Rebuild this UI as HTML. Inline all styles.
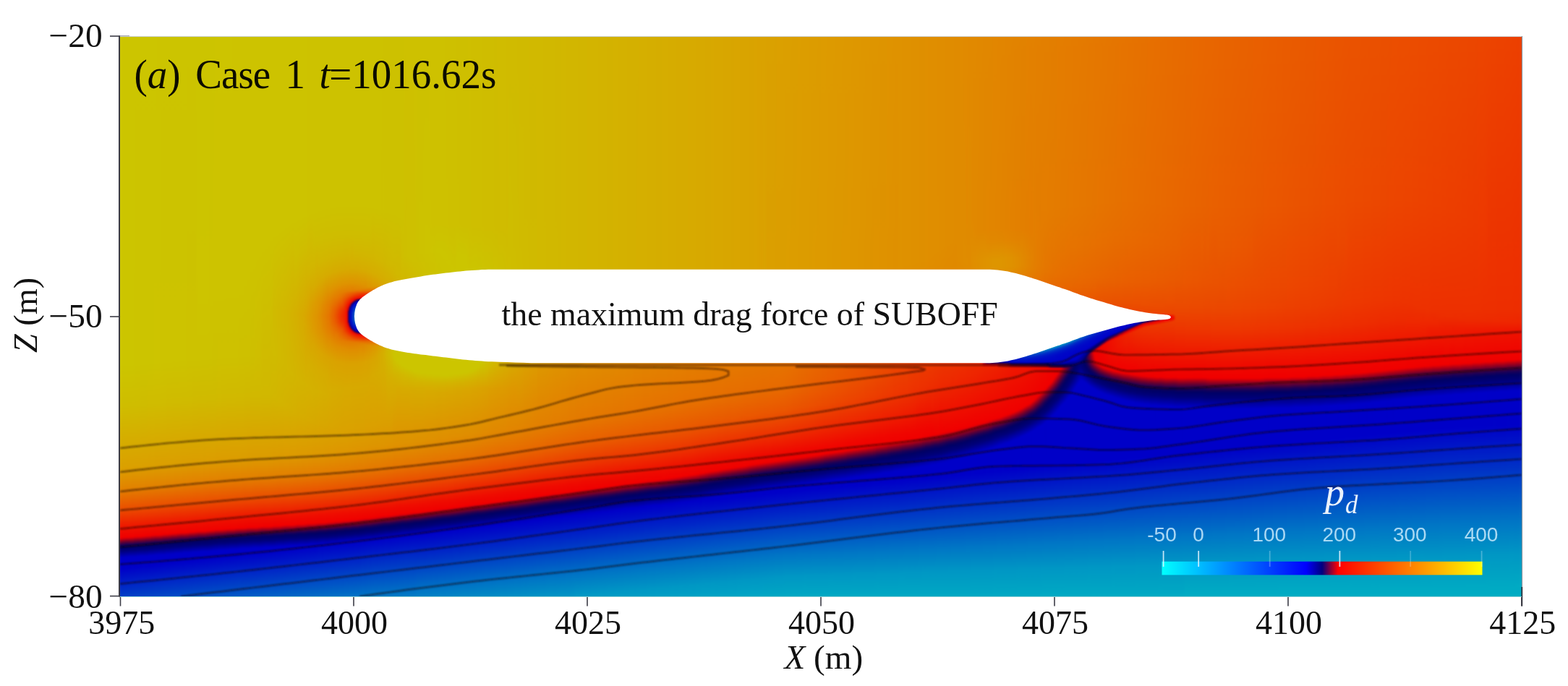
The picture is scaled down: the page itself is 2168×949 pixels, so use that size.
<!DOCTYPE html>
<html lang="en"><head><meta charset="utf-8"><title>Figure (a) Case 1 t=1016.62s</title>
<style>
html,body{margin:0;padding:0;background:#fff}
body{width:2168px;height:949px;position:relative;overflow:hidden;font-family:"Liberation Serif",serif}
#f{position:absolute;left:161px;top:46px;width:1948px;height:784px;display:flex;overflow:hidden;filter:blur(1.1px)}
#f i{display:block;height:100%;flex:none;width:4px}
#f i.a{width:2px}#f i.b{width:1px}
#o{position:absolute;left:0;top:0}
text{font-family:"Liberation Serif",serif}
.s{font-family:"Liberation Sans",sans-serif}
</style></head><body>
<div id="f"><i style="background:linear-gradient(#ccc500,#ccc500 459.5px,#cfbd00 516.5px,#daa000 600.5px,#e28300 629.5px,#eb4f00 658.5px,#ef0e00 687.5px,#f00100 697.5px,#ed0001 698.5px,#790029 703.5px,#29004f 707.5px,#180058 708.5px,#000065 711.5px,#00007b 716.5px,#0000c6 725.5px,#0000c8 726.5px,#0001c8 741.5px,#0045c6)"></i><i style="background:linear-gradient(#ccc500,#ccc500 458.5px,#cfbd00 515.5px,#dba000 600.5px,#e28300 629.5px,#ea5000 657.5px,#ef0f00 686.5px,#f00100 697.5px,#ea0002 698.5px,#78002a 703.5px,#290050 707.5px,#180058 708.5px,#060061 710.5px,#006 711.5px,#00007d 716.5px,#0000c8 725.5px,#0001c8 741.5px,#0045c6)"></i><i style="background:linear-gradient(#ccc500,#ccc500 458.5px,#cfbd00 515.5px,#dba000 600.5px,#e28400 628.5px,#eb4f00 657.5px,#ef0e00 686.5px,#f00000 697.5px,#de0006 698.5px,#6d002d 703.5px,#220053 707.5px,#150059 708.5px,#040062 710.5px,#006 711.5px,#00007d 716.5px,#0000c8 725.5px,#0000c8 740.5px,#0046c6)"></i><i style="background:linear-gradient(#ccc500,#ccc500 458.5px,#cfbd00 515.5px,#dba000 599.5px,#e28300 628.5px,#eb4f00 657.5px,#ef0e00 686.5px,#f00100 696.5px,#ed0001 697.5px,#640032 703.5px,#190057 707.5px,#000065 710.5px,#000079 715.5px,#0000c4 724.5px,#0000c8 725.5px,#0001c8 740.5px,#0047c6)"></i><i style="background:linear-gradient(#ccc500,#ccc500 458.5px,#cfbd00 514.5px,#dba000 599.5px,#e28300 628.5px,#eb4e00 657.5px,#ef0e00 686.5px,#f00100 696.5px,#eb0002 697.5px,#780029 702.5px,#290050 706.5px,#180058 707.5px,#000065 710.5px,#00007c 715.5px,#0000c8 724.5px,#0000c8 739.5px,#0048c6)"></i><i style="background:linear-gradient(#ccc500,#ccc500 457.5px,#cfbd00 514.5px,#dba000 599.5px,#e28300 627.5px,#ea4f00 656.5px,#ef0f00 685.5px,#f00100 696.5px,#e70003 697.5px,#76002a 702.5px,#280050 706.5px,#180058 707.5px,#060061 709.5px,#006 710.5px,#00007d 715.5px,#0000c8 724.5px,#0001c8 739.5px,#0048c6)"></i><i style="background:linear-gradient(#ccc500,#ccc400 457.5px,#cfbd00 514.5px,#dba000 598.5px,#e28300 627.5px,#eb4f00 656.5px,#ef0e00 685.5px,#f00100 695.5px,#ef0000 696.5px,#6a002f 702.5px,#1f0055 706.5px,#030063 709.5px,#007 714.5px,#0000c8 724.5px,#0000c8 738.5px,#0049c6)"></i><i style="background:linear-gradient(#ccc500,#ccc400 456.5px,#cfbd00 513.5px,#dba000 598.5px,#e28300 627.5px,#eb4e00 656.5px,#ef0e00 685.5px,#f00100 695.5px,#eb0002 696.5px,#780029 701.5px,#29004f 705.5px,#180058 706.5px,#000065 709.5px,#00007a 714.5px,#0000c5 723.5px,#0000c8 724.5px,#0001c8 738.5px,#004ac6)"></i><i style="background:linear-gradient(#ccc500,#ccc400 456.5px,#cfbc00 513.5px,#dba000 598.5px,#e28200 627.5px,#ea4f00 655.5px,#ef0f00 684.5px,#f00100 695.5px,#e90002 696.5px,#77002a 701.5px,#280050 705.5px,#180058 706.5px,#000065 709.5px,#00007c 714.5px,#0000c8 723.5px,#0000c8 737.5px,#004ac6)"></i><i style="background:linear-gradient(#ccc500,#ccc400 456.5px,#cfbc00 513.5px,#dba000 597.5px,#e28300 626.5px,#eb4f00 655.5px,#ef0e00 684.5px,#f00000 695.5px,#df0006 696.5px,#70002d 701.5px,#240052 705.5px,#160059 706.5px,#050062 708.5px,#006 709.5px,#00007d 714.5px,#0000c8 723.5px,#0001c8 737.5px,#004bc6)"></i><i style="background:linear-gradient(#ccc500,#ccc400 456.5px,#cfbc00 512.5px,#dba000 597.5px,#e28200 626.5px,#eb4e00 655.5px,#ef0d00 684.5px,#f00100 694.5px,#eb0002 695.5px,#650032 701.5px,#1a0057 705.5px,#010064 708.5px,#000078 713.5px,#0000c8 723.5px,#0001c8 737.5px,#004cc6)"></i><i style="background:linear-gradient(#ccc500,#ccc400 455.5px,#d0bc00 512.5px,#db9f00 597.5px,#e28300 625.5px,#eb4f00 654.5px,#ef0f00 683.5px,#f00100 694.5px,#e70003 695.5px,#76002a 700.5px,#280050 704.5px,#180058 705.5px,#000065 708.5px,#00007b 713.5px,#0000c6 722.5px,#0000c8 723.5px,#0000c8 736.5px,#004dc6)"></i><i style="background:linear-gradient(#ccc500,#ccc400 455.5px,#d0bc00 512.5px,#dba000 596.5px,#e28300 625.5px,#eb4e00 654.5px,#ef0e00 683.5px,#f00100 693.5px,#ef0000 694.5px,#6c002e 700.5px,#210053 704.5px,#150059 705.5px,#040062 707.5px,#006 708.5px,#00007d 713.5px,#0000c8 722.5px,#0001c8 736.5px,#004dc6)"></i><i style="background:linear-gradient(#ccc500,#cdc400 454.5px,#d0bc00 511.5px,#db9f00 596.5px,#e28200 625.5px,#eb4e00 654.5px,#ef0d00 683.5px,#f00100 693.5px,#ea0002 694.5px,#78002a 699.5px,#2a004f 703.5px,#190058 704.5px,#000065 707.5px,#000079 712.5px,#0000c3 721.5px,#0000c8 722.5px,#0000c8 735.5px,#004ec6)"></i><i style="background:linear-gradient(#ccc400,#cdc400 454.5px,#d0bc00 511.5px,#db9f00 596.5px,#e28200 625.5px,#ea4f00 653.5px,#ef0f00 682.5px,#f00100 693.5px,#e80003 694.5px,#77002a 699.5px,#280050 703.5px,#180058 704.5px,#000065 707.5px,#00007c 712.5px,#0000c7 721.5px,#0001c8 735.5px,#004fc6)"></i><i style="background:linear-gradient(#ccc400,#cdc300 454.5px,#d0bc00 511.5px,#db9f00 595.5px,#e28200 624.5px,#eb4e00 653.5px,#ef0e00 682.5px,#f00000 693.5px,#e10005 694.5px,#72002c 699.5px,#260051 703.5px,#170059 704.5px,#050061 706.5px,#006 707.5px,#00007c 712.5px,#0000c8 721.5px,#0000c8 734.5px,#004fc6)"></i><i style="background:linear-gradient(#ccc400,#cdc300 453.5px,#d0bc00 510.5px,#db9f00 595.5px,#e28200 624.5px,#eb4e00 653.5px,#ef0d00 682.5px,#f00100 692.5px,#eb0002 693.5px,#660031 699.5px,#1c0056 703.5px,#020063 706.5px,#007 711.5px,#0000c8 721.5px,#0001c8 734.5px,#0050c6)"></i><i style="background:linear-gradient(#ccc400,#cdc300 453.5px,#d0bb00 510.5px,#db9f00 595.5px,#e28200 623.5px,#eb4f00 652.5px,#ef0f00 681.5px,#f00100 692.5px,#e70003 693.5px,#76002a 698.5px,#280050 702.5px,#180058 703.5px,#000065 706.5px,#00007b 711.5px,#0000c5 720.5px,#0000c8 721.5px,#0000c8 733.5px,#0051c6)"></i><i style="background:linear-gradient(#ccc400,#cdc300 453.5px,#d0bb00 510.5px,#db9f00 594.5px,#e28200 623.5px,#eb4e00 652.5px,#ef0e00 681.5px,#f00100 691.5px,#ef0000 692.5px,#dd0007 693.5px,#6e002d 698.5px,#240052 702.5px,#160059 703.5px,#050062 705.5px,#006 706.5px,#00007c 711.5px,#0000c7 720.5px,#0001c8 733.5px,#0051c6)"></i><i style="background:linear-gradient(#ccc400,#cdc300 452.5px,#d0bb00 509.5px,#db9f00 594.5px,#e38200 623.5px,#ea4f00 651.5px,#ef0f00 680.5px,#f00100 691.5px,#e90003 692.5px,#780029 697.5px,#1a0057 702.5px,#010064 705.5px,#000078 710.5px,#0000c8 720.5px,#0000c8 732.5px,#0052c6)"></i><i style="background:linear-gradient(#ccc400,#cdc300 452.5px,#d0bb00 509.5px,#db9f00 593.5px,#e28200 622.5px,#eb4e00 651.5px,#ef0e00 680.5px,#f00100 691.5px,#e50004 692.5px,#74002b 697.5px,#270050 701.5px,#180058 702.5px,#000065 705.5px,#00007b 710.5px,#0000c5 719.5px,#0000c8 720.5px,#0001c8 732.5px,#0053c6)"></i><i style="background:linear-gradient(#ccc400,#cdc300 452.5px,#d0bb00 509.5px,#db9f00 593.5px,#e28200 622.5px,#eb4e00 651.5px,#ef0d00 680.5px,#f00100 690.5px,#ee0001 691.5px,#6b002f 697.5px,#210054 701.5px,#15005a 702.5px,#040062 704.5px,#006 705.5px,#00007c 710.5px,#0000c7 719.5px,#0000c8 731.5px,#0053c6)"></i><i style="background:linear-gradient(#ccc400,#cdc300 451.5px,#d0bb00 508.5px,#db9e00 593.5px,#e38200 622.5px,#eb4d00 651.5px,#ef0f00 679.5px,#f00100 690.5px,#e70003 691.5px,#76002a 696.5px,#29004f 700.5px,#190058 701.5px,#000065 704.5px,#000078 709.5px,#0000c8 719.5px,#0001c8 731.5px,#0054c6)"></i><i style="background:linear-gradient(#ccc400,#cdc300 451.5px,#d0bb00 508.5px,#db9e00 593.5px,#e28200 621.5px,#eb4f00 650.5px,#ef0f00 679.5px,#f00100 690.5px,#e60004 691.5px,#75002b 696.5px,#280050 700.5px,#180058 701.5px,#000065 704.5px,#00007b 709.5px,#0000c6 718.5px,#0000c8 719.5px,#0001c8 731.5px,#0055c6)"></i><i style="background:linear-gradient(#ccc400,#cdc200 451.5px,#d0bb00 508.5px,#db9e00 592.5px,#e38200 621.5px,#eb4e00 650.5px,#ef0e00 679.5px,#f00000 690.5px,#df0006 691.5px,#70002c 696.5px,#250051 700.5px,#170059 701.5px,#050061 703.5px,#006 704.5px,#00007c 709.5px,#0000c7 718.5px,#0001c8 730.5px,#0056c6)"></i><i style="background:linear-gradient(#ccc400,#cdc200 450.5px,#d0bb00 507.5px,#db9e00 592.5px,#e38100 621.5px,#eb4f00 649.5px,#ef0f00 678.5px,#f00100 689.5px,#e90003 690.5px,#790029 695.5px,#1b0056 700.5px,#020063 703.5px,#007 708.5px,#0000c8 718.5px,#0001c8 730.5px,#0056c6)"></i><i style="background:linear-gradient(#ccc400,#cdc200 450.5px,#d0ba00 507.5px,#db9e00 591.5px,#e38200 620.5px,#eb4e00 649.5px,#ef0e00 678.5px,#f00100 689.5px,#e40004 690.5px,#74002b 695.5px,#270050 699.5px,#180058 700.5px,#000065 703.5px,#00007a 708.5px,#0000c4 717.5px,#0000c8 718.5px,#0000c8 729.5px,#0057c6)"></i><i style="background:linear-gradient(#ccc400,#cdc200 450.5px,#d0ba00 507.5px,#db9e00 591.5px,#e38100 620.5px,#eb4d00 649.5px,#ef0d00 678.5px,#f00100 688.5px,#ee0001 689.5px,#6d002e 695.5px,#230052 699.5px,#160059 700.5px,#050062 702.5px,#006 703.5px,#00007c 708.5px,#0000c6 717.5px,#0000c8 718.5px,#0001c8 729.5px,#0058c6)"></i><i style="background:linear-gradient(#ccc400,#cdc400 365.5px,#cdc200 450.5px,#d0ba00 506.5px,#db9e00 591.5px,#e38100 620.5px,#eb4f00 648.5px,#ef0f00 677.5px,#f00100 688.5px,#e60003 689.5px,#77002a 694.5px,#2a004f 698.5px,#190057 699.5px,#010064 702.5px,#007 707.5px,#0000c8 717.5px,#0000c8 728.5px,#0058c6)"></i><i style="background:linear-gradient(#ccc400,#cdc400 364.5px,#cdc200 449.5px,#d0ba00 506.5px,#dc9e00 591.5px,#e38100 620.5px,#eb4f00 648.5px,#ef0f00 677.5px,#f00100 688.5px,#e40004 689.5px,#74002b 694.5px,#270050 698.5px,#180058 699.5px,#000065 702.5px,#00007b 707.5px,#0000c4 716.5px,#0000c8 717.5px,#0001c8 728.5px,#0059c6)"></i><i style="background:linear-gradient(#ccc400,#cdc400 363.5px,#cdc200 449.5px,#d0ba00 506.5px,#db9e00 590.5px,#e38100 619.5px,#eb4e00 648.5px,#ef0e00 677.5px,#f00000 688.5px,#e20005 689.5px,#73002b 694.5px,#270051 698.5px,#170058 699.5px,#000065 702.5px,#00007b 707.5px,#0000c6 716.5px,#0000c8 717.5px,#0000c8 727.5px,#005ac6)"></i><i style="background:linear-gradient(#ccc400,#cdc400 362.5px,#cdc200 449.5px,#d0ba00 505.5px,#dc9e00 590.5px,#e38100 619.5px,#eb4d00 648.5px,#ef0d00 677.5px,#f00100 687.5px,#ec0002 688.5px,#69002f 694.5px,#200054 698.5px,#040062 701.5px,#006 702.5px,#00007c 707.5px,#0000c6 716.5px,#0000c8 717.5px,#0001c8 727.5px,#005ac6)"></i><i style="background:linear-gradient(#ccc400,#cdc300 361.5px,#cdc200 448.5px,#d0ba00 505.5px,#dc9e00 589.5px,#e38100 618.5px,#eb4e00 647.5px,#ef0e00 676.5px,#f00100 687.5px,#e40004 688.5px,#75002b 693.5px,#290050 697.5px,#180058 698.5px,#000065 701.5px,#000078 706.5px,#0000c8 716.5px,#0000c8 726.5px,#005bc6)"></i><i style="background:linear-gradient(#ccc400,#cdc300 360.5px,#cdc100 448.5px,#d0ba00 505.5px,#dc9e00 589.5px,#e38100 618.5px,#eb4d00 647.5px,#ef0e00 676.5px,#f00100 686.5px,#ef0000 687.5px,#dc0007 688.5px,#6f002d 693.5px,#250052 697.5px,#170059 698.5px,#050061 700.5px,#006 701.5px,#00007b 706.5px,#0000c5 715.5px,#0000c8 716.5px,#0001c8 726.5px,#005cc6)"></i><i style="background:linear-gradient(#cdc400,#cdc300 359.5px,#cdc100 448.5px,#d0ba00 504.5px,#dc9d00 589.5px,#e38100 618.5px,#eb4f00 646.5px,#ef0f00 675.5px,#f00100 686.5px,#e60003 687.5px,#78002a 692.5px,#1b0057 697.5px,#010063 700.5px,#007 705.5px,#0000c7 715.5px,#0000c8 716.5px,#0000c8 725.5px,#005cc6)"></i><i style="background:linear-gradient(#cdc400,#cdc300 358.5px,#cec100 448.5px,#d1ba00 504.5px,#dc9d00 589.5px,#e38000 618.5px,#eb4e00 646.5px,#ef0e00 675.5px,#f00100 686.5px,#e30005 687.5px,#73002b 692.5px,#270050 696.5px,#180058 697.5px,#000065 700.5px,#00007a 705.5px,#0000c3 714.5px,#0000c8 715.5px,#0001c8 725.5px,#005dc6)"></i><i style="background:linear-gradient(#cdc400,#cdc300 358.5px,#cec100 447.5px,#d1b900 504.5px,#dc9d00 588.5px,#e38100 617.5px,#eb4d00 646.5px,#ef0e00 675.5px,#f00000 686.5px,#e10005 687.5px,#72002b 692.5px,#270051 696.5px,#170058 697.5px,#000065 700.5px,#00007b 705.5px,#0000c5 714.5px,#0000c8 715.5px,#0001c8 725.5px,#005ec6)"></i><i style="background:linear-gradient(#cdc400,#cdc300 357.5px,#cec100 447.5px,#d1b900 504.5px,#dc9d00 588.5px,#e38000 617.5px,#eb4d00 646.5px,#ef0d00 675.5px,#f00100 685.5px,#ed0001 686.5px,#6c002e 692.5px,#220053 696.5px,#160059 697.5px,#050062 699.5px,#006 700.5px,#00007b 705.5px,#0000c5 714.5px,#0000c8 715.5px,#0001c8 724.5px,#005ec6)"></i><i style="background:linear-gradient(#cdc400,#cdc300 356.5px,#cec100 447.5px,#d1b900 503.5px,#dc9d00 588.5px,#e38000 617.5px,#eb4e00 645.5px,#ef0e00 674.5px,#f00100 685.5px,#e30004 686.5px,#75002b 691.5px,#2a004f 695.5px,#190057 696.5px,#010064 699.5px,#007 704.5px,#0000c7 714.5px,#0000c8 715.5px,#0001c8 724.5px,#005fc6)"></i><i style="background:linear-gradient(#cdc400,#cdc300 356.5px,#cec100 446.5px,#d1b900 503.5px,#dc9d00 587.5px,#e38100 616.5px,#eb4e00 645.5px,#ef0e00 674.5px,#f00000 685.5px,#e20005 686.5px,#72002b 691.5px,#270051 695.5px,#170058 696.5px,#000065 699.5px,#00007a 704.5px,#0000c3 713.5px,#0000c8 714.5px,#0000c8 723.5px,#0060c6)"></i><i style="background:linear-gradient(#cdc300,#cdc300 355.5px,#cec100 446.5px,#d1b900 503.5px,#dc9d00 587.5px,#e38000 616.5px,#eb4d00 645.5px,#ef0e00 674.5px,#f00100 684.5px,#f00000 685.5px,#dd0007 686.5px,#70002c 691.5px,#250051 695.5px,#170059 696.5px,#000065 699.5px,#00007b 704.5px,#0000c5 713.5px,#0000c8 714.5px,#0001c8 723.5px,#0060c6)"></i><i style="background:linear-gradient(#cdc300,#cdc300 354.5px,#cec100 446.5px,#d1b900 502.5px,#dc9d00 587.5px,#e38000 616.5px,#eb4e00 644.5px,#ef0f00 673.5px,#f00100 684.5px,#e60003 685.5px,#790029 690.5px,#1d0056 695.5px,#030063 698.5px,#000067 699.5px,#00007c 704.5px,#0000c5 713.5px,#0000c8 714.5px,#0000c8 722.5px,#0061c6)"></i><i style="background:linear-gradient(#cdc300,#cdc300 354.5px,#cec000 446.5px,#d1b900 502.5px,#dc9d00 587.5px,#e38000 616.5px,#eb4e00 644.5px,#ef0e00 673.5px,#f00000 684.5px,#e10005 685.5px,#72002b 690.5px,#270051 694.5px,#180058 695.5px,#000065 698.5px,#000079 703.5px,#0000c8 713.5px,#0001c8 722.5px,#0062c6)"></i><i style="background:linear-gradient(#cdc300,#cdc300 354.5px,#cec000 445.5px,#d1b900 502.5px,#dc9d00 586.5px,#e38000 615.5px,#eb4d00 644.5px,#ef0e00 673.5px,#f00000 684.5px,#e00005 685.5px,#72002c 690.5px,#260051 694.5px,#170058 695.5px,#000065 698.5px,#00007b 703.5px,#0000c4 712.5px,#0000c8 713.5px,#0000c8 721.5px,#0026c7 746.5px,#0062c6)"></i><i style="background:linear-gradient(#cdc300,#cdc300 343.5px,#cec000 445.5px,#d1b800 502.5px,#dc9d00 586.5px,#e38000 615.5px,#eb4c00 644.5px,#ef0d00 673.5px,#f00100 683.5px,#ee0001 684.5px,#6d002e 690.5px,#240052 694.5px,#160059 695.5px,#050061 697.5px,#006 698.5px,#00007b 703.5px,#0000c4 712.5px,#0000c8 713.5px,#0001c8 721.5px,#0025c7 745.5px,#0063c6)"></i><i style="background:linear-gradient(#cdc300,#cdc300 333.5px,#cec000 445.5px,#d1b800 502.5px,#dc9c00 586.5px,#e38000 615.5px,#eb4e00 643.5px,#ef0e00 672.5px,#f00000 683.5px,#e30005 684.5px,#76002a 689.5px,#2b004e 693.5px,#1b0057 694.5px,#010063 697.5px,#00007d 703.5px,#0000c5 712.5px,#0000c8 713.5px,#0000c8 720.5px,#0025c7 745.5px,#0064c6)"></i><i style="background:linear-gradient(#cdc300,#cdc300 324.5px,#cebf00 445.5px,#d1b800 501.5px,#dc9c00 586.5px,#e38000 615.5px,#eb4e00 643.5px,#ef0e00 672.5px,#f00000 683.5px,#e00006 684.5px,#71002c 689.5px,#260051 693.5px,#170058 694.5px,#000065 697.5px,#000079 702.5px,#0000c8 712.5px,#0001c8 720.5px,#0025c7 744.5px,#0064c6)"></i><i style="background:linear-gradient(#cdc300,#cdc300 316.5px,#cebf00 445.5px,#d1b800 501.5px,#dc9c00 585.5px,#e38000 614.5px,#eb4d00 643.5px,#ef0e00 672.5px,#f00000 683.5px,#df0006 684.5px,#71002c 689.5px,#260051 693.5px,#170058 694.5px,#000065 697.5px,#00007b 702.5px,#0000c4 711.5px,#0000c8 712.5px,#0000c8 719.5px,#0025c7 744.5px,#0065c6)"></i><i style="background:linear-gradient(#cdc300,#cdc300 309.5px,#cfbe00 445.5px,#d1b800 501.5px,#dc9c00 585.5px,#e38000 614.5px,#eb4c00 643.5px,#ef0e00 672.5px,#f00000 683.5px,#dd0007 684.5px,#70002c 689.5px,#250051 693.5px,#170059 694.5px,#000065 697.5px,#00007b 702.5px,#0000c4 711.5px,#0000c8 712.5px,#0001c8 719.5px,#0024c7 743.5px,#0066c6)"></i><i style="background:linear-gradient(#cdc300,#cdc300 303.5px,#cfbe00 444.5px,#d1b800 501.5px,#dc9c00 585.5px,#e37f00 614.5px,#eb4e00 642.5px,#ef0e00 671.5px,#f00100 682.5px,#e70003 683.5px,#670030 689.5px,#1f0054 693.5px,#040062 696.5px,#006 697.5px,#00007b 702.5px,#0000c4 711.5px,#0000c8 712.5px,#0001c8 719.5px,#0025c7 743.5px,#0066c6)"></i><i style="background:linear-gradient(#cdc300,#cdc300 297.5px,#d1b800 500.5px,#dc9c00 585.5px,#e37f00 614.5px,#eb4d00 642.5px,#ef0e00 671.5px,#f00000 682.5px,#df0006 683.5px,#72002c 688.5px,#270050 692.5px,#180058 693.5px,#000065 696.5px,#000078 701.5px,#0000c6 711.5px,#0000c8 712.5px,#0001c8 718.5px,#0026c7 743.5px,#0067c6)"></i><i style="background:linear-gradient(#cdc300,#cdc300 292.5px,#d1b800 500.5px,#dc9c00 585.5px,#e37f00 614.5px,#eb4d00 642.5px,#ef0e00 671.5px,#f00000 682.5px,#de0006 683.5px,#71002c 688.5px,#260051 692.5px,#170058 693.5px,#000065 696.5px,#00007a 701.5px,#0000c3 710.5px,#0000c8 711.5px,#0001c8 718.5px,#0025c7 742.5px,#0068c6)"></i><i style="background:linear-gradient(#cdc300,#cdc300 288.5px,#d1b800 500.5px,#dc9c00 584.5px,#e38000 613.5px,#eb4d00 642.5px,#ef0e00 671.5px,#f00000 682.5px,#de0006 683.5px,#70002c 688.5px,#260051 692.5px,#170059 693.5px,#000065 696.5px,#00007a 701.5px,#0000c4 710.5px,#0000c8 711.5px,#0001c8 717.5px,#0026c7 742.5px,#0068c6)"></i><i style="background:linear-gradient(#cdc300,#cdc300 283.5px,#d1b700 500.5px,#dc9c00 584.5px,#e37f00 613.5px,#eb4e00 641.5px,#ef0f00 670.5px,#f00100 681.5px,#ec0001 682.5px,#6c002e 688.5px,#230052 692.5px,#160059 693.5px,#050061 695.5px,#006 696.5px,#00007a 701.5px,#0000c3 710.5px,#0000c8 711.5px,#0001c8 717.5px,#0025c7 741.5px,#0069c6)"></i><i style="background:linear-gradient(#cdc300,#cdc300 279.5px,#d0ba00 387.5px,#d0bb00 443.5px,#d2b600 503.5px,#dc9b00 584.5px,#e37f00 613.5px,#eb4d00 641.5px,#ef0e00 670.5px,#f00000 681.5px,#e10005 682.5px,#74002b 687.5px,#2b004f 691.5px,#1a0057 692.5px,#010063 695.5px,#00007c 701.5px,#0000c4 710.5px,#0000c8 711.5px,#0000c8 716.5px,#0025c7 741.5px,#006ac6)"></i><i style="background:linear-gradient(#cdc300,#cdc300 276.5px,#d1b900 386.5px,#d0ba00 443.5px,#d2b500 507.5px,#dc9c00 583.5px,#e37f00 612.5px,#eb4d00 641.5px,#ef0e00 670.5px,#f00000 681.5px,#dd0006 682.5px,#70002c 687.5px,#260051 691.5px,#170058 692.5px,#000065 695.5px,#000079 700.5px,#0000c7 710.5px,#0001c8 716.5px,#0024c7 740.5px,#006ac6)"></i><i style="background:linear-gradient(#cdc300,#cdc300 272.5px,#d1b800 385.5px,#d1b900 447.5px,#d3b400 510.5px,#dc9b00 583.5px,#e37f00 612.5px,#eb4c00 641.5px,#ef0d00 670.5px,#f00100 680.5px,#ef0000 681.5px,#6f002d 687.5px,#250052 691.5px,#170059 692.5px,#000065 695.5px,#00007a 700.5px,#0000c3 709.5px,#0000c8 710.5px,#0000c8 715.5px,#0025c7 740.5px,#006bc6)"></i><i style="background:linear-gradient(#cdc300,#cdc300 269.5px,#d2b700 385.5px,#d1b800 455.5px,#d3b300 513.5px,#dc9b00 583.5px,#e37f00 612.5px,#eb4d00 640.5px,#ef0e00 669.5px,#f00100 680.5px,#e50004 681.5px,#7a0029 686.5px,#1f0055 691.5px,#040062 694.5px,#006 695.5px,#00007b 700.5px,#0000c3 709.5px,#0000c8 710.5px,#0001c8 715.5px,#0024c7 739.5px,#006bc6)"></i><i style="background:linear-gradient(#cdc300,#cdc300 266.5px,#d2b600 384.5px,#d1b700 461.5px,#d4b200 516.5px,#dd9b00 583.5px,#e37f00 612.5px,#eb4d00 640.5px,#ef0e00 669.5px,#f00000 680.5px,#dd0006 681.5px,#70002c 686.5px,#270051 690.5px,#180058 691.5px,#000065 694.5px,#007 699.5px,#0000c5 709.5px,#0000c8 710.5px,#0000c8 714.5px,#0023c7 738.5px,#006cc5)"></i><i class=a style="background:linear-gradient(#cdc300,#cdc300 264.5px,#d2b500 384.5px,#d2b700 464.5px,#d4b100 518.5px,#dd9b00 583.5px,#e37e00 612.5px,#eb4d00 640.5px,#ef0e00 669.5px,#f00000 680.5px,#6f002d 686.5px,#250051 690.5px,#170059 691.5px,#000065 694.5px,#00007a 699.5px,#0000c8 709.5px,#0001c8 714.5px,#0024c7 738.5px,#006dc5)"></i><i class=a style="background:linear-gradient(#cdc300,#cdc300 263.5px,#d3b400 387.5px,#d2b600 466.5px,#d4b100 519.5px,#dc9b00 582.5px,#e37e00 612.5px,#eb4d00 640.5px,#ef0e00 669.5px,#f00000 680.5px,#6f002d 686.5px,#250051 690.5px,#170059 691.5px,#000065 694.5px,#00007a 699.5px,#0000c8 709.5px,#0001c8 714.5px,#0024c7 738.5px,#006dc5)"></i><i class=a style="background:linear-gradient(#cdc300,#cdc300 262.5px,#d3b300 387.5px,#d2b600 469.5px,#d4b000 521.5px,#dd9b00 582.5px,#e37f00 611.5px,#eb4c00 640.5px,#ef0e00 669.5px,#f00000 680.5px,#6f002d 686.5px,#250051 690.5px,#170059 691.5px,#000065 694.5px,#00007a 699.5px,#0000c3 708.5px,#0000c8 709.5px,#0000c8 713.5px,#0025c7 738.5px,#006dc5)"></i><i class=a style="background:linear-gradient(#cdc300,#cdc300 260.5px,#d4b200 387.5px,#d2b600 471.5px,#d4b000 522.5px,#dd9b00 582.5px,#e37f00 611.5px,#eb4c00 640.5px,#ef0d00 669.5px,#f00000 680.5px,#6f002d 686.5px,#250051 690.5px,#170059 691.5px,#000065 694.5px,#00007a 699.5px,#0000c3 708.5px,#0000c8 709.5px,#0000c8 713.5px,#0025c7 738.5px,#006ec5)"></i><i class=a style="background:linear-gradient(#cdc300,#cdc300 259.5px,#d4b100 387.5px,#d2b500 473.5px,#d5af00 523.5px,#dd9b00 582.5px,#e37e00 611.5px,#eb4d00 639.5px,#ef0d00 669.5px,#f00100 679.5px,#ed0001 680.5px,#6d002d 686.5px,#240052 690.5px,#170059 691.5px,#000065 694.5px,#00007a 699.5px,#0000c3 708.5px,#0000c8 709.5px,#0001c8 713.5px,#0024c7 737.5px,#006ec5)"></i><i class=a style="background:linear-gradient(#cdc300,#cdc300 258.5px,#cfbe00 308.5px,#d4b000 387.5px,#d2b500 474.5px,#d5af00 524.5px,#dd9b00 582.5px,#e37e00 611.5px,#eb4d00 639.5px,#ef0e00 668.5px,#f00100 679.5px,#e70003 680.5px,#690030 686.5px,#210053 690.5px,#150059 691.5px,#050062 693.5px,#006 694.5px,#00007a 699.5px,#0000c3 708.5px,#0000c8 709.5px,#0001c8 713.5px,#0024c7 737.5px,#006ec5)"></i><i class=a style="background:linear-gradient(#cdc300,#cdc300 257.5px,#cfbe00 306.5px,#d5af00 387.5px,#d3b400 476.5px,#d5ae00 526.5px,#dd9a00 582.5px,#e37e00 611.5px,#eb4c00 639.5px,#ef0e00 668.5px,#f00000 679.5px,#e00005 680.5px,#75002a 685.5px,#1c0056 690.5px,#030063 693.5px,#006 694.5px,#00007b 699.5px,#0000c3 708.5px,#0000c8 709.5px,#0000c8 712.5px,#0024c7 737.5px,#006ec5)"></i><i class=a style="background:linear-gradient(#cdc300,#cdc300 256.5px,#cfbe00 304.5px,#d5ae00 387.5px,#d3b400 478.5px,#d5ad00 527.5px,#dd9a00 582.5px,#e37e00 611.5px,#eb4c00 639.5px,#ef0e00 668.5px,#f00000 679.5px,#71002c 685.5px,#280050 689.5px,#180058 690.5px,#000064 693.5px,#00007d 699.5px,#0000c4 708.5px,#0000c8 709.5px,#0000c8 712.5px,#0025c7 737.5px,#006fc5)"></i><i class=a style="background:linear-gradient(#cdc300,#cdc300 255.5px,#cfbd00 303.5px,#d6ac00 388.5px,#d3b400 480.5px,#d6ad00 528.5px,#dd9a00 582.5px,#e37e00 611.5px,#eb4c00 639.5px,#ef0d00 668.5px,#f00000 679.5px,#6f002d 685.5px,#250051 689.5px,#170058 690.5px,#000065 693.5px,#000078 698.5px,#0000c6 708.5px,#0000c8 709.5px,#0001c8 712.5px,#0025c7 737.5px,#006fc5)"></i><i class=a style="background:linear-gradient(#cdc300,#cdc300 254.5px,#cfbd00 301.5px,#d6ab00 388.5px,#d3b300 481.5px,#d6ac00 529.5px,#dd9a00 581.5px,#e37e00 610.5px,#eb4c00 639.5px,#ef0d00 668.5px,#f00000 679.5px,#6f002d 685.5px,#250052 689.5px,#170059 690.5px,#000065 693.5px,#000079 698.5px,#0000c8 708.5px,#0001c8 712.5px,#0024c7 736.5px,#006fc5)"></i><i class=a style="background:linear-gradient(#cdc300,#cdc300 253.5px,#cfbd00 300.5px,#d7aa00 388.5px,#d3b300 483.5px,#d6ac00 530.5px,#dd9a00 581.5px,#e37e00 610.5px,#eb4b00 639.5px,#ef0d00 668.5px,#f00000 679.5px,#6e002d 685.5px,#250052 689.5px,#170059 690.5px,#000065 693.5px,#00007a 698.5px,#0000c8 708.5px,#0001c8 712.5px,#0024c7 736.5px,#0070c5)"></i><i class=a style="background:linear-gradient(#cdc300,#cdc300 252.5px,#cfbd00 298.5px,#d7a900 389.5px,#d3b300 484.5px,#d6ac00 531.5px,#dd9a00 581.5px,#e37e00 610.5px,#eb4d00 638.5px,#ef0d00 668.5px,#f00100 678.5px,#ee0001 679.5px,#6e002d 685.5px,#250052 689.5px,#170059 690.5px,#000065 693.5px,#00007a 698.5px,#0000c8 708.5px,#0000c8 711.5px,#0025c7 736.5px,#0070c5)"></i><i class=a style="background:linear-gradient(#cdc300,#cdc300 251.5px,#cfbd00 297.5px,#d8a700 390.5px,#d3b200 485.5px,#d6ab00 532.5px,#dd9a00 581.5px,#e37d00 610.5px,#eb4c00 638.5px,#ef0e00 667.5px,#f00100 678.5px,#e90002 679.5px,#6b002f 685.5px,#230052 689.5px,#160059 690.5px,#000065 693.5px,#00007a 698.5px,#0000c8 708.5px,#0000c8 711.5px,#0025c7 736.5px,#0070c5)"></i><i class=a style="background:linear-gradient(#cdc300,#cdc300 250.5px,#cfbd00 296.5px,#d9a400 392.5px,#d4b200 487.5px,#d6ab00 533.5px,#dd9a00 581.5px,#e47d00 610.5px,#eb4c00 638.5px,#ef0e00 667.5px,#f00000 678.5px,#e20005 679.5px,#650032 685.5px,#1e0055 689.5px,#040062 692.5px,#006 693.5px,#00007a 698.5px,#0000c8 708.5px,#0001c8 711.5px,#0025c7 736.5px,#0071c5)"></i><i class=a style="background:linear-gradient(#cdc200,#cdc200 249.5px,#d2b600 327.5px,#daa200 392.5px,#d5af00 454.5px,#d4b200 488.5px,#d7aa00 533.5px,#d90 581.5px,#e47d00 610.5px,#eb4c00 638.5px,#ef0d00 667.5px,#f00000 678.5px,#72002c 684.5px,#2a004f 688.5px,#190057 689.5px,#010063 692.5px,#00007b 698.5px,#0000c3 707.5px,#0000c8 708.5px,#0001c8 711.5px,#0024c7 735.5px,#0071c5)"></i><i class=a style="background:linear-gradient(#cdc200,#cdc200 249.5px,#d2b600 326.5px,#daa300 376.5px,#db9f00 392.5px,#d5ae00 456.5px,#d4b100 489.5px,#d7aa00 534.5px,#d90 581.5px,#e47d00 610.5px,#eb4c00 638.5px,#ef0d00 667.5px,#f00000 678.5px,#6f002d 684.5px,#260051 688.5px,#170058 689.5px,#000065 692.5px,#007 697.5px,#0000c4 707.5px,#0000c8 708.5px,#0000c8 710.5px,#0024c7 735.5px,#0071c5)"></i><i class=a style="background:linear-gradient(#cdc200,#cdc200 248.5px,#d2b600 324.5px,#daa000 376.5px,#dc9d00 392.5px,#db9f00 407.5px,#d5ae00 457.5px,#d4b100 490.5px,#d7aa00 535.5px,#dd9a00 580.5px,#e37e00 609.5px,#eb4b00 638.5px,#ef0d00 667.5px,#f00000 678.5px,#6e002d 684.5px,#250052 688.5px,#170059 689.5px,#000065 692.5px,#000079 697.5px,#0000c7 707.5px,#0000c8 708.5px,#0000c8 710.5px,#0025c7 735.5px,#0072c5)"></i><i class=a style="background:linear-gradient(#cdc200,#cdc200 247.5px,#d2b600 322.5px,#d6ab00 352.5px,#db9e00 375.5px,#dd9b00 392.5px,#dc9d00 408.5px,#d8a700 430.5px,#d5ae00 460.5px,#d4b100 495.5px,#d7a900 536.5px,#d90 580.5px,#e47d00 609.5px,#eb4b00 638.5px,#ef0d00 667.5px,#f00100 677.5px,#ef0000 678.5px,#6e002d 684.5px,#250052 688.5px,#170059 689.5px,#000065 692.5px,#00007a 697.5px,#0000c8 707.5px,#0001c8 710.5px,#0025c7 735.5px,#0072c5)"></i><i class=a style="background:linear-gradient(#cdc200,#cdc200 247.5px,#cfbd00 289.5px,#d2b600 321.5px,#d6ab00 350.5px,#dc9d00 374.5px,#dd9800 392.5px,#dd9b00 408.5px,#d8a600 432.5px,#d5ad00 461.5px,#d4b000 495.5px,#d7a900 537.5px,#d90 580.5px,#e47d00 609.5px,#eb4c00 637.5px,#ef0d00 667.5px,#f00100 677.5px,#ed0001 678.5px,#6d002d 684.5px,#240052 688.5px,#170059 689.5px,#000065 692.5px,#00007a 697.5px,#0000c8 707.5px,#0001c8 710.5px,#0024c7 734.5px,#0072c5)"></i><i class=a style="background:linear-gradient(#cdc200,#cdc200 246.5px,#cfbd00 288.5px,#d2b600 320.5px,#d6ab00 348.5px,#dd9a00 374.5px,#de9600 392.5px,#d90 409.5px,#d8a600 435.5px,#d5ad00 463.5px,#d4b000 495.5px,#d7a800 537.5px,#d90 580.5px,#e47d00 609.5px,#eb4c00 637.5px,#ef0e00 666.5px,#f00100 677.5px,#e80003 678.5px,#6a002f 684.5px,#230053 688.5px,#160059 689.5px,#000065 692.5px,#00007a 697.5px,#0000c8 707.5px,#0000c8 709.5px,#0024c7 734.5px,#0073c5)"></i><i class=a style="background:linear-gradient(#cdc200,#cdc200 244.5px,#cfbd00 287.5px,#d6ab00 345.5px,#dd9a00 371.5px,#de9400 392.5px,#de9600 409.5px,#d8a600 437.5px,#d6ad00 464.5px,#d4b000 495.5px,#d7a800 538.5px,#d90 580.5px,#e47d00 609.5px,#eb4c00 637.5px,#ef0e00 666.5px,#f00000 677.5px,#e10005 678.5px,#650032 684.5px,#1e0055 688.5px,#040062 691.5px,#006 692.5px,#00007a 697.5px,#0000c8 707.5px,#0000c8 709.5px,#0025c7 734.5px,#0073c5)"></i><i class=a style="background:linear-gradient(#cdc200,#cdc200 244.5px,#cfbd00 286.5px,#d2b600 317.5px,#d6ab00 343.5px,#dd9800 370.5px,#df9100 391.5px,#de9400 409.5px,#d9a500 438.5px,#d6ac00 465.5px,#d4b000 495.5px,#d8a800 539.5px,#d90 580.5px,#e47c00 609.5px,#eb4b00 637.5px,#ef0d00 666.5px,#f00000 677.5px,#71002c 683.5px,#2a004f 687.5px,#190057 688.5px,#010063 691.5px,#00007b 697.5px,#0000c8 707.5px,#0025c7 734.5px,#0073c5)"></i><i class=a style="background:linear-gradient(#cdc200,#cdc200 243.5px,#cfbd00 285.5px,#d2b600 316.5px,#d6ab00 341.5px,#de9700 368.5px,#e08d00 391.5px,#de9400 414.5px,#d9a500 440.5px,#d6ac00 466.5px,#d5af00 496.5px,#d8a700 539.5px,#dd9800 580.5px,#e47c00 609.5px,#eb4b00 637.5px,#ef0d00 666.5px,#f00100 676.5px,#f00000 677.5px,#6e002d 683.5px,#260051 687.5px,#170058 688.5px,#000065 691.5px,#007 696.5px,#0000c4 706.5px,#0000c8 707.5px,#0025c7 734.5px,#0074c5)"></i><i class=a style="background:linear-gradient(#cdc200,#cdc200 242.5px,#cfbd00 285.5px,#d2b600 315.5px,#d6ab00 339.5px,#e08f00 377.5px,#e18a00 391.5px,#df9300 416.5px,#d9a500 442.5px,#d6ac00 467.5px,#d5af00 497.5px,#d8a700 540.5px,#d90 579.5px,#e47d00 608.5px,#eb4b00 637.5px,#ef0d00 666.5px,#f00100 676.5px,#ef0000 677.5px,#6e002d 683.5px,#250052 687.5px,#170059 688.5px,#000065 691.5px,#000078 696.5px,#0000c6 706.5px,#0000c8 707.5px,#0026c7 734.5px,#0074c5)"></i><i class=a style="background:linear-gradient(#cdc200,#cdc200 242.5px,#cfbd00 284.5px,#d2b600 314.5px,#d6ab00 338.5px,#e08c00 376.5px,#e28600 391.5px,#e18a00 406.5px,#d9a500 444.5px,#d6ac00 468.5px,#d5ae00 497.5px,#d8a700 540.5px,#d90 579.5px,#e47d00 608.5px,#eb4a00 637.5px,#ef0d00 666.5px,#f00100 676.5px,#ee0001 677.5px,#6d002d 683.5px,#240052 687.5px,#170059 688.5px,#000065 691.5px,#000079 696.5px,#0000c8 706.5px,#0000c8 708.5px,#0024c7 733.5px,#0074c5)"></i><i class=a style="background:linear-gradient(#cdc200,#cdc200 241.5px,#cfbd00 283.5px,#d2b600 313.5px,#d6ab00 337.5px,#e18800 376.5px,#e28200 391.5px,#e18700 407.5px,#d9a400 445.5px,#d6ab00 469.5px,#d5ae00 498.5px,#d8a600 541.5px,#dd9800 579.5px,#e47c00 608.5px,#eb4c00 636.5px,#ef0d00 666.5px,#f00100 676.5px,#ed0001 677.5px,#6d002e 683.5px,#240052 687.5px,#160059 688.5px,#000065 691.5px,#00007a 696.5px,#0000c8 706.5px,#0025c7 733.5px,#0074c5)"></i><i class=a style="background:linear-gradient(#cdc200,#cdc200 241.5px,#cfbd00 283.5px,#d2b600 312.5px,#d6ab00 335.5px,#e28600 375.5px,#e37f00 391.5px,#e28400 407.5px,#d9a400 446.5px,#d6ab00 470.5px,#d5ae00 499.5px,#d8a600 541.5px,#dd9800 579.5px,#e47c00 608.5px,#eb4b00 636.5px,#ef0e00 665.5px,#f00100 676.5px,#e70003 677.5px,#6a002f 683.5px,#230053 687.5px,#160059 688.5px,#000065 691.5px,#00007a 696.5px,#0000c8 706.5px,#0025c7 733.5px,#0075c5)"></i><i class=a style="background:linear-gradient(#cdc200,#cdc200 240.5px,#cfbd00 282.5px,#d2b600 311.5px,#d6ab00 334.5px,#e28200 375.5px,#e47b00 391.5px,#e38000 407.5px,#d9a300 447.5px,#d6ab00 471.5px,#d5ad00 500.5px,#d8a600 542.5px,#dd9800 579.5px,#e47c00 608.5px,#eb4b00 636.5px,#ef0d00 665.5px,#f00000 676.5px,#e00005 677.5px,#640032 683.5px,#1e0055 687.5px,#040062 690.5px,#006 691.5px,#00007a 696.5px,#0000c8 706.5px,#0025c7 733.5px,#0075c5)"></i><i class=a style="background:linear-gradient(#cdc200,#cdc200 240.5px,#cfbd00 282.5px,#d2b600 310.5px,#d6ab00 333.5px,#e38000 374.5px,#e57700 391.5px,#e47d00 407.5px,#d9a400 449.5px,#d6aa00 471.5px,#d6ad00 500.5px,#d8a500 542.5px,#dd9800 578.5px,#e47b00 608.5px,#eb4b00 636.5px,#ef0d00 665.5px,#f00000 676.5px,#71002c 682.5px,#29004f 686.5px,#190057 687.5px,#010063 690.5px,#00007b 696.5px,#0000c8 706.5px,#0024c7 732.5px,#0075c5)"></i><i class=a style="background:linear-gradient(#cdc200,#cdc200 240.5px,#cfbd00 281.5px,#d2b600 309.5px,#d6ab00 332.5px,#df9300 356.5px,#e37e00 373.5px,#e67100 391.5px,#e47c00 409.5px,#e08f00 426.5px,#d9a300 450.5px,#d6ad00 493.5px,#d9a500 543.5px,#dd9800 578.5px,#e47c00 607.5px,#eb4a00 636.5px,#ef0d00 665.5px,#f00100 675.5px,#ee0001 676.5px,#6e002d 682.5px,#260051 686.5px,#170058 687.5px,#000065 690.5px,#007 695.5px,#0000c4 705.5px,#0000c8 706.5px,#0025c7 732.5px,#0076c5)"></i><i class=a style="background:linear-gradient(#cdc200,#cdc200 239.5px,#cfbd00 281.5px,#d2b500 309.5px,#d6ab00 331.5px,#de9300 354.5px,#e76f00 382.5px,#e76a00 391.5px,#e76e00 400.5px,#e08f00 428.5px,#d9a300 451.5px,#d6ac00 493.5px,#d9a500 543.5px,#de9800 578.5px,#e47c00 607.5px,#eb4c00 635.5px,#ef0d00 665.5px,#f00100 675.5px,#ed0001 676.5px,#6d002e 682.5px,#240052 686.5px,#170059 687.5px,#000065 690.5px,#000078 695.5px,#0000c6 705.5px,#0000c8 706.5px,#0025c7 732.5px,#0076c5)"></i><i class=a style="background:linear-gradient(#cdc200,#cdc200 239.5px,#cfbd00 280.5px,#d2b600 308.5px,#d6ab00 330.5px,#df9300 353.5px,#e76a00 381.5px,#e86400 391.5px,#e86800 400.5px,#e08e00 429.5px,#d9a300 452.5px,#d6ac00 493.5px,#d9a500 543.5px,#de9800 578.5px,#e47c00 607.5px,#eb4b00 635.5px,#ef0e00 664.5px,#f00100 675.5px,#ea0002 676.5px,#6b002e 682.5px,#240052 686.5px,#160059 687.5px,#000065 690.5px,#000079 695.5px,#0000c8 705.5px,#0025c7 732.5px,#0076c5)"></i><i class=a style="background:linear-gradient(#cdc200,#cdc200 239.5px,#cfbd00 280.5px,#d2b600 307.5px,#d6aa00 330.5px,#df9300 352.5px,#e86400 381.5px,#e95d00 391.5px,#e86300 401.5px,#e08e00 430.5px,#d9a300 453.5px,#d6ac00 493.5px,#d9a400 544.5px,#de9700 578.5px,#e47b00 607.5px,#eb4b00 635.5px,#ef0e00 664.5px,#f00000 675.5px,#e30004 676.5px,#670031 682.5px,#210054 686.5px,#050062 689.5px,#006 690.5px,#00007a 695.5px,#0000c8 705.5px,#0026c7 732.5px,#0077c5)"></i><i class=a style="background:linear-gradient(#cdc200,#cdc200 238.5px,#cfbd00 279.5px,#d2b600 306.5px,#d6ab00 329.5px,#de9400 350.5px,#e47900 367.5px,#e95900 384.5px,#ea5400 391.5px,#e95900 398.5px,#e57700 415.5px,#e08d00 431.5px,#daa200 453.5px,#d6ac00 492.5px,#daa300 549.5px,#de9700 578.5px,#e47b00 607.5px,#eb4b00 635.5px,#ef0d00 664.5px,#f00000 675.5px,#73002b 681.5px,#1b0056 686.5px,#030063 689.5px,#006 690.5px,#00007a 695.5px,#0000c8 705.5px,#0024c7 731.5px,#0077c5)"></i><i class=a style="background:linear-gradient(#cdc200,#cdc200 238.5px,#cfbd00 279.5px,#d2b600 306.5px,#d6ab00 328.5px,#de9400 349.5px,#e57800 366.5px,#ea5200 383.5px,#eb4a00 391.5px,#ea5100 399.5px,#e57500 416.5px,#e08d00 432.5px,#daa200 454.5px,#d6ab00 492.5px,#d9a400 544.5px,#de9700 577.5px,#e47c00 606.5px,#eb4a00 635.5px,#ef0d00 664.5px,#f00100 674.5px,#ee0001 675.5px,#6e002d 681.5px,#270051 685.5px,#180058 686.5px,#000064 689.5px,#00007c 695.5px,#0000c8 705.5px,#0025c7 731.5px,#0077c5)"></i><i class=a style="background:linear-gradient(#cdc200,#cdc200 238.5px,#cfbd00 278.5px,#d2b500 306.5px,#d6aa00 328.5px,#df9300 349.5px,#e57700 365.5px,#eb4900 383.5px,#ec4100 391.5px,#eb4900 399.5px,#e67200 416.5px,#e08d00 433.5px,#daa200 455.5px,#d6ab00 492.5px,#d9a400 544.5px,#de9700 577.5px,#e47b00 606.5px,#eb4a00 635.5px,#ef0d00 664.5px,#f00100 674.5px,#ed0001 675.5px,#6d002e 681.5px,#250052 685.5px,#170059 686.5px,#000065 689.5px,#000078 694.5px,#0000c5 704.5px,#0000c8 705.5px,#0025c7 731.5px,#0077c5)"></i><i class=a style="background:linear-gradient(#cdc200,#cdc200 238.5px,#cfbd00 278.5px,#d2b600 305.5px,#d6ab00 327.5px,#df9300 348.5px,#e67300 365.5px,#ec4000 383.5px,#ed3a00 387.5px,#ed3800 391.5px,#ed3900 395.5px,#ec4000 399.5px,#e95f00 410.5px,#e47d00 424.5px,#e08e00 434.5px,#daa200 455.5px,#d6ab00 492.5px,#daa200 548.5px,#de9700 577.5px,#e47b00 606.5px,#eb4b00 634.5px,#ef0e00 663.5px,#f00100 674.5px,#eb0002 675.5px,#6c002e 681.5px,#240052 685.5px,#160059 686.5px,#000065 689.5px,#000079 694.5px,#0000c7 704.5px,#0000c8 705.5px,#0025c7 731.5px,#0078c5)"></i><i class=a style="background:linear-gradient(#cdc200,#cdc200 237.5px,#cfbd00 278.5px,#d2b600 305.5px,#d6ab00 326.5px,#de9300 347.5px,#e38000 358.5px,#e67400 363.5px,#e95c00 372.5px,#ed3800 383.5px,#ed3000 391.5px,#ed3300 396.5px,#ec3a00 400.5px,#e95a00 410.5px,#e86100 414.5px,#e37d00 425.5px,#e08e00 435.5px,#daa200 455.5px,#d6ab00 492.5px,#daa200 548.5px,#de9700 577.5px,#e47b00 606.5px,#eb4b00 634.5px,#ef0e00 663.5px,#f00100 674.5px,#e60003 675.5px,#69002f 681.5px,#220053 685.5px,#160059 686.5px,#000065 689.5px,#000079 694.5px,#0000c8 704.5px,#0024c7 730.5px,#0078c5)"></i><i class=a style="background:linear-gradient(#cdc200,#cdc200 237.5px,#cfbd00 278.5px,#d2b500 305.5px,#d6ab00 326.5px,#df9200 347.5px,#e37e00 358.5px,#e95e00 368.5px,#ea5600 372.5px,#ed3600 381.5px,#ed2d00 386.5px,#ed2900 391.5px,#ed2d00 396.5px,#ed3600 401.5px,#ea5000 409.5px,#e95d00 415.5px,#e47c00 425.5px,#e08e00 436.5px,#daa200 456.5px,#d6aa00 492.5px,#daa200 548.5px,#de9700 577.5px,#e47b00 606.5px,#eb4a00 634.5px,#ef0d00 663.5px,#f00000 674.5px,#df0006 675.5px,#76002a 680.5px,#1e0055 685.5px,#040062 688.5px,#006 689.5px,#00007a 694.5px,#0000c8 704.5px,#0024c7 730.5px,#0078c5)"></i><i class=a style="background:linear-gradient(#cdc200,#cdc200 237.5px,#cfbd00 277.5px,#d2b500 305.5px,#d6ab00 326.5px,#df9300 346.5px,#e37f00 357.5px,#eb4900 372.5px,#ed3600 378.5px,#ed2900 384.5px,#e20 391.5px,#ee2900 398.5px,#ed3600 405.5px,#e67100 423.5px,#e47b00 425.5px,#e08e00 436.5px,#daa200 456.5px,#d7aa00 491.5px,#daa200 548.5px,#de9700 576.5px,#e47a00 606.5px,#eb4a00 634.5px,#ef0d00 663.5px,#f00100 673.5px,#ef0000 674.5px,#70002c 680.5px,#290050 684.5px,#190057 685.5px,#010063 688.5px,#00007b 694.5px,#0000c8 704.5px,#0025c7 730.5px,#0078c5)"></i><i class=a style="background:linear-gradient(#cdc200,#cdc200 237.5px,#cfbd00 277.5px,#d2b500 305.5px,#d6aa00 326.5px,#df9300 346.5px,#e37e00 357.5px,#e67200 359.5px,#e95800 366.5px,#ec3a00 372.5px,#ee2700 378.5px,#ee1900 385.5px,#ef1900 391.5px,#ee1900 398.5px,#ee2800 405.5px,#ec3b00 411.5px,#ea5400 416.5px,#e76d00 423.5px,#e47c00 426.5px,#e08d00 436.5px,#daa100 456.5px,#d7aa00 491.5px,#daa200 548.5px,#de9700 576.5px,#e47b00 605.5px,#eb4a00 634.5px,#ef0d00 663.5px,#f00100 673.5px,#ed0001 674.5px,#6d002d 680.5px,#250051 684.5px,#170058 685.5px,#000065 688.5px,#007 693.5px,#0000c3 703.5px,#0000c8 704.5px,#0025c7 730.5px,#0079c5)"></i><i class=a style="background:linear-gradient(#cdc200,#cdc200 237.5px,#cfbd00 277.5px,#d2b500 305.5px,#d7aa00 326.5px,#de9400 345.5px,#e37f00 356.5px,#e57600 358.5px,#e76d00 359.5px,#ea5500 365.5px,#ec4100 368.5px,#ee2900 373.5px,#ef1300 379.5px,#f00700 384.5px,#f00500 388.5px,#f00600 398.5px,#ef1400 404.5px,#ed3200 412.5px,#ea5100 417.5px,#e86800 423.5px,#e67100 424.5px,#e47b00 426.5px,#e08e00 437.5px,#daa100 456.5px,#d7aa00 491.5px,#daa200 547.5px,#de9700 576.5px,#e47b00 605.5px,#eb4b00 633.5px,#ef0d00 663.5px,#f00100 673.5px,#ec0002 674.5px,#6c002e 680.5px,#240052 684.5px,#160059 685.5px,#000065 688.5px,#000078 693.5px,#0000c5 703.5px,#0000c8 704.5px,#0026c7 730.5px,#0079c5)"></i><i class=a style="background:linear-gradient(#cdc200,#cdc200 237.5px,#cfbd00 277.5px,#d2b500 305.5px,#d6ab00 325.5px,#de9300 345.5px,#e37f00 356.5px,#e67300 358.5px,#e86900 359.5px,#ea5300 364.5px,#ed3500 368.5px,#ef1500 374.5px,#ef0900 377.5px,#ee0401 378.5px,#ca030d 379.5px,#b20116 380.5px,#9b0020 382.5px,#5b003a 383.5px,#3a004e 384.5px,#2c005b 385.5px,#270060 386.5px,#250062 391.5px,#28005f 397.5px,#2d005a 398.5px,#3b004d 399.5px,#5f0039 400.5px,#9e001e 401.5px,#bd0212 403.5px,#f00600 405.5px,#ed3000 414.5px,#ea5400 419.5px,#e86400 423.5px,#e67400 425.5px,#e47c00 427.5px,#e08d00 437.5px,#daa200 457.5px,#d7aa00 491.5px,#daa200 545.5px,#de9600 576.5px,#e47b00 605.5px,#eb4b00 633.5px,#ef0e00 662.5px,#f00100 673.5px,#e80003 674.5px,#6b002f 680.5px,#230052 684.5px,#160059 685.5px,#000065 688.5px,#000079 693.5px,#0000c7 703.5px,#0024c7 729.5px,#0079c5)"></i><i class=a style="background:linear-gradient(#cdc200,#cdc200 237.5px,#cfbd00 277.5px,#d2b600 304.5px,#d6ab00 325.5px,#df9300 345.5px,#e37e00 356.5px,#e86500 359.5px,#ea5200 363.5px,#ee2900 368.5px,#f00400 374.5px,#c3020f 375.5px,#9f001e 376.5px,#6e0032 377.5px,#2b0058 378.5px,#0a0079 379.5px,#000090 380.5px,#00009d 381.5px,#00009f 382.5px,#0001b0 383.5px,#0004c4 385.5px,#0005c7 388.5px,#0005c7 395.5px,#0005c6 397.5px,#0004c3 398.5px,#0003bb 399.5px,#0001af 400.5px,#00009d 401.5px,#000095 402.5px,#000086 403.5px,#17006c 404.5px,#3a004a 405.5px,#920023 406.5px,#db0307 408.5px,#f00700 409.5px,#ee2500 414.5px,#ea5400 420.5px,#e96000 423.5px,#e67300 425.5px,#e47c00 427.5px,#e08d00 437.5px,#daa200 457.5px,#d7aa00 490.5px,#daa200 545.5px,#de9600 576.5px,#e47a00 605.5px,#eb4a00 633.5px,#ef0d00 662.5px,#f00000 673.5px,#e20005 674.5px,#660031 680.5px,#200054 684.5px,#050062 687.5px,#006 688.5px,#000079 693.5px,#0000c8 703.5px,#0025c7 729.5px,#0079c5)"></i><i class=a style="background:linear-gradient(#cdc200,#cdc200 237.5px,#cfbd00 277.5px,#d5af00 317.5px,#d6ab00 325.5px,#df9300 345.5px,#e38000 355.5px,#e57600 357.5px,#e96100 359.5px,#ea5100 362.5px,#ee1d00 368.5px,#ef0900 371.5px,#e40304 372.5px,#a4001b 373.5px,#360049 374.5px,#0c0073 375.5px,#000094 376.5px,#00a 377.5px,#0006c8 379.5px,#000dc8 381.5px,#000fc8 383.5px,#0018c7 385.5px,#0019c7 389.5px,#0019c7 397.5px,#0009c8 403.5px,#0004c7 404.5px,#0001b3 405.5px,#000080 407.5px,#21005d 408.5px,#690034 409.5px,#ca010d 410.5px,#f00600 411.5px,#ee1900 414.5px,#ea5300 421.5px,#e95c00 423.5px,#e67100 425.5px,#e47c00 427.5px,#e08d00 437.5px,#daa200 457.5px,#d7a900 490.5px,#daa200 545.5px,#de9600 576.5px,#e47a00 605.5px,#eb4a00 633.5px,#ef0d00 662.5px,#f00100 672.5px,#f00000 673.5px,#72002c 679.5px,#1b0057 684.5px,#030063 687.5px,#006 688.5px,#00007a 693.5px,#0000c8 703.5px,#0025c7 729.5px,#007ac5)"></i><i class=a style="background:linear-gradient(#cdc200,#cdc200 237.5px,#cfbd00 277.5px,#d5af00 318.5px,#d6ab00 325.5px,#df9300 345.5px,#e38000 355.5px,#e67400 357.5px,#e95d00 359.5px,#ea5200 361.5px,#ef0a00 369.5px,#eb0302 370.5px,#ab0018 371.5px,#370048 372.5px,#030077 373.5px,#0000a5 374.5px,#0003c3 375.5px,#0008c8 376.5px,#0021c7 381.5px,#0025c7 384.5px,#002fc7 385.5px,#0034c7 386.5px,#0036c7 392.5px,#0033c7 397.5px,#002ec7 398.5px,#0024c7 399.5px,#001ec7 402.5px,#0004c8 407.5px,#0001b7 408.5px,#00008c 409.5px,#1e005d 410.5px,#74002e 411.5px,#d50109 412.5px,#f00600 413.5px,#eb4c00 421.5px,#e95900 423.5px,#e76e00 425.5px,#e47c00 427.5px,#e08d00 437.5px,#daa200 457.5px,#d7a900 490.5px,#daa200 545.5px,#de9500 576.5px,#e47900 605.5px,#eb4900 633.5px,#ef0d00 662.5px,#f00100 672.5px,#ed0001 673.5px,#6e002d 679.5px,#260051 683.5px,#180058 684.5px,#000064 687.5px,#00007c 693.5px,#0000c8 703.5px,#0025c7 729.5px,#007ac5)"></i><i class=a style="background:linear-gradient(#cdc200,#cdc200 237.5px,#cfbd00 277.5px,#d2b600 304.5px,#d6ab00 325.5px,#de9300 345.5px,#e38000 355.5px,#e67100 357.5px,#e95a00 359.5px,#ea5500 360.5px,#f00700 368.5px,#d50109 369.5px,#5e0037 370.5px,#0d0069 371.5px,#000095 372.5px,#0001bf 373.5px,#0006c8 374.5px,#0015c8 376.5px,#0023c7 379.5px,#0040c7 381.5px,#0048c6 384.5px,#0051c6 385.5px,#005fc6 386.5px,#006dc5 391.5px,#005cc6 397.5px,#0046c6 399.5px,#0040c7 401.5px,#0028c7 403.5px,#001fc7 404.5px,#0010c8 407.5px,#0002c6 409.5px,#0000a8 410.5px,#000078 411.5px,#33004a 412.5px,#a4001a 413.5px,#f00300 414.5px,#ee1900 416.5px,#ea5600 423.5px,#e76c00 425.5px,#e47a00 427.5px,#e37e00 428.5px,#e08d00 437.5px,#daa200 457.5px,#d7a900 490.5px,#daa100 545.5px,#de9600 575.5px,#e47a00 604.5px,#eb4b00 632.5px,#ef0d00 662.5px,#f00100 672.5px,#ec0002 673.5px,#6c002e 679.5px,#240052 683.5px,#170059 684.5px,#000065 687.5px,#007 692.5px,#0000c4 702.5px,#0000c8 703.5px,#0026c7 729.5px,#007ac5)"></i><i class=a style="background:linear-gradient(#cdc200,#cdc200 237.5px,#cfbd00 278.5px,#d2b600 304.5px,#d6ab00 325.5px,#de9400 345.5px,#e28300 354.5px,#e57800 356.5px,#ea5700 359.5px,#ee1f00 365.5px,#f00800 367.5px,#c4000f 368.5px,#5a0038 369.5px,#000070 370.5px,#0000a4 371.5px,#0002c7 372.5px,#0027c7 378.5px,#0040c7 380.5px,#0052c6 381.5px,#007bc5 391.5px,#0052c6 401.5px,#0032c7 403.5px,#0027c7 404.5px,#0003c8 410.5px,#0000b2 411.5px,#000084 412.5px,#2c004e 413.5px,#a5001a 414.5px,#f00600 415.5px,#ee1b00 417.5px,#ea5200 423.5px,#e67300 426.5px,#e37e00 428.5px,#e08d00 437.5px,#daa200 457.5px,#d7a900 489.5px,#daa100 545.5px,#de9500 575.5px,#e47a00 604.5px,#eb4a00 632.5px,#ef0e00 661.5px,#f00100 672.5px,#ea0002 673.5px,#6b002e 679.5px,#240052 683.5px,#160059 684.5px,#000065 687.5px,#000079 692.5px,#0000c6 702.5px,#0001c8 703.5px,#0024c7 728.5px,#007ac5)"></i><i class=a style="background:linear-gradient(#cdc200,#cdc200 237.5px,#cfbd00 278.5px,#d2b600 304.5px,#d6ab00 325.5px,#de9400 345.5px,#e28400 354.5px,#e57600 356.5px,#ea5200 359.5px,#ee2300 364.5px,#f00100 367.5px,#4a003f 368.5px,#00006f 369.5px,#0000c2 371.5px,#0006c8 372.5px,#0028c7 378.5px,#0052c6 381.5px,#007bc5 391.5px,#0052c6 401.5px,#0028c7 404.5px,#0001c8 411.5px,#0000a2 412.5px,#000075 413.5px,#31004c 414.5px,#dc0007 415.5px,#ef0a00 416.5px,#ee2000 418.5px,#eb4d00 423.5px,#e95c00 424.5px,#e67200 426.5px,#e37f00 428.5px,#e08c00 436.5px,#daa100 456.5px,#d7a900 489.5px,#daa100 545.5px,#de9500 575.5px,#e47900 604.5px,#eb4a00 632.5px,#ef0d00 661.5px,#f00100 672.5px,#e40004 673.5px,#680030 679.5px,#220053 683.5px,#160059 684.5px,#000065 687.5px,#000079 692.5px,#0000c8 702.5px,#0025c7 728.5px,#007bc5)"></i><i class=a style="background:linear-gradient(#cdc200,#cdc200 237.5px,#cfbd00 278.5px,#d2b500 305.5px,#d6ac00 325.5px,#df9300 346.5px,#e28300 354.5px,#e57600 356.5px,#e95e00 358.5px,#eb4e00 359.5px,#ee1f00 364.5px,#f00800 366.5px,#bb0012 367.5px,#0f005c 368.5px,#008 369.5px,#0000af 370.5px,#0002c8 371.5px,#0028c7 378.5px,#0052c6 381.5px,#007bc5 391.5px,#0052c6 401.5px,#0028c7 404.5px,#0002c8 411.5px,#0000af 412.5px,#00008c 413.5px,#010065 414.5px,#a0001c 415.5px,#f00600 416.5px,#ee1c00 418.5px,#eb4900 423.5px,#e95a00 424.5px,#e67100 426.5px,#e37e00 428.5px,#e38100 429.5px,#e08d00 436.5px,#daa200 456.5px,#d7a900 489.5px,#daa100 545.5px,#de9500 575.5px,#e57900 604.5px,#eb4900 632.5px,#ef0d00 661.5px,#f00000 672.5px,#75002a 678.5px,#1e0055 683.5px,#040062 686.5px,#006 687.5px,#000079 692.5px,#0000c8 702.5px,#0025c7 728.5px,#007bc5)"></i><i class=a style="background:linear-gradient(#cdc200,#cdc200 238.5px,#cfbd00 278.5px,#d2b600 305.5px,#d6ab00 326.5px,#de9400 346.5px,#e18700 353.5px,#e67500 356.5px,#e95d00 358.5px,#eb4a00 359.5px,#f00500 366.5px,#8e0022 367.5px,#000069 368.5px,#0000b1 370.5px,#0002c8 371.5px,#0028c7 378.5px,#0052c6 381.5px,#007bc5 391.5px,#0052c6 401.5px,#0028c7 404.5px,#0002c8 411.5px,#0000b1 412.5px,#00006b 414.5px,#850025 415.5px,#f00400 416.5px,#ec4600 423.5px,#e95800 424.5px,#e77000 426.5px,#e28200 429.5px,#e08e00 436.5px,#daa200 456.5px,#d7a900 488.5px,#daa100 544.5px,#de9500 574.5px,#e47a00 603.5px,#eb4a00 631.5px,#ef0d00 661.5px,#f00100 671.5px,#ed0001 672.5px,#6f002d 678.5px,#280050 682.5px,#190058 683.5px,#010063 686.5px,#00007b 692.5px,#0000c8 702.5px,#0025c7 728.5px,#007bc5)"></i><i class=a style="background:linear-gradient(#cdc200,#cdc200 238.5px,#cfbd00 278.5px,#d2b600 305.5px,#d6ac00 326.5px,#de9300 347.5px,#e18800 353.5px,#e67300 356.5px,#e95b00 358.5px,#eb4600 359.5px,#f00300 366.5px,#800027 367.5px,#00006b 368.5px,#0000b1 370.5px,#0002c8 371.5px,#0028c7 378.5px,#0052c6 381.5px,#007bc5 391.5px,#0052c6 401.5px,#0028c7 404.5px,#0002c8 411.5px,#0000b1 412.5px,#00006b 414.5px,#800027 415.5px,#f00300 416.5px,#ee2000 419.5px,#ec4200 423.5px,#ea5700 424.5px,#e76e00 426.5px,#e28300 429.5px,#e08d00 435.5px,#daa200 456.5px,#d7a900 488.5px,#daa100 544.5px,#de9500 574.5px,#e47a00 603.5px,#eb4a00 631.5px,#ef0e00 660.5px,#f00100 671.5px,#e70003 672.5px,#6b002f 678.5px,#240052 682.5px,#170059 683.5px,#000065 686.5px,#007 691.5px,#0001c8 702.5px,#007bc5)"></i><i class=a style="background:linear-gradient(#cdc200,#cdc200 238.5px,#cfbd00 278.5px,#d2b600 305.5px,#d6ac00 326.5px,#df9300 348.5px,#e18800 353.5px,#e67200 356.5px,#e95900 358.5px,#ec4300 359.5px,#f00300 366.5px,#800027 367.5px,#00006b 368.5px,#0000b1 370.5px,#0002c8 371.5px,#0028c7 378.5px,#0052c6 381.5px,#007bc5 391.5px,#0052c6 401.5px,#0028c7 404.5px,#0002c8 411.5px,#0000b1 412.5px,#00006b 414.5px,#800027 415.5px,#f00300 416.5px,#ec4000 423.5px,#ea5600 424.5px,#e76d00 426.5px,#e28200 429.5px,#e18600 430.5px,#daa200 455.5px,#d7a900 488.5px,#daa100 544.5px,#de9500 574.5px,#e47900 603.5px,#eb4a00 631.5px,#ef0d00 660.5px,#f00000 671.5px,#e10005 672.5px,#660031 678.5px,#200054 682.5px,#050062 685.5px,#000065 686.5px,#000078 691.5px,#0000c5 701.5px,#0001c8 702.5px,#007cc5)"></i><i class=a style="background:linear-gradient(#cdc200,#cdc200 238.5px,#cfbd00 279.5px,#d2b600 306.5px,#d6ac00 327.5px,#e08d00 352.5px,#e67100 356.5px,#e95800 358.5px,#ec4100 359.5px,#f00300 366.5px,#800027 367.5px,#00006b 368.5px,#0000b1 370.5px,#0002c8 371.5px,#0028c7 378.5px,#0052c6 381.5px,#007bc5 391.5px,#0052c6 401.5px,#0028c7 404.5px,#0002c8 411.5px,#0000b1 412.5px,#00006b 414.5px,#800027 415.5px,#f00300 416.5px,#ec3e00 423.5px,#ea5500 424.5px,#e76c00 426.5px,#e18800 430.5px,#daa300 455.5px,#d7a900 487.5px,#daa000 544.5px,#de9500 574.5px,#e57900 603.5px,#eb4900 631.5px,#ef0d00 660.5px,#f00100 670.5px,#ef0000 671.5px,#72002c 677.5px,#1b0057 682.5px,#030063 685.5px,#006 686.5px,#00007a 691.5px,#0000c7 701.5px,#0025c7 727.5px,#007cc5)"></i><i class=a style="background:linear-gradient(#cdc200,#cdc200 238.5px,#cfbd00 279.5px,#d2b600 306.5px,#d6ab00 328.5px,#e08e00 352.5px,#e77000 356.5px,#ea5800 358.5px,#ec4000 359.5px,#ee1f00 363.5px,#f00300 366.5px,#800027 367.5px,#00006b 368.5px,#0000b1 370.5px,#0002c8 371.5px,#0028c7 378.5px,#0052c6 381.5px,#007bc5 391.5px,#0052c6 401.5px,#0028c7 404.5px,#0002c8 411.5px,#0000b1 412.5px,#00006b 414.5px,#800027 415.5px,#f00300 416.5px,#ee1f00 419.5px,#ec3d00 423.5px,#ea5400 424.5px,#e76c00 426.5px,#e18800 430.5px,#e08b00 431.5px,#daa300 454.5px,#d7a900 487.5px,#dba000 544.5px,#de9400 574.5px,#e57800 603.5px,#eb4900 631.5px,#ef0d00 660.5px,#f00100 670.5px,#ec0001 671.5px,#6d002d 677.5px,#260051 681.5px,#180058 682.5px,#000064 685.5px,#00007c 691.5px,#0000c8 701.5px,#007cc5)"></i><i class=a style="background:linear-gradient(#cdc200,#cdc200 239.5px,#cfbd00 280.5px,#d2b600 307.5px,#d6ac00 328.5px,#df9200 351.5px,#e76f00 356.5px,#ea5700 358.5px,#ec3f00 359.5px,#ee1f00 363.5px,#f00300 366.5px,#800027 367.5px,#00006b 368.5px,#0000b1 370.5px,#0002c8 371.5px,#0028c7 378.5px,#0052c6 381.5px,#007bc5 391.5px,#0052c6 401.5px,#0028c7 404.5px,#0002c8 411.5px,#0000b1 412.5px,#00006b 414.5px,#800027 415.5px,#f00300 416.5px,#ee1f00 419.5px,#ec3d00 423.5px,#ea5500 424.5px,#e76c00 426.5px,#e08d00 431.5px,#d9a300 454.5px,#d7a900 487.5px,#dba000 543.5px,#de9500 573.5px,#e47900 602.5px,#eb4a00 630.5px,#ef0c00 660.5px,#f00100 670.5px,#ea0002 671.5px,#6c002e 677.5px,#240052 681.5px,#170059 682.5px,#000065 685.5px,#007 690.5px,#0000c3 700.5px,#0001c8 701.5px,#007cc5)"></i><i class=a style="background:linear-gradient(#cdc200,#cdc200 239.5px,#cfbd00 280.5px,#d2b600 307.5px,#d6ac00 329.5px,#de9400 351.5px,#e76f00 356.5px,#ea5700 358.5px,#ec3e00 359.5px,#ee1f00 363.5px,#f00300 366.5px,#800027 367.5px,#00006b 368.5px,#0000b1 370.5px,#0002c8 371.5px,#0028c7 378.5px,#0052c6 381.5px,#007bc5 391.5px,#0052c6 401.5px,#0028c7 404.5px,#0002c8 411.5px,#0000b1 412.5px,#00006b 414.5px,#800027 415.5px,#f00300 416.5px,#ee2000 419.5px,#ec3d00 423.5px,#ea5500 424.5px,#e76c00 426.5px,#e08f00 431.5px,#d9a300 453.5px,#d7a900 486.5px,#dba000 543.5px,#de9400 573.5px,#e57900 602.5px,#eb4a00 630.5px,#ef0e00 659.5px,#f00100 670.5px,#e80003 671.5px,#6b002f 677.5px,#230052 681.5px,#160059 682.5px,#000065 685.5px,#000078 690.5px,#0000c6 700.5px,#0001c8 701.5px,#007dc5)"></i><i class=a style="background:linear-gradient(#cdc200,#cdc200 239.5px,#cfbd00 280.5px,#d2b600 308.5px,#d6ac00 330.5px,#de9300 351.5px,#e76e00 356.5px,#ea5700 358.5px,#ec3e00 359.5px,#ee1f00 363.5px,#f00300 366.5px,#800027 367.5px,#00006b 368.5px,#0000b1 370.5px,#0002c8 371.5px,#0028c7 378.5px,#0052c6 381.5px,#007bc5 391.5px,#0052c6 401.5px,#0028c7 404.5px,#0002c8 411.5px,#0000b1 412.5px,#00006b 414.5px,#800027 415.5px,#f00300 416.5px,#ee2100 419.5px,#ec3e00 423.5px,#ea5600 424.5px,#e76c00 426.5px,#df9000 431.5px,#d9a400 452.5px,#d7a900 477.5px,#dba000 543.5px,#de9400 573.5px,#e57800 602.5px,#eb4900 630.5px,#ef0d00 659.5px,#f00000 670.5px,#e30004 671.5px,#680030 677.5px,#220053 681.5px,#160059 682.5px,#000065 685.5px,#000079 690.5px,#0000c7 700.5px,#0025c7 726.5px,#007dc5)"></i><i class=a style="background:linear-gradient(#cdc200,#cdc200 240.5px,#d2b600 308.5px,#d6ac00 331.5px,#de9700 350.5px,#df9300 351.5px,#e76e00 356.5px,#ea5700 358.5px,#ec3e00 359.5px,#ee1f00 363.5px,#f00300 366.5px,#800027 367.5px,#00006b 368.5px,#0000b1 370.5px,#0002c8 371.5px,#0028c7 378.5px,#0052c6 381.5px,#007bc5 391.5px,#0052c6 401.5px,#0028c7 404.5px,#0002c8 411.5px,#0000b1 412.5px,#00006b 414.5px,#800027 415.5px,#f00300 416.5px,#ee2100 419.5px,#ec3f00 423.5px,#ea5600 424.5px,#e76d00 426.5px,#e18a00 430.5px,#de9400 432.5px,#d9a400 451.5px,#d7aa00 474.5px,#dba000 542.5px,#de9400 572.5px,#e57800 602.5px,#eb4800 630.5px,#ef0d00 659.5px,#f00000 670.5px,#75002b 676.5px,#1d0055 681.5px,#040062 684.5px,#006 685.5px,#000079 690.5px,#0000c8 700.5px,#007dc5)"></i><i class=a style="background:linear-gradient(#cdc200,#cdc200 240.5px,#d2b600 309.5px,#d6ac00 332.5px,#d90 350.5px,#e57800 355.5px,#ea5700 358.5px,#ec3e00 359.5px,#ee1f00 363.5px,#f00300 366.5px,#800027 367.5px,#00006b 368.5px,#0000b1 370.5px,#0002c8 371.5px,#0028c7 378.5px,#0052c6 381.5px,#007bc5 391.5px,#0052c6 401.5px,#0028c7 404.5px,#0002c8 411.5px,#0000b1 412.5px,#00006b 414.5px,#800027 415.5px,#f00300 416.5px,#ef1600 418.5px,#e20 419.5px,#ec4000 423.5px,#ea5700 424.5px,#e76e00 426.5px,#e57700 427.5px,#de9600 432.5px,#d9a500 450.5px,#d7aa00 473.5px,#dba000 542.5px,#de9400 572.5px,#e57900 601.5px,#eb4a00 629.5px,#ef0e00 658.5px,#f00100 669.5px,#eb0002 670.5px,#6e002d 676.5px,#280050 680.5px,#190058 681.5px,#010063 684.5px,#00007a 690.5px,#0000c8 700.5px,#007dc5)"></i><i class=a style="background:linear-gradient(#cdc200,#cdc200 240.5px,#d2b600 309.5px,#d6ac00 333.5px,#dd9a00 350.5px,#e57800 355.5px,#ea5700 358.5px,#ec3e00 359.5px,#ee1f00 363.5px,#f00300 366.5px,#800027 367.5px,#00006b 368.5px,#0000b1 370.5px,#0002c8 371.5px,#0028c7 378.5px,#0052c6 381.5px,#007bc5 391.5px,#0052c6 401.5px,#0028c7 404.5px,#0002c8 411.5px,#0000b1 412.5px,#00006b 414.5px,#800027 415.5px,#f00300 416.5px,#ef1500 418.5px,#ee2300 419.5px,#ec4100 423.5px,#e95800 424.5px,#e76f00 426.5px,#dd9800 432.5px,#d8a500 449.5px,#d7aa00 472.5px,#dba000 542.5px,#de9400 572.5px,#e57800 601.5px,#eb4900 629.5px,#ef0d00 658.5px,#f00100 669.5px,#e60003 670.5px,#6a002f 676.5px,#240052 680.5px,#170059 681.5px,#000065 684.5px,#007 689.5px,#0001c8 700.5px,#007ec5)"></i><i class=a style="background:linear-gradient(#cdc200,#cdc200 241.5px,#d2b700 310.5px,#d6ac00 334.5px,#dd9a00 350.5px,#e76e00 356.5px,#ea5700 358.5px,#ec3e00 359.5px,#ee1f00 363.5px,#f00300 366.5px,#810027 367.5px,#00006a 368.5px,#0000b1 370.5px,#0002c8 371.5px,#0028c7 378.5px,#0052c6 381.5px,#007bc5 391.5px,#0052c6 401.5px,#0028c7 404.5px,#0002c8 411.5px,#0000b1 412.5px,#00006a 414.5px,#810027 415.5px,#f00300 416.5px,#ef1600 418.5px,#ee2400 419.5px,#ec4200 423.5px,#e95900 424.5px,#e77000 426.5px,#dd9a00 432.5px,#d8a600 448.5px,#d6ab00 471.5px,#dba000 541.5px,#de9300 572.5px,#e57800 601.5px,#eb4900 629.5px,#ef0d00 658.5px,#f00000 669.5px,#df0006 670.5px,#650031 676.5px,#200054 680.5px,#050062 683.5px,#000065 684.5px,#000078 689.5px,#0000c4 699.5px,#0001c8 700.5px,#007ec5)"></i><i class=a style="background:linear-gradient(#cdc200,#cdc200 241.5px,#d2b700 311.5px,#d6ac00 335.5px,#db9e00 349.5px,#dd9a00 350.5px,#e76f00 356.5px,#ea5700 358.5px,#ec3f00 359.5px,#ee2000 363.5px,#f00400 366.5px,#8f0022 367.5px,#020065 368.5px,#0000ac 370.5px,#0001c8 371.5px,#0027c7 378.5px,#004fc6 381.5px,#0079c5 391.5px,#004fc6 401.5px,#0027c7 404.5px,#0001c8 411.5px,#0000ac 412.5px,#008 413.5px,#020065 414.5px,#8f0022 415.5px,#f00400 416.5px,#ee2600 419.5px,#ec4300 423.5px,#e95b00 424.5px,#e67100 426.5px,#dd9b00 432.5px,#db9e00 433.5px,#d8a700 446.5px,#d6ab00 470.5px,#db9f00 541.5px,#de9400 571.5px,#e57900 600.5px,#eb4a00 628.5px,#ef0d00 658.5px,#f00100 668.5px,#ee0001 669.5px,#71002c 675.5px,#1b0057 680.5px,#030063 683.5px,#006 684.5px,#000079 689.5px,#0000c7 699.5px,#0001c8 700.5px,#007ec5)"></i><i class=a style="background:linear-gradient(#cdc200,#cdc200 242.5px,#d2b700 312.5px,#d6ac00 336.5px,#dba000 349.5px,#dd9b00 350.5px,#e77000 356.5px,#ea5800 358.5px,#ec4100 359.5px,#e20 363.5px,#f00600 366.5px,#b90013 367.5px,#210054 368.5px,#000078 369.5px,#0000bf 371.5px,#0004c8 372.5px,#002cc7 379.5px,#0049c6 381.5px,#0072c5 391.5px,#0049c6 401.5px,#002cc7 403.5px,#0004c8 410.5px,#0000bf 411.5px,#000078 413.5px,#210054 414.5px,#b90013 415.5px,#f00600 416.5px,#ef0f00 417.5px,#ee2100 418.5px,#eb4700 423.5px,#e95d00 424.5px,#e67400 426.5px,#daa100 433.5px,#d7a900 445.5px,#d6ac00 469.5px,#dba000 540.5px,#de9400 571.5px,#e57900 600.5px,#eb4900 628.5px,#ef0e00 657.5px,#f00100 668.5px,#e80003 669.5px,#6c002e 675.5px,#260051 679.5px,#180058 680.5px,#000064 683.5px,#00007c 689.5px,#0000c8 699.5px,#007ec5)"></i><i class=a style="background:linear-gradient(#cdc200,#cdc200 242.5px,#d2b700 313.5px,#d6ac00 338.5px,#daa100 349.5px,#e67100 356.5px,#e95900 358.5px,#ec4400 359.5px,#ee1d00 364.5px,#ef0a00 366.5px,#ed0101 367.5px,#5c0036 368.5px,#10005d 369.5px,#000081 370.5px,#0001c4 372.5px,#0005c8 373.5px,#0026c7 379.5px,#0030c7 380.5px,#003ec7 381.5px,#0067c6 391.5px,#003ec7 401.5px,#0030c7 402.5px,#0026c7 403.5px,#0005c8 409.5px,#0001c4 410.5px,#000081 412.5px,#10005d 413.5px,#5c0036 414.5px,#ed0101 415.5px,#ef0a00 416.5px,#ef1300 417.5px,#ee2600 418.5px,#eb4b00 423.5px,#e96000 424.5px,#e57600 426.5px,#d9a400 433.5px,#d6ab00 444.5px,#d6ac00 468.5px,#db9f00 540.5px,#de9400 571.5px,#e57800 600.5px,#eb4900 628.5px,#ef0d00 657.5px,#f00000 668.5px,#e20005 669.5px,#680030 675.5px,#220053 679.5px,#160059 680.5px,#000065 683.5px,#007 688.5px,#0000c3 698.5px,#0001c8 699.5px,#007fc5)"></i><i class=a style="background:linear-gradient(#cdc200,#cdc100 243.5px,#d2b700 314.5px,#d6ac00 339.5px,#daa300 349.5px,#e67300 356.5px,#e95b00 358.5px,#eb4800 359.5px,#e20 364.5px,#f00600 367.5px,#b90013 368.5px,#610034 369.5px,#15005b 370.5px,#00007f 371.5px,#0001c2 373.5px,#0005c8 374.5px,#0026c7 380.5px,#002fc7 381.5px,#0058c6 391.5px,#002fc7 401.5px,#0026c7 402.5px,#0005c8 408.5px,#0001c2 409.5px,#00007f 411.5px,#15005b 412.5px,#610034 413.5px,#b90013 414.5px,#f00600 415.5px,#ef0f00 416.5px,#ee2400 417.5px,#ea5100 423.5px,#e86300 424.5px,#e47a00 426.5px,#d8a700 433.5px,#d5ad00 442.5px,#d5ad00 467.5px,#db9f00 539.5px,#df9300 571.5px,#e57800 600.5px,#eb4800 628.5px,#ef0d00 657.5px,#f00100 667.5px,#ef0000 668.5px,#74002b 674.5px,#1d0055 679.5px,#040062 682.5px,#006 683.5px,#000079 688.5px,#0000c5 698.5px,#0001c8 699.5px,#007fc5)"></i><i class=a style="background:linear-gradient(#cdc100,#cdc200 243.5px,#d1b700 315.5px,#d6ac00 341.5px,#d9a300 349.5px,#e57500 356.5px,#e95e00 358.5px,#eb4e00 359.5px,#ee2000 365.5px,#f00400 368.5px,#d4000a 369.5px,#800028 370.5px,#2e004d 371.5px,#000073 372.5px,#0000b9 374.5px,#0003c8 375.5px,#0024c7 381.5px,#0030c7 386.5px,#0044c7 391.5px,#0030c7 396.5px,#0024c7 401.5px,#0003c8 407.5px,#0000b9 408.5px,#000073 410.5px,#2e004d 411.5px,#800028 412.5px,#d4000a 413.5px,#f00400 414.5px,#ef0d00 415.5px,#ed2c00 417.5px,#ea5800 423.5px,#e86700 424.5px,#e37d00 426.5px,#d7a900 433.5px,#d5af00 444.5px,#d6ab00 484.5px,#db9f00 538.5px,#de9400 570.5px,#e57700 600.5px,#eb4800 628.5px,#ef0c00 657.5px,#f00100 667.5px,#eb0002 668.5px,#6e002d 674.5px,#280050 678.5px,#190058 679.5px,#010063 682.5px,#00007a 688.5px,#0000c7 698.5px,#007fc5)"></i><i class=a style="background:linear-gradient(#cdc100,#cdc100 244.5px,#d1b700 316.5px,#d6ac00 343.5px,#d8a700 348.5px,#d9a400 349.5px,#df9300 352.5px,#e57700 356.5px,#ea5500 359.5px,#ee1f00 366.5px,#ef0d00 368.5px,#f00800 369.5px,#ee0200 370.5px,#bb0012 371.5px,#630034 372.5px,#1b005a 373.5px,#00007f 374.5px,#0000a2 375.5px,#0001bf 376.5px,#0005c8 377.5px,#001bc7 381.5px,#002dc7 391.5px,#001bc7 401.5px,#0005c8 405.5px,#0001bf 406.5px,#0000a2 407.5px,#00007f 408.5px,#1b005a 409.5px,#630034 410.5px,#bb0012 411.5px,#ee0200 412.5px,#f00700 413.5px,#ef0c00 414.5px,#ed2d00 416.5px,#e96000 423.5px,#e38100 426.5px,#dd9b00 430.5px,#d5af00 434.5px,#d4b200 443.5px,#db9f00 538.5px,#de9300 570.5px,#e57800 599.5px,#eb4a00 627.5px,#ef0e00 656.5px,#f00100 667.5px,#e90002 668.5px,#6b002e 674.5px,#240052 678.5px,#170059 679.5px,#000065 682.5px,#00007d 688.5px,#0000c8 698.5px,#007fc5)"></i><i class=a style="background:linear-gradient(#cdc100,#cdc100 245.5px,#d1b700 318.5px,#d6ac00 345.5px,#d8a600 349.5px,#e08e00 353.5px,#e67100 357.5px,#e95a00 359.5px,#eb4e00 361.5px,#ef1700 368.5px,#f00700 371.5px,#e90202 372.5px,#b70014 373.5px,#600036 374.5px,#1d005b 375.5px,#000080 376.5px,#0000a3 377.5px,#0001be 378.5px,#0005c8 379.5px,#0010c8 381.5px,#001fc7 391.5px,#0010c8 401.5px,#0005c8 403.5px,#0001be 404.5px,#0000a3 405.5px,#000080 406.5px,#1d005b 407.5px,#600036 408.5px,#b70014 409.5px,#e90202 410.5px,#f00700 411.5px,#ef1100 413.5px,#ed2f00 415.5px,#e95b00 421.5px,#e86600 423.5px,#e47d00 425.5px,#e28500 426.5px,#db9e00 430.5px,#d3b200 434.5px,#d2b500 442.5px,#db9f00 538.5px,#df9300 570.5px,#e57800 599.5px,#eb4900 627.5px,#ef0e00 656.5px,#f00100 667.5px,#e80003 668.5px,#6b002f 674.5px,#230052 678.5px,#160059 679.5px,#000065 682.5px,#000078 687.5px,#0000c4 697.5px,#0001c8 698.5px,#0080c5)"></i><i style="background:linear-gradient(#cdc100,#cdc100 246.5px,#d1b800 319.5px,#d6ac00 347.5px,#d7a800 349.5px,#dd9a00 351.5px,#df9200 353.5px,#e57700 357.5px,#e96100 359.5px,#ea5400 362.5px,#ee2700 368.5px,#ef0a00 374.5px,#da0608 375.5px,#b30317 376.5px,#82012d 377.5px,#550048 378.5px,#29006c 379.5px,#0e008d 380.5px,#0002a7 381.5px,#0005bb 385.5px,#000bc8 390.5px,#000bc8 392.5px,#0005bb 397.5px,#0002a7 401.5px,#0e008d 402.5px,#29006c 403.5px,#550048 404.5px,#82012d 405.5px,#b30317 406.5px,#da0608 407.5px,#ef0a00 408.5px,#ee1e00 410.5px,#ee2300 411.5px,#ed3500 413.5px,#ed3900 414.5px,#e95e00 419.5px,#e67000 423.5px,#e28500 425.5px,#db9f00 429.5px,#d8a700 431.5px,#d3b400 433.5px,#d1b700 434.5px,#d1b900 442.5px,#db9e00 541.5px,#df9300 569.5px,#e57700 599.5px,#eb4800 627.5px,#ef0d00 656.5px,#f00000 667.5px,#e10005 668.5px,#670031 674.5px,#210054 678.5px,#150059 679.5px,#000065 682.5px,#000079 687.5px,#0000c6 697.5px,#0001c8 698.5px,#0080c5)"></i><i style="background:linear-gradient(#cdc100,#cdc100 247.5px,#d1b900 320.5px,#d5ad00 348.5px,#d6ab00 349.5px,#dc9e00 351.5px,#df9200 354.5px,#e57600 358.5px,#e76c00 359.5px,#e95900 364.5px,#ec4000 368.5px,#ef0e00 379.5px,#e00a05 380.5px,#c6060f 381.5px,#960323 385.5px,#900228 386.5px,#600146 390.5px,#57004e 391.5px,#600146 392.5px,#900228 396.5px,#960323 397.5px,#c6060f 401.5px,#e00905 402.5px,#ef1400 403.5px,#ee1f00 404.5px,#ee2400 405.5px,#ed3800 407.5px,#ea5500 414.5px,#e76e00 418.5px,#e38000 423.5px,#e18900 424.5px,#d9a300 428.5px,#d5af00 431.5px,#d0bb00 433.5px,#cebf00 442.5px,#d5af00 476.5px,#db9e00 540.5px,#df9300 569.5px,#e57800 598.5px,#eb4900 626.5px,#ef0e00 655.5px,#f00100 666.5px,#ea0002 667.5px,#6e002d 673.5px,#280050 677.5px,#190058 678.5px,#010063 681.5px,#00007a 687.5px,#0000c8 697.5px,#0080c5)"></i><i style="background:linear-gradient(#cdc100,#cdc100 248.5px,#d0bb00 309.5px,#d2b500 335.5px,#d5ad00 349.5px,#df9200 355.5px,#e57700 359.5px,#eb4b00 372.5px,#ee2500 381.5px,#ef1800 391.5px,#ee2800 392.5px,#ed3000 393.5px,#ec3800 399.5px,#ec3f00 400.5px,#ec4100 401.5px,#e86500 410.5px,#e08f00 423.5px,#d7a800 427.5px,#cdc200 433.5px,#ccc400 447.5px,#d4b000 477.5px,#df9200 569.5px,#e57600 598.5px,#eb4800 626.5px,#ef0d00 655.5px,#f00100 665.5px,#ef0000 666.5px,#de0006 667.5px,#77002a 672.5px,#1f0054 677.5px,#050062 680.5px,#000065 681.5px,#000078 686.5px,#0000c4 696.5px,#0001c8 697.5px,#0081c5)"></i><i style="background:linear-gradient(#cdc100,#cdc100 250.5px,#d1b800 332.5px,#d4b000 349.5px,#de9400 356.5px,#e38100 359.5px,#ea5800 376.5px,#eb4700 381.5px,#ec3b00 391.5px,#e95b00 392.5px,#e86500 401.5px,#e67400 406.5px,#dd9a00 423.5px,#d6ad00 426.5px,#cdc300 432.5px,#ccc500 452.5px,#d2b500 471.5px,#d7a900 494.5px,#df9200 568.5px,#e57700 597.5px,#eb4800 625.5px,#ef0d00 654.5px,#f00100 665.5px,#e70003 666.5px,#6b002e 672.5px,#260051 676.5px,#180058 677.5px,#010064 680.5px,#00007b 686.5px,#0000c8 696.5px,#0081c5)"></i><i style="background:linear-gradient(#cdc100,#cdc100 252.5px,#d1b800 334.5px,#d4b200 349.5px,#de9600 357.5px,#e08b00 359.5px,#e57800 368.5px,#e96000 381.5px,#e95a00 391.5px,#e47b00 392.5px,#e38000 401.5px,#de9500 414.5px,#d8a700 423.5px,#d4b100 425.5px,#ccc400 431.5px,#ccc500 456.5px,#d2b600 472.5px,#d7a900 494.5px,#df9200 567.5px,#e57800 596.5px,#eb4800 625.5px,#ef0c00 654.5px,#f00100 664.5px,#ee0001 665.5px,#73002b 671.5px,#1d0056 676.5px,#040062 679.5px,#006 680.5px,#000078 685.5px,#0000c5 695.5px,#0001c8 696.5px,#0082c5)"></i><i style="background:linear-gradient(#cdc100,#cdc100 254.5px,#cfbe00 309.5px,#d1b900 337.5px,#d3b400 349.5px,#d7a800 354.5px,#de9500 359.5px,#e28400 368.5px,#e67300 381.5px,#e76e00 391.5px,#df9100 392.5px,#de9400 401.5px,#daa200 414.5px,#d4b200 423.5px,#ccc500 429.5px,#ccc500 459.5px,#d2b700 473.5px,#d7a900 495.5px,#df9200 567.5px,#e57700 596.5px,#eb4900 624.5px,#ef0e00 653.5px,#f00100 664.5px,#e80003 665.5px,#6b002f 671.5px,#240052 675.5px,#170059 676.5px,#000065 679.5px,#00007d 685.5px,#0000c8 695.5px,#0082c5)"></i><i style="background:linear-gradient(#cec100,#cebf00 308.5px,#d2b500 350.5px,#d6ab00 355.5px,#dc9d00 359.5px,#e38100 381.5px,#e47c00 391.5px,#daa100 392.5px,#d9a300 401.5px,#d4b000 414.5px,#d0bb00 423.5px,#ccc500 427.5px,#ccc500 461.5px,#d2b700 475.5px,#d7a900 495.5px,#df9200 566.5px,#e57700 595.5px,#eb4800 624.5px,#ef0d00 653.5px,#f00000 664.5px,#e30005 665.5px,#680030 671.5px,#220053 675.5px,#160059 676.5px,#000065 679.5px,#000078 684.5px,#0000c5 694.5px,#0001c8 695.5px,#0083c5)"></i><i style="background:linear-gradient(#cec100,#cec000 308.5px,#d2b700 350.5px,#d6ab00 357.5px,#d9a500 359.5px,#d90 368.5px,#e08e00 381.5px,#e18a00 391.5px,#d4b100 392.5px,#d3b200 401.5px,#d0ba00 414.5px,#ccc500 424.5px,#ccc500 463.5px,#d2b500 478.5px,#d7a900 495.5px,#df9200 566.5px,#e57700 595.5px,#eb4800 623.5px,#ef0e00 652.5px,#f00100 663.5px,#eb0002 664.5px,#70002d 670.5px,#1b0057 675.5px,#030063 678.5px,#006 679.5px,#000079 684.5px,#0000c7 694.5px,#0001c8 695.5px,#0083c5)"></i><i style="background:linear-gradient(#cec100,#cec000 312.5px,#d1b700 351.5px,#daa200 368.5px,#dd9800 381.5px,#de9400 391.5px,#cfbd00 392.5px,#cfbd00 401.5px,#ccc500 418.5px,#ccc500 465.5px,#d2b600 478.5px,#d6ab00 492.5px,#df9200 565.5px,#e57700 594.5px,#eb4700 623.5px,#ef0d00 652.5px,#f00000 663.5px,#e00006 664.5px,#660031 670.5px,#210053 674.5px,#160059 675.5px,#000065 678.5px,#007 683.5px,#0001c8 694.5px,#0084c5)"></i><i style="background:linear-gradient(#cec100,#cec000 315.5px,#d1b800 353.5px,#d5ae00 361.5px,#daa100 381.5px,#dc9e00 391.5px,#ccc500 392.5px,#ccc500 467.5px,#d1b700 478.5px,#d6ab00 492.5px,#df9100 565.5px,#e57700 594.5px,#eb4800 622.5px,#ef0e00 651.5px,#f00100 662.5px,#e90002 663.5px,#6d002e 669.5px,#280050 673.5px,#190058 674.5px,#010063 677.5px,#00007a 683.5px,#0000c6 693.5px,#0001c8 694.5px,#0084c5)"></i><i style="background:linear-gradient(#cec100,#cdc100 303.5px,#cfbd00 343.5px,#d1b800 355.5px,#d5ae00 368.5px,#d9a500 391.5px,#ccc500 392.5px,#ccc500 468.5px,#d3b500 481.5px,#d6ab00 493.5px,#df9100 564.5px,#e57700 593.5px,#eb4800 622.5px,#ef0d00 651.5px,#f00100 662.5px,#e50004 663.5px,#69002f 669.5px,#230053 673.5px,#160059 674.5px,#000065 677.5px,#007 682.5px,#0001c8 693.5px,#0025c7 719.5px,#0075c5 771.5px,#0085c5)"></i><i style="background:linear-gradient(#cec100,#cdc200 302.5px,#cfbd00 344.5px,#d7aa00 391.5px,#ccc500 392.5px,#ccc500 469.5px,#d3b400 482.5px,#d6ab00 493.5px,#df9100 564.5px,#e57600 593.5px,#eb4800 621.5px,#ef0c00 651.5px,#f00100 661.5px,#ee0001 662.5px,#75002a 668.5px,#1f0055 673.5px,#040062 676.5px,#006 677.5px,#000078 682.5px,#0000c5 692.5px,#0001c8 693.5px,#0026c7 719.5px,#0076c5 771.5px,#0085c5)"></i><i style="background:linear-gradient(#cec100,#cdc200 301.5px,#cfbf00 344.5px,#d5ae00 391.5px,#ccc500 392.5px,#ccc500 470.5px,#d3b400 482.5px,#d6ab00 493.5px,#df9100 563.5px,#e57600 592.5px,#eb4700 621.5px,#ef0d00 650.5px,#f00000 661.5px,#e40004 662.5px,#6a002f 668.5px,#250051 672.5px,#170058 673.5px,#010064 676.5px,#00007b 682.5px,#0000c8 692.5px,#0025c7 718.5px,#0075c5 770.5px,#0086c5)"></i><i style="background:linear-gradient(#cec100,#cdc300 301.5px,#cebf00 345.5px,#d4b100 391.5px,#ccc500 392.5px,#ccc500 470.5px,#d3b400 483.5px,#d7aa00 494.5px,#df9000 563.5px,#e57600 592.5px,#eb4800 620.5px,#ef0e00 649.5px,#f00100 660.5px,#ec0001 661.5px,#72002c 667.5px,#1c0056 672.5px,#040062 675.5px,#006 676.5px,#000078 681.5px,#0000c4 691.5px,#0001c8 692.5px,#0025c7 718.5px,#0076c5 770.5px,#0086c5)"></i><i style="background:linear-gradient(#cec100,#cdc300 300.5px,#cec000 345.5px,#d3b300 391.5px,#ccc500 392.5px,#ccc500 471.5px,#d3b400 483.5px,#d7aa00 494.5px,#df9000 562.5px,#e57600 591.5px,#eb4700 620.5px,#ef0d00 649.5px,#f00000 660.5px,#e10005 661.5px,#680030 667.5px,#230053 671.5px,#160059 672.5px,#000065 675.5px,#00007c 681.5px,#0000c8 691.5px,#0025c7 717.5px,#0076c5 770.5px,#0087c5)"></i><i style="background:linear-gradient(#cec100,#cec100 258.5px,#cdc400 300.5px,#cec000 346.5px,#d3b400 391.5px,#ccc500 392.5px,#ccc500 471.5px,#d3b400 483.5px,#d7aa00 494.5px,#df9000 562.5px,#e57500 591.5px,#eb4700 619.5px,#ef0d00 648.5px,#f00100 659.5px,#e90003 660.5px,#6e002d 666.5px,#1a0057 671.5px,#030063 674.5px,#006 675.5px,#000079 680.5px,#0000c4 690.5px,#0001c8 691.5px,#0025c7 717.5px,#0075c5 769.5px,#0087c5)"></i><i style="background:linear-gradient(#cec100,#cec100 259.5px,#ccc400 299.5px,#cec100 346.5px,#d2b500 391.5px,#ccc500 392.5px,#ccc500 472.5px,#d3b300 484.5px,#d7a900 496.5px,#df9000 561.5px,#e57500 590.5px,#ec4600 619.5px,#ef0c00 648.5px,#f00100 658.5px,#ef0000 659.5px,#de0006 660.5px,#78002a 665.5px,#210054 670.5px,#150059 671.5px,#000065 674.5px,#007 679.5px,#0000c8 690.5px,#0024c7 716.5px,#0076c5 769.5px,#0088c5)"></i><i style="background:linear-gradient(#cec100,#cec100 260.5px,#ccc500 299.5px,#cdc200 346.5px,#d2b500 391.5px,#ccc500 392.5px,#ccc500 472.5px,#d3b300 484.5px,#d7a800 496.5px,#df8f00 561.5px,#e57500 590.5px,#eb4700 618.5px,#ef0d00 647.5px,#f00100 658.5px,#e60003 659.5px,#6c002e 665.5px,#270050 669.5px,#190058 670.5px,#010063 673.5px,#00007a 679.5px,#0000c5 689.5px,#0001c8 690.5px,#0025c7 716.5px,#0076c5 769.5px,#0088c5)"></i><i style="background:linear-gradient(#cec100,#cec100 260.5px,#ccc500 299.5px,#cdc200 346.5px,#d2b500 391.5px,#ccc500 392.5px,#ccc500 472.5px,#d3b300 484.5px,#d7a800 496.5px,#df8f00 560.5px,#e57500 589.5px,#ec4600 618.5px,#ef0c00 647.5px,#f00100 657.5px,#ef0000 658.5px,#77002a 664.5px,#200054 669.5px,#150059 670.5px,#000065 673.5px,#007 678.5px,#0000c8 689.5px,#0026c7 716.5px,#0075c5 768.5px,#0089c5)"></i><i style="background:linear-gradient(#cec100,#cec100 260.5px,#ccc500 303.5px,#cdc300 346.5px,#d2b600 391.5px,#ccc500 392.5px,#ccc500 473.5px,#d3b300 484.5px,#d8a800 496.5px,#e08f00 560.5px,#e67400 589.5px,#eb4700 617.5px,#ef0d00 646.5px,#f00100 657.5px,#e60003 658.5px,#6c002e 664.5px,#270050 668.5px,#180058 669.5px,#010063 672.5px,#00007a 678.5px,#0000c5 688.5px,#0001c8 689.5px,#0025c7 715.5px,#0076c5 768.5px,#0089c5)"></i><i style="background:linear-gradient(#cec000,#cec100 260.5px,#ccc500 309.5px,#cdc300 345.5px,#d2b600 391.5px,#ccc500 392.5px,#ccc500 473.5px,#d3b200 484.5px,#d8a700 496.5px,#e08f00 559.5px,#e57500 588.5px,#ec4600 617.5px,#ef0d00 646.5px,#f00000 657.5px,#e10005 658.5px,#670030 664.5px,#220053 668.5px,#160059 669.5px,#000065 672.5px,#007 677.5px,#0000c8 688.5px,#0026c7 715.5px,#0075c5 767.5px,#0089c5)"></i><i style="background:linear-gradient(#cec000,#cec000 261.5px,#ccc500 316.5px,#cdc300 345.5px,#d2b600 391.5px,#ccc500 392.5px,#ccc500 472.5px,#d4b200 484.5px,#d8a700 495.5px,#e08e00 559.5px,#e67400 588.5px,#eb4700 616.5px,#ef0d00 645.5px,#f00100 656.5px,#ea0002 657.5px,#71002c 663.5px,#1c0056 668.5px,#040062 671.5px,#006 672.5px,#000078 677.5px,#0000c4 687.5px,#0001c8 688.5px,#0025c7 714.5px,#0076c5 767.5px,#008ac5)"></i><i style="background:linear-gradient(#cec000,#cec000 261.5px,#ccc500 324.5px,#ccc400 344.5px,#d2b600 391.5px,#ccc500 392.5px,#ccc500 472.5px,#d3b300 483.5px,#d8a700 495.5px,#e08e00 558.5px,#e67400 587.5px,#ec4600 616.5px,#ef0d00 645.5px,#f00000 656.5px,#e10005 657.5px,#680030 663.5px,#230053 667.5px,#160059 668.5px,#000065 671.5px,#00007c 677.5px,#0000c7 687.5px,#0001c8 688.5px,#0025c7 714.5px,#0076c5 767.5px,#008ac5)"></i><i style="background:linear-gradient(#cec000,#cec000 261.5px,#ccc500 333.5px,#d2b700 391.5px,#ccc500 392.5px,#ccc500 471.5px,#d4b100 484.5px,#d8a600 495.5px,#e08e00 557.5px,#e67400 587.5px,#eb4600 615.5px,#ef0d00 644.5px,#f00100 655.5px,#ea0002 656.5px,#70002c 662.5px,#1c0056 667.5px,#040062 670.5px,#006 671.5px,#000078 676.5px,#0000c3 686.5px,#0001c8 687.5px,#0025c7 713.5px,#0075c5 766.5px,#008bc4)"></i><i style="background:linear-gradient(#cebf00,#cec000 261.5px,#ccc500 304.5px,#ccc500 341.5px,#d2b700 391.5px,#ccc500 392.5px,#ccc500 471.5px,#d4b100 483.5px,#d8a600 494.5px,#e08e00 557.5px,#e67400 586.5px,#ec4500 615.5px,#ef0c00 644.5px,#f00100 654.5px,#f00000 655.5px,#df0006 656.5px,#660031 662.5px,#220053 666.5px,#160059 667.5px,#000065 670.5px,#00007c 676.5px,#0000c6 686.5px,#0001c8 687.5px,#0025c7 713.5px,#0076c5 766.5px,#008bc4)"></i><i style="background:linear-gradient(#cebf00,#cebf00 262.5px,#ccc500 306.5px,#ccc500 340.5px,#d2b700 391.5px,#ccc500 392.5px,#ccc500 470.5px,#d4b000 483.5px,#d8a600 494.5px,#e08e00 556.5px,#e67400 585.5px,#ec4600 614.5px,#ef0d00 643.5px,#f00100 654.5px,#e60003 655.5px,#6d002e 661.5px,#1a0057 666.5px,#030063 669.5px,#006 670.5px,#000078 675.5px,#0000c3 685.5px,#0001c8 686.5px,#0024c7 712.5px,#0075c5 765.5px,#008cc4)"></i><i style="background:linear-gradient(#cebf00,#cebf00 263.5px,#ccc500 307.5px,#ccc500 338.5px,#d1b700 391.5px,#ccc500 392.5px,#ccc500 469.5px,#d4b000 483.5px,#d9a500 494.5px,#e08d00 556.5px,#e67300 585.5px,#eb4600 613.5px,#ef0c00 643.5px,#f00100 653.5px,#ee0001 654.5px,#76002a 660.5px,#200054 665.5px,#150059 666.5px,#000065 669.5px,#007 674.5px,#0000c7 685.5px,#0001c8 686.5px,#0025c7 712.5px,#0076c5 765.5px,#008cc4)"></i><i style="background:linear-gradient(#cebf00,#cebf00 263.5px,#ccc500 309.5px,#ccc500 337.5px,#d2b700 391.5px,#ccc500 392.5px,#ccc500 469.5px,#d4b100 481.5px,#d9a500 493.5px,#e08d00 555.5px,#e67300 584.5px,#ec4500 613.5px,#ef0d00 642.5px,#f00000 653.5px,#e30004 654.5px,#6a002f 660.5px,#260051 664.5px,#180058 665.5px,#010063 668.5px,#000079 674.5px,#0000c4 684.5px,#0000c8 685.5px,#0026c7 712.5px,#0076c5 765.5px,#008dc4)"></i><i style="background:linear-gradient(#cfbf00,#cebf00 264.5px,#ccc500 334.5px,#d2b700 391.5px,#ccc500 392.5px,#ccc500 467.5px,#d5af00 482.5px,#d9a500 493.5px,#e08d00 555.5px,#e67300 584.5px,#ec4600 612.5px,#ef0d00 641.5px,#f00100 652.5px,#eb0002 653.5px,#73002b 659.5px,#1e0055 664.5px,#050062 667.5px,#000065 668.5px,#007 673.5px,#0000c8 684.5px,#0025c7 711.5px,#0075c5 764.5px,#008dc4)"></i><i style="background:linear-gradient(#cfbe00,#cfbe00 265.5px,#ccc500 330.5px,#d2b600 391.5px,#ccc500 392.5px,#ccc500 466.5px,#d5af00 481.5px,#d9a400 492.5px,#e08d00 554.5px,#e67300 583.5px,#ec4500 612.5px,#ef0c00 641.5px,#f00000 652.5px,#e00006 653.5px,#680030 659.5px,#240052 663.5px,#170058 664.5px,#010064 667.5px,#00007a 673.5px,#0000c5 683.5px,#0000c8 684.5px,#0026c7 711.5px,#0076c5 764.5px,#008ec4)"></i><i style="background:linear-gradient(#cfbe00,#cfbe00 265.5px,#ccc500 326.5px,#d2b600 391.5px,#ccc500 392.5px,#ccc500 464.5px,#d5af00 480.5px,#d9a400 491.5px,#e08c00 554.5px,#e67200 583.5px,#ec4600 611.5px,#ef0d00 640.5px,#f00100 651.5px,#e80003 652.5px,#6f002d 658.5px,#1c0056 663.5px,#040062 666.5px,#006 667.5px,#000078 672.5px,#0000c8 683.5px,#0025c7 710.5px,#0076c5 764.5px,#008ec4)"></i><i style="background:linear-gradient(#cfbe00,#cfbe00 265.5px,#ccc400 325.5px,#d2b500 391.5px,#ccc500 392.5px,#ccc500 461.5px,#d6ac00 481.5px,#d9a300 491.5px,#e08c00 553.5px,#e67100 583.5px,#ec4500 611.5px,#ef0c00 640.5px,#f00000 651.5px,#e10005 652.5px,#680030 658.5px,#230053 662.5px,#160059 663.5px,#000064 666.5px,#00007b 672.5px,#0000c6 682.5px,#0000c8 683.5px,#0025c7 710.5px,#0076c5 763.5px,#008fc4)"></i><i style="background:linear-gradient(#cfbe00,#cfbe00 265.5px,#ccc400 325.5px,#d2b500 391.5px,#ccc500 392.5px,#ccc400 457.5px,#daa300 490.5px,#e08b00 553.5px,#e67100 582.5px,#ec4500 610.5px,#ef0c00 640.5px,#f00100 650.5px,#ef0000 651.5px,#77002a 657.5px,#200054 662.5px,#150059 663.5px,#000065 666.5px,#000078 671.5px,#0000c8 682.5px,#0025c7 709.5px,#0076c5 763.5px,#008fc4)"></i><i style="background:linear-gradient(#cfbd00,#cfbd00 265.5px,#cdc300 325.5px,#d3b500 391.5px,#ccc500 392.5px,#cdc200 456.5px,#cfbc00 464.5px,#daa200 490.5px,#e18a00 552.5px,#e67100 581.5px,#ec4400 610.5px,#ef0c00 639.5px,#f00000 650.5px,#e40004 651.5px,#6c002e 657.5px,#1a0057 662.5px,#030063 665.5px,#006 666.5px,#000078 671.5px,#0000c4 681.5px,#0000c8 682.5px,#0025c7 709.5px,#0075c5 762.5px,#0090c4)"></i><i style="background:linear-gradient(#cfbd00,#cfbd00 265.5px,#cdc300 325.5px,#d3b400 391.5px,#ccc500 392.5px,#cebf00 426.5px,#cfbe00 456.5px,#d1ba00 464.5px,#daa100 490.5px,#e18a00 552.5px,#e67000 581.5px,#ec4500 609.5px,#ef0d00 638.5px,#f00100 649.5px,#ed0001 650.5px,#75002b 656.5px,#200054 661.5px,#150059 662.5px,#000065 665.5px,#007 670.5px,#0000c6 681.5px,#0001c8 682.5px,#0026c7 709.5px,#0076c5 762.5px,#0090c4)"></i><i style="background:linear-gradient(#cfbd00,#cfbd00 265.5px,#cdc200 326.5px,#d3b400 391.5px,#ccc400 392.5px,#cfbd00 425.5px,#d0bb00 457.5px,#db9e00 492.5px,#e18900 551.5px,#e67000 580.5px,#ec4300 609.5px,#ef0c00 638.5px,#f00000 649.5px,#e10005 650.5px,#69002f 656.5px,#260051 660.5px,#180058 661.5px,#010063 664.5px,#000079 670.5px,#0000c3 680.5px,#0000c8 681.5px,#0025c7 708.5px,#0076c5 762.5px,#0090c4)"></i><i style="background:linear-gradient(#cfbd00,#cfbd00 265.5px,#cdc100 326.5px,#d3b300 391.5px,#cdc200 392.5px,#d0ba00 425.5px,#d1b800 457.5px,#dc9d00 492.5px,#e18800 551.5px,#e77000 579.5px,#ec4400 608.5px,#ef0d00 637.5px,#f00100 648.5px,#e90002 649.5px,#72002c 655.5px,#1e0055 660.5px,#050062 663.5px,#000065 664.5px,#007 669.5px,#0000c7 680.5px,#0001c8 681.5px,#0026c7 708.5px,#0075c5 761.5px,#0091c4)"></i><i style="background:linear-gradient(#cfbc00,#cfbc00 265.5px,#cec100 325.5px,#d3b300 391.5px,#cec000 392.5px,#d1b700 426.5px,#d2b500 457.5px,#dc9c00 492.5px,#e18800 550.5px,#e76f00 579.5px,#ec4300 608.5px,#ef0c00 637.5px,#f00100 647.5px,#ef0000 648.5px,#670031 655.5px,#240052 659.5px,#170059 660.5px,#010064 663.5px,#00007a 669.5px,#0000c4 679.5px,#0000c8 680.5px,#0025c7 707.5px,#0076c5 761.5px,#0091c4)"></i><i style="background:linear-gradient(#d0bc00,#cfbc00 265.5px,#cec000 326.5px,#d3b200 391.5px,#cfbe00 392.5px,#d2b500 426.5px,#d4b200 458.5px,#dc9b00 492.5px,#e18800 549.5px,#e76f00 578.5px,#ec4300 607.5px,#ef0c00 636.5px,#f00100 647.5px,#e60004 648.5px,#6e002d 654.5px,#1c0056 659.5px,#040062 662.5px,#006 663.5px,#000078 668.5px,#0000c8 679.5px,#0025c7 707.5px,#0077c5 761.5px,#0092c4)"></i><i style="background:linear-gradient(#d0bc00,#d0bc00 265.5px,#cec000 327.5px,#d4b200 391.5px,#d0bc00 392.5px,#d3b300 427.5px,#d5af00 458.5px,#dd9b00 492.5px,#e18700 549.5px,#e76e00 578.5px,#ec4200 607.5px,#ef0c00 636.5px,#f00100 646.5px,#ef0000 647.5px,#780029 653.5px,#220053 658.5px,#160059 659.5px,#000064 662.5px,#00007b 668.5px,#0000c5 678.5px,#0000c8 679.5px,#0025c7 706.5px,#0076c5 760.5px,#0092c4)"></i><i style="background:linear-gradient(#d0bc00,#d0bc00 265.5px,#cebf00 328.5px,#d4b200 391.5px,#d0ba00 392.5px,#d4b000 427.5px,#d6ac00 459.5px,#dd9a00 492.5px,#e18700 548.5px,#e76e00 577.5px,#ec4200 606.5px,#ef0c00 635.5px,#f00000 646.5px,#e50004 647.5px,#6e002d 653.5px,#1b0056 658.5px,#040062 661.5px,#006 662.5px,#000078 667.5px,#0000c8 678.5px,#0025c7 706.5px,#0076c5 760.5px,#0093c4)"></i><i style="background:linear-gradient(#d0bb00,#d0bb00 265.5px,#cfbe00 329.5px,#d4b100 391.5px,#d1b900 392.5px,#d5ae00 428.5px,#d7aa00 460.5px,#d90 492.5px,#e28600 548.5px,#e76e00 577.5px,#ec4300 605.5px,#ef0b00 635.5px,#f00100 645.5px,#ee0001 646.5px,#77002a 652.5px,#210053 657.5px,#160059 658.5px,#000065 661.5px,#00007b 667.5px,#0000c5 677.5px,#0000c8 678.5px,#0024c7 705.5px,#0075c5 759.5px,#0093c4)"></i><i style="background:linear-gradient(#d0bb00,#cfbe00 331.5px,#d4b100 391.5px,#d2b700 392.5px,#d6ac00 428.5px,#d8a700 461.5px,#dd9800 491.5px,#e28500 548.5px,#e76d00 577.5px,#ec4200 605.5px,#ef0c00 634.5px,#f00000 645.5px,#e20005 646.5px,#6b002f 652.5px,#280050 656.5px,#190057 657.5px,#030063 660.5px,#006 661.5px,#000078 666.5px,#0000c8 677.5px,#0025c7 705.5px,#0076c5 759.5px,#0094c4)"></i><i style="background:linear-gradient(#d0bb00,#cfbd00 333.5px,#d4b000 391.5px,#d2b600 392.5px,#d7aa00 429.5px,#d8a500 461.5px,#de9700 491.5px,#e28500 547.5px,#e76d00 576.5px,#ec4100 605.5px,#ef0b00 634.5px,#f00000 645.5px,#78002a 651.5px,#210053 656.5px,#160059 657.5px,#000065 660.5px,#00007c 666.5px,#0000c5 676.5px,#0000c8 677.5px,#0026c7 705.5px,#0076c5 759.5px,#0094c4)"></i><i style="background:linear-gradient(#d0bb00,#cfbd00 334.5px,#d4b000 391.5px,#d3b400 392.5px,#d7a900 429.5px,#d9a400 461.5px,#de9700 490.5px,#e28500 546.5px,#e76d00 575.5px,#ec4200 604.5px,#ef0c00 633.5px,#f00100 644.5px,#e90002 645.5px,#73002b 651.5px,#1e0055 656.5px,#050062 659.5px,#000065 660.5px,#007 665.5px,#0000c8 676.5px,#0025c7 704.5px,#0076c5 758.5px,#0095c4)"></i><i style="background:linear-gradient(#d0ba00,#cfbc00 335.5px,#d5af00 391.5px,#d3b300 392.5px,#d8a700 430.5px,#daa200 460.5px,#e28400 546.5px,#e76c00 575.5px,#ec4000 604.5px,#ef0b00 633.5px,#f00100 643.5px,#ef0000 644.5px,#680030 651.5px,#250051 655.5px,#180058 656.5px,#010063 659.5px,#000079 665.5px,#0000c8 676.5px,#0026c7 704.5px,#0076c5 758.5px,#0095c4)"></i><i style="background:linear-gradient(#d0ba00,#d0bc00 335.5px,#d5af00 391.5px,#d3b200 392.5px,#d8a600 430.5px,#daa100 460.5px,#e28400 545.5px,#e76c00 574.5px,#ec4100 603.5px,#ef0c00 632.5px,#f00000 643.5px,#e50004 644.5px,#6f002d 650.5px,#1d0056 655.5px,#050062 658.5px,#000065 659.5px,#007 664.5px,#0000c6 675.5px,#0000c8 676.5px,#0025c7 703.5px,#0075c5 757.5px,#0095c4)"></i><i style="background:linear-gradient(#d0ba00,#d0bb00 336.5px,#d5af00 391.5px,#d4b100 392.5px,#d9a400 430.5px,#db9f00 459.5px,#e28300 544.5px,#e76b00 574.5px,#ec4100 602.5px,#ef0b00 632.5px,#f00100 642.5px,#ed0001 643.5px,#77002a 649.5px,#230053 654.5px,#170059 655.5px,#010064 658.5px,#000079 664.5px,#0000c8 675.5px,#0025c7 703.5px,#0076c5 757.5px,#0096c4)"></i><i style="background:linear-gradient(#d0ba00,#d0bb00 336.5px,#d5ae00 391.5px,#d4b000 392.5px,#d9a300 430.5px,#db9e00 459.5px,#e28200 544.5px,#e76b00 573.5px,#ec4000 602.5px,#ef0b00 631.5px,#f00000 642.5px,#e10005 643.5px,#6c002e 649.5px,#1b0057 654.5px,#040062 657.5px,#006 658.5px,#007 663.5px,#0000c6 674.5px,#0000c8 675.5px,#0025c7 702.5px,#0076c5 757.5px,#0096c4)"></i><i style="background:linear-gradient(#d1b900,#d0ba00 337.5px,#d5af00 392.5px,#daa200 430.5px,#dc9c00 460.5px,#e28200 543.5px,#e76b00 572.5px,#ec4000 601.5px,#ef0c00 630.5px,#f00100 641.5px,#ea0002 642.5px,#74002b 648.5px,#200054 653.5px,#160059 654.5px,#000065 657.5px,#00007a 663.5px,#0000c8 674.5px,#0025c7 702.5px,#0076c5 756.5px,#0097c4)"></i><i style="background:linear-gradient(#d1b900,#d0ba00 337.5px,#d5af00 392.5px,#daa100 430.5px,#dd9a00 462.5px,#e38100 543.5px,#e76a00 572.5px,#ec3f00 601.5px,#ef0b00 630.5px,#f00100 640.5px,#ef0000 641.5px,#690030 648.5px,#190058 653.5px,#030063 656.5px,#006 657.5px,#000078 662.5px,#0000c7 673.5px,#0000c8 674.5px,#0024c7 701.5px,#0076c5 756.5px,#0097c4)"></i><i style="background:linear-gradient(#d1b900,#d0ba00 334.5px,#d5ae00 392.5px,#dba000 429.5px,#dd9a00 461.5px,#e38000 543.5px,#e86900 572.5px,#ec4000 600.5px,#ef0c00 629.5px,#f00000 640.5px,#e60004 641.5px,#71002c 647.5px,#1e0055 652.5px,#000065 656.5px,#00007b 662.5px,#0000c3 672.5px,#0000c8 673.5px,#0025c7 701.5px,#0075c5 755.5px,#0098c4)"></i><i style="background:linear-gradient(#d1b900,#d1b900 335.5px,#d5ad00 392.5px,#db9f00 430.5px,#e38000 542.5px,#e86900 571.5px,#ec4000 599.5px,#ef0b00 629.5px,#f00100 639.5px,#ed0001 640.5px,#78002a 646.5px,#240052 651.5px,#170058 652.5px,#010063 655.5px,#000078 661.5px,#0000c7 672.5px,#0000c8 673.5px,#0026c7 701.5px,#0076c5 755.5px,#0098c4)"></i><i style="background:linear-gradient(#d1b900,#d1b900 335.5px,#d6ad00 392.5px,#dc9e00 431.5px,#e37f00 542.5px,#e86800 571.5px,#ec3f00 599.5px,#ef0b00 628.5px,#f00000 639.5px,#e10005 640.5px,#6d002e 646.5px,#1c0056 651.5px,#050062 654.5px,#000065 655.5px,#00007c 661.5px,#0000c4 671.5px,#0000c8 672.5px,#0025c7 700.5px,#0076c5 755.5px,#0098c4)"></i><i style="background:linear-gradient(#d1b800,#d1b900 334.5px,#d3b300 369.5px,#dc9d00 432.5px,#e37f00 541.5px,#e86800 570.5px,#ec3f00 598.5px,#ef0c00 627.5px,#f00100 638.5px,#eb0002 639.5px,#75002a 645.5px,#220053 650.5px,#160059 651.5px,#010064 654.5px,#000079 660.5px,#0000c7 671.5px,#0026c7 700.5px,#0075c5 754.5px,#0098c4)"></i><i style="background:linear-gradient(#d1b800,#d1b800 334.5px,#d3b300 368.5px,#dc9c00 432.5px,#e37f00 540.5px,#e86600 570.5px,#ec3e00 598.5px,#ef0b00 627.5px,#f00000 638.5px,#e00005 639.5px,#6d002e 645.5px,#1c0056 650.5px,#040062 653.5px,#000065 654.5px,#007 659.5px,#0000c5 670.5px,#0000c8 671.5px,#0025c7 699.5px,#0076c5 754.5px,#0099c4)"></i><i style="background:linear-gradient(#d1b800,#d1b800 334.5px,#d3b300 367.5px,#dd9b00 432.5px,#e37e00 540.5px,#e86700 569.5px,#ec3f00 597.5px,#ef0c00 626.5px,#f00100 637.5px,#e80003 638.5px,#74002b 644.5px,#210053 649.5px,#160059 650.5px,#010064 653.5px,#000079 659.5px,#0000c7 670.5px,#0025c7 699.5px,#0077c5 754.5px,#0099c4)"></i><i style="background:linear-gradient(#d1b800,#d1b800 334.5px,#d3b200 367.5px,#dd9a00 433.5px,#e47d00 540.5px,#e86600 569.5px,#ec3e00 597.5px,#ef0b00 626.5px,#f00100 636.5px,#ee0001 637.5px,#69002f 644.5px,#1a0057 649.5px,#040062 652.5px,#006 653.5px,#007 658.5px,#0000c4 669.5px,#0000c8 670.5px,#0025c7 698.5px,#0076c5 753.5px,#0099c4)"></i><i style="background:linear-gradient(#d1b700,#d1b800 334.5px,#d3b200 366.5px,#d90 433.5px,#e47d00 539.5px,#e86600 568.5px,#ec3e00 596.5px,#ef0c00 625.5px,#f00100 636.5px,#e90002 637.5px,#74002b 643.5px,#200054 648.5px,#160059 649.5px,#000064 652.5px,#00007a 658.5px,#0000c7 669.5px,#0025c7 698.5px,#0076c5 753.5px,#0099c4)"></i><i style="background:linear-gradient(#d1b700,#d1b700 334.5px,#d3b200 365.5px,#dd9800 434.5px,#e47d00 538.5px,#e86500 568.5px,#ec3d00 596.5px,#ef0b00 625.5px,#f00000 636.5px,#e40004 637.5px,#70002c 643.5px,#1e0055 648.5px,#050061 651.5px,#000065 652.5px,#007 657.5px,#0000c4 668.5px,#0000c8 669.5px,#0024c7 697.5px,#0075c5 752.5px,#009ac4)"></i><i style="background:linear-gradient(#d2b700,#d2b700 334.5px,#d4b200 365.5px,#de9700 434.5px,#e47c00 538.5px,#e86500 567.5px,#ec3e00 595.5px,#ef0c00 624.5px,#f00100 635.5px,#eb0002 636.5px,#78002a 642.5px,#260051 647.5px,#180058 648.5px,#020063 651.5px,#006 652.5px,#007 657.5px,#0000c6 668.5px,#0000c8 669.5px,#0025c7 697.5px,#0076c5 752.5px,#009ac4)"></i><i style="background:linear-gradient(#d2b700,#d2b700 334.5px,#d4b200 364.5px,#de9700 434.5px,#e47c00 537.5px,#e86400 567.5px,#ec3c00 595.5px,#ef0b00 624.5px,#f00100 634.5px,#f00000 635.5px,#e00005 636.5px,#6e002d 642.5px,#1d0055 647.5px,#000065 651.5px,#00007a 657.5px,#0000c8 668.5px,#0026c7 697.5px,#0076c5 752.5px,#009ac4)"></i><i style="background:linear-gradient(#d2b600,#d2b600 334.5px,#d4b200 364.5px,#de9600 434.5px,#e47b00 537.5px,#e86400 566.5px,#ec3d00 594.5px,#ef0b00 623.5px,#f00100 634.5px,#e80003 635.5px,#74002b 641.5px,#230052 646.5px,#170058 647.5px,#010063 650.5px,#000078 656.5px,#0000c5 667.5px,#0000c8 668.5px,#0025c7 696.5px,#0076c5 751.5px,#009ac4)"></i><i style="background:linear-gradient(#d2b600,#d2b600 334.5px,#d4b100 363.5px,#de9500 434.5px,#e47a00 536.5px,#e86400 565.5px,#ec3d00 593.5px,#ef0a00 623.5px,#f00100 633.5px,#ee0001 634.5px,#6b002f 641.5px,#1b0056 646.5px,#050062 649.5px,#000065 650.5px,#00007b 656.5px,#0000c8 667.5px,#0025c7 696.5px,#0076c5 751.5px,#009ac4)"></i><i style="background:linear-gradient(#d2b600,#d2b600 334.5px,#d4b100 363.5px,#de9500 434.5px,#e47a00 536.5px,#e86300 565.5px,#ec3c00 593.5px,#ef0b00 622.5px,#f00000 633.5px,#e40004 634.5px,#71002c 640.5px,#210054 645.5px,#160059 646.5px,#010064 649.5px,#000078 655.5px,#0000c5 666.5px,#0000c8 667.5px,#0025c7 695.5px,#0077c5 751.5px,#009bc4)"></i><i style="background:linear-gradient(#d2b600,#d2b600 334.5px,#d4b100 362.5px,#de9400 434.5px,#e47900 535.5px,#e86300 564.5px,#ec3c00 592.5px,#ef0c00 621.5px,#f00100 632.5px,#eb0002 633.5px,#670030 640.5px,#1a0057 645.5px,#040062 648.5px,#006 649.5px,#00007c 655.5px,#0000c8 666.5px,#0025c7 695.5px,#0076c5 750.5px,#0098c4 778.5px,#009bc4)"></i><i style="background:linear-gradient(#d2b500,#d2b500 334.5px,#d4b100 362.5px,#df9300 434.5px,#e47900 534.5px,#e86200 564.5px,#ec3b00 592.5px,#ef0b00 621.5px,#f00000 632.5px,#e00005 633.5px,#6f002d 639.5px,#1e0055 644.5px,#000064 648.5px,#000079 654.5px,#0000c6 665.5px,#0000c8 666.5px,#0024c7 694.5px,#0076c5 750.5px,#0097c4 777.5px,#009bc4)"></i><i style="background:linear-gradient(#d2b500,#d2b500 334.5px,#d4b000 362.5px,#df9300 434.5px,#e57800 534.5px,#e86200 563.5px,#ec3c00 591.5px,#ef0b00 620.5px,#f00100 631.5px,#e70003 632.5px,#75002a 638.5px,#250052 643.5px,#180058 644.5px,#020063 647.5px,#006 648.5px,#007 653.5px,#0000c8 665.5px,#0025c7 694.5px,#0076c5 749.5px,#0097c4 777.5px,#009bc4)"></i><i style="background:linear-gradient(#d2b500,#d2b500 334.5px,#d4b000 362.5px,#df9300 434.5px,#e57900 533.5px,#e86100 563.5px,#ec3b00 591.5px,#ef0a00 620.5px,#f00100 630.5px,#ee0001 631.5px,#6c002e 638.5px,#1c0056 643.5px,#000065 647.5px,#00007a 653.5px,#0000c7 664.5px,#0000c8 665.5px,#0024c7 693.5px,#0076c5 749.5px,#0097c4 776.5px,#009cc4)"></i><i style="background:linear-gradient(#d3b400,#d3b400 334.5px,#d4b000 362.5px,#df9200 433.5px,#e57800 533.5px,#e86200 562.5px,#ec3b00 590.5px,#ef0b00 619.5px,#f00000 630.5px,#e40004 631.5px,#73002b 637.5px,#220053 642.5px,#170059 643.5px,#010063 646.5px,#007 652.5px,#0000c8 664.5px,#0025c7 693.5px,#0077c5 749.5px,#0097c4 776.5px,#009cc4)"></i><i style="background:linear-gradient(#d3b400,#d3b400 334.5px,#d4b000 361.5px,#df9200 433.5px,#e57800 532.5px,#e86200 561.5px,#ec3c00 589.5px,#ef0a00 619.5px,#f00100 629.5px,#ed0001 630.5px,#6b002e 637.5px,#1c0056 642.5px,#000065 646.5px,#00007b 652.5px,#0000c7 663.5px,#0000c8 664.5px,#0026c7 693.5px,#0076c5 748.5px,#0097c4 776.5px,#009cc4)"></i><i style="background:linear-gradient(#d3b400,#d3b400 334.5px,#d4b000 361.5px,#df9200 433.5px,#e57700 532.5px,#e86100 561.5px,#ec3b00 589.5px,#ef0b00 618.5px,#f00000 629.5px,#e30005 630.5px,#72002c 636.5px,#220053 641.5px,#170059 642.5px,#010063 645.5px,#007 651.5px,#0000c8 663.5px,#0025c7 692.5px,#0076c5 748.5px,#0097c4 775.5px,#009cc4)"></i><i style="background:linear-gradient(#d3b400,#d3b400 334.5px,#d5af00 361.5px,#df9100 433.5px,#e57700 531.5px,#e96000 561.5px,#ec3b00 588.5px,#ef0b00 617.5px,#f00100 628.5px,#ea0002 629.5px,#680030 636.5px,#1b0057 641.5px,#000065 645.5px,#00007b 651.5px,#0000c7 662.5px,#0000c8 663.5px,#0025c7 692.5px,#0077c5 748.5px,#0097c4 775.5px,#009dc4)"></i><i style="background:linear-gradient(#d3b300,#d3b300 334.5px,#d5af00 361.5px,#df9100 433.5px,#e57700 531.5px,#e96100 560.5px,#ec3b00 588.5px,#ef0b00 617.5px,#f00000 628.5px,#e20005 629.5px,#70002c 635.5px,#200054 640.5px,#160059 641.5px,#010064 644.5px,#000078 650.5px,#0000c8 662.5px,#0025c7 691.5px,#0076c5 747.5px,#0098c4 775.5px,#009dc4)"></i><i style="background:linear-gradient(#d3b300,#d3b300 334.5px,#d5af00 361.5px,#df9000 433.5px,#e57700 530.5px,#e96000 560.5px,#ec3b00 587.5px,#ef0a00 617.5px,#f00100 627.5px,#ee0001 628.5px,#6c002e 635.5px,#1c0056 640.5px,#000065 644.5px,#00007b 650.5px,#0000c7 661.5px,#0000c8 662.5px,#0025c7 691.5px,#0076c5 747.5px,#0097c4 774.5px,#009dc4)"></i><i style="background:linear-gradient(#d3b300,#d3b300 334.5px,#d5ae00 361.5px,#df9000 433.5px,#e57600 530.5px,#e96000 559.5px,#ec3a00 587.5px,#ef0b00 616.5px,#f00000 627.5px,#e30004 628.5px,#73002b 634.5px,#240052 639.5px,#180058 640.5px,#020063 643.5px,#006 644.5px,#00007c 650.5px,#0000c8 661.5px,#0024c7 690.5px,#0076c5 746.5px,#0097c4 774.5px,#009dc4)"></i><i style="background:linear-gradient(#d3b200,#d3b200 334.5px,#d5ae00 361.5px,#df9000 433.5px,#e57600 529.5px,#e96000 558.5px,#ec3b00 586.5px,#ef0a00 616.5px,#f00100 626.5px,#ed0001 627.5px,#6b002e 634.5px,#1d0056 639.5px,#000065 643.5px,#000079 649.5px,#0000c5 660.5px,#0000c8 661.5px,#0025c7 690.5px,#0076c5 746.5px,#0098c4 774.5px,#009ec4)"></i><i style="background:linear-gradient(#d3b200,#d3b200 334.5px,#d5ae00 361.5px,#df8f00 433.5px,#e57600 528.5px,#e95f00 558.5px,#ec3a00 586.5px,#ef0a00 615.5px,#f00000 626.5px,#e20005 627.5px,#72002c 633.5px,#240052 638.5px,#180058 639.5px,#020063 642.5px,#006 643.5px,#00007c 649.5px,#0000c8 660.5px,#0024c7 689.5px,#0077c5 746.5px,#0097c4 773.5px,#009ec4)"></i><i style="background:linear-gradient(#d4b200,#d4b200 334.5px,#d5ae00 361.5px,#df8f00 432.5px,#e57500 528.5px,#e96000 557.5px,#ec3a00 585.5px,#ef0b00 614.5px,#f00100 625.5px,#ea0002 626.5px,#69002f 633.5px,#1c0056 638.5px,#000065 642.5px,#000079 648.5px,#0000c4 659.5px,#0000c8 660.5px,#0025c7 689.5px,#0076c5 745.5px,#0097c4 773.5px,#009ec4)"></i><i style="background:linear-gradient(#d4b200,#d4b200 334.5px,#d5ad00 361.5px,#e08f00 432.5px,#e57500 527.5px,#e95f00 557.5px,#ed3900 585.5px,#ef0a00 614.5px,#f00100 624.5px,#ef0000 625.5px,#6f002d 632.5px,#210053 637.5px,#160059 638.5px,#010063 641.5px,#007 647.5px,#0000c8 659.5px,#0025c7 689.5px,#0076c5 745.5px,#0098c4 773.5px,#009ec4)"></i><i style="background:linear-gradient(#d4b100,#d4b100 334.5px,#d6ad00 361.5px,#e08e00 432.5px,#e57500 527.5px,#e95f00 556.5px,#ec3a00 584.5px,#ef0b00 613.5px,#f00000 624.5px,#e60003 625.5px,#77002a 631.5px,#1a0057 637.5px,#000065 641.5px,#00007a 647.5px,#0000c5 658.5px,#0000c8 659.5px,#0025c7 688.5px,#0076c5 744.5px,#0097c4 772.5px,#009fc4)"></i><i style="background:linear-gradient(#d4b100,#d4b100 334.5px,#d6ad00 360.5px,#e08e00 432.5px,#e57500 526.5px,#e95e00 556.5px,#ec3a00 583.5px,#ef0a00 613.5px,#f00100 623.5px,#ed0001 624.5px,#6d002e 631.5px,#1f0055 636.5px,#010064 640.5px,#007 646.5px,#0000c8 658.5px,#0025c7 688.5px,#0076c5 744.5px,#0097c4 772.5px,#009fc4)"></i><i style="background:linear-gradient(#d4b100,#d4b100 334.5px,#d6ad00 360.5px,#e08e00 432.5px,#e67400 526.5px,#e95f00 555.5px,#ed3a00 583.5px,#ef0a00 612.5px,#f00000 623.5px,#e20005 624.5px,#74002b 630.5px,#260051 635.5px,#190058 636.5px,#040062 639.5px,#006 640.5px,#00007b 646.5px,#0000c6 657.5px,#0000c8 658.5px,#0025c7 687.5px,#0077c5 744.5px,#0097c4 771.5px,#009fc4)"></i><i style="background:linear-gradient(#d4b000,#d4b000 334.5px,#d6ac00 360.5px,#e08d00 432.5px,#e67400 525.5px,#e95e00 555.5px,#ed3900 583.5px,#ef0a00 612.5px,#f00100 622.5px,#ef0000 623.5px,#6c002e 630.5px,#1d0055 635.5px,#000064 639.5px,#000078 645.5px,#0000c8 657.5px,#0025c7 687.5px,#0076c5 743.5px,#0097c4 771.5px,#009fc4)"></i><i style="background:linear-gradient(#d4b000,#d4b000 334.5px,#d6ac00 360.5px,#e08d00 432.5px,#e67400 525.5px,#e95e00 554.5px,#ed3900 582.5px,#ef0b00 611.5px,#f00100 622.5px,#e90002 623.5px,#69002f 630.5px,#1b0056 635.5px,#000065 639.5px,#00007a 645.5px,#0000c6 656.5px,#0000c8 657.5px,#0024c7 686.5px,#0076c5 743.5px,#0098c4 771.5px,#009fc4)"></i><i style="background:linear-gradient(#d4b000,#d4b000 334.5px,#d6ac00 360.5px,#e18800 444.5px,#e67400 524.5px,#e95d00 554.5px,#ed3800 582.5px,#ef0a00 611.5px,#f00100 621.5px,#ef0000 622.5px,#70002c 629.5px,#230053 634.5px,#170058 635.5px,#10005c 636.5px,#020063 638.5px,#006 639.5px,#00007b 645.5px,#0000c7 656.5px,#0000c8 657.5px,#0025c7 686.5px,#0077c5 743.5px,#0097c4 770.5px,#00a0c4)"></i><i style="background:linear-gradient(#d4b000,#d5af00 334.5px,#d6ab00 360.5px,#e18800 444.5px,#e67300 524.5px,#e95e00 553.5px,#ed3900 581.5px,#ef0a00 610.5px,#f00000 621.5px,#e60004 622.5px,#670030 629.5px,#1b0057 634.5px,#000065 638.5px,#000079 644.5px,#0000c8 656.5px,#0024c7 685.5px,#0076c5 742.5px,#0097c4 770.5px,#00a0c4)"></i><i style="background:linear-gradient(#d5af00,#d5af00 334.5px,#d6ab00 360.5px,#e18800 444.5px,#e67300 523.5px,#e95e00 552.5px,#ed3900 580.5px,#ef0a00 610.5px,#f00100 620.5px,#ed0001 621.5px,#6d002e 628.5px,#200054 633.5px,#160059 634.5px,#010063 637.5px,#00007c 644.5px,#0000c6 655.5px,#0000c8 656.5px,#0025c7 685.5px,#0077c5 742.5px,#0098c4 770.5px,#00a0c4)"></i><i style="background:linear-gradient(#d5af00,#d5af00 334.5px,#d6ab00 360.5px,#e18700 443.5px,#e67200 523.5px,#e95d00 552.5px,#ed3800 580.5px,#ef0a00 609.5px,#f00000 620.5px,#e20005 621.5px,#75002b 627.5px,#280050 632.5px,#1a0057 633.5px,#000065 637.5px,#000079 643.5px,#0000c8 655.5px,#0025c7 685.5px,#0076c5 741.5px,#0097c4 769.5px,#00a0c4)"></i><i style="background:linear-gradient(#d5af00,#d5af00 334.5px,#d6ab00 360.5px,#e18700 443.5px,#e67200 522.5px,#e95d00 551.5px,#ed3900 579.5px,#ef0b00 608.5px,#f00100 619.5px,#e90002 620.5px,#6a002f 627.5px,#1e0055 632.5px,#010064 636.5px,#007 642.5px,#0000c7 654.5px,#0000c8 655.5px,#0025c7 684.5px,#0076c5 741.5px,#0097c4 769.5px,#00a1c4)"></i><i style="background:linear-gradient(#d5ae00,#d5ae00 334.5px,#d7aa00 360.5px,#e18700 443.5px,#e67200 522.5px,#e95d00 551.5px,#ed3800 579.5px,#ef0a00 608.5px,#f00100 618.5px,#ef0000 619.5px,#71002c 626.5px,#250052 631.5px,#180058 632.5px,#030062 635.5px,#006 636.5px,#00007a 642.5px,#0000c4 653.5px,#0000c8 654.5px,#0025c7 684.5px,#0077c5 741.5px,#0098c4 769.5px,#00a1c4)"></i><i style="background:linear-gradient(#d5ae00,#d5ae00 334.5px,#d7aa00 360.5px,#e28600 443.5px,#e67200 521.5px,#e95d00 550.5px,#ed3900 578.5px,#ef0b00 607.5px,#f00100 618.5px,#ea0002 619.5px,#6a002f 626.5px,#1d0056 631.5px,#000064 635.5px,#000078 641.5px,#0000c7 653.5px,#0000c8 654.5px,#0024c7 683.5px,#0076c5 740.5px,#0097c4 768.5px,#00a1c4)"></i><i style="background:linear-gradient(#d5ae00,#d5ae00 334.5px,#d7aa00 360.5px,#e28600 443.5px,#e67100 521.5px,#e95c00 550.5px,#ed3800 578.5px,#ef0a00 607.5px,#f00000 618.5px,#e50004 619.5px,#670030 626.5px,#1b0057 631.5px,#000065 635.5px,#00007a 641.5px,#0000c4 652.5px,#0000c8 653.5px,#0025c7 683.5px,#0076c5 740.5px,#0097c4 768.5px,#00a1c4)"></i><i style="background:linear-gradient(#d5ad00,#d5ad00 334.5px,#d7a900 360.5px,#e28500 443.5px,#e67100 520.5px,#e95d00 549.5px,#ed3800 577.5px,#ef0b00 606.5px,#f00100 617.5px,#ec0001 618.5px,#6e002d 625.5px,#220053 630.5px,#170059 631.5px,#020063 634.5px,#006 635.5px,#00007b 641.5px,#0000c5 652.5px,#0000c8 653.5px,#0024c7 682.5px,#0077c5 740.5px,#0098c4 768.5px,#00a2c4)"></i><i style="background:linear-gradient(#d5ad00,#d5ad00 334.5px,#d7a900 360.5px,#e28500 443.5px,#e67100 520.5px,#e95c00 549.5px,#ed3800 577.5px,#ef0a00 606.5px,#f00000 617.5px,#e20005 618.5px,#76002a 624.5px,#1a0057 630.5px,#000065 634.5px,#000078 640.5px,#0000c7 652.5px,#0000c8 653.5px,#0025c7 682.5px,#0076c5 739.5px,#0097c4 767.5px,#00a2c4)"></i><i style="background:linear-gradient(#d6ad00,#d6ad00 334.5px,#d7a900 360.5px,#e28500 443.5px,#e67100 519.5px,#e95c00 548.5px,#ed3800 576.5px,#ef0b00 605.5px,#f00100 616.5px,#e90002 617.5px,#6b002e 624.5px,#1f0054 629.5px,#010063 633.5px,#00007b 640.5px,#0000c5 651.5px,#0000c8 652.5px,#0026c7 682.5px,#0077c5 739.5px,#0097c4 767.5px,#00a2c4)"></i><i style="background:linear-gradient(#d6ad00,#d6ad00 334.5px,#d7a900 360.5px,#e28500 442.5px,#e67100 518.5px,#e95b00 548.5px,#ed3700 576.5px,#ef0a00 605.5px,#f00100 615.5px,#ef0000 616.5px,#e10005 617.5px,#75002b 623.5px,#1a0057 629.5px,#000065 633.5px,#000079 639.5px,#0000c8 651.5px,#0025c7 681.5px,#0076c5 738.5px,#0097c4 766.5px,#00a2c4)"></i><i style="background:linear-gradient(#d6ac00,#d6ac00 334.5px,#d7a800 360.5px,#e28400 442.5px,#e67000 518.5px,#e95c00 547.5px,#ed3800 575.5px,#ef0a00 604.5px,#f00000 615.5px,#e80003 616.5px,#6a002f 623.5px,#1f0054 628.5px,#010063 632.5px,#00007b 639.5px,#0000c4 650.5px,#0000c8 651.5px,#0025c7 681.5px,#0076c5 738.5px,#0097c4 766.5px,#00a2c4)"></i><i style="background:linear-gradient(#d6ac00,#d6ac00 334.5px,#d7a800 360.5px,#e28400 442.5px,#e67100 517.5px,#e95c00 546.5px,#ed3800 574.5px,#ef0a00 604.5px,#f00100 614.5px,#ee0001 615.5px,#72002c 622.5px,#260051 627.5px,#190057 628.5px,#000065 632.5px,#000079 638.5px,#0000c7 650.5px,#0000c8 651.5px,#0025c7 680.5px,#0077c5 738.5px,#0098c4 766.5px,#00a3c4)"></i><i style="background:linear-gradient(#d6ac00,#d6ac00 334.5px,#d8a800 360.5px,#e28400 442.5px,#e77000 517.5px,#e95b00 546.5px,#ed3700 574.5px,#ef0a00 603.5px,#f00000 614.5px,#e40004 615.5px,#680030 622.5px,#1d0056 627.5px,#010064 631.5px,#00007c 638.5px,#0000c5 649.5px,#0000c8 650.5px,#0025c7 680.5px,#0076c5 737.5px,#0097c4 765.5px,#00a3c4)"></i><i style="background:linear-gradient(#d6ab00,#d6ab00 334.5px,#d8a700 360.5px,#e28300 442.5px,#e77000 516.5px,#e95b00 545.5px,#ed3800 573.5px,#ef0b00 602.5px,#f00100 613.5px,#eb0002 614.5px,#6e002d 621.5px,#240052 626.5px,#180058 627.5px,#030062 630.5px,#006 631.5px,#000079 637.5px,#0000c8 649.5px,#0024c7 679.5px,#0077c5 737.5px,#0097c4 765.5px,#00a3c4)"></i><i style="background:linear-gradient(#d6ab00,#d6ab00 334.5px,#d8a700 360.5px,#e28300 442.5px,#e77000 515.5px,#e95a00 545.5px,#ed3700 573.5px,#ef0a00 602.5px,#f00100 612.5px,#f00000 613.5px,#e10005 614.5px,#76002a 620.5px,#1b0056 626.5px,#000064 630.5px,#007 636.5px,#0000c5 648.5px,#0000c8 649.5px,#0025c7 679.5px,#0076c5 736.5px,#0098c4 765.5px,#00a3c4)"></i><i style="background:linear-gradient(#d6ab00,#d6ab00 334.5px,#d8a700 360.5px,#e28300 441.5px,#e76f00 515.5px,#e95b00 544.5px,#ed3700 572.5px,#ef0a00 601.5px,#f00000 612.5px,#e70003 613.5px,#6b002e 620.5px,#210054 625.5px,#170059 626.5px,#020063 629.5px,#006 630.5px,#00007a 636.5px,#0000c8 648.5px,#0024c7 678.5px,#0076c5 736.5px,#0097c4 764.5px,#00a4c4)"></i><i style="background:linear-gradient(#d6ab00,#d6ab00 334.5px,#d8a700 360.5px,#e28200 441.5px,#e76f00 514.5px,#e95b00 543.5px,#ed3800 571.5px,#ef0900 601.5px,#f00100 611.5px,#ee0001 612.5px,#73002b 619.5px,#1a0057 625.5px,#000065 629.5px,#000078 635.5px,#0000c6 647.5px,#0000c8 648.5px,#0025c7 678.5px,#0077c5 736.5px,#0097c4 764.5px,#00a4c4)"></i><i style="background:linear-gradient(#d7aa00,#d7aa00 334.5px,#d8a600 360.5px,#e28200 441.5px,#e76f00 513.5px,#e95a00 543.5px,#ed3700 571.5px,#ef0a00 600.5px,#f00000 611.5px,#e40004 612.5px,#690030 619.5px,#1e0055 624.5px,#010063 628.5px,#006 629.5px,#00007a 635.5px,#0000c8 647.5px,#0024c7 677.5px,#0076c5 735.5px,#0098c4 764.5px,#00a4c4)"></i><i style="background:linear-gradient(#d7aa00,#d7aa00 334.5px,#d8a600 360.5px,#e38200 441.5px,#e76f00 513.5px,#e95a00 542.5px,#ed3700 570.5px,#ef0b00 599.5px,#f00100 610.5px,#eb0002 611.5px,#70002c 618.5px,#250051 623.5px,#190058 624.5px,#000065 628.5px,#000078 634.5px,#0000c6 646.5px,#0000c8 647.5px,#0025c7 677.5px,#0076c5 735.5px,#0097c4 763.5px,#00a4c4)"></i><i style="background:linear-gradient(#d7aa00,#d7aa00 334.5px,#d8a600 360.5px,#e38100 441.5px,#e76f00 512.5px,#e95a00 541.5px,#ed3700 569.5px,#ef0a00 599.5px,#f00000 610.5px,#e20005 611.5px,#670030 618.5px,#1c0056 623.5px,#010064 627.5px,#00007b 634.5px,#0000c8 646.5px,#0025c7 677.5px,#0077c5 735.5px,#0097c4 763.5px,#00a4c4)"></i><i style="background:linear-gradient(#d7a900,#d7a900 334.5px,#d8a500 360.5px,#e38100 440.5px,#e76f00 511.5px,#e95a00 540.5px,#ed3600 569.5px,#ef0a00 598.5px,#f00000 609.5px,#e70003 610.5px,#6e002d 617.5px,#250052 622.5px,#180058 623.5px,#000065 627.5px,#000078 633.5px,#0000c7 645.5px,#0000c8 646.5px,#0025c7 676.5px,#0076c5 734.5px,#0098c4 763.5px,#00a5c4)"></i><i style="background:linear-gradient(#d7a900,#d7a900 334.5px,#d9a500 360.5px,#e38100 440.5px,#e76f00 510.5px,#e95900 540.5px,#ed3600 568.5px,#ef0a00 597.5px,#f00000 608.5px,#e70003 609.5px,#6e002d 616.5px,#250052 621.5px,#190057 622.5px,#000064 626.5px,#00007b 633.5px,#0000c8 645.5px,#0000c8 647.5px,#0025c7 676.5px,#0077c5 734.5px,#0097c4 762.5px,#00a5c4)"></i><i style="background:linear-gradient(#d7a900,#d7a900 334.5px,#d9a500 360.5px,#e38000 440.5px,#e76e00 510.5px,#e95a00 539.5px,#ed3700 567.5px,#ef0b00 596.5px,#f00100 607.5px,#ee0001 608.5px,#74002b 615.5px,#1b0057 621.5px,#000064 625.5px,#00007b 632.5px,#0000c1 643.5px,#0000c7 644.5px,#0000c8 645.5px,#0024c7 675.5px,#0076c5 733.5px,#0098c4 762.5px,#00a5c4)"></i><i style="background:linear-gradient(#d7a800,#d7a800 334.5px,#d9a400 360.5px,#e38000 440.5px,#e76e00 509.5px,#e95a00 538.5px,#ed3700 566.5px,#ef0900 596.5px,#f00100 606.5px,#ee0001 607.5px,#df0006 608.5px,#680030 615.5px,#1f0054 620.5px,#020063 624.5px,#006 625.5px,#000079 631.5px,#0000c7 643.5px,#0000c8 644.5px,#0000c8 646.5px,#0025c7 675.5px,#0076c5 733.5px,#0098c4 762.5px,#00a5c4)"></i><i style="background:linear-gradient(#d7a800,#d7a800 334.5px,#d9a400 361.5px,#e38000 440.5px,#e76e00 508.5px,#e95900 538.5px,#ed3600 566.5px,#ef0a00 595.5px,#f00000 606.5px,#e30004 607.5px,#69002f 614.5px,#200054 619.5px,#170059 620.5px,#09005f 622.5px,#006 624.5px,#000078 630.5px,#0000c4 642.5px,#0000c8 643.5px,#0001c8 646.5px,#0024c7 674.5px,#0077c5 733.5px,#0097c4 761.5px,#00a6c4)"></i><i style="background:linear-gradient(#d8a800,#d8a800 334.5px,#d9a400 361.5px,#e37f00 440.5px,#e76d00 508.5px,#e95900 537.5px,#ed3600 565.5px,#ef0a00 594.5px,#f00100 605.5px,#ea0002 606.5px,#70002c 613.5px,#190057 619.5px,#000065 623.5px,#007 629.5px,#0000c8 642.5px,#0000c8 645.5px,#0025c7 674.5px,#0076c5 732.5px,#0098c4 761.5px,#00a6c4)"></i><i style="background:linear-gradient(#d8a700,#d8a700 334.5px,#d9a300 361.5px,#e37f00 439.5px,#e76d00 507.5px,#e95900 536.5px,#ed3700 564.5px,#ef0900 594.5px,#f00100 604.5px,#ef0000 605.5px,#77002a 612.5px,#1d0055 618.5px,#010063 622.5px,#006 623.5px,#00007a 629.5px,#0000c7 641.5px,#0000c8 642.5px,#0001c8 645.5px,#0024c7 673.5px,#0077c5 732.5px,#0097c4 760.5px,#00a6c4)"></i><i style="background:linear-gradient(#d8a700,#d8a700 334.5px,#d9a300 361.5px,#e37f00 439.5px,#e76d00 506.5px,#e95800 536.5px,#ed3500 564.5px,#ef0a00 593.5px,#f00000 604.5px,#e50004 605.5px,#6d002e 612.5px,#240052 617.5px,#180058 618.5px,#000065 622.5px,#000078 628.5px,#0000c4 640.5px,#0000c8 641.5px,#0001c8 645.5px,#0025c7 673.5px,#0077c5 732.5px,#0097c4 760.5px,#00a6c4)"></i><i style="background:linear-gradient(#d8a700,#d8a700 334.5px,#daa300 361.5px,#e37f00 439.5px,#e76d00 506.5px,#e95900 535.5px,#ed3600 563.5px,#ef0a00 592.5px,#f00000 603.5px,#e70003 604.5px,#6f002d 611.5px,#260051 616.5px,#1a0057 617.5px,#010064 621.5px,#00007b 628.5px,#0000c7 640.5px,#0000c8 644.5px,#0024c7 672.5px,#0076c5 731.5px,#0098c4 760.5px,#00a6c4)"></i><i style="background:linear-gradient(#d8a600,#d8a600 334.5px,#daa200 361.5px,#e37e00 439.5px,#e76d00 505.5px,#e95900 534.5px,#ed3600 562.5px,#ef0900 592.5px,#f00100 602.5px,#ed0001 603.5px,#74002b 610.5px,#1b0056 616.5px,#010064 620.5px,#00007a 627.5px,#0000c6 639.5px,#0000c8 640.5px,#0001c8 644.5px,#0025c7 672.5px,#0077c5 731.5px,#0097c4 759.5px,#00a7c4)"></i><i style="background:linear-gradient(#d8a600,#d8a600 334.5px,#daa200 361.5px,#e37e00 439.5px,#e76c00 505.5px,#e95800 534.5px,#ed3500 562.5px,#ef0a00 591.5px,#f00000 602.5px,#e20005 603.5px,#6a002f 610.5px,#220053 615.5px,#170058 616.5px,#030062 619.5px,#000065 620.5px,#000078 626.5px,#0000c5 638.5px,#0000c8 639.5px,#0000c8 643.5px,#0025c7 672.5px,#0076c5 730.5px,#0097c4 759.5px,#00a7c4)"></i><i style="background:linear-gradient(#d8a600,#d8a600 334.5px,#daa200 360.5px,#e37e00 439.5px,#e76c00 504.5px,#e95800 533.5px,#ed3600 561.5px,#ef0a00 590.5px,#f00100 601.5px,#ea0002 602.5px,#71002c 609.5px,#1a0057 615.5px,#000064 619.5px,#00007b 626.5px,#0000c8 638.5px,#0001c8 643.5px,#0024c7 671.5px,#0077c5 730.5px,#0098c4 759.5px,#00a7c4)"></i><i style="background:linear-gradient(#d8a500,#d8a500 334.5px,#daa200 360.5px,#e37e00 438.5px,#e76c00 504.5px,#ea5800 533.5px,#ed3500 561.5px,#ef0900 590.5px,#f00100 600.5px,#ef0000 601.5px,#670030 609.5px,#1f0054 614.5px,#020063 618.5px,#006 619.5px,#000078 625.5px,#0000c5 637.5px,#0000c8 638.5px,#0000c8 642.5px,#0025c7 671.5px,#0077c5 730.5px,#0097c4 758.5px,#00a7c4)"></i><i style="background:linear-gradient(#d9a500,#d9a500 334.5px,#daa200 359.5px,#e47d00 438.5px,#e76c00 503.5px,#ea5800 532.5px,#ed3500 560.5px,#ef0a00 589.5px,#f00000 600.5px,#e60003 601.5px,#6e002d 608.5px,#260051 613.5px,#190058 614.5px,#000065 618.5px,#00007c 625.5px,#0000c8 637.5px,#0001c8 642.5px,#0026c7 671.5px,#0076c5 729.5px,#0096c4 757.5px,#00a7c4)"></i><i style="background:linear-gradient(#d9a500,#d9a500 334.5px,#daa100 359.5px,#e47d00 438.5px,#e76c00 502.5px,#ea5800 531.5px,#ed3600 559.5px,#ef0900 589.5px,#f00100 599.5px,#ed0001 600.5px,#74002b 607.5px,#1d0056 613.5px,#010063 617.5px,#006 618.5px,#000079 624.5px,#0000c6 636.5px,#0000c8 637.5px,#0000c8 641.5px,#0025c7 670.5px,#0077c5 729.5px,#0098c4 758.5px,#00a8c4)"></i><i style="background:linear-gradient(#d9a400,#d9a400 334.5px,#daa100 358.5px,#e47c00 438.5px,#e76c00 501.5px,#e95800 530.5px,#ed3500 559.5px,#ef0900 588.5px,#f00000 599.5px,#e30005 600.5px,#6b002e 607.5px,#240052 612.5px,#180058 613.5px,#000065 617.5px,#007 623.5px,#0000c8 636.5px,#0001c8 641.5px,#0025c7 670.5px,#0076c5 728.5px,#0097c4 757.5px,#00a8c4)"></i><i style="background:linear-gradient(#d9a400,#d9a400 334.5px,#daa100 357.5px,#e47c00 438.5px,#e76b00 501.5px,#ea5700 530.5px,#ed3500 558.5px,#ef0a00 587.5px,#f00100 598.5px,#ea0002 599.5px,#72002c 606.5px,#1b0057 612.5px,#010064 616.5px,#00007a 623.5px,#0000c6 635.5px,#0000c8 636.5px,#0001c8 641.5px,#0025c7 669.5px,#0076c5 728.5px,#0097c4 756.5px,#00a8c4)"></i><i style="background:linear-gradient(#d9a400,#d9a400 334.5px,#daa100 357.5px,#e47c00 438.5px,#e76b00 500.5px,#ea5700 529.5px,#ed3500 557.5px,#ef0a00 586.5px,#f00100 597.5px,#ed0001 598.5px,#77002a 605.5px,#210054 611.5px,#170059 612.5px,#030062 615.5px,#000065 616.5px,#000078 622.5px,#0000c8 635.5px,#0001c8 640.5px,#0025c7 669.5px,#0076c5 727.5px,#0097c4 756.5px,#00a8c4)"></i><i style="background:linear-gradient(#d9a300,#d9a300 334.5px,#daa100 356.5px,#e47b00 438.5px,#e76b00 500.5px,#ea5700 529.5px,#ed3400 557.5px,#ef0900 586.5px,#f00100 596.5px,#ef0000 597.5px,#690030 605.5px,#220053 610.5px,#170058 611.5px,#000065 615.5px,#00007b 622.5px,#0000c7 634.5px,#0000c8 635.5px,#0001c8 640.5px,#0024c7 668.5px,#0076c5 727.5px,#0097c4 756.5px,#00a9c4)"></i><i style="background:linear-gradient(#d9a300,#d9a300 334.5px,#dba000 356.5px,#e47b00 438.5px,#e76b00 499.5px,#ea5700 528.5px,#ed3500 556.5px,#ef0a00 585.5px,#f00000 596.5px,#e60003 597.5px,#6f002d 604.5px,#270051 609.5px,#1a0057 610.5px,#000064 614.5px,#00007a 621.5px,#0000c5 633.5px,#0000c8 634.5px,#0001c8 639.5px,#0025c7 668.5px,#0075c5 726.5px,#0097c4 755.5px,#00a9c4)"></i><i style="background:linear-gradient(#daa300,#daa300 334.5px,#dba000 355.5px,#e47b00 437.5px,#e76b00 498.5px,#ea5700 527.5px,#ed3500 555.5px,#ef0a00 584.5px,#f00100 595.5px,#ec0001 596.5px,#75002b 603.5px,#1e0055 609.5px,#020063 613.5px,#006 614.5px,#000078 620.5px,#0000c8 633.5px,#0001c8 639.5px,#0026c7 668.5px,#0076c5 726.5px,#0097c4 755.5px,#00a9c4)"></i><i style="background:linear-gradient(#daa200,#daa200 334.5px,#dba000 355.5px,#e47b00 437.5px,#e76a00 498.5px,#ea5600 527.5px,#ed3400 555.5px,#ef0900 584.5px,#f00000 595.5px,#e30005 596.5px,#6c002e 603.5px,#250052 608.5px,#190058 609.5px,#000065 613.5px,#00007c 620.5px,#0000c7 632.5px,#0000c8 633.5px,#0001c8 638.5px,#0025c7 667.5px,#0076c5 726.5px,#0097c4 755.5px,#00a9c4)"></i><i style="background:linear-gradient(#daa200,#dba000 354.5px,#e47a00 437.5px,#e76a00 497.5px,#ea5700 526.5px,#ed3500 554.5px,#ef0a00 583.5px,#f00100 594.5px,#e90002 595.5px,#72002c 602.5px,#1c0056 608.5px,#010063 612.5px,#006 613.5px,#000079 619.5px,#0000c8 632.5px,#0001c8 638.5px,#0025c7 667.5px,#0076c5 725.5px,#0097c4 754.5px,#00a9c4)"></i><i style="background:linear-gradient(#daa200,#daa200 334.5px,#db9f00 354.5px,#e47a00 437.5px,#e76a00 497.5px,#ea5600 526.5px,#ed3400 554.5px,#ef0900 583.5px,#f00100 593.5px,#ef0000 594.5px,#6a002f 602.5px,#230053 607.5px,#180058 608.5px,#000065 612.5px,#007 618.5px,#0000c7 631.5px,#0000c8 632.5px,#0000c8 637.5px,#0025c7 666.5px,#0076c5 725.5px,#0097c4 754.5px,#00aac3)"></i><i style="background:linear-gradient(#daa100,#db9f00 353.5px,#e47a00 437.5px,#e76a00 496.5px,#ea5600 525.5px,#ed3500 553.5px,#ef0a00 582.5px,#f00000 593.5px,#e70003 594.5px,#70002c 601.5px,#1b0057 607.5px,#010064 611.5px,#000079 618.5px,#0000c4 630.5px,#0000c8 631.5px,#0001c8 637.5px,#0025c7 666.5px,#0075c5 724.5px,#0096c4 753.5px,#00aac3)"></i><i style="background:linear-gradient(#daa100,#db9f00 353.5px,#e47900 437.5px,#e86900 496.5px,#ea5700 524.5px,#ed3500 552.5px,#ef0900 582.5px,#f00100 592.5px,#ee0001 593.5px,#69002f 601.5px,#220053 606.5px,#180058 607.5px,#000065 611.5px,#007 617.5px,#0000c7 630.5px,#0000c8 636.5px,#0025c7 665.5px,#0076c5 724.5px,#0097c4 753.5px,#00aac3)"></i><i style="background:linear-gradient(#daa100,#db9f00 352.5px,#e47900 437.5px,#e86900 495.5px,#ea5600 524.5px,#ed3400 552.5px,#ef0900 581.5px,#f00000 592.5px,#e50004 593.5px,#6f002d 600.5px,#1a0057 606.5px,#010064 610.5px,#000079 617.5px,#0000c4 629.5px,#0000c8 630.5px,#0001c8 636.5px,#0025c7 665.5px,#0076c5 724.5px,#0097c4 753.5px,#00aac3)"></i><i style="background:linear-gradient(#daa000,#db9e00 352.5px,#e57900 437.5px,#e86900 494.5px,#ea5600 523.5px,#ed3400 551.5px,#ef0a00 580.5px,#f00100 591.5px,#eb0002 592.5px,#76002a 599.5px,#200054 605.5px,#10005c 607.5px,#000065 610.5px,#007 616.5px,#0000c7 629.5px,#0000c8 630.5px,#0000c8 635.5px,#0026c7 665.5px,#0076c5 723.5px,#0097c4 752.5px,#00aac3)"></i><i style="background:linear-gradient(#dba000,#db9e00 351.5px,#e57900 436.5px,#e86900 494.5px,#ea5500 523.5px,#ed3400 551.5px,#ef0900 580.5px,#f00100 590.5px,#f00000 591.5px,#e20005 592.5px,#6d002e 599.5px,#190057 605.5px,#000064 609.5px,#00007a 616.5px,#0000c4 628.5px,#0000c8 629.5px,#0001c8 635.5px,#0025c7 664.5px,#0076c5 723.5px,#0097c4 752.5px,#00aac3)"></i><i style="background:linear-gradient(#dba000,#db9e00 351.5px,#e57800 436.5px,#e86900 493.5px,#ea5500 522.5px,#ed3400 550.5px,#ef0a00 579.5px,#f00000 590.5px,#e80003 591.5px,#72002b 598.5px,#1e0055 604.5px,#020063 608.5px,#006 609.5px,#000078 615.5px,#0000c8 628.5px,#0000c8 634.5px,#0026c7 664.5px,#0075c5 722.5px,#0097c4 752.5px,#00aac3)"></i><i style="background:linear-gradient(#db9f00,#db9e00 350.5px,#e57800 436.5px,#e86800 493.5px,#ea5600 521.5px,#ed3400 549.5px,#ef0900 579.5px,#f00100 589.5px,#ee0001 590.5px,#6a002f 598.5px,#240052 603.5px,#180058 604.5px,#000065 608.5px,#00007b 615.5px,#0000c5 627.5px,#0000c8 628.5px,#0001c8 634.5px,#0025c7 663.5px,#0076c5 722.5px,#0097c4 751.5px,#00aac3)"></i><i style="background:linear-gradient(#db9f00,#dc9e00 349.5px,#e57700 436.5px,#e86700 492.5px,#ea5400 521.5px,#ed3300 549.5px,#ef0900 578.5px,#f00000 589.5px,#e50004 590.5px,#70002c 597.5px,#1b0056 603.5px,#010063 607.5px,#006 608.5px,#000078 614.5px,#0000c8 627.5px,#0001c8 634.5px,#0025c7 663.5px,#0076c5 722.5px,#0097c4 751.5px,#00abc3)"></i><i style="background:linear-gradient(#db9f00,#dc9d00 349.5px,#e57600 436.5px,#e86700 491.5px,#ea5500 519.5px,#ed3300 548.5px,#ef0a00 577.5px,#f00100 588.5px,#eb0002 589.5px,#77002a 596.5px,#220053 602.5px,#170058 603.5px,#000065 607.5px,#00007c 614.5px,#0000c6 626.5px,#0000c8 627.5px,#0000c8 633.5px,#0026c7 663.5px,#0076c5 722.5px,#0097c4 751.5px,#00abc3)"></i><i style="background:linear-gradient(#db9e00,#dc9d00 348.5px,#e67400 436.5px,#e86600 490.5px,#ea5300 519.5px,#ed3200 548.5px,#ef0900 577.5px,#f00000 588.5px,#e20005 589.5px,#6d002d 596.5px,#270051 601.5px,#1a0057 602.5px,#010064 606.5px,#000079 613.5px,#0000c8 626.5px,#0001c8 633.5px,#0025c7 662.5px,#0076c5 722.5px,#0097c4 751.5px,#00abc3)"></i><i style="background:linear-gradient(#db9e00,#dc9d00 347.5px,#df9300 373.5px,#e67400 435.5px,#e86500 490.5px,#ea5300 518.5px,#ed3200 547.5px,#ef0900 576.5px,#f00000 587.5px,#e80003 588.5px,#74002b 595.5px,#1f0054 601.5px,#030062 605.5px,#000065 606.5px,#007 612.5px,#0000c6 625.5px,#0000c8 626.5px,#0000c8 632.5px,#0025c7 662.5px,#0075c5 721.5px,#0097c4 751.5px,#00abc3)"></i><i style="background:linear-gradient(#dc9e00,#dc9c00 347.5px,#df9200 373.5px,#e67200 435.5px,#e86400 489.5px,#ea5200 518.5px,#ed3100 547.5px,#ef0900 576.5px,#f00100 586.5px,#ef0000 587.5px,#6c002e 595.5px,#260051 600.5px,#190057 601.5px,#000064 605.5px,#000079 612.5px,#0000c8 625.5px,#0001c8 632.5px,#0026c7 662.5px,#0076c5 721.5px,#0097c4 751.5px,#00abc3)"></i><i style="background:linear-gradient(#dc9d00,#dc9c00 346.5px,#df9200 373.5px,#e67100 435.5px,#e86300 488.5px,#ea5100 517.5px,#ed3100 546.5px,#ef0900 575.5px,#f00000 586.5px,#e70003 587.5px,#73002b 594.5px,#1f0054 600.5px,#030062 604.5px,#000065 605.5px,#007 611.5px,#0000c7 624.5px,#0000c8 625.5px,#0001c8 632.5px,#0025c7 661.5px,#0076c5 721.5px,#0097c4 751.5px,#00abc3)"></i><i style="background:linear-gradient(#dc9d00,#dc9c00 346.5px,#df9100 373.5px,#e77000 435.5px,#e86200 488.5px,#ea5000 517.5px,#ed3100 545.5px,#ef0800 575.5px,#f00100 585.5px,#ee0001 586.5px,#6b002f 594.5px,#250052 599.5px,#190058 600.5px,#000064 604.5px,#000079 611.5px,#0000c8 624.5px,#0000c8 631.5px,#0025c7 661.5px,#0076c5 721.5px,#0098c4 751.5px,#00abc3)"></i><i style="background:linear-gradient(#dc9d00,#dc9c00 345.5px,#df9100 372.5px,#e76f00 435.5px,#e86100 487.5px,#ea5000 516.5px,#ed3000 545.5px,#ef0900 574.5px,#f00000 585.5px,#e40004 586.5px,#70002c 593.5px,#1d0056 599.5px,#020063 603.5px,#006 604.5px,#007 610.5px,#0000c6 623.5px,#0000c8 624.5px,#0001c8 631.5px,#0026c7 661.5px,#0076c5 721.5px,#0097c4 750.5px,#00abc3)"></i><i style="background:linear-gradient(#dc9c00,#dc9b00 345.5px,#df9000 373.5px,#e77000 431.5px,#e96000 486.5px,#eb4f00 515.5px,#ed3000 544.5px,#ef0900 573.5px,#f00100 584.5px,#eb0002 585.5px,#680030 593.5px,#230052 598.5px,#180058 599.5px,#000065 603.5px,#00007a 610.5px,#0000c8 623.5px,#0000c8 630.5px,#0025c7 660.5px,#0075c5 720.5px,#0097c4 750.5px,#00abc3)"></i><i style="background:linear-gradient(#dc9c00,#dd9b00 345.5px,#df8f00 373.5px,#e76e00 431.5px,#e95f00 486.5px,#eb4e00 515.5px,#ed2f00 544.5px,#f00800 573.5px,#f00100 583.5px,#f00000 584.5px,#6e002d 592.5px,#1b0057 598.5px,#010063 602.5px,#006 603.5px,#000078 609.5px,#0000c7 622.5px,#0000c8 623.5px,#0001c8 630.5px,#0025c7 660.5px,#0076c5 720.5px,#0097c4 750.5px,#00abc3)"></i><i style="background:linear-gradient(#dc9c00,#dd9a00 345.5px,#e08f00 373.5px,#e76d00 431.5px,#e95e00 485.5px,#eb4d00 514.5px,#ed2e00 543.5px,#ef0900 572.5px,#f00000 583.5px,#e80003 584.5px,#75002b 591.5px,#210053 597.5px,#170058 598.5px,#000065 602.5px,#00007b 609.5px,#0000c8 622.5px,#0001c8 630.5px,#0025c7 660.5px,#0076c5 720.5px,#0097c4 750.5px,#00abc3)"></i><i style="background:linear-gradient(#dc9b00,#dd9a00 344.5px,#e08f00 372.5px,#e76c00 431.5px,#e95e00 484.5px,#eb4d00 513.5px,#ed2e00 542.5px,#f00800 572.5px,#f00100 582.5px,#ee0001 583.5px,#6c002e 591.5px,#260051 596.5px,#1a0057 597.5px,#010064 601.5px,#000078 608.5px,#0000c7 621.5px,#0000c8 622.5px,#0000c8 629.5px,#0025c7 659.5px,#0076c5 720.5px,#0097c4 750.5px,#00abc3)"></i><i style="background:linear-gradient(#dd9b00,#dd9a00 344.5px,#e08e00 372.5px,#e76b00 431.5px,#e95c00 484.5px,#eb4b00 513.5px,#ed2e00 541.5px,#f00800 571.5px,#f00100 581.5px,#ef0000 582.5px,#e20005 583.5px,#71002c 590.5px,#1e0055 596.5px,#030062 600.5px,#000065 601.5px,#00007c 608.5px,#0000c5 620.5px,#0000c8 621.5px,#0001c8 629.5px,#0025c7 659.5px,#0076c5 720.5px,#0097c4 750.5px,#00abc3)"></i><i style="background:linear-gradient(#dd9b00,#dd9a00 343.5px,#e08e00 371.5px,#e76a00 431.5px,#e95c00 483.5px,#eb4b00 512.5px,#ed2d00 541.5px,#f00800 570.5px,#f00000 581.5px,#e50004 582.5px,#72002c 589.5px,#200054 595.5px,#170059 596.5px,#000065 600.5px,#000079 607.5px,#0000c8 620.5px,#0001c8 629.5px,#0025c7 659.5px,#0076c5 720.5px,#0097c4 750.5px,#00abc3)"></i><i style="background:linear-gradient(#dd9a00,#d90 343.5px,#e08d00 371.5px,#e86900 431.5px,#e95a00 483.5px,#eb4a00 512.5px,#ed2d00 540.5px,#ef0900 569.5px,#f00100 580.5px,#ec0002 581.5px,#69002f 589.5px,#240052 594.5px,#190058 595.5px,#000064 599.5px,#000079 606.5px,#0000c6 619.5px,#0000c8 620.5px,#0000c8 628.5px,#0025c7 658.5px,#0075c5 719.5px,#0097c4 750.5px,#00abc3)"></i><i style="background:linear-gradient(#dd9a00,#d90 343.5px,#e08d00 371.5px,#e86800 431.5px,#e95a00 482.5px,#eb4900 511.5px,#ed2c00 540.5px,#f00800 569.5px,#f00100 579.5px,#f00000 580.5px,#6f002d 588.5px,#1c0056 594.5px,#020063 598.5px,#006 599.5px,#007 605.5px,#0000c5 618.5px,#0000c8 619.5px,#0001c8 628.5px,#0025c7 658.5px,#0076c5 719.5px,#0098c4 750.5px,#00abc3)"></i><i style="background:linear-gradient(#dd9a00,#dd9800 343.5px,#e08c00 371.5px,#e86700 431.5px,#e95900 481.5px,#eb4900 510.5px,#ed2c00 539.5px,#f00800 568.5px,#f00000 579.5px,#e80003 580.5px,#76002a 587.5px,#220053 593.5px,#180058 594.5px,#000065 598.5px,#00007a 605.5px,#0000c8 618.5px,#0000c8 627.5px,#0025c7 658.5px,#0076c5 719.5px,#0097c4 749.5px,#00abc3)"></i><i style="background:linear-gradient(#d90,#dd9800 343.5px,#e08c00 371.5px,#e86600 431.5px,#ea5800 480.5px,#eb4700 510.5px,#ed2c00 538.5px,#f00700 568.5px,#f00100 578.5px,#ee0001 579.5px,#6c002e 587.5px,#1b0057 593.5px,#010063 597.5px,#006 598.5px,#007 604.5px,#0000c6 617.5px,#0000c8 618.5px,#0001c8 627.5px,#0024c7 657.5px,#0076c5 719.5px,#0097c4 749.5px,#00abc3)"></i><i style="background:linear-gradient(#d90,#dd9800 342.5px,#e08c00 370.5px,#e86400 431.5px,#ea5700 480.5px,#eb4700 509.5px,#ed2a00 538.5px,#f00800 567.5px,#f00000 578.5px,#e50004 579.5px,#73002b 586.5px,#200054 592.5px,#170059 593.5px,#000065 597.5px,#00007b 604.5px,#0000c8 617.5px,#0001c8 627.5px,#0025c7 657.5px,#0076c5 719.5px,#0097c4 749.5px,#00abc3)"></i><i style="background:linear-gradient(#d90,#de9700 342.5px,#e08b00 370.5px,#e86300 431.5px,#ea5600 479.5px,#ec4600 508.5px,#ed2a00 537.5px,#f00800 566.5px,#f00000 577.5px,#ec0001 578.5px,#6a002f 586.5px,#250051 591.5px,#190057 592.5px,#010064 596.5px,#000078 603.5px,#0000c6 616.5px,#0000c8 617.5px,#0000c8 626.5px,#0025c7 657.5px,#0075c5 718.5px,#0097c4 749.5px,#00abc3)"></i><i style="background:linear-gradient(#dd9800,#de9700 342.5px,#e18a00 370.5px,#e86200 431.5px,#ea5500 479.5px,#ec4500 508.5px,#ed2a00 536.5px,#f00800 565.5px,#f00100 576.5px,#ee0001 577.5px,#6f002d 585.5px,#1e0055 591.5px,#030062 595.5px,#000065 596.5px,#00007b 603.5px,#0000c8 616.5px,#0001c8 626.5px,#0026c7 657.5px,#0076c5 718.5px,#0097c4 749.5px,#00abc3)"></i><i style="background:linear-gradient(#dd9800,#de9700 342.5px,#e18a00 370.5px,#e86100 431.5px,#ea5400 478.5px,#ec4400 507.5px,#ee2900 536.5px,#f00700 565.5px,#f00100 575.5px,#f00000 576.5px,#e20005 577.5px,#70002c 584.5px,#1f0055 590.5px,#160059 591.5px,#000065 595.5px,#000079 602.5px,#0000c7 615.5px,#0000c8 616.5px,#0000c8 625.5px,#0025c7 656.5px,#0076c5 718.5px,#0097c4 749.5px,#00abc3)"></i><i style="background:linear-gradient(#de9800,#de9600 342.5px,#e18900 370.5px,#e96000 431.5px,#ea5300 477.5px,#ec4300 507.5px,#ee2900 535.5px,#f00800 564.5px,#f00000 575.5px,#e90003 576.5px,#77002a 583.5px,#240052 589.5px,#180058 590.5px,#000064 594.5px,#000078 601.5px,#0000c5 614.5px,#0000c8 615.5px,#0001c8 625.5px,#0025c7 656.5px,#0076c5 718.5px,#0097c4 749.5px,#00abc3)"></i><i style="background:linear-gradient(#de9700,#de9600 342.5px,#e18900 370.5px,#e95f00 431.5px,#ea5200 477.5px,#ec4300 506.5px,#ee2900 534.5px,#f00700 564.5px,#f00100 574.5px,#ee0001 575.5px,#6d002e 583.5px,#1c0056 589.5px,#020063 593.5px,#006 594.5px,#00007c 601.5px,#0000c8 614.5px,#0001c8 625.5px,#0026c7 656.5px,#0076c5 718.5px,#0098c4 749.5px,#00abc3)"></i><i style="background:linear-gradient(#de9700,#de9600 341.5px,#e18900 369.5px,#e95e00 431.5px,#ea5100 476.5px,#ec4200 505.5px,#ee2800 534.5px,#f00700 563.5px,#f00000 574.5px,#e50004 575.5px,#74002b 582.5px,#220053 588.5px,#180058 589.5px,#000065 593.5px,#000079 600.5px,#0000c7 613.5px,#0000c8 614.5px,#0000c8 624.5px,#0025c7 655.5px,#0075c5 717.5px,#0097c4 748.5px,#00abc3)"></i><i style="background:linear-gradient(#de9700,#de9500 341.5px,#e18800 369.5px,#e95d00 431.5px,#ea5000 476.5px,#ec4100 505.5px,#ee2800 533.5px,#f00800 562.5px,#f00000 573.5px,#ec0001 574.5px,#6b002f 582.5px,#1a0057 588.5px,#010063 592.5px,#006 593.5px,#007 599.5px,#0000c8 613.5px,#0001c8 624.5px,#0025c7 655.5px,#0076c5 717.5px,#0097c4 748.5px,#00abc3)"></i><i style="background:linear-gradient(#de9600,#de9500 341.5px,#e18800 369.5px,#e95c00 431.5px,#eb4f00 475.5px,#ec4100 504.5px,#ee2700 533.5px,#f00700 562.5px,#f00100 572.5px,#f00000 573.5px,#e20005 574.5px,#71002c 581.5px,#200054 587.5px,#170059 588.5px,#000065 592.5px,#00007a 599.5px,#0000c7 612.5px,#0000c8 613.5px,#0001c8 624.5px,#0026c7 655.5px,#0076c5 717.5px,#0097c4 748.5px,#00abc3)"></i><i style="background:linear-gradient(#de9600,#de9400 341.5px,#e18700 369.5px,#e95b00 431.5px,#eb4e00 474.5px,#ec4000 503.5px,#ee2700 532.5px,#f00700 561.5px,#f00000 572.5px,#e90002 573.5px,#690030 581.5px,#250052 586.5px,#190058 587.5px,#010064 591.5px,#000078 598.5px,#0000c5 611.5px,#0000c8 612.5px,#0000c8 623.5px,#0025c7 654.5px,#0076c5 717.5px,#0097c4 748.5px,#00abc3)"></i><i style="background:linear-gradient(#de9600,#de9400 341.5px,#e18600 369.5px,#e95900 431.5px,#eb4d00 474.5px,#ec3f00 503.5px,#ee2600 531.5px,#f00700 561.5px,#f00100 571.5px,#ee0001 572.5px,#6e002d 580.5px,#1e0055 586.5px,#030062 590.5px,#000065 591.5px,#00007b 598.5px,#0000c8 611.5px,#0001c8 623.5px,#0025c7 654.5px,#0076c5 717.5px,#0097c4 748.5px,#00abc3)"></i><i style="background:linear-gradient(#de9500,#de9300 341.5px,#e28600 369.5px,#e95800 431.5px,#eb4c00 473.5px,#ec3e00 502.5px,#ee2600 530.5px,#f00700 560.5px,#f00000 571.5px,#e70003 572.5px,#77002a 579.5px,#240052 585.5px,#180058 586.5px,#000064 590.5px,#000078 597.5px,#0000c5 610.5px,#0000c8 611.5px,#0000c8 622.5px,#0025c7 654.5px,#0076c5 717.5px,#0097c4 748.5px,#00abc3)"></i><i style="background:linear-gradient(#de9500,#df9300 341.5px,#e28500 369.5px,#ea5700 431.5px,#eb4b00 472.5px,#ec3e00 501.5px,#ee2500 530.5px,#f00700 559.5px,#f00000 570.5px,#e90002 571.5px,#6c002e 579.5px,#1d0056 585.5px,#030062 589.5px,#000065 590.5px,#00007b 597.5px,#0000c8 610.5px,#0001c8 622.5px,#0025c7 653.5px,#0075c5 716.5px,#0097c4 748.5px,#00abc3)"></i><i style="background:linear-gradient(#de9500,#df9300 341.5px,#e28500 369.5px,#ea5600 431.5px,#eb4a00 471.5px,#ec3c00 501.5px,#ee2500 529.5px,#f00700 558.5px,#f00000 569.5px,#ec0001 570.5px,#6c002e 578.5px,#1c0056 584.5px,#030062 588.5px,#000065 589.5px,#000079 596.5px,#0000c5 609.5px,#0000c8 610.5px,#0001c8 622.5px,#0025c7 653.5px,#0076c5 716.5px,#0098c4 748.5px,#00abc3)"></i><i style="background:linear-gradient(#de9400,#df9200 340.5px,#e28500 368.5px,#ea5500 431.5px,#eb4900 471.5px,#ec3c00 500.5px,#ee2400 529.5px,#f00600 558.5px,#f00100 568.5px,#f00000 569.5px,#e20005 570.5px,#73002b 577.5px,#210053 583.5px,#170058 584.5px,#000065 588.5px,#000079 595.5px,#0000c8 609.5px,#0000c8 621.5px,#0025c7 653.5px,#0076c5 716.5px,#0097c4 747.5px,#00abc3)"></i><i style="background:linear-gradient(#de9400,#df9200 340.5px,#e28400 368.5px,#ea5400 431.5px,#eb4800 470.5px,#ec3b00 499.5px,#ee2300 528.5px,#f00700 557.5px,#f00000 568.5px,#ea0002 569.5px,#6a002f 577.5px,#1a0057 583.5px,#010063 587.5px,#006 588.5px,#00007c 595.5px,#0000c8 608.5px,#0001c8 621.5px,#0025c7 652.5px,#0076c5 716.5px,#0097c4 747.5px,#00abc3)"></i><i style="background:linear-gradient(#de9400,#df9200 340.5px,#e28400 368.5px,#ea5300 431.5px,#eb4700 470.5px,#ec3a00 499.5px,#ee2300 527.5px,#f00700 556.5px,#f00100 567.5px,#ee0001 568.5px,#71002c 576.5px,#210054 582.5px,#170058 583.5px,#000065 587.5px,#00007a 594.5px,#0000c6 607.5px,#0000c8 608.5px,#0000c8 620.5px,#0025c7 652.5px,#0076c5 716.5px,#0097c4 747.5px,#00abc3)"></i><i style="background:linear-gradient(#df9300,#df9100 340.5px,#e28300 368.5px,#ea5200 431.5px,#ec4600 469.5px,#ed3900 498.5px,#ee2300 526.5px,#f00600 556.5px,#f00100 566.5px,#ee0001 567.5px,#72002c 575.5px,#220053 581.5px,#180058 582.5px,#070061 585.5px,#006 587.5px,#007 593.5px,#0000c8 607.5px,#0000c8 620.5px,#0025c7 652.5px,#0075c5 715.5px,#0097c4 747.5px,#00abc3)"></i><i style="background:linear-gradient(#df9300,#df9100 340.5px,#e28200 368.5px,#ea5100 431.5px,#ed3900 497.5px,#e20 526.5px,#f00600 555.5px,#f00000 566.5px,#e60004 567.5px,#670030 575.5px,#240052 580.5px,#190058 581.5px,#010064 585.5px,#00007b 593.5px,#0000c6 606.5px,#0000c8 607.5px,#0001c8 620.5px,#0025c7 651.5px,#0076c5 715.5px,#0097c4 747.5px,#00abc3)"></i><i style="background:linear-gradient(#df9200,#df9000 340.5px,#e28200 368.5px,#ea5000 430.5px,#ed3700 497.5px,#e20 525.5px,#f00600 554.5px,#f00000 565.5px,#ec0002 566.5px,#6d002e 574.5px,#1d0055 580.5px,#030062 584.5px,#000065 585.5px,#00007a 592.5px,#0000c6 605.5px,#0000c8 606.5px,#0000c8 619.5px,#0025c7 651.5px,#0076c5 715.5px,#0097c4 747.5px,#00abc3)"></i><i style="background:linear-gradient(#df9200,#df9000 340.5px,#e38100 368.5px,#eb4f00 430.5px,#ed3700 496.5px,#e20 524.5px,#f00600 554.5px,#f00100 564.5px,#ef0000 565.5px,#e20005 566.5px,#73002b 573.5px,#220053 579.5px,#180058 580.5px,#000064 584.5px,#000078 591.5px,#0000c8 605.5px,#0001c8 619.5px,#0025c7 651.5px,#0076c5 715.5px,#0097c4 747.5px,#00abc3)"></i><i style="background:linear-gradient(#df9200,#df9200 321.5px,#df8f00 340.5px,#e38100 368.5px,#eb4e00 430.5px,#ed3600 495.5px,#ee2100 524.5px,#f00600 553.5px,#f00000 564.5px,#e50004 565.5px,#680030 573.5px,#1b0057 579.5px,#020063 583.5px,#006 584.5px,#00007b 591.5px,#0000c7 604.5px,#0000c8 605.5px,#0000c8 618.5px,#0024c7 650.5px,#0076c5 715.5px,#0098c4 747.5px,#00abc3)"></i><i style="background:linear-gradient(#df9100,#df9100 320.5px,#e08f00 340.5px,#e38000 368.5px,#eb4d00 430.5px,#ed3500 495.5px,#ee2000 523.5px,#f00600 552.5px,#f00000 563.5px,#e80003 564.5px,#6a002f 572.5px,#1b0056 578.5px,#030063 582.5px,#000065 583.5px,#000079 590.5px,#0000c5 603.5px,#0000c8 604.5px,#0000c8 618.5px,#0025c7 650.5px,#0075c5 714.5px,#0098c4 747.5px,#00abc3)"></i><i style="background:linear-gradient(#df9100,#df9100 319.5px,#e08f00 340.5px,#e37f00 369.5px,#eb4e00 426.5px,#ec4500 444.5px,#ec4100 464.5px,#ed3500 494.5px,#ee2000 522.5px,#f00500 552.5px,#f00000 562.5px,#ee0001 563.5px,#71002c 571.5px,#200054 577.5px,#170058 578.5px,#000065 582.5px,#000078 589.5px,#0000c8 603.5px,#0001c8 618.5px,#0025c7 650.5px,#0076c5 714.5px,#0097c4 746.5px,#00abc3)"></i><i style="background:linear-gradient(#df9100,#df9100 318.5px,#e08e00 340.5px,#e37e00 369.5px,#eb4d00 427.5px,#ec4400 444.5px,#ed3400 493.5px,#ee1f00 522.5px,#f00600 551.5px,#f00000 562.5px,#e60004 563.5px,#680030 571.5px,#250051 576.5px,#190057 577.5px,#13005a 578.5px,#010063 581.5px,#006 582.5px,#00007b 589.5px,#0000c7 602.5px,#0000c8 603.5px,#0000c8 617.5px,#0026c7 650.5px,#0076c5 714.5px,#0097c4 746.5px,#00abc3)"></i><i style="background:linear-gradient(#df9000,#df9000 317.5px,#e08e00 340.5px,#e37e00 369.5px,#eb4c00 427.5px,#ec4300 444.5px,#ed3300 492.5px,#ee1f00 521.5px,#f00600 550.5px,#f00000 561.5px,#ea0002 562.5px,#6e002d 570.5px,#1e0055 576.5px,#000065 581.5px,#000079 588.5px,#0000c5 601.5px,#0000c8 602.5px,#0001c8 617.5px,#0025c7 649.5px,#0076c5 714.5px,#0097c4 746.5px,#00abc3)"></i><i style="background:linear-gradient(#df9000,#df9000 316.5px,#e08d00 339.5px,#e37e00 368.5px,#eb4b00 427.5px,#ec4200 444.5px,#ed3200 491.5px,#ee1e00 520.5px,#f00600 549.5px,#f00000 560.5px,#ec0001 561.5px,#6f002d 569.5px,#200054 575.5px,#170058 576.5px,#010064 580.5px,#007 587.5px,#0000c8 601.5px,#0001c8 617.5px,#0025c7 649.5px,#0076c5 714.5px,#0097c4 746.5px,#00abc3)"></i><i style="background:linear-gradient(#df9000,#df9000 315.5px,#e08d00 339.5px,#e47d00 368.5px,#eb4900 428.5px,#ec4100 444.5px,#ed3200 490.5px,#f00500 549.5px,#f00100 559.5px,#ef0000 560.5px,#e20005 561.5px,#74002b 568.5px,#230052 574.5px,#180058 575.5px,#010064 579.5px,#00007b 587.5px,#0000c6 600.5px,#0000c8 601.5px,#0000c8 616.5px,#0026c7 649.5px,#0076c5 714.5px,#0097c4 746.5px,#00abc3)"></i><i style="background:linear-gradient(#df8f00,#df8f00 314.5px,#e08d00 339.5px,#e47d00 368.5px,#eb4800 428.5px,#ec3f00 444.5px,#ed3000 490.5px,#f00500 548.5px,#f00100 558.5px,#ef0000 559.5px,#e30005 560.5px,#690030 568.5px,#1c0056 574.5px,#030062 578.5px,#000065 579.5px,#00007a 586.5px,#0000c5 599.5px,#0000c8 600.5px,#0001c8 616.5px,#0025c7 648.5px,#0076c5 713.5px,#0097c4 746.5px,#00abc3)"></i><i style="background:linear-gradient(#df8f00,#df8f00 313.5px,#e08c00 339.5px,#e47c00 368.5px,#ea5600 408.5px,#eb4700 428.5px,#ec3e00 444.5px,#ed3000 489.5px,#f00500 547.5px,#f00000 557.5px,#ef0000 558.5px,#e20005 559.5px,#76002a 566.5px,#1b0056 573.5px,#030062 577.5px,#000065 578.5px,#000078 585.5px,#0000c8 599.5px,#0000c8 615.5px,#0025c7 648.5px,#0076c5 713.5px,#0098c4 746.5px,#00abc3)"></i><i style="background:linear-gradient(#e08f00,#e08f00 312.5px,#e08c00 339.5px,#e47c00 367.5px,#ea5400 410.5px,#ec4400 431.5px,#ed2f00 488.5px,#f00500 546.5px,#f00000 557.5px,#e60004 558.5px,#690030 566.5px,#1b0056 572.5px,#030063 576.5px,#000065 577.5px,#000079 584.5px,#0000c2 597.5px,#0000c8 599.5px,#0000c8 615.5px,#0026c7 648.5px,#0076c5 713.5px,#0098c4 746.5px,#00abc3)"></i><i style="background:linear-gradient(#e08e00,#e08e00 309.5px,#e08b00 339.5px,#e47c00 367.5px,#ea5300 410.5px,#ec4300 431.5px,#ed2e00 487.5px,#f00500 545.5px,#f00000 556.5px,#ea0002 557.5px,#6f002d 565.5px,#200054 571.5px,#170059 572.5px,#000065 576.5px,#000078 583.5px,#0000c2 596.5px,#0000c8 598.5px,#0001c8 615.5px,#0025c7 647.5px,#0076c5 713.5px,#0097c4 745.5px,#00abc3)"></i><i style="background:linear-gradient(#e08e00,#e08e00 305.5px,#e08b00 339.5px,#e47b00 367.5px,#ea5200 409.5px,#ec4200 431.5px,#ed2e00 486.5px,#ee1c00 515.5px,#f00500 544.5px,#f00000 555.5px,#ea0002 556.5px,#6f002d 564.5px,#210053 570.5px,#180058 571.5px,#060061 574.5px,#006 576.5px,#00007b 583.5px,#0000c6 596.5px,#0000c8 597.5px,#0000c8 614.5px,#0025c7 647.5px,#0076c5 713.5px,#0097c4 745.5px,#00abc3)"></i><i style="background:linear-gradient(#e08e00,#e08e00 302.5px,#e18a00 339.5px,#e47b00 366.5px,#ea5100 409.5px,#ec4000 431.5px,#ed2d00 485.5px,#f00000 554.5px,#f00000 555.5px,#74002b 563.5px,#230052 569.5px,#180058 570.5px,#010064 574.5px,#00007a 582.5px,#0000c8 596.5px,#0001c8 614.5px,#0025c7 647.5px,#0075c5 712.5px,#0097c4 745.5px,#00abc3)"></i><i style="background:linear-gradient(#e08d00,#e08e00 299.5px,#e18a00 339.5px,#e47c00 365.5px,#ea5100 409.5px,#ec3f00 431.5px,#ed2c00 484.5px,#f00100 553.5px,#ef0000 554.5px,#e50004 555.5px,#6b002e 563.5px,#1e0055 569.5px,#000065 574.5px,#000079 581.5px,#0000c8 595.5px,#0000c8 613.5px,#0025c7 646.5px,#0076c5 712.5px,#0097c4 745.5px,#00abc3)"></i><i style="background:linear-gradient(#e08d00,#e08d00 296.5px,#e18a00 339.5px,#e47c00 364.5px,#ea5000 409.5px,#ec3e00 431.5px,#ed2b00 483.5px,#f00500 541.5px,#f00000 552.5px,#ef0000 553.5px,#e30004 554.5px,#6a002f 562.5px,#1e0055 568.5px,#000064 573.5px,#007 580.5px,#0000c7 594.5px,#0000c8 595.5px,#0000c8 613.5px,#0025c7 646.5px,#0076c5 712.5px,#0097c4 745.5px,#00abc3)"></i><i style="background:linear-gradient(#e08d00,#e08d00 293.5px,#e18900 339.5px,#e47c00 363.5px,#eb4f00 409.5px,#ec3d00 431.5px,#ed2a00 483.5px,#f00000 551.5px,#ef0000 552.5px,#e20005 553.5px,#690030 561.5px,#1d0056 567.5px,#000065 572.5px,#000078 579.5px,#0000c6 593.5px,#0000c8 594.5px,#0001c8 613.5px,#0025c7 646.5px,#0076c5 712.5px,#0097c4 745.5px,#00abc3)"></i><i style="background:linear-gradient(#e08c00,#e08c00 290.5px,#e18900 339.5px,#e47c00 362.5px,#eb4e00 409.5px,#ec3d00 431.5px,#ed2a00 482.5px,#f00000 550.5px,#ef0000 551.5px,#e20005 552.5px,#680030 560.5px,#1b0056 566.5px,#030062 570.5px,#000065 571.5px,#000078 578.5px,#0000c2 591.5px,#0000c8 593.5px,#0000c8 612.5px,#0025c7 645.5px,#0076c5 712.5px,#0097c4 745.5px,#00abc3)"></i><i style="background:linear-gradient(#e08c00,#e08c00 287.5px,#e18900 338.5px,#e47c00 361.5px,#eb4d00 409.5px,#ec3c00 431.5px,#ed2a00 480.5px,#f00000 550.5px,#e80003 551.5px,#6a002f 559.5px,#1b0056 565.5px,#030063 569.5px,#000065 570.5px,#000079 577.5px,#0000c3 590.5px,#0000c8 592.5px,#0001c8 612.5px,#0025c7 645.5px,#0075c5 711.5px,#0097c4 744.5px,#00abc3)"></i><i style="background:linear-gradient(#e08c00,#e08c00 285.5px,#e18800 338.5px,#e47c00 361.5px,#eb4c00 409.5px,#ec3b00 431.5px,#ed2900 479.5px,#f00000 549.5px,#ed0001 550.5px,#71002c 558.5px,#210054 564.5px,#170058 565.5px,#000065 569.5px,#000079 576.5px,#0000c8 590.5px,#0000c8 611.5px,#0025c7 645.5px,#0076c5 711.5px,#0097c4 744.5px,#00abc3)"></i><i style="background:linear-gradient(#e08b00,#e08b00 282.5px,#e18800 337.5px,#e47b00 361.5px,#eb4c00 409.5px,#ec3a00 431.5px,#ee2900 478.5px,#f00000 548.5px,#ed0001 549.5px,#71002c 557.5px,#220053 563.5px,#180058 564.5px,#070061 567.5px,#006 569.5px,#00007c 576.5px,#0000c8 589.5px,#0000c8 611.5px,#0025c7 644.5px,#0076c5 711.5px,#0097c4 744.5px,#00abc3)"></i><i style="background:linear-gradient(#e08b00,#e08b00 311.5px,#e18900 336.5px,#e47b00 360.5px,#eb4b00 409.5px,#ec3a00 430.5px,#ee2800 477.5px,#f00000 547.5px,#ec0001 548.5px,#70002c 556.5px,#210054 562.5px,#170058 563.5px,#010064 567.5px,#007 574.5px,#0000c7 588.5px,#0000c8 589.5px,#0001c8 611.5px,#0025c7 644.5px,#0076c5 711.5px,#0097c4 744.5px,#00abc3)"></i><i style="background:linear-gradient(#e18b00,#e08b00 313.5px,#e18900 335.5px,#e47b00 359.5px,#eb4a00 409.5px,#ed3900 430.5px,#ee2700 476.5px,#f00000 546.5px,#eb0002 547.5px,#6e002d 555.5px,#1f0054 561.5px,#170059 562.5px,#000064 566.5px,#000078 573.5px,#0000c2 586.5px,#0000c8 588.5px,#0000c8 610.5px,#0025c7 644.5px,#0076c5 711.5px,#0097c4 744.5px,#00abc3)"></i><i style="background:linear-gradient(#e18a00,#e08c00 315.5px,#e18900 335.5px,#e47b00 358.5px,#eb4900 409.5px,#ed3800 430.5px,#ee2700 475.5px,#f00000 545.5px,#ea0002 546.5px,#6d002e 554.5px,#1e0055 560.5px,#000065 565.5px,#000078 572.5px,#0000c8 586.5px,#0000c8 610.5px,#0025c7 643.5px,#0076c5 711.5px,#0097c4 744.5px,#00abc3)"></i><i style="background:linear-gradient(#e18a00,#e18900 257.5px,#e08c00 316.5px,#e18a00 334.5px,#e47c00 356.5px,#eb4900 409.5px,#ed3700 430.5px,#ed2e00 449.5px,#ee2600 474.5px,#f00000 544.5px,#ea0002 545.5px,#6c002e 553.5px,#1c0056 559.5px,#030062 563.5px,#000065 564.5px,#000079 571.5px,#0000c5 584.5px,#0000c8 585.5px,#0000c8 609.5px,#0025c7 643.5px,#0076c5 710.5px,#0097c4 744.5px,#00abc3)"></i><i style="background:linear-gradient(#e18900,#e08b00 331.5px,#e37e00 353.5px,#eb4800 409.5px,#ed3700 430.5px,#ed2d00 449.5px,#ee2600 473.5px,#f00000 543.5px,#e80003 544.5px,#6a002f 552.5px,#1c0056 558.5px,#030063 562.5px,#000065 563.5px,#00007a 570.5px,#0000c6 583.5px,#0000c8 584.5px,#0000c8 609.5px,#0025c7 643.5px,#0076c5 710.5px,#0097c4 744.5px,#00abc3)"></i><i style="background:linear-gradient(#e18900,#e18800 256.5px,#e08e00 315.5px,#e08c00 329.5px,#e38000 350.5px,#eb4800 408.5px,#ed3600 430.5px,#ed2c00 449.5px,#ee2500 472.5px,#f00000 542.5px,#e80003 543.5px,#690030 551.5px,#260051 556.5px,#1a0057 557.5px,#13005a 558.5px,#020063 561.5px,#006 562.5px,#00007b 569.5px,#0000c2 581.5px,#0000c8 583.5px,#0001c8 609.5px,#0024c7 642.5px,#0076c5 710.5px,#0097c4 743.5px,#00abc3)"></i><i style="background:linear-gradient(#e18900,#e18800 274.5px,#e08f00 314.5px,#e08e00 328.5px,#e28200 347.5px,#eb4c00 403.5px,#ed3600 429.5px,#ed2b00 448.5px,#ee2500 470.5px,#f00000 540.5px,#ef0000 541.5px,#e50004 542.5px,#75002a 549.5px,#240052 555.5px,#190057 556.5px,#13005b 557.5px,#010064 560.5px,#006 561.5px,#007 567.5px,#0000c3 580.5px,#0000c8 582.5px,#0000c8 608.5px,#0025c7 642.5px,#0076c5 710.5px,#0097c4 743.5px,#00abc3)"></i><i style="background:linear-gradient(#e18800,#e18700 273.5px,#df9000 313.5px,#df8f00 327.5px,#e28400 345.5px,#eb4800 406.5px,#ed3500 429.5px,#ed2b00 447.5px,#ee2400 469.5px,#f00000 539.5px,#ef0000 540.5px,#e30004 541.5px,#72002c 548.5px,#210054 554.5px,#170058 555.5px,#010064 559.5px,#000078 566.5px,#0000c4 579.5px,#0000c8 580.5px,#0000c8 608.5px,#0025c7 642.5px,#0076c5 710.5px,#0097c4 743.5px,#00abc3)"></i><i style="background:linear-gradient(#e18800,#e18700 272.5px,#df9100 313.5px,#df9100 325.5px,#e28600 343.5px,#eb4800 405.5px,#ed3300 430.5px,#ee2400 435.5px,#ee1c00 456.5px,#ee1e00 458.5px,#ee2500 460.5px,#ee2400 467.5px,#f00000 538.5px,#ef0000 539.5px,#e20005 540.5px,#71002c 547.5px,#200054 553.5px,#170059 554.5px,#000065 558.5px,#000079 565.5px,#0000c0 577.5px,#0000c8 579.5px,#0001c8 608.5px,#0026c7 642.5px,#0075c5 709.5px,#0097c4 743.5px,#00abc3)"></i><i style="background:linear-gradient(#e18700,#e18600 271.5px,#df9200 313.5px,#df9200 324.5px,#e18800 341.5px,#eb4700 404.5px,#ed3200 430.5px,#ef1200 432.5px,#f00600 433.5px,#e60203 434.5px,#a8011a 436.5px,#960123 437.5px,#910126 438.5px,#7d002f 452.5px,#7c002d 454.5px,#870027 455.5px,#9f001c 456.5px,#be0011 457.5px,#e30105 458.5px,#ef0a00 459.5px,#ee2500 461.5px,#f00000 537.5px,#ef0001 538.5px,#e10005 539.5px,#70002d 546.5px,#1e0055 552.5px,#030062 556.5px,#000065 557.5px,#00007a 564.5px,#0000c2 576.5px,#0000c8 578.5px,#0000c8 607.5px,#0025c7 641.5px,#0076c5 709.5px,#0097c4 743.5px,#00abc3)"></i><i style="background:linear-gradient(#e18700,#e28600 271.5px,#e18900 287.5px,#df9300 313.5px,#df9300 324.5px,#e18900 340.5px,#eb4800 402.5px,#ed3100 430.5px,#ef0f00 432.5px,#f00300 433.5px,#ce000c 434.5px,#8a0023 435.5px,#040067 436.5px,#0000a0 437.5px,#0001be 438.5px,#0001c1 440.5px,#0001c2 451.5px,#0001bf 453.5px,#0000a4 454.5px,#000070 455.5px,#610033 456.5px,#d2000a 458.5px,#f00700 459.5px,#ee2400 461.5px,#f00000 536.5px,#ec0001 537.5px,#6e002d 545.5px,#1d0056 551.5px,#030063 555.5px,#006 556.5px,#00007b 563.5px,#0000c8 576.5px,#0001c8 607.5px,#0025c7 641.5px,#0076c5 709.5px,#0097c4 743.5px,#00abc3)"></i><i style="background:linear-gradient(#e18700,#e28500 270.5px,#e18800 287.5px,#de9400 313.5px,#de9400 323.5px,#e18a00 339.5px,#eb4900 400.5px,#ed3000 430.5px,#ef0d00 432.5px,#f00200 433.5px,#c30010 434.5px,#7f0027 435.5px,#00006e 436.5px,#0000b0 437.5px,#0002c8 438.5px,#0002c8 453.5px,#0000b3 454.5px,#007 455.5px,#5a0037 456.5px,#ca000d 458.5px,#f00600 459.5px,#ee2300 461.5px,#f00000 534.5px,#ee0001 535.5px,#e30004 536.5px,#76002a 543.5px,#250051 549.5px,#1a0057 550.5px,#13005a 551.5px,#020063 554.5px,#006 555.5px,#007 561.5px,#0000c5 574.5px,#0000c8 575.5px,#0000c8 606.5px,#0026c7 641.5px,#0076c5 709.5px,#0097c4 743.5px,#00abc3)"></i><i class=b style="background:linear-gradient(#e18600,#e28500 270.5px,#e18800 287.5px,#de9400 313.5px,#de9500 323.5px,#e08b00 338.5px,#eb4a00 398.5px,#ed2f00 430.5px,#ef0d00 432.5px,#f00100 433.5px,#bb0012 434.5px,#77002a 435.5px,#000071 436.5px,#0000b2 437.5px,#0002c8 438.5px,#0002c8 453.5px,#0000b5 454.5px,#000079 455.5px,#550039 456.5px,#c5000f 458.5px,#f00600 459.5px,#e20 461.5px,#f00000 534.5px,#e50004 535.5px,#75002b 542.5px,#250051 548.5px,#190057 549.5px,#020063 553.5px,#006 554.5px,#00007b 561.5px,#0000c8 574.5px,#0000c8 606.5px,#0025c7 640.5px,#0076c5 709.5px,#0097c4 743.5px,#00abc3)"></i><i class=b style="background:linear-gradient(#e18600,#e28500 270.5px,#e18800 287.5px,#de9500 313.5px,#de9500 323.5px,#e08b00 338.5px,#eb4b00 397.5px,#ed2f00 430.5px,#ef0c00 432.5px,#f00100 433.5px,#b70014 434.5px,#74002b 435.5px,#000072 436.5px,#0000b3 437.5px,#0002c8 438.5px,#0002c8 453.5px,#0000b6 454.5px,#00007a 455.5px,#53003a 456.5px,#c30010 458.5px,#f00600 459.5px,#e20 461.5px,#f00000 534.5px,#6f002d 542.5px,#1f0054 548.5px,#170059 549.5px,#000064 553.5px,#000078 560.5px,#0000c5 573.5px,#0000c8 574.5px,#0000c8 606.5px,#0025c7 640.5px,#0076c5 709.5px,#0097c4 743.5px,#00abc3)"></i><i class=b style="background:linear-gradient(#e28600,#e28500 270.5px,#e18800 287.5px,#de9500 313.5px,#de9500 323.5px,#e08b00 338.5px,#eb4b00 397.5px,#ed2f00 430.5px,#ef0c00 432.5px,#f00100 433.5px,#b40015 434.5px,#70002c 435.5px,#000073 436.5px,#0000b4 437.5px,#0003c8 438.5px,#0003c8 453.5px,#0000b7 454.5px,#00007b 455.5px,#51003b 456.5px,#c10010 458.5px,#f00600 459.5px,#e20 461.5px,#f00000 533.5px,#ec0001 534.5px,#6a002f 542.5px,#1a0057 548.5px,#030063 552.5px,#000065 553.5px,#000079 560.5px,#0000c8 573.5px,#0000c8 574.5px,#0000c8 606.5px,#0025c7 640.5px,#0076c5 709.5px,#0097c4 743.5px,#00abc3)"></i><i class=b style="background:linear-gradient(#e28600,#e28500 270.5px,#e18800 287.5px,#de9500 313.5px,#de9500 323.5px,#e08b00 338.5px,#eb4c00 396.5px,#ed2e00 430.5px,#ef0c00 432.5px,#f00000 433.5px,#6d002d 435.5px,#000075 436.5px,#0000b6 437.5px,#0003c8 438.5px,#0003c8 453.5px,#0000b8 454.5px,#00007d 455.5px,#4f003c 456.5px,#bf0011 458.5px,#f00500 459.5px,#ee2100 461.5px,#f00000 533.5px,#e80003 534.5px,#74002b 541.5px,#210053 547.5px,#180058 548.5px,#000064 552.5px,#007 559.5px,#0000c8 573.5px,#0000c8 606.5px,#0025c7 640.5px,#0076c5 709.5px,#0098c4 743.5px,#00abc3)"></i><i class=b style="background:linear-gradient(#e28600,#e28500 270.5px,#e18800 287.5px,#de9500 313.5px,#de9500 323.5px,#e08b00 338.5px,#eb4b00 396.5px,#ed2e00 430.5px,#ef0b00 432.5px,#f00000 433.5px,#6a002f 435.5px,#000076 436.5px,#0000b7 437.5px,#0003c8 438.5px,#0003c8 453.5px,#0000b9 454.5px,#00007e 455.5px,#4d003e 456.5px,#bd0012 458.5px,#f00500 459.5px,#ee2100 461.5px,#f00000 533.5px,#e40004 534.5px,#70002c 541.5px,#1d0056 547.5px,#030062 551.5px,#000065 552.5px,#000079 559.5px,#0000c6 572.5px,#0000c8 573.5px,#0001c8 606.5px,#0025c7 640.5px,#0076c5 709.5px,#0098c4 743.5px,#00abc3)"></i><i class=b style="background:linear-gradient(#e28600,#e28400 270.5px,#e18800 287.5px,#de9500 313.5px,#de9500 323.5px,#e08b00 338.5px,#eb4c00 395.5px,#ed2d00 430.5px,#ef0b00 432.5px,#ed0001 433.5px,#670031 435.5px,#007 436.5px,#0000b8 437.5px,#0003c8 438.5px,#0003c8 453.5px,#00b 454.5px,#00007f 455.5px,#4b003f 456.5px,#800027 457.5px,#ba0013 458.5px,#f00500 459.5px,#ee2100 461.5px,#f00000 532.5px,#ef0000 533.5px,#6c002e 541.5px,#1a0057 547.5px,#010063 551.5px,#006 552.5px,#00007b 559.5px,#0000c8 572.5px,#0001c8 606.5px,#0025c7 640.5px,#0075c5 708.5px,#0097c4 742.5px,#00abc3)"></i><i class=b style="background:linear-gradient(#e28600,#e28400 269.5px,#e18800 286.5px,#de9500 313.5px,#de9500 323.5px,#e08b00 338.5px,#eb4d00 394.5px,#ed2d00 430.5px,#ef0b00 432.5px,#e80003 433.5px,#630032 435.5px,#000079 436.5px,#0000ba 437.5px,#0004c8 438.5px,#0004c8 453.5px,#0000bc 454.5px,#000080 455.5px,#480040 456.5px,#7e0028 457.5px,#b80013 458.5px,#f00500 459.5px,#ee2000 461.5px,#f00000 532.5px,#eb0002 533.5px,#77002a 540.5px,#230053 546.5px,#180058 547.5px,#000064 551.5px,#000078 558.5px,#0000c8 572.5px,#0001c8 606.5px,#0025c7 640.5px,#0075c5 708.5px,#0097c4 742.5px,#00abc3)"></i><i class=b style="background:linear-gradient(#e28600,#e28400 269.5px,#e18700 286.5px,#de9500 313.5px,#de9500 323.5px,#e08b00 338.5px,#eb4d00 394.5px,#ed2d00 430.5px,#ef0a00 432.5px,#e40004 433.5px,#600034 435.5px,#00007a 436.5px,#0000bc 437.5px,#0004c8 438.5px,#0004c8 453.5px,#0000be 454.5px,#000082 455.5px,#460041 456.5px,#7b0029 457.5px,#b50014 458.5px,#f00500 459.5px,#ee2000 461.5px,#f00000 532.5px,#e60003 533.5px,#73002b 540.5px,#1f0054 546.5px,#10005c 548.5px,#000065 551.5px,#00007a 558.5px,#0000c7 571.5px,#0000c8 572.5px,#0000c8 605.5px,#0025c7 640.5px,#0075c5 708.5px,#0097c4 742.5px,#00abc3)"></i><i class=b style="background:linear-gradient(#e28600,#e28400 269.5px,#e18700 286.5px,#de9500 313.5px,#de9500 323.5px,#e08b00 338.5px,#eb4d00 393.5px,#ed2c00 430.5px,#ef0a00 432.5px,#e00006 433.5px,#5c0036 435.5px,#00007c 436.5px,#0000bd 437.5px,#0004c8 438.5px,#0004c8 453.5px,#0000c0 454.5px,#000083 455.5px,#430042 456.5px,#780029 457.5px,#f00400 459.5px,#ee2000 461.5px,#f00000 532.5px,#6e002d 540.5px,#1b0056 546.5px,#020063 550.5px,#006 551.5px,#007 557.5px,#0000c8 571.5px,#0000c8 605.5px,#0025c7 640.5px,#0076c5 708.5px,#0097c4 742.5px,#00abc3)"></i><i class=b style="background:linear-gradient(#e28500,#e28400 269.5px,#e18700 286.5px,#de9500 313.5px,#de9500 323.5px,#e08b00 338.5px,#eb4e00 392.5px,#ed2c00 430.5px,#ef0a00 432.5px,#db0007 433.5px,#97001f 434.5px,#580038 435.5px,#00007e 436.5px,#0000bf 437.5px,#0005c8 438.5px,#0005c8 453.5px,#0000c2 454.5px,#000084 455.5px,#410044 456.5px,#76002a 457.5px,#b00016 458.5px,#f00400 459.5px,#ee1f00 461.5px,#f00000 531.5px,#ee0001 532.5px,#6a002f 540.5px,#250052 545.5px,#190058 546.5px,#000064 550.5px,#000078 557.5px,#0000c6 570.5px,#0000c8 571.5px,#0000c8 605.5px,#0025c7 640.5px,#0076c5 708.5px,#0097c4 742.5px,#00abc3)"></i><i class=b style="background:linear-gradient(#e28500,#e28400 269.5px,#e18700 286.5px,#de9500 313.5px,#de9500 323.5px,#e08b00 338.5px,#eb4e00 392.5px,#ed2c00 430.5px,#ef0900 432.5px,#d60009 433.5px,#920020 434.5px,#54003a 435.5px,#000080 436.5px,#0000c1 437.5px,#0005c8 438.5px,#0005c8 453.5px,#0000c4 454.5px,#000086 455.5px,#3e0045 456.5px,#73002b 457.5px,#ac0017 458.5px,#f00400 459.5px,#ee1f00 461.5px,#f00000 531.5px,#ea0002 532.5px,#75002a 539.5px,#210054 545.5px,#170059 546.5px,#000065 550.5px,#00007a 557.5px,#0000c8 570.5px,#0000c8 605.5px,#0026c7 640.5px,#0076c5 708.5px,#0097c4 742.5px,#00abc3)"></i><i class=b style="background:linear-gradient(#e28500,#e28400 269.5px,#e18700 286.5px,#de9500 313.5px,#de9500 323.5px,#e08b00 338.5px,#eb4f00 391.5px,#ed2b00 430.5px,#ef0900 432.5px,#d1000b 433.5px,#8d0022 434.5px,#50003c 435.5px,#000082 436.5px,#0000c3 437.5px,#0006c8 438.5px,#0006c8 453.5px,#0000c6 454.5px,#000087 455.5px,#3b0046 456.5px,#6f002d 457.5px,#a90019 458.5px,#f00300 459.5px,#ee1f00 461.5px,#f00000 531.5px,#e50004 532.5px,#71002c 539.5px,#1d0056 545.5px,#020063 549.5px,#006 550.5px,#007 556.5px,#0000c5 569.5px,#0000c8 570.5px,#0000c8 605.5px,#0026c7 640.5px,#0076c5 708.5px,#0097c4 742.5px,#00abc3)"></i><i class=b style="background:linear-gradient(#e28500,#e28300 269.5px,#e18700 286.5px,#de9500 312.5px,#de9500 323.5px,#e08b00 338.5px,#eb4f00 391.5px,#ed2b00 430.5px,#ef0800 432.5px,#cc000c 433.5px,#880024 434.5px,#4b003e 435.5px,#000084 436.5px,#0000c6 437.5px,#0006c8 438.5px,#0006c8 453.5px,#0000c8 454.5px,#000089 455.5px,#380048 456.5px,#6c002e 457.5px,#a6001a 458.5px,#f00300 459.5px,#ee1e00 461.5px,#f00000 531.5px,#6d002e 539.5px,#270051 544.5px,#1a0057 545.5px,#010064 549.5px,#000078 556.5px,#0000c7 569.5px,#0000c8 570.5px,#0000c8 605.5px,#0025c7 639.5px,#0076c5 708.5px,#0097c4 742.5px,#00abc3)"></i><i class=b style="background:linear-gradient(#e28500,#e28300 269.5px,#e18700 286.5px,#de9500 312.5px,#de9500 323.5px,#e08b00 338.5px,#eb4e00 391.5px,#ed2b00 430.5px,#f00800 432.5px,#c7000e 433.5px,#830026 434.5px,#460041 435.5px,#000086 436.5px,#0000c8 437.5px,#0007c8 438.5px,#0007c8 453.5px,#0000c8 454.5px,#00008b 455.5px,#34004a 456.5px,#690030 457.5px,#a2001b 458.5px,#f00300 459.5px,#ee1e00 461.5px,#f00000 530.5px,#ea0002 531.5px,#690030 539.5px,#230052 544.5px,#180058 545.5px,#000064 549.5px,#00007a 556.5px,#0000c8 569.5px,#0000c8 605.5px,#0025c7 639.5px,#0076c5 708.5px,#0097c4 742.5px,#00abc3)"></i><i class=b style="background:linear-gradient(#e28500,#e28300 269.5px,#e18700 286.5px,#de9500 312.5px,#de9500 323.5px,#e18a00 338.5px,#eb4f00 390.5px,#ed2a00 430.5px,#f00700 432.5px,#c10010 433.5px,#7d0028 434.5px,#410043 435.5px,#000089 436.5px,#0001c8 437.5px,#0007c8 438.5px,#0007c8 453.5px,#0001c8 454.5px,#00008c 455.5px,#31004b 456.5px,#660031 457.5px,#9f001c 458.5px,#f00200 459.5px,#ee1d00 461.5px,#f00000 530.5px,#e30004 531.5px,#73002b 538.5px,#1f0054 544.5px,#10005c 546.5px,#000065 549.5px,#00007b 556.5px,#0000c5 568.5px,#0000c8 569.5px,#0000c8 605.5px,#0025c7 639.5px,#0076c5 708.5px,#0097c4 742.5px,#00abc3)"></i><i class=b style="background:linear-gradient(#e28500,#e28300 269.5px,#e18700 286.5px,#de9400 311.5px,#de9400 323.5px,#e18a00 338.5px,#eb4f00 390.5px,#ed2a00 430.5px,#f00700 432.5px,#bc0012 433.5px,#77002a 434.5px,#3c0046 435.5px,#00008b 436.5px,#0001c8 437.5px,#0008c8 438.5px,#0008c8 453.5px,#0002c8 454.5px,#00008d 455.5px,#2e004d 456.5px,#630033 457.5px,#9b001d 458.5px,#f00200 459.5px,#ee1d00 461.5px,#f00000 529.5px,#ec0001 530.5px,#6d002d 538.5px,#1b0056 544.5px,#020063 548.5px,#006 549.5px,#000078 555.5px,#0000c7 568.5px,#0000c8 569.5px,#0001c8 605.5px,#0025c7 639.5px,#0076c5 708.5px,#0097c4 742.5px,#00abc3)"></i><i class=b style="background:linear-gradient(#e28500,#e28300 269.5px,#e18600 286.5px,#de9400 311.5px,#de9400 323.5px,#e18a00 338.5px,#ea5000 389.5px,#ed2900 430.5px,#f00700 432.5px,#b60014 433.5px,#71002c 434.5px,#370049 435.5px,#00008e 436.5px,#0002c8 437.5px,#0008c8 438.5px,#0008c8 453.5px,#0002c8 454.5px,#00008f 455.5px,#2b004e 456.5px,#600034 457.5px,#98001e 458.5px,#f00200 459.5px,#ee1d00 461.5px,#f00000 529.5px,#e60004 530.5px,#680030 538.5px,#240052 543.5px,#190058 544.5px,#000064 548.5px,#000079 555.5px,#0000c8 568.5px,#0001c8 605.5px,#0025c7 639.5px,#0076c5 708.5px,#0097c4 742.5px,#00abc3)"></i><i class=b style="background:linear-gradient(#e28500,#e28300 269.5px,#e18600 286.5px,#de9400 311.5px,#de9400 323.5px,#e18a00 338.5px,#ea4f00 389.5px,#ee2900 430.5px,#f00600 432.5px,#b00016 433.5px,#6b002f 434.5px,#31004b 435.5px,#000091 436.5px,#0002c8 437.5px,#0009c8 438.5px,#0009c8 453.5px,#0002c8 454.5px,#000090 455.5px,#280050 456.5px,#5d0035 457.5px,#950020 458.5px,#f00200 459.5px,#ee1c00 461.5px,#f00000 528.5px,#ef0000 529.5px,#6f002d 537.5px,#1f0055 543.5px,#160059 544.5px,#000065 548.5px,#00007a 555.5px,#0000c5 567.5px,#0000c8 568.5px,#0000c8 604.5px,#0025c7 639.5px,#0076c5 708.5px,#0097c4 742.5px,#00abc3)"></i><i class=b style="background:linear-gradient(#e28500,#e28300 269.5px,#e28600 286.5px,#de9400 311.5px,#de9400 323.5px,#e18a00 338.5px,#eb4f00 389.5px,#ee2900 430.5px,#f00600 432.5px,#a90019 433.5px,#650031 434.5px,#2b004e 435.5px,#000094 436.5px,#0003c8 437.5px,#000ac8 438.5px,#000ac8 453.5px,#0002c8 454.5px,#000091 455.5px,#260051 456.5px,#910021 458.5px,#f00100 459.5px,#ee1c00 461.5px,#f00000 528.5px,#ea0002 529.5px,#69002f 537.5px,#1a0057 543.5px,#020063 547.5px,#006 548.5px,#007 554.5px,#0000c7 567.5px,#0000c8 568.5px,#0000c8 604.5px,#0025c7 639.5px,#0076c5 708.5px,#0097c4 742.5px,#00abc3)"></i><i class=b style="background:linear-gradient(#e28400,#e28200 269.5px,#e28600 286.5px,#df9300 310.5px,#de9300 323.5px,#e18900 338.5px,#eb4f00 389.5px,#ee2800 430.5px,#f00500 432.5px,#a2001b 433.5px,#5f0034 434.5px,#250051 435.5px,#000097 436.5px,#0004c8 437.5px,#000bc8 438.5px,#000bc8 453.5px,#0003c8 454.5px,#000093 455.5px,#230053 456.5px,#8e0022 458.5px,#f00100 459.5px,#ee1b00 461.5px,#f00000 528.5px,#e40004 529.5px,#72002c 536.5px,#200054 542.5px,#170058 543.5px,#000064 547.5px,#000078 554.5px,#0000c8 567.5px,#0000c8 604.5px,#0025c7 639.5px,#0076c5 708.5px,#0097c4 742.5px,#00abc3)"></i><i class=b style="background:linear-gradient(#e28400,#e28200 269.5px,#e28600 286.5px,#df9300 310.5px,#df9300 323.5px,#e18900 338.5px,#ea5000 388.5px,#ee2800 430.5px,#f00500 432.5px,#9b001d 433.5px,#590037 434.5px,#1f0055 435.5px,#00009a 436.5px,#0005c8 437.5px,#000bc8 438.5px,#000bc8 453.5px,#0003c8 454.5px,#000094 455.5px,#200054 456.5px,#8b0023 458.5px,#f00100 459.5px,#ee1b00 461.5px,#f00000 527.5px,#ef0000 528.5px,#6c002e 536.5px,#1b0057 542.5px,#030063 546.5px,#000065 547.5px,#00007a 554.5px,#0000c4 566.5px,#0000c8 567.5px,#0000c8 604.5px,#0025c7 639.5px,#0076c5 708.5px,#0097c4 742.5px,#00abc3)"></i><i class=b style="background:linear-gradient(#e28400,#e28200 269.5px,#e28600 286.5px,#df9300 310.5px,#df9300 323.5px,#e18900 338.5px,#ea4f00 388.5px,#ee2800 430.5px,#f00400 432.5px,#940020 433.5px,#53003b 434.5px,#180058 435.5px,#00009e 436.5px,#0005c8 437.5px,#000cc8 438.5px,#000cc8 452.5px,#000cc8 453.5px,#0003c8 454.5px,#000095 455.5px,#1d0056 456.5px,#870024 458.5px,#f00000 459.5px,#ee1a00 461.5px,#ee1a00 462.5px,#f00000 527.5px,#e90002 528.5px,#76002a 535.5px,#220053 541.5px,#180058 542.5px,#000064 546.5px,#007 553.5px,#0000c6 566.5px,#0000c8 567.5px,#0000c8 604.5px,#0025c7 639.5px,#0076c5 708.5px,#0097c4 742.5px,#00abc3)"></i><i class=b style="background:linear-gradient(#e28400,#e28200 269.5px,#e28500 286.5px,#df9200 310.5px,#df9300 323.5px,#e18900 338.5px,#eb4f00 388.5px,#ee2700 430.5px,#f00300 432.5px,#8d0022 433.5px,#4c003e 434.5px,#11005c 435.5px,#0000a2 436.5px,#0006c8 437.5px,#000dc8 438.5px,#000dc8 452.5px,#000cc8 453.5px,#0004c8 454.5px,#000097 455.5px,#1a0057 456.5px,#830026 458.5px,#e90002 459.5px,#ef0c00 460.5px,#ef1800 461.5px,#ee1a00 462.5px,#f00000 527.5px,#e40004 528.5px,#70002c 535.5px,#1d0056 541.5px,#030062 545.5px,#000065 546.5px,#000079 553.5px,#0000c8 566.5px,#0000c8 604.5px,#0025c7 639.5px,#0076c5 708.5px,#0097c4 742.5px,#00abc3)"></i><i class=b style="background:linear-gradient(#e28400,#e28200 269.5px,#e28500 286.5px,#df9200 310.5px,#df9200 323.5px,#e18800 338.5px,#eb4f00 388.5px,#ee2700 430.5px,#f00300 432.5px,#850025 433.5px,#09005f 435.5px,#0000a6 436.5px,#0007c8 437.5px,#000ec8 438.5px,#000ec8 452.5px,#000dc8 453.5px,#0004c8 454.5px,#009 455.5px,#15005a 456.5px,#4a003f 457.5px,#7b0028 458.5px,#ce000c 459.5px,#ef0900 460.5px,#ef1400 461.5px,#ee1900 462.5px,#f00000 526.5px,#ed0001 527.5px,#6b002e 535.5px,#260051 540.5px,#190057 541.5px,#010064 545.5px,#007 552.5px,#0000c8 566.5px,#0000c8 604.5px,#0026c7 639.5px,#0076c5 708.5px,#0097c4 742.5px,#00abc3)"></i><i class=b style="background:linear-gradient(#e28400,#e38200 269.5px,#e28500 286.5px,#df9200 310.5px,#df9200 323.5px,#e18800 338.5px,#eb4f00 388.5px,#ee2700 430.5px,#f00200 432.5px,#7d0028 433.5px,#010063 435.5px,#00a 436.5px,#0008c8 437.5px,#000fc8 438.5px,#000fc8 452.5px,#000dc8 453.5px,#0005c8 454.5px,#00009e 455.5px,#050061 456.5px,#400044 457.5px,#6c002e 458.5px,#9c001d 459.5px,#f00400 460.5px,#ee1900 462.5px,#f00000 526.5px,#e70003 527.5px,#75002a 534.5px,#210054 540.5px,#170058 541.5px,#000065 545.5px,#000079 552.5px,#0000c7 565.5px,#0000c8 566.5px,#0000c8 604.5px,#0025c7 638.5px,#0076c5 708.5px,#0097c4 742.5px,#00abc3)"></i><i class=b style="background:linear-gradient(#e28400,#e38200 269.5px,#e28500 286.5px,#df9100 310.5px,#df9100 323.5px,#e18800 338.5px,#eb4e00 388.5px,#ee2600 430.5px,#f00200 432.5px,#74002b 433.5px,#360049 434.5px,#000067 435.5px,#0000ae 436.5px,#0009c8 437.5px,#0010c8 438.5px,#0010c8 452.5px,#0007c8 454.5px,#0000ab 455.5px,#000071 456.5px,#30004c 457.5px,#880024 459.5px,#f00100 460.5px,#ef1900 462.5px,#f00000 525.5px,#f00000 526.5px,#6f002d 534.5px,#1c0056 540.5px,#020063 544.5px,#006 545.5px,#00007c 552.5px,#0000c8 565.5px,#0001c8 604.5px,#0025c7 638.5px,#0076c5 708.5px,#0097c4 742.5px,#00abc3)"></i><i class=b style="background:linear-gradient(#e28400,#e38100 269.5px,#e28500 286.5px,#df9100 310.5px,#df9100 323.5px,#e18700 338.5px,#eb4e00 388.5px,#ed3200 415.5px,#ee2600 430.5px,#f00100 432.5px,#6c002e 433.5px,#2e004d 434.5px,#00006b 435.5px,#0000b3 436.5px,#000ac8 437.5px,#0011c8 438.5px,#0011c8 452.5px,#000bc8 454.5px,#0000bf 455.5px,#000085 456.5px,#1f0054 457.5px,#7d0028 459.5px,#e60003 460.5px,#ef0c00 461.5px,#ef1800 462.5px,#f00000 525.5px,#e90002 526.5px,#69002f 534.5px,#250052 539.5px,#190058 540.5px,#000064 544.5px,#000078 551.5px,#0000c6 564.5px,#0000c8 565.5px,#0001c8 604.5px,#0025c7 638.5px,#0075c5 707.5px,#0097c4 742.5px,#00abc3)"></i><i class=b style="background:linear-gradient(#e28400,#e38100 269.5px,#e28400 286.5px,#df9100 310.5px,#df9100 323.5px,#e28600 339.5px,#eb4e00 388.5px,#ed3200 415.5px,#ee2600 430.5px,#f00000 432.5px,#640032 433.5px,#250051 434.5px,#00006f 435.5px,#0000b7 436.5px,#000bc8 437.5px,#0012c8 438.5px,#0012c8 451.5px,#000bc8 454.5px,#0001c8 455.5px,#000092 456.5px,#160059 457.5px,#78002a 459.5px,#e00006 460.5px,#ef0b00 461.5px,#ef1800 462.5px,#f00000 525.5px,#71002c 533.5px,#200054 539.5px,#170059 540.5px,#000065 544.5px,#00007a 551.5px,#0000c8 564.5px,#0001c8 604.5px,#0025c7 638.5px,#0075c5 707.5px,#0097c4 742.5px,#00abc3)"></i><i class=b style="background:linear-gradient(#e28400,#e38100 269.5px,#e28400 286.5px,#df9000 310.5px,#df9000 322.5px,#e28600 339.5px,#ed3800 409.5px,#ee2500 430.5px,#ef1200 431.5px,#ec0001 432.5px,#5c0036 433.5px,#1d0056 434.5px,#000073 435.5px,#0000bc 436.5px,#000cc8 437.5px,#0014c8 438.5px,#0014c8 451.5px,#000cc8 454.5px,#0003c8 455.5px,#000097 456.5px,#12005b 457.5px,#75002b 459.5px,#dc0007 460.5px,#ef0b00 461.5px,#ef1700 462.5px,#f00000 524.5px,#ec0001 525.5px,#6b002f 533.5px,#1a0057 539.5px,#020063 543.5px,#006 544.5px,#007 550.5px,#0000c5 563.5px,#0000c8 564.5px,#0000c8 603.5px,#0025c7 638.5px,#0075c5 707.5px,#0097c4 742.5px,#00abc3)"></i><i class=b style="background:linear-gradient(#e28300,#e38100 269.5px,#e28400 286.5px,#df9000 310.5px,#df9000 322.5px,#e28500 339.5px,#ed3700 409.5px,#ee2500 430.5px,#ef1200 431.5px,#e40004 432.5px,#54003a 433.5px,#14005a 434.5px,#007 435.5px,#0000c1 436.5px,#000ec8 437.5px,#0015c8 438.5px,#0015c8 451.5px,#000cc8 454.5px,#0003c8 455.5px,#009 456.5px,#10005c 457.5px,#72002b 459.5px,#da0008 460.5px,#ef0b00 461.5px,#ef1700 462.5px,#f00000 524.5px,#e60003 525.5px,#73002b 532.5px,#210053 538.5px,#170058 539.5px,#000064 543.5px,#000079 550.5px,#0000c8 563.5px,#0000c8 603.5px,#0025c7 638.5px,#0076c5 707.5px,#0097c4 742.5px,#00abc3)"></i><i class=b style="background:linear-gradient(#e28300,#e38100 269.5px,#e28400 286.5px,#df8f00 310.5px,#df9000 322.5px,#e28500 339.5px,#ed3700 409.5px,#ee2500 430.5px,#ef1200 431.5px,#dd0006 432.5px,#4c003e 433.5px,#0c005e 434.5px,#00007c 435.5px,#0000c6 436.5px,#000fc8 437.5px,#0016c8 438.5px,#0016c8 451.5px,#000cc8 454.5px,#0003c8 455.5px,#009 456.5px,#0f005d 457.5px,#71002c 459.5px,#d80008 460.5px,#ef0b00 461.5px,#ef1700 462.5px,#f00000 524.5px,#6d002d 532.5px,#1b0056 538.5px,#030063 542.5px,#000065 543.5px,#00007b 550.5px,#0000c5 562.5px,#0000c8 563.5px,#0000c8 603.5px,#0025c7 638.5px,#0076c5 707.5px,#0097c4 742.5px,#00abc3)"></i><i class=b style="background:linear-gradient(#e28300,#e38100 269.5px,#e28400 286.5px,#e08f00 310.5px,#df8f00 322.5px,#e28400 339.5px,#ed3700 409.5px,#ee2600 429.5px,#ee2400 430.5px,#ef1100 431.5px,#d50009 432.5px,#440042 433.5px,#030062 434.5px,#000080 435.5px,#0001c8 436.5px,#0010c8 437.5px,#0018c7 438.5px,#0017c8 451.5px,#000cc8 454.5px,#0003c8 455.5px,#009 456.5px,#0e005d 457.5px,#70002c 459.5px,#d70009 460.5px,#ef0a00 461.5px,#ef1700 462.5px,#f00000 523.5px,#e90003 524.5px,#680030 532.5px,#230053 537.5px,#180058 538.5px,#000064 542.5px,#000078 549.5px,#0000c7 562.5px,#0000c8 563.5px,#0000c8 603.5px,#0025c7 638.5px,#0076c5 707.5px,#0097c4 742.5px,#00abc3)"></i><i class=b style="background:linear-gradient(#e28300,#e38000 269.5px,#e28300 286.5px,#e08e00 310.5px,#e08f00 322.5px,#e28400 339.5px,#ed3700 409.5px,#ee2600 429.5px,#e20 430.5px,#ef0f00 431.5px,#c4000f 432.5px,#3b0046 433.5px,#000067 434.5px,#000085 435.5px,#0002c8 436.5px,#0012c8 437.5px,#0019c7 438.5px,#0019c7 450.5px,#000cc8 454.5px,#0003c8 455.5px,#009 456.5px,#0d005d 457.5px,#6e002d 459.5px,#d50009 460.5px,#ef0a00 461.5px,#ef1600 462.5px,#f00000 523.5px,#70002c 531.5px,#1d0055 537.5px,#030062 541.5px,#000065 542.5px,#00007a 549.5px,#0000c8 562.5px,#0000c8 603.5px,#0025c7 638.5px,#0076c5 707.5px,#0097c4 742.5px,#00abc3)"></i><i class=b style="background:linear-gradient(#e28300,#e38000 270.5px,#e28300 286.5px,#e08e00 310.5px,#e08e00 322.5px,#e28400 339.5px,#ed3700 409.5px,#ee2500 429.5px,#ee1d00 430.5px,#ef0a00 431.5px,#99001e 432.5px,#2d004d 433.5px,#00006c 434.5px,#00008b 435.5px,#0003c8 436.5px,#0013c8 437.5px,#001bc7 438.5px,#001bc7 450.5px,#000cc8 454.5px,#0003c8 455.5px,#00009a 456.5px,#0c005e 457.5px,#6d002d 459.5px,#d3000a 460.5px,#ef0a00 461.5px,#ef1600 462.5px,#f00000 522.5px,#ea0002 523.5px,#6a002f 531.5px,#260051 536.5px,#190057 537.5px,#010064 541.5px,#007 548.5px,#0000c6 561.5px,#0000c8 562.5px,#0000c8 603.5px,#0025c7 638.5px,#0076c5 707.5px,#0097c4 742.5px,#00abc3)"></i><i class=b style="background:linear-gradient(#e28300,#e38000 270.5px,#e28300 286.5px,#e08d00 310.5px,#e08d00 323.5px,#e28200 340.5px,#ed3600 409.5px,#ee2500 429.5px,#f00400 431.5px,#50003c 432.5px,#15005a 433.5px,#000076 434.5px,#000098 435.5px,#0006c8 436.5px,#0016c8 437.5px,#001cc7 438.5px,#001cc7 449.5px,#001cc7 450.5px,#000cc8 454.5px,#0003c8 455.5px,#00009a 456.5px,#0b005e 457.5px,#6c002e 459.5px,#d2000b 460.5px,#ef0a00 461.5px,#ef1600 462.5px,#f00000 522.5px,#72002b 530.5px,#200054 536.5px,#170059 537.5px,#000065 541.5px,#00007a 548.5px,#0000c8 561.5px,#0000c8 603.5px,#0025c7 638.5px,#0076c5 707.5px,#0097c4 742.5px,#00abc3)"></i><i class=b style="background:linear-gradient(#e28300,#e38000 270.5px,#e28300 286.5px,#e08d00 310.5px,#e08d00 322.5px,#e38200 340.5px,#ed3600 409.5px,#ee2500 429.5px,#ef1200 430.5px,#d70009 431.5px,#32004b 432.5px,#000069 433.5px,#000084 434.5px,#0000b2 435.5px,#000bc8 436.5px,#001ac7 437.5px,#001ec7 438.5px,#001ec7 449.5px,#000cc8 454.5px,#0003c8 455.5px,#00009a 456.5px,#0b005f 457.5px,#6b002f 459.5px,#d0000b 460.5px,#ef0a00 461.5px,#ef1600 462.5px,#f00000 521.5px,#eb0002 522.5px,#6b002e 530.5px,#1a0057 536.5px,#020063 540.5px,#006 541.5px,#007 547.5px,#0000c5 560.5px,#0000c8 561.5px,#0001c8 603.5px,#0025c7 638.5px,#0076c5 707.5px,#0097c4 742.5px,#00abc3)"></i><i class=b style="background:linear-gradient(#e28300,#e38000 270.5px,#e28200 286.5px,#e08c00 310.5px,#e08c00 322.5px,#e38100 340.5px,#ed3600 409.5px,#ee2500 429.5px,#ef1000 430.5px,#b60014 431.5px,#1d0055 432.5px,#000076 433.5px,#000093 434.5px,#0002c8 435.5px,#0020c7 437.5px,#0020c7 449.5px,#000bc8 454.5px,#0003c8 455.5px,#00009a 456.5px,#0a005f 457.5px,#6a002f 459.5px,#ce000c 460.5px,#ef0a00 461.5px,#ef1600 462.5px,#f00000 521.5px,#e30005 522.5px,#73002b 529.5px,#210053 535.5px,#180058 536.5px,#000064 540.5px,#000079 547.5px,#0000c7 560.5px,#0000c8 561.5px,#0001c8 603.5px,#0026c7 638.5px,#0076c5 707.5px,#0098c4 742.5px,#00abc3)"></i><i class=b style="background:linear-gradient(#e28300,#e38000 270.5px,#e28200 286.5px,#e08c00 310.5px,#e08c00 322.5px,#e38100 340.5px,#ed3600 409.5px,#ee2500 429.5px,#ef0f00 430.5px,#a80019 431.5px,#10005c 432.5px,#00007d 433.5px,#00009d 434.5px,#0007c8 435.5px,#0017c7 436.5px,#0022c7 437.5px,#0022c7 449.5px,#0016c8 451.5px,#000bc8 454.5px,#0003c8 455.5px,#00009a 456.5px,#09005f 457.5px,#690030 459.5px,#cc000c 460.5px,#ef0900 461.5px,#ef1500 462.5px,#f00000 520.5px,#eb0002 521.5px,#6c002e 529.5px,#1b0056 535.5px,#030063 539.5px,#006 540.5px,#00007b 547.5px,#0000c8 560.5px,#0001c8 603.5px,#0025c7 637.5px,#0076c5 707.5px,#0098c4 742.5px,#00abc3)"></i><i class=b style="background:linear-gradient(#e28300,#e38000 270.5px,#e28200 286.5px,#e08b00 310.5px,#e08b00 322.5px,#e37f00 341.5px,#ed3600 409.5px,#ee2500 429.5px,#ef0f00 430.5px,#9d001d 431.5px,#040062 432.5px,#0000a4 434.5px,#000ac8 435.5px,#001bc7 436.5px,#0024c7 437.5px,#0024c7 448.5px,#0022c7 449.5px,#0016c8 451.5px,#000bc8 454.5px,#0003c8 455.5px,#00009a 456.5px,#080060 457.5px,#670030 459.5px,#cb000d 460.5px,#ef0900 461.5px,#ef1500 462.5px,#f00000 520.5px,#e30004 521.5px,#74002b 528.5px,#220053 534.5px,#180058 535.5px,#000064 539.5px,#000078 546.5px,#0000c7 559.5px,#0000c8 560.5px,#0000c8 602.5px,#0025c7 637.5px,#0076c5 707.5px,#0097c4 741.5px,#00abc3)"></i><i class=b style="background:linear-gradient(#e28200,#e37f00 270.5px,#e08b00 310.5px,#e18b00 322.5px,#e37f00 341.5px,#ed3600 409.5px,#ee2500 429.5px,#ef0e00 430.5px,#920021 431.5px,#000067 432.5px,#0000ab 434.5px,#000cc8 435.5px,#001dc7 436.5px,#0026c7 437.5px,#0026c7 448.5px,#0016c8 451.5px,#000bc8 454.5px,#0003c8 455.5px,#00009a 456.5px,#080060 457.5px,#660031 459.5px,#c9000e 460.5px,#ef0900 461.5px,#ef1500 462.5px,#f00000 519.5px,#eb0002 520.5px,#6c002e 528.5px,#1b0056 534.5px,#030063 538.5px,#000065 539.5px,#00007a 546.5px,#0000c8 559.5px,#0000c8 602.5px,#0025c7 637.5px,#0076c5 707.5px,#0097c4 741.5px,#00abc3)"></i><i class=b style="background:linear-gradient(#e28200,#e37f00 270.5px,#e18a00 310.5px,#e18a00 322.5px,#e37f00 341.5px,#ed3600 409.5px,#ee2400 429.5px,#ef0e00 430.5px,#870024 431.5px,#00006d 432.5px,#0000b1 434.5px,#000dc8 435.5px,#001fc7 436.5px,#0028c7 437.5px,#0028c7 448.5px,#0016c8 451.5px,#000bc8 454.5px,#0003c8 455.5px,#00009a 456.5px,#070061 457.5px,#650031 459.5px,#c7000e 460.5px,#ef0900 461.5px,#ef1500 462.5px,#f00000 519.5px,#e30005 520.5px,#74002b 527.5px,#220053 533.5px,#180058 534.5px,#000064 538.5px,#000078 545.5px,#0000c6 558.5px,#0000c8 559.5px,#0000c8 602.5px,#0025c7 637.5px,#0076c5 707.5px,#0097c4 741.5px,#00abc3)"></i><i class=b style="background:linear-gradient(#e28200,#e37f00 270.5px,#e18a00 310.5px,#e18900 323.5px,#e47d00 342.5px,#ed3600 408.5px,#ee2500 428.5px,#ee2400 429.5px,#ef0d00 430.5px,#7a0029 431.5px,#000072 432.5px,#0000b8 434.5px,#000fc8 435.5px,#0021c7 436.5px,#002ac7 437.5px,#002ac7 448.5px,#001bc7 450.5px,#000bc8 454.5px,#0003c8 455.5px,#00009a 456.5px,#060061 457.5px,#640032 459.5px,#c5000f 460.5px,#ef0800 461.5px,#ef1400 462.5px,#f00000 518.5px,#e90002 519.5px,#6c002e 527.5px,#1b0056 533.5px,#030063 537.5px,#000065 538.5px,#00007a 545.5px,#0000c8 558.5px,#0000c8 602.5px,#0025c7 637.5px,#0076c5 707.5px,#0097c4 741.5px,#00abc3)"></i><i class=b style="background:linear-gradient(#e28200,#e37f00 270.5px,#e18900 310.5px,#e18800 323.5px,#e47d00 342.5px,#ed3600 408.5px,#ee2500 428.5px,#ee2100 429.5px,#ef0a00 430.5px,#650032 431.5px,#000079 432.5px,#0000bf 434.5px,#0011c8 435.5px,#0023c7 436.5px,#002cc7 437.5px,#002cc7 447.5px,#0029c7 448.5px,#0015c8 451.5px,#000bc8 454.5px,#0003c8 455.5px,#00009a 456.5px,#060061 457.5px,#630033 459.5px,#c3000f 460.5px,#ef0800 461.5px,#ef1400 462.5px,#f00000 517.5px,#ef0000 518.5px,#74002b 526.5px,#220053 532.5px,#180058 533.5px,#000064 537.5px,#000078 544.5px,#0000c5 557.5px,#0000c8 558.5px,#0000c8 602.5px,#0025c7 637.5px,#0076c5 707.5px,#0097c4 741.5px,#00abc3)"></i><i class=b style="background:linear-gradient(#e28200,#e37f00 270.5px,#e18800 310.5px,#e18800 323.5px,#e47b00 343.5px,#ed3600 408.5px,#ee2500 428.5px,#ee1a00 429.5px,#f00500 430.5px,#380048 431.5px,#000081 432.5px,#0000c8 434.5px,#0025c7 436.5px,#002ec7 437.5px,#002ec7 447.5px,#001ac7 450.5px,#000bc8 454.5px,#0003c8 455.5px,#00009a 456.5px,#050062 457.5px,#620033 459.5px,#c10010 460.5px,#f00800 461.5px,#ef1400 462.5px,#f00000 517.5px,#e50004 518.5px,#6c002e 526.5px,#1c0056 532.5px,#030063 536.5px,#000065 537.5px,#00007a 544.5px,#0000c8 557.5px,#0000c8 602.5px,#0025c7 637.5px,#0076c5 707.5px,#0097c4 741.5px,#00abc3)"></i><i class=b style="background:linear-gradient(#e28200,#e37f00 271.5px,#e18800 309.5px,#e18800 322.5px,#e47b00 343.5px,#ed3600 408.5px,#ee2400 428.5px,#ef1300 429.5px,#c5000f 430.5px,#000070 431.5px,#0000b0 433.5px,#0003c8 434.5px,#0029c7 436.5px,#0031c7 437.5px,#0031c7 447.5px,#001ac7 450.5px,#000bc8 454.5px,#0003c8 455.5px,#00009a 456.5px,#040062 457.5px,#600034 459.5px,#c00011 460.5px,#f00800 461.5px,#ef1300 462.5px,#f00000 516.5px,#eb0002 517.5px,#72002c 525.5px,#220053 531.5px,#180058 532.5px,#000064 536.5px,#000078 543.5px,#0000c5 556.5px,#0000c8 557.5px,#0000c8 602.5px,#0025c7 637.5px,#0076c5 707.5px,#0097c4 741.5px,#00abc3)"></i><i class=b style="background:linear-gradient(#e28200,#e37f00 271.5px,#e18700 309.5px,#e18700 323.5px,#e47a00 344.5px,#ed3600 408.5px,#ee2400 428.5px,#ef0d00 429.5px,#73002b 430.5px,#000081 431.5px,#0000c2 433.5px,#000ac8 434.5px,#002ec7 436.5px,#0033c7 437.5px,#0033c7 446.5px,#0032c7 447.5px,#001ac7 450.5px,#000bc8 454.5px,#0003c8 455.5px,#00009a 456.5px,#040062 457.5px,#5f0034 459.5px,#be0011 460.5px,#f00800 461.5px,#ef1300 462.5px,#f00000 516.5px,#6a002f 525.5px,#1b0056 531.5px,#030063 535.5px,#000065 536.5px,#00007a 543.5px,#0000c8 556.5px,#0000c8 602.5px,#0025c7 637.5px,#0076c5 707.5px,#0097c4 741.5px,#00abc3)"></i><i class=b style="background:linear-gradient(#e28200,#e37e00 271.5px,#e18700 309.5px,#e28600 323.5px,#e47900 344.5px,#ed3600 408.5px,#ee2400 428.5px,#ef0b00 429.5px,#4f003d 430.5px,#00008d 431.5px,#0000b2 432.5px,#0002c8 433.5px,#0036c7 436.5px,#0036c7 446.5px,#0031c7 447.5px,#0019c7 450.5px,#000ac8 454.5px,#0003c8 455.5px,#00009a 456.5px,#030062 457.5px,#5e0035 459.5px,#bc0012 460.5px,#f00700 461.5px,#ef1300 462.5px,#f00000 515.5px,#e80003 516.5px,#6e002d 524.5px,#210053 530.5px,#180058 531.5px,#000064 535.5px,#000078 542.5px,#0000c5 555.5px,#0000c8 556.5px,#0001c8 602.5px,#0025c7 637.5px,#0076c5 707.5px,#0097c4 741.5px,#00abc3)"></i><i class=b style="background:linear-gradient(#e38200,#e37e00 271.5px,#e28600 309.5px,#e28500 323.5px,#e57800 345.5px,#ed3600 408.5px,#ee2400 428.5px,#ef0a00 429.5px,#3f0045 430.5px,#000095 431.5px,#0000bc 432.5px,#0005c8 433.5px,#002bc7 435.5px,#0038c7 436.5px,#0038c7 446.5px,#0019c7 450.5px,#000ac8 454.5px,#0003c8 455.5px,#00009a 456.5px,#030063 457.5px,#5d0035 459.5px,#ba0013 460.5px,#f00700 461.5px,#ef1300 462.5px,#f00000 514.5px,#ef0000 515.5px,#74002b 523.5px,#1a0057 530.5px,#030063 534.5px,#000065 535.5px,#00007b 542.5px,#0000c8 555.5px,#0001c8 602.5px,#0025c7 637.5px,#0076c5 707.5px,#0097c4 741.5px,#00abc3)"></i><i class=b style="background:linear-gradient(#e38200,#e37e00 271.5px,#e28500 309.5px,#e28500 323.5px,#e57700 345.5px,#ed3600 408.5px,#ee2400 428.5px,#ef0900 429.5px,#33004b 430.5px,#00009c 431.5px,#0000c4 432.5px,#0007c8 433.5px,#0030c7 435.5px,#003bc7 436.5px,#003bc7 446.5px,#001ec7 449.5px,#0014c8 451.5px,#000ac8 454.5px,#0003c8 455.5px,#00009a 456.5px,#020063 457.5px,#5c0036 459.5px,#b80013 460.5px,#f00700 461.5px,#ef1200 462.5px,#f00000 514.5px,#e70003 515.5px,#6b002f 523.5px,#1f0055 529.5px,#000064 534.5px,#000078 541.5px,#0000c6 554.5px,#0000c8 555.5px,#0000c8 601.5px,#0026c7 637.5px,#0075c5 706.5px,#0097c4 741.5px,#00abc3)"></i><i class=b style="background:linear-gradient(#e38200,#e37e00 271.5px,#e28500 309.5px,#e28400 323.5px,#e57600 346.5px,#ee2300 428.5px,#ef0800 429.5px,#270050 430.5px,#0000a3 431.5px,#0001c8 432.5px,#0009c8 433.5px,#0033c7 435.5px,#003ec7 436.5px,#003ec7 445.5px,#003ac7 446.5px,#0025c7 448.5px,#0018c7 450.5px,#000ac8 454.5px,#0002c8 455.5px,#00009a 456.5px,#020063 457.5px,#5b0037 459.5px,#b50014 460.5px,#f00700 461.5px,#ef1200 462.5px,#f00000 513.5px,#ef0000 514.5px,#70002c 522.5px,#230052 528.5px,#190058 529.5px,#020063 533.5px,#006 534.5px,#00007b 541.5px,#0000c8 554.5px,#0000c8 601.5px,#0025c7 636.5px,#0075c5 706.5px,#0097c4 741.5px,#00abc3)"></i><i class=b style="background:linear-gradient(#e38100,#e37e00 272.5px,#e28400 309.5px,#e28300 323.5px,#e57500 347.5px,#ee2300 428.5px,#f00800 429.5px,#1b0056 430.5px,#0000a9 431.5px,#0002c8 432.5px,#000bc8 433.5px,#0036c7 435.5px,#0040c7 436.5px,#0040c7 445.5px,#001dc7 449.5px,#0013c8 451.5px,#000ac8 454.5px,#0002c8 455.5px,#00009a 456.5px,#010063 457.5px,#590037 459.5px,#b30015 460.5px,#f00600 461.5px,#ef1100 462.5px,#f00000 513.5px,#e70003 514.5px,#680030 522.5px,#1b0056 528.5px,#000065 533.5px,#000078 540.5px,#0000c6 553.5px,#0000c8 554.5px,#0000c8 601.5px,#0025c7 636.5px,#0076c5 706.5px,#0097c4 741.5px,#00abc3)"></i><i class=b style="background:linear-gradient(#e38100,#e37e00 272.5px,#e28400 309.5px,#e28300 324.5px,#e67400 348.5px,#ee2400 427.5px,#e20 428.5px,#f00700 429.5px,#0e005d 430.5px,#0000b1 431.5px,#0004c8 432.5px,#000cc8 433.5px,#0038c7 435.5px,#0043c7 436.5px,#0043c7 445.5px,#002dc7 447.5px,#001dc7 449.5px,#0012c8 451.5px,#0009c8 454.5px,#0002c8 455.5px,#00009a 456.5px,#010064 457.5px,#580038 459.5px,#b10016 460.5px,#f00600 461.5px,#ef1100 462.5px,#f00000 512.5px,#ef0000 513.5px,#6f002d 521.5px,#200054 527.5px,#170059 528.5px,#000064 532.5px,#00007b 540.5px,#0000c8 553.5px,#0000c8 601.5px,#0025c7 636.5px,#0076c5 706.5px,#0097c4 741.5px,#00abc3)"></i><i class=b style="background:linear-gradient(#e38100,#e47d00 272.5px,#e28300 309.5px,#e28200 324.5px,#e67200 349.5px,#ee2400 427.5px,#ee1f00 428.5px,#f00400 429.5px,#000068 430.5px,#0000b8 431.5px,#0005c8 432.5px,#000ec8 433.5px,#003bc7 435.5px,#0046c6 436.5px,#0046c6 444.5px,#0045c7 445.5px,#002cc7 447.5px,#001cc7 449.5px,#0012c8 451.5px,#0009c8 454.5px,#0002c8 455.5px,#009 456.5px,#000064 457.5px,#560039 459.5px,#ae0017 460.5px,#f00600 461.5px,#ef1100 462.5px,#f00000 512.5px,#e60004 513.5px,#680030 521.5px,#250052 526.5px,#190057 527.5px,#020063 531.5px,#000078 539.5px,#0000c6 552.5px,#0000c8 553.5px,#0000c8 600.5px,#0025c7 636.5px,#0076c5 706.5px,#0097c4 741.5px,#00abc3)"></i><i class=b style="background:linear-gradient(#e38100,#e47d00 272.5px,#e28200 322.5px,#e57600 344.5px,#eb4b00 388.5px,#ee2300 427.5px,#ef1700 428.5px,#ce000c 429.5px,#000081 430.5px,#0000c3 431.5px,#0007c8 432.5px,#0010c8 433.5px,#003ec7 435.5px,#0049c6 436.5px,#0049c6 444.5px,#0043c7 445.5px,#002bc7 447.5px,#001cc7 449.5px,#0012c8 451.5px,#0009c8 454.5px,#0002c8 455.5px,#009 456.5px,#000065 457.5px,#55003a 459.5px,#ac0018 460.5px,#f00600 461.5px,#ef1000 462.5px,#f00000 511.5px,#ea0002 512.5px,#af0017 516.5px,#6f002d 520.5px,#1d0055 526.5px,#000065 531.5px,#007 538.5px,#0000c8 552.5px,#0000c8 600.5px,#0025c7 636.5px,#0076c5 706.5px,#0097c4 741.5px,#00abc3)"></i><i class=b style="background:linear-gradient(#e38100,#e47d00 273.5px,#e28200 308.5px,#e38100 323.5px,#e47c00 336.5px,#e67100 350.5px,#ee2300 427.5px,#ef0e00 428.5px,#5a0037 429.5px,#0000ae 430.5px,#0003c8 431.5px,#0015c8 433.5px,#0042c7 435.5px,#004cc6 436.5px,#004cc6 444.5px,#0034c7 446.5px,#0021c7 448.5px,#0015c8 450.5px,#0009c8 454.5px,#0002c8 455.5px,#009 456.5px,#000065 457.5px,#53003a 459.5px,#aa0018 460.5px,#f00500 461.5px,#ef1000 462.5px,#f00000 510.5px,#ec0001 511.5px,#df0006 512.5px,#77002a 519.5px,#230052 525.5px,#180058 526.5px,#010064 530.5px,#00007a 538.5px,#0000c7 551.5px,#0000c8 600.5px,#0025c7 636.5px,#0076c5 706.5px,#0097c4 741.5px,#00abc3)"></i><i class=b style="background:linear-gradient(#e38100,#e47d00 273.5px,#e38200 309.5px,#e38000 324.5px,#e47a00 337.5px,#e76f00 352.5px,#ee2300 427.5px,#f00700 428.5px,#060061 429.5px,#0000c3 430.5px,#0007c8 431.5px,#000fc8 432.5px,#001cc7 433.5px,#0048c6 435.5px,#004fc6 436.5px,#004ec6 444.5px,#0032c7 446.5px,#0020c7 448.5px,#0015c8 450.5px,#0009c8 454.5px,#0002c8 455.5px,#009 456.5px,#000065 457.5px,#52003b 459.5px,#a70019 460.5px,#f00500 461.5px,#ef1000 462.5px,#f00000 509.5px,#ed0001 510.5px,#e00005 511.5px,#aa0018 515.5px,#6e002d 519.5px,#1d0056 525.5px,#030062 529.5px,#000065 530.5px,#000078 537.5px,#0000c8 551.5px,#0000c8 600.5px,#0025c7 636.5px,#0076c5 706.5px,#0097c4 741.5px,#00abc3)"></i><i class=b style="background:linear-gradient(#e38100,#e47d00 273.5px,#e38100 309.5px,#e38000 324.5px,#e47900 338.5px,#e76d00 353.5px,#ee2300 427.5px,#f00500 428.5px,#000074 429.5px,#0002c8 430.5px,#0013c8 432.5px,#0052c6 435.5px,#0052c6 443.5px,#004cc6 444.5px,#0030c7 446.5px,#001fc7 448.5px,#0014c8 450.5px,#0008c8 454.5px,#0001c8 455.5px,#000065 457.5px,#50003c 459.5px,#a5001a 460.5px,#f00500 461.5px,#ef0f00 462.5px,#f00000 508.5px,#ee0001 509.5px,#74002b 518.5px,#230052 524.5px,#180058 525.5px,#000064 529.5px,#007 536.5px,#0000c7 550.5px,#0000c8 600.5px,#0025c7 636.5px,#0076c5 706.5px,#0097c4 741.5px,#00abc3)"></i><i class=b style="background:linear-gradient(#e38100,#e47d00 273.5px,#e38100 309.5px,#e37f00 325.5px,#e57800 339.5px,#e76b00 355.5px,#ee2300 427.5px,#f00400 428.5px,#00007d 429.5px,#0004c8 430.5px,#0017c8 432.5px,#0045c6 434.5px,#0055c6 435.5px,#0055c6 443.5px,#002fc7 446.5px,#001ec7 448.5px,#000fc8 451.5px,#0008c8 454.5px,#0001c8 455.5px,#006 457.5px,#4f003d 459.5px,#a2001b 460.5px,#f00400 461.5px,#ef0f00 462.5px,#f00000 508.5px,#6a002f 518.5px,#1c0056 524.5px,#030063 528.5px,#000065 529.5px,#00007a 536.5px,#0000c5 549.5px,#0000c8 550.5px,#0000c8 600.5px,#0025c7 636.5px,#0076c5 706.5px,#0097c4 741.5px,#00abc3)"></i><i class=b style="background:linear-gradient(#e38100,#e37e00 325.5px,#e57800 339.5px,#e86900 357.5px,#ee2300 427.5px,#f00300 428.5px,#000083 429.5px,#0005c8 430.5px,#0019c7 432.5px,#004bc6 434.5px,#0058c6 435.5px,#0057c6 443.5px,#0038c7 445.5px,#0024c7 447.5px,#0012c8 450.5px,#0008c8 454.5px,#0001c8 455.5px,#006 457.5px,#4d003d 459.5px,#9f001c 460.5px,#f00400 461.5px,#ef0f00 462.5px,#f00000 507.5px,#6c002e 517.5px,#220053 523.5px,#180058 524.5px,#000064 528.5px,#000078 535.5px,#0000c8 549.5px,#0000c8 600.5px,#0025c7 636.5px,#0076c5 706.5px,#0097c4 741.5px,#00abc3)"></i><i class=b style="background:linear-gradient(#e38100,#e37e00 325.5px,#e57700 339.5px,#e86900 357.5px,#e20 427.5px,#f00200 428.5px,#000089 429.5px,#0007c8 430.5px,#001bc7 432.5px,#004ec6 434.5px,#005bc6 435.5px,#005bc6 442.5px,#0054c6 443.5px,#0036c7 445.5px,#0022c7 447.5px,#0012c8 450.5px,#0007c8 454.5px,#0001c8 455.5px,#006 457.5px,#4c003e 459.5px,#9d001d 460.5px,#f00400 461.5px,#ef0e00 462.5px,#f00000 506.5px,#e70003 507.5px,#6d002e 516.5px,#1a0057 523.5px,#030063 527.5px,#006 528.5px,#00007b 535.5px,#0000c6 548.5px,#0000c8 549.5px,#0000c8 600.5px,#0025c7 636.5px,#0076c5 706.5px,#0097c4 741.5px,#00abc3)"></i><i class=b style="background:linear-gradient(#e38000,#e47d00 325.5px,#e57700 339.5px,#e86900 357.5px,#e20 427.5px,#f00100 428.5px,#00008f 429.5px,#0008c8 430.5px,#001dc7 432.5px,#0051c6 434.5px,#005ec6 435.5px,#005ec6 442.5px,#0033c7 445.5px,#0021c7 447.5px,#0011c8 450.5px,#0007c8 454.5px,#0001c8 455.5px,#006 457.5px,#4a003f 459.5px,#9a001e 460.5px,#f00300 461.5px,#ef0e00 462.5px,#f00000 505.5px,#e80003 506.5px,#6d002d 515.5px,#1e0055 522.5px,#000064 527.5px,#000078 534.5px,#0000c8 548.5px,#0000c8 600.5px,#0025c7 636.5px,#0076c5 706.5px,#0097c4 741.5px,#00abc3)"></i><i class=b style="background:linear-gradient(#e38000,#e47c00 275.5px,#e37f00 310.5px,#e47c00 326.5px,#e57600 340.5px,#e86900 357.5px,#ee2300 426.5px,#ee2100 427.5px,#f00000 428.5px,#000095 429.5px,#000ac8 430.5px,#001fc7 432.5px,#0054c6 434.5px,#0061c6 435.5px,#0060c6 442.5px,#003ec7 444.5px,#0031c7 445.5px,#0020c7 447.5px,#0010c8 450.5px,#0007c8 454.5px,#0000c8 455.5px,#000067 457.5px,#480040 459.5px,#97001f 460.5px,#f00300 461.5px,#ef0d00 462.5px,#f00000 504.5px,#e80003 505.5px,#cf000c 507.5px,#6e002d 514.5px,#1f0054 521.5px,#020063 526.5px,#007 533.5px,#0000c8 547.5px,#0000c8 600.5px,#0026c7 636.5px,#0076c5 706.5px,#0097c4 741.5px,#00abc3)"></i><i class=b style="background:linear-gradient(#e38000,#e47d00 322.5px,#e57700 338.5px,#e86800 357.5px,#ee2300 426.5px,#ee1d00 427.5px,#cb000d 428.5px,#0000a1 429.5px,#000cc8 430.5px,#0021c7 432.5px,#0057c6 434.5px,#0064c6 435.5px,#0064c6 441.5px,#005cc6 442.5px,#004ac6 443.5px,#002fc7 445.5px,#001ec7 447.5px,#0010c8 450.5px,#0006c8 454.5px,#0000c8 455.5px,#000067 457.5px,#210054 458.5px,#470041 459.5px,#940020 460.5px,#f00300 461.5px,#ef0d00 462.5px,#f00000 503.5px,#b50014 508.5px,#70002c 513.5px,#200054 520.5px,#180058 521.5px,#000065 526.5px,#000079 533.5px,#0000c7 546.5px,#0000c8 547.5px,#0000c8 599.5px,#0025c7 635.5px,#0076c5 706.5px,#0097c4 741.5px,#00abc3)"></i><i class=b style="background:linear-gradient(#e38000,#e47c00 323.5px,#e67000 347.5px,#eb4e00 385.5px,#ee2300 426.5px,#ef1400 427.5px,#6b002e 428.5px,#0000be 429.5px,#000ec8 430.5px,#0023c7 432.5px,#005ac6 434.5px,#0067c6 435.5px,#0067c6 441.5px,#0038c7 444.5px,#0024c7 446.5px,#0013c8 449.5px,#0006c8 454.5px,#0000c8 455.5px,#000067 457.5px,#200054 458.5px,#450042 459.5px,#920021 460.5px,#f00200 461.5px,#ef0d00 462.5px,#f00000 502.5px,#a90019 508.5px,#73002b 512.5px,#200054 519.5px,#180058 520.5px,#000065 525.5px,#007 532.5px,#0000c5 545.5px,#0000c8 546.5px,#0000c8 599.5px,#0025c7 635.5px,#0076c5 706.5px,#0097c4 741.5px,#00abc3)"></i><i class=b style="background:linear-gradient(#e38000,#e47b00 325.5px,#e57500 340.5px,#e86800 357.5px,#ee2300 426.5px,#ef0900 427.5px,#000069 428.5px,#0009c8 429.5px,#0028c7 432.5px,#005ec6 434.5px,#006bc6 435.5px,#0069c6 441.5px,#0043c7 443.5px,#0036c7 444.5px,#0022c7 446.5px,#0012c8 449.5px,#0006c8 454.5px,#0000c8 455.5px,#000068 457.5px,#1e0055 458.5px,#430042 459.5px,#8f0022 460.5px,#f00200 461.5px,#ef0c00 462.5px,#f00000 501.5px,#76002a 511.5px,#210053 518.5px,#180058 519.5px,#000065 524.5px,#00007a 532.5px,#0000c8 545.5px,#0000c8 599.5px,#0025c7 635.5px,#0076c5 706.5px,#0097c4 741.5px,#00abc3)"></i><i class=b style="background:linear-gradient(#e38000,#e47d00 308.5px,#e47a00 327.5px,#e67400 341.5px,#e86800 357.5px,#e20 426.5px,#f00100 427.5px,#000096 428.5px,#000ec8 429.5px,#0021c7 431.5px,#0031c7 432.5px,#0066c6 434.5px,#006ec5 435.5px,#006ec5 440.5px,#0064c6 441.5px,#0040c7 443.5px,#0033c7 444.5px,#0021c7 446.5px,#0011c8 449.5px,#0006c8 454.5px,#0000c7 455.5px,#000068 457.5px,#1d0055 458.5px,#410043 459.5px,#8c0023 460.5px,#f00200 461.5px,#ef0c00 462.5px,#f00000 500.5px,#6a002f 511.5px,#230053 517.5px,#190058 518.5px,#000065 523.5px,#000078 531.5px,#0000c6 544.5px,#0000c8 545.5px,#0000c8 599.5px,#0025c7 635.5px,#0076c5 706.5px,#0097c4 741.5px,#00abc3)"></i><i class=b style="background:linear-gradient(#e38000,#e47b00 322.5px,#e57500 338.5px,#e86800 356.5px,#e20 426.5px,#da0007 427.5px,#0000ac 428.5px,#0011c8 429.5px,#0026c7 431.5px,#003cc7 432.5px,#0071c5 434.5px,#0071c5 440.5px,#003dc7 443.5px,#0031c7 444.5px,#001fc7 446.5px,#0010c8 449.5px,#0005c8 454.5px,#0000c6 455.5px,#000068 457.5px,#1c0056 458.5px,#400044 459.5px,#890024 460.5px,#f00100 461.5px,#ef0b00 462.5px,#f00000 499.5px,#e70003 500.5px,#98001e 506.5px,#69002f 510.5px,#1a0057 517.5px,#000064 522.5px,#000078 530.5px,#0000c8 544.5px,#0000c8 599.5px,#0025c7 635.5px,#0076c5 706.5px,#0097c4 741.5px,#00abc3)"></i><i class=b style="background:linear-gradient(#e38000,#e47a00 322.5px,#e67400 339.5px,#e86800 356.5px,#e20 426.5px,#cd000c 427.5px,#0000b5 428.5px,#0013c8 429.5px,#0029c7 431.5px,#0061c6 433.5px,#0074c5 434.5px,#0072c5 440.5px,#005bc6 441.5px,#0049c6 442.5px,#003ac7 443.5px,#0025c7 445.5px,#0018c7 447.5px,#000fc8 449.5px,#0005c8 454.5px,#0000c5 455.5px,#000069 457.5px,#1a0057 458.5px,#3e0045 459.5px,#860025 460.5px,#f00100 461.5px,#ef0b00 462.5px,#f00000 498.5px,#e70003 499.5px,#72002c 508.5px,#3f0045 513.5px,#1c0056 516.5px,#000064 521.5px,#007 529.5px,#000096 535.5px,#0000c7 543.5px,#0000c8 544.5px,#0000c8 599.5px,#0025c7 635.5px,#0076c5 706.5px,#0097c4 741.5px,#00abc3)"></i><i class=b style="background:linear-gradient(#e38000,#e37d00 241.5px,#e47a00 322.5px,#e67400 339.5px,#e86800 356.5px,#eb4e00 384.5px,#e20 426.5px,#c5000f 427.5px,#00b 428.5px,#0014c8 429.5px,#002cc7 431.5px,#0067c6 433.5px,#0077c5 434.5px,#0077c5 439.5px,#006cc5 440.5px,#0056c6 441.5px,#0045c6 442.5px,#0037c7 443.5px,#0023c7 445.5px,#0017c8 447.5px,#000fc8 449.5px,#0005c8 454.5px,#0000c5 455.5px,#000069 457.5px,#190058 458.5px,#3c0046 459.5px,#830026 460.5px,#f00100 461.5px,#ef0a00 462.5px,#f00000 497.5px,#e70003 498.5px,#660031 508.5px,#1e0055 515.5px,#010064 520.5px,#00007c 529.5px,#0000c8 543.5px,#0000c8 599.5px,#0025c7 635.5px,#0076c5 706.5px,#0097c4 741.5px,#00abc3)"></i><i class=b style="background:linear-gradient(#e38000,#e47d00 241.5px,#e47900 322.5px,#e67300 339.5px,#e86800 356.5px,#eb4e00 384.5px,#e20 426.5px,#bd0012 427.5px,#0000c0 428.5px,#0016c8 429.5px,#002ec7 431.5px,#006bc6 433.5px,#007ac5 434.5px,#007ac5 439.5px,#0052c6 441.5px,#0042c7 442.5px,#0035c7 443.5px,#0022c7 445.5px,#000ec8 449.5px,#0005c8 454.5px,#0000c4 455.5px,#00006a 457.5px,#180058 458.5px,#3a0047 459.5px,#800027 460.5px,#f00000 461.5px,#ef0a00 462.5px,#f00000 496.5px,#e80003 497.5px,#70002c 506.5px,#50003c 509.5px,#1e0055 514.5px,#020063 519.5px,#00007c 528.5px,#0000a4 536.5px,#0000c7 542.5px,#0000c8 599.5px,#0025c7 635.5px,#0075c5 705.5px,#0098c4 741.5px,#00abc3)"></i><i class=b style="background:linear-gradient(#e37f00,#e47d00 241.5px,#e57900 322.5px,#e67300 339.5px,#e86800 356.5px,#eb4e00 384.5px,#e20 426.5px,#b50014 427.5px,#0000c6 428.5px,#0017c7 429.5px,#0030c7 431.5px,#006dc5 433.5px,#007dc5 434.5px,#007dc5 438.5px,#007ac5 439.5px,#0061c6 440.5px,#003ec7 442.5px,#0032c7 443.5px,#0020c7 445.5px,#000dc8 449.5px,#0004c8 454.5px,#0000c3 455.5px,#00006a 457.5px,#160059 458.5px,#380048 459.5px,#7d0028 460.5px,#f00000 461.5px,#ef0a00 462.5px,#f00000 495.5px,#e80003 496.5px,#71002c 505.5px,#390047 510.5px,#1c0056 513.5px,#000065 519.5px,#00007b 527.5px,#0000c5 541.5px,#0000c8 542.5px,#0000c8 599.5px,#0025c7 635.5px,#0075c5 705.5px,#0098c4 741.5px,#00abc3)"></i><i class=b style="background:linear-gradient(#e37f00,#e47d00 241.5px,#e57800 322.5px,#e67300 339.5px,#e86700 356.5px,#eb4e00 384.5px,#ee2100 426.5px,#a70019 427.5px,#0001c8 428.5px,#0019c7 429.5px,#0031c7 431.5px,#0070c5 433.5px,#0080c5 434.5px,#0080c5 438.5px,#0074c5 439.5px,#005cc6 440.5px,#004ac6 441.5px,#003bc7 442.5px,#0026c7 444.5px,#0018c7 446.5px,#0010c8 448.5px,#0004c8 454.5px,#0000c3 455.5px,#00006b 457.5px,#15005a 458.5px,#360049 459.5px,#7a0029 460.5px,#ec0001 461.5px,#ef0900 462.5px,#f00000 494.5px,#e90003 495.5px,#72002c 504.5px,#240052 511.5px,#1a0057 512.5px,#000065 518.5px,#00007b 526.5px,#0000c8 541.5px,#0000c8 599.5px,#0025c7 635.5px,#0075c5 705.5px,#0097c4 740.5px,#00acc3)"></i><i class=b style="background:linear-gradient(#e37f00,#e47d00 241.5px,#e57800 323.5px,#e67000 343.5px,#e95f00 365.5px,#ee2300 425.5px,#ee1c00 426.5px,#7d0028 427.5px,#0003c8 428.5px,#001bc7 429.5px,#0033c7 431.5px,#0073c5 433.5px,#0083c5 434.5px,#0083c5 438.5px,#0057c6 440.5px,#0046c6 441.5px,#0038c7 442.5px,#0024c7 444.5px,#0017c7 446.5px,#000fc8 448.5px,#0004c8 454.5px,#0000c2 455.5px,#00006b 457.5px,#13005a 458.5px,#34004a 459.5px,#77002a 460.5px,#e80003 461.5px,#ef0900 462.5px,#f00000 493.5px,#e90002 494.5px,#72002c 503.5px,#230053 510.5px,#190057 511.5px,#000065 517.5px,#000079 525.5px,#0000c8 540.5px,#0000c8 599.5px,#0025c7 635.5px,#0076c5 705.5px,#0097c4 740.5px,#00acc3)"></i><i class=b style="background:linear-gradient(#e37f00,#e47d00 241.5px,#e57600 326.5px,#e76b00 350.5px,#eb4f00 383.5px,#ee2300 425.5px,#ef1200 426.5px,#1e0055 427.5px,#000ac8 428.5px,#001dc7 429.5px,#0036c7 431.5px,#0076c5 433.5px,#0085c5 434.5px,#0085c5 437.5px,#0082c5 438.5px,#0068c6 439.5px,#0042c7 441.5px,#0035c7 442.5px,#0022c7 444.5px,#000ec8 448.5px,#0004c8 454.5px,#0000c1 455.5px,#00006c 457.5px,#11005b 458.5px,#32004b 459.5px,#74002b 460.5px,#e40004 461.5px,#f00800 462.5px,#f00000 492.5px,#e90002 493.5px,#71002c 502.5px,#230053 509.5px,#190057 510.5px,#020063 515.5px,#000078 524.5px,#0000c7 539.5px,#0000c8 598.5px,#0024c7 634.5px,#0076c5 705.5px,#0097c4 740.5px,#00acc3)"></i><i class=b style="background:linear-gradient(#e37f00,#e47d00 241.5px,#e57500 329.5px,#e76f00 344.5px,#e86200 362.5px,#eb4f00 383.5px,#e20 425.5px,#f00500 426.5px,#000094 427.5px,#0016c8 428.5px,#003bc7 431.5px,#007ac5 433.5px,#0088c5 434.5px,#0088c5 437.5px,#007ac5 438.5px,#0062c6 439.5px,#003fc7 441.5px,#0032c7 442.5px,#0020c7 444.5px,#000dc8 448.5px,#0003c8 454.5px,#0000c1 455.5px,#00006c 457.5px,#10005c 458.5px,#30004c 459.5px,#70002c 460.5px,#df0006 461.5px,#f00800 462.5px,#f00000 491.5px,#e90002 492.5px,#71002c 501.5px,#240052 508.5px,#1a0057 509.5px,#010064 514.5px,#000078 523.5px,#0000c7 538.5px,#0000c8 598.5px,#0024c7 634.5px,#0076c5 705.5px,#0097c4 740.5px,#00acc3)"></i><i class=b style="background:linear-gradient(#e37f00,#e47d00 241.5px,#e57700 322.5px,#e67100 340.5px,#e86600 357.5px,#eb4f00 383.5px,#e20 425.5px,#c30010 426.5px,#0000c7 427.5px,#001bc7 428.5px,#0032c7 430.5px,#0044c7 431.5px,#0082c5 433.5px,#008bc4 434.5px,#008bc4 437.5px,#005cc6 439.5px,#004ac6 440.5px,#002fc7 442.5px,#001ec7 444.5px,#000dc8 448.5px,#0003c8 454.5px,#0000c0 455.5px,#00006d 457.5px,#0e005d 458.5px,#2e004d 459.5px,#6d002d 460.5px,#db0007 461.5px,#f00700 462.5px,#f00000 490.5px,#dc0007 492.5px,#72002c 500.5px,#240052 507.5px,#1a0057 508.5px,#000064 513.5px,#000078 522.5px,#0000c7 537.5px,#0000c8 598.5px,#0025c7 634.5px,#0076c5 705.5px,#0097c4 740.5px,#00acc3)"></i><i class=b style="background:linear-gradient(#e37f00,#e47d00 241.5px,#e57600 322.5px,#e67100 340.5px,#e86600 357.5px,#eb4f00 383.5px,#e20 425.5px,#9a001e 426.5px,#0004c8 427.5px,#001fc7 428.5px,#0037c7 430.5px,#0051c6 431.5px,#008dc4 433.5px,#008dc4 436.5px,#0088c5 437.5px,#006dc5 438.5px,#0057c6 439.5px,#0046c6 440.5px,#0038c7 441.5px,#0024c7 443.5px,#0017c8 445.5px,#000fc8 447.5px,#0003c8 454.5px,#0000c0 455.5px,#00006d 457.5px,#0d005e 458.5px,#2c004e 459.5px,#6a002f 460.5px,#d50009 461.5px,#f00700 462.5px,#f00000 489.5px,#c10010 493.5px,#72002c 499.5px,#230052 506.5px,#1a0057 507.5px,#010064 512.5px,#000078 521.5px,#0000c7 536.5px,#0000c8 598.5px,#0025c7 634.5px,#0076c5 705.5px,#0097c4 740.5px,#00acc3)"></i><i class=b style="background:linear-gradient(#e37f00,#e47c00 241.5px,#e57600 323.5px,#e77000 341.5px,#e86300 360.5px,#eb4f00 383.5px,#ee2100 425.5px,#870024 426.5px,#0006c8 427.5px,#0020c7 428.5px,#003ac7 430.5px,#007ac5 432.5px,#0090c4 433.5px,#0090c4 436.5px,#0081c5 437.5px,#0067c6 438.5px,#0042c7 440.5px,#0035c7 441.5px,#0022c7 443.5px,#000ec8 447.5px,#0003c8 454.5px,#0000bf 455.5px,#00006e 457.5px,#0b005f 458.5px,#2a004f 459.5px,#640032 460.5px,#c8000e 461.5px,#f00500 462.5px,#f00000 487.5px,#ef0000 488.5px,#b30015 493.5px,#72002c 498.5px,#220053 505.5px,#190057 506.5px,#010063 511.5px,#000078 520.5px,#0000c7 535.5px,#0000c8 536.5px,#0000c8 598.5px,#0025c7 634.5px,#0076c5 705.5px,#0097c4 740.5px,#00acc3)"></i><i class=b style="background:linear-gradient(#e37f00,#e47c00 241.5px,#e57500 324.5px,#e76d00 346.5px,#e95a00 370.5px,#ee2300 424.5px,#ee1c00 425.5px,#5d0035 426.5px,#0009c8 427.5px,#0022c7 428.5px,#003cc7 430.5px,#0080c5 432.5px,#0092c4 433.5px,#0092c4 436.5px,#0061c6 438.5px,#004dc6 439.5px,#003ec7 440.5px,#0028c7 442.5px,#0019c7 444.5px,#000dc8 447.5px,#0003c8 454.5px,#0000bf 455.5px,#00006f 457.5px,#080060 458.5px,#250051 459.5px,#53003b 460.5px,#ad0017 461.5px,#f00200 462.5px,#f00600 463.5px,#f00000 486.5px,#ee0001 487.5px,#72002b 497.5px,#220053 504.5px,#190058 505.5px,#010063 510.5px,#000078 519.5px,#0000c6 534.5px,#0000c8 535.5px,#0000c8 598.5px,#0025c7 634.5px,#0076c5 705.5px,#0097c4 740.5px,#00acc3)"></i><i class=b style="background:linear-gradient(#e37f00,#e47c00 241.5px,#e67400 328.5px,#e86900 352.5px,#eb4f00 383.5px,#ee2300 424.5px,#ef1100 425.5px,#006 426.5px,#0010c8 427.5px,#0024c7 428.5px,#003ec7 430.5px,#0083c5 432.5px,#0094c4 433.5px,#0094c4 435.5px,#008fc4 436.5px,#0072c5 437.5px,#005bc6 438.5px,#0049c6 439.5px,#003ac7 440.5px,#0025c7 442.5px,#0018c7 444.5px,#000cc8 447.5px,#0003c8 454.5px,#0000c1 455.5px,#000074 457.5px,#010063 458.5px,#35004a 460.5px,#860025 461.5px,#e50004 462.5px,#f00500 463.5px,#f00000 485.5px,#ed0001 486.5px,#72002c 496.5px,#220053 503.5px,#190058 504.5px,#000064 509.5px,#000079 518.5px,#0000c8 534.5px,#0000c8 598.5px,#0025c7 634.5px,#0076c5 705.5px,#0097c4 740.5px,#00acc3)"></i><i class=b style="background:linear-gradient(#e37e00,#e47c00 241.5px,#e57800 302.5px,#e67200 334.5px,#e86900 352.5px,#e95900 371.5px,#ee2300 424.5px,#f00300 425.5px,#0000a7 426.5px,#001cc7 427.5px,#0043c7 430.5px,#0087c5 432.5px,#0096c4 433.5px,#0096c4 435.5px,#0086c5 436.5px,#006bc6 437.5px,#0056c6 438.5px,#0045c7 439.5px,#002cc7 441.5px,#001cc7 443.5px,#000cc8 447.5px,#0000c7 455.5px,#00007e 457.5px,#000068 458.5px,#10005c 459.5px,#290050 460.5px,#690030 461.5px,#cb000d 462.5px,#f00500 463.5px,#f00000 484.5px,#ed0001 485.5px,#a0001c 491.5px,#70002c 495.5px,#220053 502.5px,#190058 503.5px,#000064 508.5px,#000079 517.5px,#0000c8 533.5px,#0000c8 598.5px,#0025c7 634.5px,#0076c5 705.5px,#0097c4 740.5px,#00acc3)"></i><i class=b style="background:linear-gradient(#e37e00,#e47c00 240.5px,#e67400 323.5px,#e76e00 342.5px,#e86300 360.5px,#ea4f00 382.5px,#ee2300 424.5px,#a4001a 425.5px,#0004c8 426.5px,#0022c7 427.5px,#0039c7 429.5px,#004dc6 430.5px,#008fc4 432.5px,#0098c4 433.5px,#0098c4 435.5px,#0064c6 437.5px,#0050c6 438.5px,#0034c7 440.5px,#0021c7 442.5px,#0015c8 444.5px,#000bc8 447.5px,#0002c8 455.5px,#0000ad 456.5px,#00008a 457.5px,#00006d 458.5px,#060061 459.5px,#220053 460.5px,#5d0036 461.5px,#bf0011 462.5px,#f00400 463.5px,#f00000 483.5px,#ed0001 484.5px,#850025 492.5px,#640032 495.5px,#220053 501.5px,#190058 502.5px,#000065 507.5px,#000079 516.5px,#0000c8 532.5px,#0000c8 598.5px,#0025c7 634.5px,#0076c5 705.5px,#0097c4 740.5px,#00acc3)"></i><i class=b style="background:linear-gradient(#e37e00,#e47c00 240.5px,#e67400 325.5px,#e76b00 347.5px,#e95800 372.5px,#ee2400 423.5px,#ee1d00 424.5px,#570039 425.5px,#000bc8 426.5px,#0025c7 427.5px,#003fc7 429.5px,#005ac6 430.5px,#009ac4 432.5px,#009ac4 434.5px,#0093c4 435.5px,#0076c5 436.5px,#005ec6 437.5px,#004bc6 438.5px,#0030c7 440.5px,#001fc7 442.5px,#0014c8 444.5px,#000ac8 447.5px,#0002c8 455.5px,#0000b7 456.5px,#000070 458.5px,#020063 459.5px,#1f0055 460.5px,#580038 461.5px,#b90013 462.5px,#f00400 463.5px,#f00000 482.5px,#ec0002 483.5px,#6b002e 493.5px,#220053 500.5px,#190058 501.5px,#000065 506.5px,#000079 515.5px,#0000c8 531.5px,#0000c8 598.5px,#0025c7 634.5px,#0076c5 705.5px,#0097c4 740.5px,#00acc3)"></i><i class=b style="background:linear-gradient(#e37e00,#e47c00 240.5px,#e67200 331.5px,#e86700 354.5px,#ea4f00 382.5px,#ee2400 423.5px,#ef1100 424.5px,#00006c 425.5px,#0012c8 426.5px,#0027c7 427.5px,#0042c7 429.5px,#0085c5 431.5px,#009cc4 432.5px,#009cc4 434.5px,#008ac5 435.5px,#006ec5 436.5px,#0058c6 437.5px,#0047c6 438.5px,#002dc7 440.5px,#001dc7 442.5px,#0013c8 444.5px,#000ac8 447.5px,#0002c8 455.5px,#00b 456.5px,#000071 458.5px,#000064 459.5px,#1c0056 460.5px,#550039 461.5px,#b50014 462.5px,#f00300 463.5px,#f00000 481.5px,#e90003 482.5px,#d1000b 484.5px,#69002f 492.5px,#220053 499.5px,#190058 500.5px,#000065 505.5px,#000079 514.5px,#0000c8 530.5px,#0000c8 597.5px,#0025c7 634.5px,#0076c5 705.5px,#0097c4 740.5px,#00acc3)"></i><i class=b style="background:linear-gradient(#e37e00,#e47c00 240.5px,#e57700 297.5px,#e67000 335.5px,#e86700 354.5px,#ea5600 374.5px,#ee2400 423.5px,#f00200 424.5px,#0000b1 425.5px,#001fc7 426.5px,#0047c6 429.5px,#008dc4 431.5px,#009dc4 432.5px,#009dc4 434.5px,#0067c6 436.5px,#0042c7 438.5px,#002ac7 440.5px,#001bc7 442.5px,#0011c8 444.5px,#0009c8 447.5px,#0002c8 455.5px,#0000bc 456.5px,#000072 458.5px,#000065 459.5px,#1a0057 460.5px,#53003b 461.5px,#b30015 462.5px,#f00300 463.5px,#f00000 480.5px,#b70014 485.5px,#680030 491.5px,#480040 494.5px,#180058 499.5px,#000065 504.5px,#00007a 513.5px,#0000c8 529.5px,#0000c8 597.5px,#0025c7 634.5px,#0076c5 705.5px,#0097c4 740.5px,#00acc3)"></i><i class=b style="background:linear-gradient(#e37e00,#e47c00 240.5px,#e67300 324.5px,#e76c00 345.5px,#e95d00 366.5px,#ed3100 411.5px,#ee2500 422.5px,#ee2000 423.5px,#74002b 424.5px,#0008c8 425.5px,#0025c7 426.5px,#003dc7 428.5px,#0052c6 429.5px,#0095c4 431.5px,#009fc4 432.5px,#009fc4 433.5px,#0097c4 434.5px,#0079c5 435.5px,#0061c6 436.5px,#004dc6 437.5px,#0032c7 439.5px,#0020c7 441.5px,#0014c8 443.5px,#000ac8 446.5px,#0001c8 455.5px,#00b 456.5px,#000073 458.5px,#006 459.5px,#190058 460.5px,#51003b 461.5px,#b00016 462.5px,#f00300 463.5px,#f00000 478.5px,#eb0002 479.5px,#b40015 484.5px,#8f0022 487.5px,#5d0036 491.5px,#1e0055 497.5px,#000065 503.5px,#000078 511.5px,#0000c8 528.5px,#0000c8 597.5px,#0025c7 634.5px,#0076c5 705.5px,#0097c4 740.5px,#00acc3)"></i><i class=b style="background:linear-gradient(#e37e00,#e47b00 240.5px,#e57700 297.5px,#e67000 333.5px,#e86600 354.5px,#ea4f00 382.5px,#ee2500 422.5px,#ef1200 423.5px,#00006c 424.5px,#0013c8 425.5px,#0029c7 426.5px,#0042c7 428.5px,#005fc6 429.5px,#00a0c4 431.5px,#00a0c4 433.5px,#008dc4 434.5px,#0071c5 435.5px,#005ac6 436.5px,#0048c6 437.5px,#002ec7 439.5px,#001ec7 441.5px,#0013c8 443.5px,#000ac8 446.5px,#0001c8 455.5px,#00b 456.5px,#000073 458.5px,#006 459.5px,#170058 460.5px,#50003c 461.5px,#ad0017 462.5px,#f00300 463.5px,#f00000 477.5px,#a5001a 484.5px,#74002b 488.5px,#1b0056 496.5px,#000065 502.5px,#000078 510.5px,#0000c8 527.5px,#0000c8 597.5px,#0024c7 633.5px,#0076c5 705.5px,#0097c4 740.5px,#00acc3)"></i><i class=b style="background:linear-gradient(#e37e00,#e47b00 240.5px,#e57700 297.5px,#e77000 335.5px,#e86700 353.5px,#ea5600 374.5px,#ee2500 422.5px,#f00300 423.5px,#0000b3 424.5px,#0021c7 425.5px,#0048c6 428.5px,#008cc4 430.5px,#00a1c4 431.5px,#00a1c4 433.5px,#0069c6 435.5px,#0043c7 437.5px,#002bc7 439.5px,#001cc7 441.5px,#0012c8 443.5px,#0009c8 446.5px,#0001c8 455.5px,#00b 456.5px,#000074 458.5px,#000067 459.5px,#160059 460.5px,#4e003d 461.5px,#ab0018 462.5px,#f00200 463.5px,#f00000 475.5px,#ec0001 476.5px,#73002b 487.5px,#1a0057 495.5px,#000065 501.5px,#000078 509.5px,#0000c8 526.5px,#0000c8 597.5px,#0025c7 633.5px,#0076c5 705.5px,#0097c4 740.5px,#00acc3)"></i><i class=b style="background:linear-gradient(#e37e00,#e47b00 240.5px,#e67200 325.5px,#e76b00 346.5px,#e95b00 368.5px,#ed3100 411.5px,#ee2600 421.5px,#ee2100 422.5px,#75002b 423.5px,#0008c8 424.5px,#0026c7 425.5px,#003fc7 427.5px,#0054c6 428.5px,#0097c4 430.5px,#00a2c4 431.5px,#00a2c4 432.5px,#009ac4 433.5px,#007bc5 434.5px,#0062c6 435.5px,#004fc6 436.5px,#0032c7 438.5px,#0020c7 440.5px,#0011c8 443.5px,#0009c8 446.5px,#0001c8 455.5px,#00b 456.5px,#000074 458.5px,#000067 459.5px,#15005a 460.5px,#4c003e 461.5px,#a80019 462.5px,#f00200 463.5px,#f00000 474.5px,#70002c 486.5px,#190057 494.5px,#020063 499.5px,#000078 508.5px,#0000c8 525.5px,#0000c8 597.5px,#0025c7 633.5px,#0076c5 705.5px,#0097c4 740.5px,#00acc3)"></i><i class=b style="background:linear-gradient(#e37e00,#e47b00 240.5px,#e57600 297.5px,#e76f00 334.5px,#e86800 350.5px,#e95d00 366.5px,#ed3100 411.5px,#ee2600 421.5px,#ef1200 422.5px,#00006c 423.5px,#0014c8 424.5px,#002ac7 425.5px,#0044c7 427.5px,#0061c6 428.5px,#00a3c4 430.5px,#00a3c4 431.5px,#00a3c4 432.5px,#008fc4 433.5px,#0072c5 434.5px,#005bc6 435.5px,#0049c6 436.5px,#002fc7 438.5px,#001ec7 440.5px,#000fc8 443.5px,#0008c8 446.5px,#0001c8 455.5px,#00b 456.5px,#000074 458.5px,#000068 459.5px,#14005a 460.5px,#4b003f 461.5px,#a6001a 462.5px,#f00200 463.5px,#f00000 472.5px,#ed0001 473.5px,#6c002e 485.5px,#190057 493.5px,#010064 498.5px,#000078 507.5px,#00009b 514.5px,#0000c8 524.5px,#0000c8 597.5px,#0025c7 633.5px,#0076c5 705.5px,#0097c4 740.5px,#00acc3)"></i><i class=b style="background:linear-gradient(#e37d00,#e47b00 240.5px,#e57600 297.5px,#e76f00 335.5px,#e86600 353.5px,#ea5600 374.5px,#ee2600 421.5px,#f00400 422.5px,#0000b3 423.5px,#0021c7 424.5px,#004ac6 427.5px,#008ec4 429.5px,#00a3c4 430.5px,#00a3c4 431.5px,#00a3c4 432.5px,#006ac6 434.5px,#0044c7 436.5px,#002cc7 438.5px,#001cc7 440.5px,#000ec8 443.5px,#0007c8 446.5px,#0001c8 455.5px,#00b 456.5px,#000075 458.5px,#000068 459.5px,#12005b 460.5px,#49003f 461.5px,#a3001b 462.5px,#f00200 463.5px,#f00000 471.5px,#e80003 472.5px,#71002c 483.5px,#190057 492.5px,#000064 497.5px,#000078 506.5px,#0000a6 515.5px,#0000c8 523.5px,#0000c8 597.5px,#0025c7 633.5px,#0075c5 704.5px,#0097c4 740.5px,#00acc3)"></i><i class=b style="background:linear-gradient(#e47d00,#e47b00 240.5px,#e67200 323.5px,#e76c00 342.5px,#e96100 361.5px,#eb4f00 382.5px,#ee2600 421.5px,#a2001b 422.5px,#0007c8 423.5px,#0026c7 424.5px,#0040c7 426.5px,#0055c6 427.5px,#0099c4 429.5px,#00a4c4 430.5px,#00a4c4 431.5px,#009bc4 432.5px,#007cc5 433.5px,#0063c6 434.5px,#003fc7 436.5px,#0029c7 438.5px,#001ac7 440.5px,#000dc8 443.5px,#0007c8 446.5px,#0001c8 455.5px,#0000ba 456.5px,#000075 458.5px,#000069 459.5px,#11005b 460.5px,#480040 461.5px,#a1001c 462.5px,#f00100 463.5px,#f00000 469.5px,#ee0001 470.5px,#6c002e 482.5px,#210053 490.5px,#190058 491.5px,#000065 496.5px,#000079 505.5px,#0000b0 516.5px,#0000c7 521.5px,#0000c8 522.5px,#0000c8 597.5px,#0025c7 633.5px,#0075c5 704.5px,#0097c4 740.5px,#00acc3)"></i><i class=b style="background:linear-gradient(#e47d00,#e47b00 240.5px,#e77000 328.5px,#e86600 353.5px,#ea5000 381.5px,#ee2700 420.5px,#ee1f00 421.5px,#55003a 422.5px,#000dc8 423.5px,#0029c7 424.5px,#0044c7 426.5px,#0061c6 427.5px,#00a4c4 429.5px,#00a4c4 431.5px,#0090c4 432.5px,#0073c5 433.5px,#005cc6 434.5px,#004ac6 435.5px,#002fc7 437.5px,#0018c7 440.5px,#000cc8 443.5px,#0006c8 446.5px,#0001c8 455.5px,#0000ba 456.5px,#000076 458.5px,#000069 459.5px,#10005c 460.5px,#460041 461.5px,#9e001c 462.5px,#f00100 463.5px,#f00000 468.5px,#e90002 469.5px,#72002c 480.5px,#1f0055 489.5px,#000065 495.5px,#000079 504.5px,#0000c8 520.5px,#0000c8 597.5px,#0025c7 633.5px,#0075c5 704.5px,#0097c4 740.5px,#00acc3)"></i><i class=b style="background:linear-gradient(#e47d00,#e47b00 240.5px,#e57600 296.5px,#e76f00 334.5px,#e86800 350.5px,#e95c00 366.5px,#ed3100 411.5px,#ee2700 420.5px,#ef1300 421.5px,#00006e 422.5px,#0015c8 423.5px,#002bc7 424.5px,#0047c6 426.5px,#008dc4 428.5px,#00a4c4 429.5px,#00a4c4 431.5px,#006bc6 433.5px,#0055c6 434.5px,#0037c7 436.5px,#001cc7 439.5px,#000ec8 442.5px,#0007c8 445.5px,#0001c8 455.5px,#0000ba 456.5px,#000076 458.5px,#00006a 459.5px,#0e005d 460.5px,#440042 461.5px,#9b001d 462.5px,#f00100 463.5px,#f00000 466.5px,#ef0000 467.5px,#6d002e 479.5px,#1b0057 488.5px,#000065 494.5px,#00007a 503.5px,#0000c8 519.5px,#0000c8 597.5px,#0025c7 633.5px,#0076c5 704.5px,#0097c4 740.5px,#00acc3)"></i><i class=b style="background:linear-gradient(#e47d00,#e47a00 240.5px,#e57600 296.5px,#e76e00 336.5px,#e86600 353.5px,#ea5300 377.5px,#ee2700 420.5px,#f00400 421.5px,#0000b3 422.5px,#0022c7 423.5px,#003bc7 425.5px,#004cc6 426.5px,#0093c4 428.5px,#00a4c4 429.5px,#00a4c4 430.5px,#009bc4 431.5px,#007cc5 432.5px,#0063c6 433.5px,#004fc6 434.5px,#0033c7 436.5px,#001ac7 439.5px,#000dc8 442.5px,#0007c8 445.5px,#0001c8 455.5px,#0000ba 456.5px,#007 458.5px,#00006a 459.5px,#0d005d 460.5px,#420043 461.5px,#99001e 462.5px,#f00000 463.5px,#f00000 465.5px,#ea0002 466.5px,#72002b 477.5px,#200054 486.5px,#190058 487.5px,#000065 493.5px,#00007b 502.5px,#0000c6 517.5px,#0000c8 518.5px,#0000c8 596.5px,#0025c7 633.5px,#0076c5 704.5px,#0097c4 740.5px,#00acc3)"></i><i class=b style="background:linear-gradient(#e47d00,#e47a00 239.5px,#e77000 326.5px,#e86900 348.5px,#e95900 370.5px,#ed3100 411.5px,#ee2800 419.5px,#ee2300 420.5px,#800027 421.5px,#0008c8 422.5px,#0026c7 423.5px,#0040c7 425.5px,#0055c6 426.5px,#009ac4 428.5px,#00a4c4 429.5px,#00a4c4 430.5px,#008fc4 431.5px,#0072c5 432.5px,#005bc6 433.5px,#0049c6 434.5px,#002fc7 436.5px,#0018c7 439.5px,#000cc8 442.5px,#0006c8 445.5px,#0001c8 455.5px,#0000ba 456.5px,#007 458.5px,#00006b 459.5px,#0c005e 460.5px,#410044 461.5px,#96001f 462.5px,#f00000 463.5px,#f00000 464.5px,#6d002d 476.5px,#1b0056 485.5px,#000065 492.5px,#000078 500.5px,#0000c6 516.5px,#0000c8 517.5px,#0000c8 596.5px,#0025c7 633.5px,#0076c5 704.5px,#0097c4 740.5px,#00acc3)"></i><i class=b style="background:linear-gradient(#e47d00,#e47a00 239.5px,#e57500 296.5px,#e76e00 334.5px,#e86700 351.5px,#e95b00 367.5px,#ed3100 411.5px,#ee2800 419.5px,#ef1400 420.5px,#000068 421.5px,#0013c8 422.5px,#002ac7 423.5px,#0044c7 425.5px,#0061c6 426.5px,#00a4c4 428.5px,#00a4c4 429.5px,#00a4c4 430.5px,#0084c5 431.5px,#006ac6 432.5px,#0044c7 434.5px,#002bc7 436.5px,#0016c8 439.5px,#000bc8 442.5px,#0006c8 445.5px,#0001c8 455.5px,#0000ba 456.5px,#007 458.5px,#00006b 459.5px,#0a005f 460.5px,#3f0045 461.5px,#930020 462.5px,#ec0002 463.5px,#73002b 474.5px,#200054 483.5px,#190058 484.5px,#000064 490.5px,#000079 499.5px,#0000c7 515.5px,#0000c8 516.5px,#0000c8 596.5px,#0025c7 633.5px,#0076c5 704.5px,#0097c4 740.5px,#00acc3)"></i><i class=b style="background:linear-gradient(#e47d00,#e47a00 239.5px,#e57500 296.5px,#e76d00 336.5px,#e86600 353.5px,#ea5500 375.5px,#ee2900 418.5px,#ee2800 419.5px,#f00500 420.5px,#0000af 421.5px,#0021c7 422.5px,#0049c6 425.5px,#008ec4 427.5px,#00a3c4 428.5px,#00a3c4 429.5px,#0099c4 430.5px,#007ac5 431.5px,#0062c6 432.5px,#003fc7 434.5px,#0028c7 436.5px,#001ac7 438.5px,#000dc8 441.5px,#0007c8 444.5px,#0001c8 455.5px,#0000ba 456.5px,#000078 458.5px,#00006c 459.5px,#090060 460.5px,#3d0045 461.5px,#8a0023 462.5px,#dc0007 463.5px,#6e002d 473.5px,#1c0056 482.5px,#000065 489.5px,#000079 498.5px,#0000c7 514.5px,#0000c8 515.5px,#0000c8 596.5px,#0025c7 633.5px,#0076c5 704.5px,#0097c4 740.5px,#00acc3)"></i><i class=b style="background:linear-gradient(#e47d00,#e47a00 239.5px,#e76f00 327.5px,#e86800 349.5px,#ea5700 372.5px,#ed3100 411.5px,#ee2900 418.5px,#ee2400 419.5px,#8c0023 420.5px,#0007c8 421.5px,#0025c7 422.5px,#003fc7 424.5px,#0054c6 425.5px,#0098c4 427.5px,#00a3c4 428.5px,#00a3c4 429.5px,#008dc4 430.5px,#0071c5 431.5px,#005ac6 432.5px,#0048c6 433.5px,#002ec7 435.5px,#0018c7 438.5px,#000cc8 441.5px,#0006c8 444.5px,#0001c8 455.5px,#0000b9 456.5px,#000078 458.5px,#00006c 459.5px,#060061 460.5px,#350049 461.5px,#7d0028 462.5px,#cc000d 463.5px,#6a002f 472.5px,#200054 480.5px,#190058 481.5px,#000064 487.5px,#000079 497.5px,#0000c7 513.5px,#0000c8 596.5px,#0026c7 633.5px,#0076c5 704.5px,#0097c4 740.5px,#00acc3)"></i><i class=b style="background:linear-gradient(#e47d00,#e47a00 239.5px,#e57500 296.5px,#e76d00 335.5px,#e86600 352.5px,#e95a00 368.5px,#ed3200 410.5px,#ee2900 418.5px,#ef1500 419.5px,#030062 420.5px,#0012c8 421.5px,#0029c7 422.5px,#0043c7 424.5px,#0060c6 425.5px,#00a2c4 427.5px,#00a2c4 429.5px,#0082c5 430.5px,#0068c6 431.5px,#0043c7 433.5px,#002bc7 435.5px,#0016c8 438.5px,#000bc8 441.5px,#0006c8 444.5px,#0001c8 455.5px,#0000b5 456.5px,#000079 458.5px,#000064 460.5px,#2d004e 461.5px,#70002c 462.5px,#bc0012 463.5px,#6f002d 470.5px,#1c0056 479.5px,#000065 486.5px,#00007a 496.5px,#0000c8 512.5px,#0000c8 596.5px,#0024c7 632.5px,#0076c5 704.5px,#0097c4 740.5px,#00acc3)"></i><i class=b style="background:linear-gradient(#e47c00,#e47a00 239.5px,#e57500 296.5px,#e76d00 336.5px,#e86500 353.5px,#ea5400 376.5px,#ed2a00 417.5px,#ee2900 418.5px,#f00600 419.5px,#0000a8 420.5px,#001fc7 421.5px,#0048c6 424.5px,#008cc4 426.5px,#00a1c4 427.5px,#00a1c4 428.5px,#0096c4 429.5px,#0078c5 430.5px,#0060c6 431.5px,#003dc7 433.5px,#0027c7 435.5px,#0014c8 438.5px,#000ac8 441.5px,#0005c8 444.5px,#0000c8 455.5px,#000091 457.5px,#000079 458.5px,#000067 460.5px,#250051 461.5px,#650031 462.5px,#ab0018 463.5px,#6a002f 469.5px,#200054 477.5px,#190058 478.5px,#000064 484.5px,#00007b 495.5px,#0000c8 511.5px,#0000c8 596.5px,#0025c7 632.5px,#0076c5 704.5px,#0097c4 740.5px,#00acc3)"></i><i class=b style="background:linear-gradient(#e47c00,#e47a00 239.5px,#e77000 321.5px,#e76b00 342.5px,#e95f00 361.5px,#ea5000 381.5px,#ee2900 418.5px,#c5000f 419.5px,#0004c8 420.5px,#0023c7 421.5px,#003dc7 423.5px,#0052c6 424.5px,#0095c4 426.5px,#00a0c4 427.5px,#00a0c4 428.5px,#008ac5 429.5px,#006ec5 430.5px,#0058c6 431.5px,#0047c6 432.5px,#002dc7 434.5px,#0017c7 437.5px,#000cc8 440.5px,#0006c8 443.5px,#0001c8 454.5px,#0000c1 455.5px,#000089 457.5px,#000079 458.5px,#000069 460.5px,#230052 461.5px,#5f0035 462.5px,#9b001d 463.5px,#6f002d 467.5px,#1c0056 476.5px,#000065 483.5px,#000078 493.5px,#0000c8 510.5px,#0000c8 596.5px,#0025c7 632.5px,#0076c5 704.5px,#0097c4 740.5px,#00acc3)"></i><i class=b style="background:linear-gradient(#e47c00,#e47a00 239.5px,#e67400 295.5px,#e76d00 333.5px,#e86500 353.5px,#ea4f00 381.5px,#ed2b00 416.5px,#ed2a00 417.5px,#e20 418.5px,#76002a 419.5px,#000ac8 420.5px,#0025c7 421.5px,#0040c7 423.5px,#005dc6 424.5px,#009fc4 426.5px,#009fc4 428.5px,#007fc5 429.5px,#0066c6 430.5px,#0041c7 432.5px,#002ac7 434.5px,#0015c8 437.5px,#000bc8 440.5px,#0006c8 443.5px,#0000c8 454.5px,#0000bc 455.5px,#000083 457.5px,#000078 458.5px,#000069 460.5px,#2b004f 461.5px,#610034 462.5px,#8b0023 463.5px,#6b002f 466.5px,#210054 474.5px,#190057 475.5px,#000064 481.5px,#00007a 492.5px,#00008f 497.5px,#0000c1 507.5px,#0000c8 509.5px,#0000c8 596.5px,#0025c7 632.5px,#0076c5 704.5px,#0098c4 740.5px,#00acc3)"></i><i class=b style="background:linear-gradient(#e47c00,#e47900 239.5px,#e67400 295.5px,#e76d00 335.5px,#e86500 352.5px,#e95a00 368.5px,#ed3200 410.5px,#ed2a00 417.5px,#ef1600 418.5px,#0e005d 419.5px,#0011c8 420.5px,#0027c7 421.5px,#0042c7 423.5px,#0087c5 425.5px,#009dc4 426.5px,#009dc4 427.5px,#0092c4 428.5px,#0075c5 429.5px,#005dc6 430.5px,#003cc7 432.5px,#0026c7 434.5px,#0019c7 436.5px,#000dc8 439.5px,#0006c8 442.5px,#0000c8 454.5px,#0000b7 455.5px,#000082 457.5px,#000071 459.5px,#000064 460.5px,#680030 462.5px,#7a0029 463.5px,#1c0056 473.5px,#000065 480.5px,#000078 490.5px,#00009a 498.5px,#0000c7 507.5px,#0000c8 508.5px,#0000c8 596.5px,#0025c7 632.5px,#0076c5 704.5px,#0097c4 739.5px,#00acc3)"></i><i class=b style="background:linear-gradient(#e47c00,#e47900 239.5px,#e67400 295.5px,#e76c00 336.5px,#e86500 353.5px,#ea5400 376.5px,#ed2b00 416.5px,#ed2a00 417.5px,#f00700 418.5px,#0000a0 419.5px,#001dc7 420.5px,#0046c6 423.5px,#008bc4 425.5px,#009cc4 426.5px,#009cc4 427.5px,#0086c5 428.5px,#006bc6 429.5px,#0044c7 431.5px,#002cc7 433.5px,#001cc7 435.5px,#000ec8 438.5px,#0006c8 442.5px,#0000c8 454.5px,#000098 456.5px,#000083 457.5px,#000074 459.5px,#020063 460.5px,#6b002f 462.5px,#6a002f 463.5px,#190057 472.5px,#000064 478.5px,#00007a 489.5px,#0000a0 498.5px,#0000c8 506.5px,#0000c8 595.5px,#0025c7 632.5px,#0076c5 704.5px,#0097c4 739.5px,#00acc3)"></i><i class=b style="background:linear-gradient(#e47c00,#e47900 239.5px,#e76e00 328.5px,#e86600 351.5px,#ea5400 375.5px,#ed3200 410.5px,#ed2b00 416.5px,#ee2600 417.5px,#af0016 418.5px,#0004c8 419.5px,#0021c7 420.5px,#003ac7 422.5px,#004ec6 423.5px,#0090c4 425.5px,#009ac4 426.5px,#0099c4 427.5px,#007ac5 428.5px,#0061c6 429.5px,#003ec7 431.5px,#0028c7 433.5px,#001ac7 435.5px,#000dc8 438.5px,#0007c8 441.5px,#0000c8 453.5px,#0000c2 454.5px,#000091 456.5px,#000083 457.5px,#000076 459.5px,#010064 460.5px,#35004a 461.5px,#640032 462.5px,#1c0056 470.5px,#020063 476.5px,#000078 487.5px,#0000a6 498.5px,#0000c8 505.5px,#0000c8 595.5px,#0025c7 632.5px,#0076c5 704.5px,#0097c4 739.5px,#00acc3)"></i><i class=b style="background:linear-gradient(#e47c00,#e47900 239.5px,#e67400 295.5px,#e76c00 335.5px,#e86500 352.5px,#e95900 369.5px,#ed3200 410.5px,#ed2b00 416.5px,#ef1700 417.5px,#270051 418.5px,#000dc8 419.5px,#0023c7 420.5px,#003dc7 422.5px,#0059c6 423.5px,#0098c4 425.5px,#0098c4 426.5px,#008bc4 427.5px,#006fc5 428.5px,#0059c6 429.5px,#0047c6 430.5px,#002ec7 432.5px,#0017c7 435.5px,#000cc8 438.5px,#0006c8 441.5px,#0000c8 453.5px,#0000bd 454.5px,#00008d 456.5px,#007 459.5px,#060061 460.5px,#34004a 461.5px,#560039 462.5px,#190057 469.5px,#000064 475.5px,#00007a 486.5px,#0000c8 504.5px,#0000c8 595.5px,#0025c7 632.5px,#0076c5 704.5px,#0097c4 739.5px,#00acc3)"></i><i class=b style="background:linear-gradient(#e47c00,#e57900 239.5px,#e67400 295.5px,#e76c00 336.5px,#e86500 352.5px,#ea5300 376.5px,#ed2c00 415.5px,#ed2b00 416.5px,#ef0900 417.5px,#000095 418.5px,#001ac7 419.5px,#0041c7 422.5px,#0082c5 424.5px,#0096c4 425.5px,#0096c4 426.5px,#0065c6 428.5px,#0041c7 430.5px,#002ac7 432.5px,#001bc7 434.5px,#000ec8 437.5px,#0006c8 441.5px,#0000c8 453.5px,#0000ba 454.5px,#00008c 456.5px,#00007e 458.5px,#000073 459.5px,#0c005e 460.5px,#380048 461.5px,#470041 462.5px,#1d0056 467.5px,#000065 474.5px,#000078 484.5px,#0000c8 503.5px,#0000c8 595.5px,#0025c7 632.5px,#0076c5 704.5px,#0097c4 739.5px,#00acc3)"></i><i class=b style="background:linear-gradient(#e47c00,#e57900 238.5px,#e76d00 327.5px,#e86600 350.5px,#ea5600 373.5px,#ed3200 410.5px,#ed2c00 415.5px,#ee2700 416.5px,#c5000f 417.5px,#0001c8 418.5px,#001ec7 419.5px,#0036c7 421.5px,#004ac6 422.5px,#008ac5 424.5px,#0094c4 425.5px,#0090c4 426.5px,#0073c5 427.5px,#005cc6 428.5px,#004ac6 429.5px,#003bc7 430.5px,#0026c7 432.5px,#0018c7 434.5px,#0010c8 436.5px,#0004c8 442.5px,#0000c8 453.5px,#00009f 455.5px,#00008e 456.5px,#000081 458.5px,#000073 459.5px,#0c005e 460.5px,#380048 461.5px,#380048 462.5px,#190057 466.5px,#000064 472.5px,#00007b 483.5px,#0000c8 502.5px,#0000c8 595.5px,#0025c7 632.5px,#0076c5 704.5px,#0097c4 739.5px,#00acc3)"></i><i class=b style="background:linear-gradient(#e47c00,#e57900 238.5px,#e67300 295.5px,#e76c00 335.5px,#e86500 352.5px,#e95900 369.5px,#ed3300 409.5px,#ed2c00 415.5px,#ee1900 416.5px,#3d0046 417.5px,#000bc8 418.5px,#0020c7 419.5px,#0039c7 421.5px,#0054c6 422.5px,#0092c4 424.5px,#0092c4 425.5px,#0083c5 426.5px,#0069c6 427.5px,#0043c7 429.5px,#0036c7 430.5px,#0022c7 432.5px,#0016c8 434.5px,#000ec8 436.5px,#0004c8 442.5px,#0000c8 452.5px,#0000c3 453.5px,#009 455.5px,#00008e 456.5px,#000083 458.5px,#000074 459.5px,#070060 460.5px,#2f004d 461.5px,#1a0057 464.5px,#000065 471.5px,#000079 481.5px,#0000c8 500.5px,#0000c8 595.5px,#0025c7 632.5px,#0076c5 704.5px,#0097c4 739.5px,#00acc3)"></i><i class=b style="background:linear-gradient(#e47c00,#e57900 238.5px,#e67300 295.5px,#e76b00 336.5px,#e86500 352.5px,#ea5500 374.5px,#ed2e00 413.5px,#ed2c00 415.5px,#ef0b00 416.5px,#008 417.5px,#0017c8 418.5px,#003dc7 421.5px,#007cc5 423.5px,#0090c4 424.5px,#0090c4 425.5px,#005fc6 427.5px,#004cc6 428.5px,#003dc7 429.5px,#0027c7 431.5px,#0019c7 433.5px,#0010c8 435.5px,#0008c8 438.5px,#0003c8 442.5px,#0000c8 452.5px,#0000bf 453.5px,#000096 455.5px,#000084 458.5px,#000073 459.5px,#040062 460.5px,#1f0054 461.5px,#000064 469.5px,#007 479.5px,#0000c8 499.5px,#0000c8 595.5px,#0025c7 632.5px,#0076c5 704.5px,#0097c4 739.5px,#00acc3)"></i><i class=b style="background:linear-gradient(#e47b00,#e57900 238.5px,#e67300 295.5px,#e76b00 337.5px,#e86400 352.5px,#ea5200 377.5px,#ed2e00 413.5px,#ed2b00 415.5px,#f00200 416.5px,#0000b8 417.5px,#001ac7 418.5px,#0032c7 420.5px,#0046c6 421.5px,#0083c5 423.5px,#008dc4 424.5px,#0087c5 425.5px,#006cc5 426.5px,#0056c6 427.5px,#0045c6 428.5px,#0037c7 429.5px,#0023c7 431.5px,#0017c8 433.5px,#000fc8 435.5px,#0004c8 441.5px,#0000c8 452.5px,#0000bc 453.5px,#000096 455.5px,#00008b 457.5px,#000082 458.5px,#000072 459.5px,#070061 460.5px,#160059 461.5px,#000065 468.5px,#000079 478.5px,#0000c8 497.5px,#0000c8 595.5px,#0026c7 632.5px,#0076c5 704.5px,#0097c4 739.5px,#00acc3)"></i><i class=b style="background:linear-gradient(#e47b00,#e57800 238.5px,#e67300 295.5px,#e76c00 333.5px,#e86400 352.5px,#ea5000 380.5px,#ed2e00 413.5px,#ed2d00 414.5px,#ee2500 415.5px,#bc0012 416.5px,#0002c8 417.5px,#001bc7 418.5px,#0035c7 420.5px,#004fc6 421.5px,#008bc4 423.5px,#008bc4 424.5px,#007ac5 425.5px,#0062c6 426.5px,#004ec6 427.5px,#003fc7 428.5px,#0032c7 429.5px,#0020c7 431.5px,#000dc8 435.5px,#0003c8 441.5px,#0000c8 452.5px,#000098 455.5px,#00008e 457.5px,#000082 458.5px,#000070 459.5px,#0c005e 460.5px,#0f005d 461.5px,#000064 466.5px,#007 476.5px,#0000c6 495.5px,#0000c8 496.5px,#0000c8 595.5px,#0025c7 631.5px,#0075c5 703.5px,#0097c4 739.5px,#00acc3)"></i><i class=b style="background:linear-gradient(#e47b00,#e57800 238.5px,#e67300 294.5px,#e76b00 335.5px,#e86400 352.5px,#e95800 369.5px,#ed3300 409.5px,#ed2d00 414.5px,#ee1a00 415.5px,#53003a 416.5px,#0007c8 417.5px,#001cc7 418.5px,#0036c7 420.5px,#0074c5 422.5px,#0088c5 423.5px,#0088c5 424.5px,#0058c6 426.5px,#0047c6 427.5px,#0039c7 428.5px,#0024c7 430.5px,#0017c7 432.5px,#000fc8 434.5px,#0004c8 440.5px,#0000c8 451.5px,#0000c4 452.5px,#0000a2 454.5px,#000098 455.5px,#00008e 457.5px,#000070 459.5px,#0a005f 460.5px,#000064 464.5px,#000079 475.5px,#0000c8 494.5px,#0000c8 595.5px,#0025c7 631.5px,#0075c5 703.5px,#0097c4 739.5px,#00acc3)"></i><i class=b style="background:linear-gradient(#e47b00,#e57800 238.5px,#e67300 294.5px,#e76b00 336.5px,#e86400 352.5px,#ea5500 374.5px,#ed2f00 412.5px,#ed2c00 414.5px,#ef0c00 415.5px,#00007a 416.5px,#0012c8 417.5px,#0038c7 420.5px,#0077c5 422.5px,#0085c5 423.5px,#007dc5 424.5px,#0064c6 425.5px,#0040c7 427.5px,#0033c7 428.5px,#0021c7 430.5px,#000ec8 434.5px,#0004c8 440.5px,#0000c8 451.5px,#0000c1 452.5px,#00009f 454.5px,#00008e 457.5px,#00006e 459.5px,#030062 460.5px,#000065 462.5px,#007 473.5px,#0000c7 492.5px,#0000c8 493.5px,#0000c8 594.5px,#0025c7 631.5px,#0076c5 703.5px,#0097c4 739.5px,#00acc3)"></i><i class=b style="background:linear-gradient(#e47b00,#e57800 238.5px,#e67300 294.5px,#e76a00 338.5px,#e86300 354.5px,#ea5100 379.5px,#ed2f00 412.5px,#ee2900 414.5px,#f00100 415.5px,#0000ad 416.5px,#0015c8 417.5px,#002cc7 419.5px,#003fc7 420.5px,#007ac5 422.5px,#0083c5 423.5px,#0048c6 426.5px,#003ac7 427.5px,#0025c7 429.5px,#0018c7 431.5px,#000fc8 433.5px,#0008c8 436.5px,#0003c8 440.5px,#0000c8 451.5px,#0000be 452.5px,#00009e 454.5px,#00008a 457.5px,#00006b 459.5px,#006 460.5px,#000079 472.5px,#0000c8 491.5px,#0000c8 594.5px,#0025c7 631.5px,#0076c5 703.5px,#0097c4 739.5px,#00acc3)"></i><i class=b style="background:linear-gradient(#e47b00,#e57800 238.5px,#e67300 294.5px,#e76b00 335.5px,#e86400 351.5px,#ea5700 370.5px,#ed3300 409.5px,#ed2d00 413.5px,#ee1c00 414.5px,#74002b 415.5px,#0003c8 416.5px,#0017c7 417.5px,#002fc7 419.5px,#0080c5 422.5px,#0080c5 423.5px,#0066c6 424.5px,#0041c7 426.5px,#0034c7 427.5px,#0022c7 429.5px,#000ec8 433.5px,#0004c8 439.5px,#0000c8 451.5px,#00009e 454.5px,#000094 456.5px,#000089 457.5px,#00006a 459.5px,#000069 460.5px,#000078 470.5px,#0000c7 489.5px,#0000c8 490.5px,#0000c8 594.5px,#0025c7 631.5px,#0076c5 703.5px,#0097c4 739.5px,#00acc3)"></i><i class=b style="background:linear-gradient(#e47b00,#e57800 238.5px,#e67300 294.5px,#e76a00 336.5px,#e86400 352.5px,#ea5400 374.5px,#ed3000 411.5px,#ed2d00 413.5px,#ef0e00 414.5px,#00006b 415.5px,#000ec8 416.5px,#0032c7 419.5px,#006bc6 421.5px,#007dc5 422.5px,#0073c5 423.5px,#005cc6 424.5px,#003bc7 426.5px,#001ec7 429.5px,#000cc8 433.5px,#0003c8 439.5px,#0000c8 450.5px,#0000c1 451.5px,#0000a6 453.5px,#00009e 454.5px,#000094 456.5px,#00006a 459.5px,#00007a 469.5px,#0000c8 488.5px,#0000c8 594.5px,#0025c7 631.5px,#0076c5 703.5px,#0097c4 739.5px,#00acc3)"></i><i class=b style="background:linear-gradient(#e47b00,#e57800 238.5px,#e67200 294.5px,#e86a00 338.5px,#e86200 354.5px,#ea5000 379.5px,#ed3000 411.5px,#ed2a00 413.5px,#f00300 414.5px,#00009c 415.5px,#0011c8 416.5px,#0027c7 418.5px,#0039c7 419.5px,#0071c5 421.5px,#007ac5 422.5px,#0042c7 425.5px,#0035c7 426.5px,#0022c7 428.5px,#000ec8 432.5px,#0003c8 439.5px,#0000c8 449.5px,#0000c5 450.5px,#0000a1 453.5px,#000094 456.5px,#000078 458.5px,#00006e 459.5px,#00007a 467.5px,#0000c8 486.5px,#0000c8 594.5px,#0025c7 631.5px,#0076c5 703.5px,#0097c4 739.5px,#00acc3)"></i><i class=b style="background:linear-gradient(#e47b00,#e57800 238.5px,#e67200 294.5px,#e76a00 335.5px,#e86400 352.5px,#ea4f00 380.5px,#ed3000 411.5px,#ed2f00 412.5px,#ee1d00 413.5px,#96001f 414.5px,#0000c4 415.5px,#0013c8 416.5px,#0029c7 418.5px,#0077c5 421.5px,#0075c5 422.5px,#005dc6 423.5px,#003cc7 425.5px,#0030c7 426.5px,#001fc7 428.5px,#000dc8 432.5px,#0003c8 438.5px,#0000c6 449.5px,#0000a5 452.5px,#000098 455.5px,#00008f 456.5px,#000075 458.5px,#000071 459.5px,#000078 464.5px,#000084 468.5px,#0000c8 485.5px,#0000c8 594.5px,#0025c7 631.5px,#0076c5 703.5px,#0097c4 739.5px,#00acc3)"></i><i class=b style="background:linear-gradient(#e47b00,#e57800 238.5px,#e67200 294.5px,#e76a00 336.5px,#e86400 351.5px,#ea5600 372.5px,#ed3300 409.5px,#ed2e00 412.5px,#ef1100 413.5px,#160059 414.5px,#0009c8 415.5px,#002cc7 418.5px,#0063c6 420.5px,#0074c5 421.5px,#0069c6 422.5px,#0054c6 423.5px,#0036c7 425.5px,#001cc7 428.5px,#000bc8 432.5px,#0003c8 438.5px,#0000c6 448.5px,#0000a6 451.5px,#000096 455.5px,#000072 458.5px,#000078 462.5px,#00008a 468.5px,#0000c8 483.5px,#0000c8 594.5px,#0025c7 631.5px,#0076c5 703.5px,#0097c4 739.5px,#00acc3)"></i><i class=b style="background:linear-gradient(#e47a00,#e57700 237.5px,#e67200 294.5px,#e86900 337.5px,#e86300 352.5px,#ea5400 374.5px,#ed3300 409.5px,#ed2e00 412.5px,#ef0900 413.5px,#000083 414.5px,#000cc8 415.5px,#0022c7 417.5px,#0033c7 418.5px,#0068c6 420.5px,#0071c5 421.5px,#004bc6 423.5px,#003cc7 424.5px,#0030c7 425.5px,#001fc7 427.5px,#000dc8 431.5px,#0003c8 438.5px,#0000c6 447.5px,#0000a7 450.5px,#000098 454.5px,#000078 457.5px,#000074 458.5px,#000079 461.5px,#00008f 468.5px,#0000c8 482.5px,#0000c8 594.5px,#0025c7 631.5px,#0076c5 703.5px,#0097c4 739.5px,#00acc3)"></i><i class=b style="background:linear-gradient(#e47a00,#e57700 237.5px,#e67200 294.5px,#e86900 338.5px,#e86300 353.5px,#ea5300 376.5px,#ed3300 409.5px,#ed3000 411.5px,#ee2900 412.5px,#f00300 413.5px,#000097 414.5px,#000dc8 415.5px,#0023c7 417.5px,#006ec5 420.5px,#006ac6 421.5px,#0055c6 422.5px,#0036c7 424.5px,#001cc7 427.5px,#000bc8 431.5px,#0003c8 437.5px,#0000c7 446.5px,#0000a7 449.5px,#000098 453.5px,#00007a 456.5px,#000075 457.5px,#000078 460.5px,#00008b 466.5px,#0000c8 481.5px,#0000c8 594.5px,#0025c7 631.5px,#0076c5 703.5px,#0097c4 739.5px,#00acc3)"></i><i class=b style="background:linear-gradient(#e47a00,#e57700 237.5px,#e67200 294.5px,#e76a00 335.5px,#e86400 351.5px,#ea5700 370.5px,#ed3400 408.5px,#ed2f00 411.5px,#ee1e00 412.5px,#b90013 413.5px,#0000af 414.5px,#000dc8 415.5px,#0024c7 417.5px,#0059c6 419.5px,#006bc6 420.5px,#005fc6 421.5px,#004cc6 422.5px,#0031c7 424.5px,#0019c7 427.5px,#000ac8 431.5px,#0003c8 437.5px,#0000c7 445.5px,#0000a7 448.5px,#000098 452.5px,#000079 455.5px,#000074 456.5px,#000078 460.5px,#000087 465.5px,#0000a6 473.5px,#0000c8 480.5px,#0000c8 594.5px,#0025c7 631.5px,#0076c5 703.5px,#0097c4 739.5px,#00acc3)"></i><i class=b style="background:linear-gradient(#e47a00,#e57700 237.5px,#e67200 294.5px,#e86900 336.5px,#e86400 351.5px,#ea5500 372.5px,#ed3400 408.5px,#ed2f00 411.5px,#ef1200 412.5px,#3d0046 413.5px,#0004c8 414.5px,#0026c7 417.5px,#005bc6 419.5px,#0067c6 420.5px,#0044c7 422.5px,#0036c7 423.5px,#001cc7 426.5px,#000bc8 430.5px,#0002c8 437.5px,#0000c7 444.5px,#0000a7 447.5px,#000097 451.5px,#007 454.5px,#000071 455.5px,#007 461.5px,#00007d 463.5px,#0000a1 472.5px,#0000c8 480.5px,#0000c8 594.5px,#0024c7 630.5px,#0076c5 703.5px,#0097c4 739.5px,#00acc3)"></i><i class=b style="background:linear-gradient(#e47a00,#e57700 237.5px,#e67200 293.5px,#e86900 337.5px,#e86300 351.5px,#ea5400 374.5px,#ed3400 408.5px,#ed2c00 411.5px,#ef0900 412.5px,#000074 413.5px,#0006c8 414.5px,#001bc7 416.5px,#002bc7 417.5px,#005dc6 419.5px,#005fc6 420.5px,#004cc6 421.5px,#0031c7 423.5px,#001fc7 425.5px,#0014c8 427.5px,#000ac8 430.5px,#0005c8 433.5px,#0000c7 443.5px,#0000a6 446.5px,#000095 450.5px,#000074 453.5px,#00006e 454.5px,#000078 463.5px,#0000a2 473.5px,#0000c7 480.5px,#0000c8 593.5px,#0025c7 630.5px,#0076c5 703.5px,#0097c4 739.5px,#00acc3)"></i><i class=b style="background:linear-gradient(#e47a00,#e57700 237.5px,#e67100 293.5px,#e86900 334.5px,#e86300 351.5px,#ea5000 379.5px,#ed3400 408.5px,#ed3000 410.5px,#ee2000 411.5px,#e20005 412.5px,#000097 413.5px,#0008c8 414.5px,#001cc7 416.5px,#0061c6 419.5px,#0036c7 422.5px,#002cc7 423.5px,#001cc7 425.5px,#0012c8 427.5px,#0006c8 432.5px,#0000c7 442.5px,#0000a5 445.5px,#000093 449.5px,#000071 452.5px,#00006b 453.5px,#000070 460.5px,#00007a 465.5px,#00009d 473.5px,#0000c8 481.5px,#0000c8 593.5px,#0025c7 630.5px,#0076c5 703.5px,#0097c4 739.5px,#00acc3)"></i><i class=b style="background:linear-gradient(#e47a00,#e57700 237.5px,#e67100 293.5px,#e86900 336.5px,#e86300 351.5px,#ea5500 373.5px,#ed3400 408.5px,#ed3000 410.5px,#ef1500 411.5px,#610033 412.5px,#0000c4 413.5px,#0009c8 414.5px,#001ec7 416.5px,#004fc6 418.5px,#005ec6 419.5px,#003dc7 421.5px,#0031c7 422.5px,#001fc7 424.5px,#0014c8 426.5px,#0007c8 431.5px,#0000c8 441.5px,#0000a3 444.5px,#000091 448.5px,#00006d 451.5px,#006 452.5px,#00006d 460.5px,#000078 466.5px,#000098 473.5px,#0000c7 481.5px,#0000c8 482.5px,#0000c8 593.5px,#0025c7 630.5px,#0076c5 703.5px,#0097c4 739.5px,#00acc3)"></i><i class=b style="background:linear-gradient(#e47a00,#e57700 237.5px,#e67100 293.5px,#e86900 337.5px,#e86200 352.5px,#ea5200 376.5px,#ed3400 408.5px,#ed2d00 410.5px,#ef0b00 411.5px,#060061 412.5px,#0001c8 413.5px,#0015c8 415.5px,#0024c7 416.5px,#0054c6 418.5px,#0055c6 419.5px,#0044c7 420.5px,#002bc7 422.5px,#001cc7 424.5px,#0012c8 426.5px,#0006c8 431.5px,#0000c8 440.5px,#0000a2 443.5px,#00008f 447.5px,#00006a 450.5px,#040062 451.5px,#000065 454.5px,#00006a 460.5px,#007 467.5px,#000093 473.5px,#0000c8 482.5px,#0000c8 593.5px,#0025c7 630.5px,#0076c5 703.5px,#0097c4 739.5px,#00acc3)"></i><i class=b style="background:linear-gradient(#e47a00,#e57700 237.5px,#e67100 293.5px,#e86800 338.5px,#e86200 353.5px,#ea5100 378.5px,#ed3300 408.5px,#ed3100 409.5px,#e20 410.5px,#f00200 411.5px,#000083 412.5px,#0003c8 413.5px,#0016c8 415.5px,#0058c6 418.5px,#003dc7 420.5px,#0027c7 422.5px,#0014c8 425.5px,#0007c8 430.5px,#0000c8 439.5px,#0000a1 442.5px,#00008c 446.5px,#006 449.5px,#0d005e 450.5px,#000064 458.5px,#000079 469.5px,#0000c8 483.5px,#0000c8 593.5px,#0025c7 630.5px,#0076c5 703.5px,#0097c4 739.5px,#00acc3)"></i><i class=b style="background:linear-gradient(#e47a00,#e57600 237.5px,#e67100 293.5px,#e86800 336.5px,#e86300 351.5px,#ea5400 373.5px,#ed3500 407.5px,#ed3100 409.5px,#ef1700 410.5px,#8c0023 411.5px,#0000ad 412.5px,#0004c8 413.5px,#0018c7 415.5px,#0047c6 417.5px,#0055c6 418.5px,#0037c7 420.5px,#002cc7 421.5px,#001cc7 423.5px,#0012c8 425.5px,#0006c8 430.5px,#0000c8 438.5px,#00009e 441.5px,#00008a 445.5px,#00006f 447.5px,#050062 448.5px,#160059 449.5px,#0b005e 456.5px,#010064 460.5px,#000078 470.5px,#0000c5 483.5px,#0000c8 484.5px,#0000c8 593.5px,#0025c7 630.5px,#0076c5 703.5px,#0097c4 739.5px,#00acc3)"></i><i class=b style="background:linear-gradient(#e47900,#e57600 236.5px,#e67100 293.5px,#e86800 337.5px,#e86200 352.5px,#ea5200 376.5px,#ed3400 407.5px,#ed3000 409.5px,#ef1000 410.5px,#3b0046 411.5px,#0000b7 412.5px,#0006c8 413.5px,#000fc8 414.5px,#001ec7 415.5px,#004bc6 417.5px,#004dc6 418.5px,#003ec7 419.5px,#0028c7 421.5px,#0014c8 424.5px,#0007c8 429.5px,#0000c8 437.5px,#00009b 440.5px,#000085 444.5px,#000068 446.5px,#14005a 447.5px,#250051 448.5px,#1b0056 451.5px,#0e005d 458.5px,#000064 462.5px,#000078 471.5px,#0000c6 484.5px,#0000c8 485.5px,#0000c8 593.5px,#0025c7 630.5px,#0076c5 703.5px,#0097c4 739.5px,#00acc3)"></i><i class=b style="background:linear-gradient(#e47900,#e57600 236.5px,#e67100 293.5px,#e86800 337.5px,#e86100 353.5px,#ea5100 377.5px,#ed3400 407.5px,#ed3200 408.5px,#ed2c00 409.5px,#ef0c00 410.5px,#170058 411.5px,#0000b9 412.5px,#0007c8 413.5px,#0011c8 414.5px,#004fc6 417.5px,#0024c7 421.5px,#0012c8 424.5px,#0006c8 429.5px,#0000c8 436.5px,#000098 439.5px,#000080 443.5px,#000070 444.5px,#060061 445.5px,#270051 446.5px,#390048 447.5px,#020063 463.5px,#000078 472.5px,#0000c8 485.5px,#0000c8 593.5px,#0025c7 630.5px,#0076c5 703.5px,#0097c4 739.5px,#00acc3)"></i><i class=b style="background:linear-gradient(#e47900,#e57600 236.5px,#e67100 292.5px,#e86800 338.5px,#e96100 354.5px,#ea5000 378.5px,#ed3500 406.5px,#ed3200 408.5px,#ee2300 409.5px,#f00500 410.5px,#00006d 411.5px,#0000b9 412.5px,#0007c8 413.5px,#0011c8 414.5px,#003dc7 416.5px,#004cc6 417.5px,#0028c7 420.5px,#0015c8 423.5px,#0007c8 428.5px,#0001c8 435.5px,#00b 436.5px,#000095 438.5px,#00008c 439.5px,#00007b 442.5px,#00006b 443.5px,#160059 444.5px,#390047 445.5px,#4d003e 446.5px,#2e004d 455.5px,#190058 459.5px,#000064 465.5px,#000079 473.5px,#0000c8 486.5px,#0000c8 593.5px,#0025c7 630.5px,#0075c5 702.5px,#0097c4 739.5px,#00acc3)"></i><i class=b style="background:linear-gradient(#e47900,#e57600 236.5px,#e67100 292.5px,#e86800 336.5px,#e86200 351.5px,#ea5300 374.5px,#ed3500 406.5px,#ed3100 408.5px,#ee1900 409.5px,#ba0013 410.5px,#000092 411.5px,#0000be 412.5px,#0007c8 413.5px,#0012c8 414.5px,#003fc7 416.5px,#0046c6 417.5px,#0038c7 418.5px,#0024c7 420.5px,#0013c8 423.5px,#0008c8 427.5px,#0002c8 434.5px,#0000c2 435.5px,#000097 437.5px,#00008a 438.5px,#007 441.5px,#000065 442.5px,#4b003e 444.5px,#610034 445.5px,#3e0045 455.5px,#34004a 457.5px,#1d0056 460.5px,#010063 466.5px,#00007b 474.5px,#0000c8 487.5px,#0000c8 593.5px,#0025c7 630.5px,#0075c5 702.5px,#0098c4 739.5px,#00acc3)"></i><i class=b style="background:linear-gradient(#e47900,#e57600 236.5px,#e67000 292.5px,#e86800 337.5px,#e86100 353.5px,#ea5100 377.5px,#ed3500 406.5px,#ed2f00 408.5px,#ef1000 409.5px,#5e0035 410.5px,#00009b 411.5px,#0000c7 412.5px,#0008c8 413.5px,#0016c8 414.5px,#0040c7 416.5px,#003fc7 417.5px,#0033c7 418.5px,#0020c7 420.5px,#0011c8 423.5px,#0007c8 427.5px,#0000c8 434.5px,#000089 437.5px,#000073 440.5px,#070060 441.5px,#5c0036 443.5px,#75002b 444.5px,#4e003d 455.5px,#3c0046 458.5px,#190057 462.5px,#010063 467.5px,#007 474.5px,#0000c5 487.5px,#0000c8 488.5px,#0000c8 592.5px,#0025c7 630.5px,#0076c5 702.5px,#0098c4 739.5px,#00acc3)"></i><i class=b style="background:linear-gradient(#e57900,#e57600 236.5px,#e67000 292.5px,#e86700 338.5px,#e86100 353.5px,#ea5100 377.5px,#ed3500 406.5px,#ed3300 407.5px,#ee2500 408.5px,#ef0800 409.5px,#1d0056 410.5px,#0000a0 411.5px,#0001c8 412.5px,#000ac8 413.5px,#0043c7 416.5px,#0024c7 419.5px,#0013c8 422.5px,#0008c8 426.5px,#0002c8 433.5px,#0000b8 434.5px,#00008b 436.5px,#000072 439.5px,#040062 440.5px,#680030 442.5px,#8c0023 443.5px,#5e0035 455.5px,#4a003f 458.5px,#1b0056 463.5px,#000064 468.5px,#000078 475.5px,#0000c7 488.5px,#0000c8 489.5px,#0000c8 592.5px,#0024c7 629.5px,#0076c5 702.5px,#0097c4 738.5px,#00acc3)"></i><i class=b style="background:linear-gradient(#e57900,#e57600 236.5px,#e77000 292.5px,#e86800 335.5px,#e86200 350.5px,#ea5400 373.5px,#ed3600 405.5px,#ed3200 407.5px,#ee1b00 408.5px,#e30005 409.5px,#00007c 410.5px,#0000a6 411.5px,#0002c8 412.5px,#000bc8 413.5px,#0034c7 415.5px,#0040c7 416.5px,#0033c7 417.5px,#0021c7 419.5px,#0011c8 422.5px,#0007c8 426.5px,#0002c8 432.5px,#0000c3 433.5px,#00008f 435.5px,#00007f 436.5px,#000067 439.5px,#2e004d 440.5px,#650031 441.5px,#a1001b 442.5px,#880024 449.5px,#6e002d 455.5px,#50003c 459.5px,#1d0056 464.5px,#000064 469.5px,#000079 476.5px,#0000c8 489.5px,#0000c8 592.5px,#0025c7 629.5px,#0076c5 702.5px,#0097c4 738.5px,#00acc3)"></i><i class=b style="background:linear-gradient(#e57900,#e57600 235.5px,#e77000 292.5px,#e86700 336.5px,#e86200 351.5px,#ea5200 375.5px,#ed3600 405.5px,#ed3000 407.5px,#ef1300 408.5px,#880024 409.5px,#000085 410.5px,#0000af 411.5px,#0003c8 412.5px,#0010c8 413.5px,#0037c7 415.5px,#0039c7 416.5px,#001dc7 419.5px,#000fc8 422.5px,#0006c8 426.5px,#0002c8 432.5px,#0000b4 433.5px,#000080 435.5px,#006 438.5px,#2c004e 439.5px,#610034 440.5px,#9f001c 441.5px,#b40015 442.5px,#9b001d 449.5px,#800027 455.5px,#54003a 460.5px,#1c0056 465.5px,#000065 470.5px,#00007a 477.5px,#0000c8 490.5px,#0000c8 592.5px,#0025c7 629.5px,#0076c5 702.5px,#0097c4 738.5px,#00acc3)"></i><i class=b style="background:linear-gradient(#e57900,#e57500 235.5px,#e77000 292.5px,#e86700 337.5px,#e96000 353.5px,#ea5100 377.5px,#ed3600 405.5px,#ed3400 406.5px,#ee2600 407.5px,#ef0b00 408.5px,#460041 409.5px,#00008a 410.5px,#0000b4 411.5px,#0004c8 412.5px,#003bc7 415.5px,#0021c7 418.5px,#0011c8 421.5px,#0007c8 425.5px,#0002c8 431.5px,#0000c0 432.5px,#008 434.5px,#000078 435.5px,#000065 437.5px,#250052 438.5px,#600034 439.5px,#a1001b 440.5px,#ca000d 441.5px,#ae0017 449.5px,#9e001d 453.5px,#910021 455.5px,#6b002f 459.5px,#4b003f 462.5px,#1a0057 466.5px,#020063 470.5px,#006 471.5px,#00007b 478.5px,#0000c7 490.5px,#0000c8 491.5px,#0000c8 592.5px,#0025c7 629.5px,#0076c5 702.5px,#0097c4 738.5px,#00acc3)"></i><i class=b style="background:linear-gradient(#e57900,#e57500 235.5px,#e77000 291.5px,#e86600 339.5px,#ea5100 376.5px,#ed3500 405.5px,#ed3300 406.5px,#ee1d00 407.5px,#f00200 408.5px,#000067 409.5px,#0000b8 411.5px,#0006c8 412.5px,#002dc7 414.5px,#0038c7 415.5px,#001dc7 418.5px,#000fc8 421.5px,#0006c8 425.5px,#0000c8 431.5px,#000079 434.5px,#006 436.5px,#11005b 437.5px,#51003c 438.5px,#df0006 440.5px,#d1000b 445.5px,#aa0018 454.5px,#900021 457.5px,#6d002d 460.5px,#190058 467.5px,#000064 471.5px,#007 478.5px,#0000c8 491.5px,#0000c8 592.5px,#0025c7 629.5px,#0076c5 702.5px,#0097c4 738.5px,#00acc3)"></i><i class=b style="background:linear-gradient(#e57800,#e57500 235.5px,#e77000 291.5px,#e86700 336.5px,#e96100 352.5px,#ea5100 376.5px,#ed3600 404.5px,#ed3300 406.5px,#ef1700 407.5px,#c00011 408.5px,#000070 409.5px,#0000bf 411.5px,#000ac8 412.5px,#0030c7 414.5px,#0033c7 415.5px,#001ac7 418.5px,#000dc8 421.5px,#0006c8 425.5px,#0002c8 430.5px,#0000b5 431.5px,#00007f 433.5px,#000069 435.5px,#0b005f 436.5px,#380048 437.5px,#7e0028 438.5px,#cf000c 439.5px,#f00000 440.5px,#ed0001 442.5px,#e30004 445.5px,#cb000d 451.5px,#bc0012 454.5px,#ab0018 456.5px,#950020 458.5px,#6d002d 461.5px,#200054 467.5px,#170058 468.5px,#000064 472.5px,#000078 479.5px,#0000c6 491.5px,#0000c8 492.5px,#0000c8 592.5px,#0025c7 629.5px,#0076c5 702.5px,#0097c4 738.5px,#00acc3)"></i><i class=b style="background:linear-gradient(#e57800,#e57500 235.5px,#e77000 291.5px,#e86700 336.5px,#e96100 352.5px,#ea5100 376.5px,#ed3600 404.5px,#ed2f00 406.5px,#ef1400 407.5px,#9b001d 408.5px,#000072 409.5px,#0000c4 411.5px,#000fc8 412.5px,#0033c7 414.5px,#001dc7 417.5px,#000fc8 420.5px,#0006c8 424.5px,#0002c8 429.5px,#0000c0 430.5px,#000086 432.5px,#000074 433.5px,#00006a 434.5px,#060061 435.5px,#200054 436.5px,#5f0034 437.5px,#ac0018 438.5px,#f00000 439.5px,#f00000 446.5px,#d90008 452.5px,#c4000f 455.5px,#a3001b 458.5px,#6c002e 462.5px,#1d0056 468.5px,#040062 472.5px,#000065 473.5px,#00007a 480.5px,#0000c8 492.5px,#0000c8 592.5px,#0025c7 629.5px,#0076c5 702.5px,#0097c4 738.5px,#00acc3)"></i><i class=b style="background:linear-gradient(#e57800,#e57500 235.5px,#e76f00 291.5px,#e86600 337.5px,#e96000 352.5px,#ea5100 376.5px,#ed3600 404.5px,#ed3400 405.5px,#ee2700 406.5px,#ef0e00 407.5px,#6f002d 408.5px,#000072 409.5px,#0000c4 411.5px,#0025c7 413.5px,#0031c7 414.5px,#001ac7 417.5px,#000dc8 420.5px,#0000c8 429.5px,#007 432.5px,#00006d 433.5px,#030063 434.5px,#180058 435.5px,#50003c 436.5px,#940020 437.5px,#df0006 438.5px,#f00100 439.5px,#f00000 451.5px,#dd0006 454.5px,#be0011 457.5px,#77002a 462.5px,#1a0057 469.5px,#020063 473.5px,#006 474.5px,#007 480.5px,#0000c5 492.5px,#0000c8 493.5px,#0000c8 592.5px,#0025c7 629.5px,#0076c5 702.5px,#0097c4 738.5px,#00acc3)"></i><i class=b style="background:linear-gradient(#e57800,#e57500 234.5px,#e76f00 291.5px,#e86600 338.5px,#ea5100 376.5px,#ed3600 404.5px,#ed3400 405.5px,#f00600 407.5px,#2b004f 408.5px,#007 409.5px,#00009d 410.5px,#0000c8 411.5px,#0026c7 413.5px,#002dc7 414.5px,#001dc7 416.5px,#000fc8 419.5px,#0006c8 423.5px,#0002c8 428.5px,#0000b5 429.5px,#00007d 431.5px,#006 433.5px,#11005b 434.5px,#3e0045 435.5px,#840025 436.5px,#d0000b 437.5px,#f00100 438.5px,#f00000 453.5px,#ee0001 454.5px,#cc000d 457.5px,#650032 464.5px,#230053 469.5px,#180058 470.5px,#000064 474.5px,#000079 481.5px,#0000c8 493.5px,#0000c8 592.5px,#0025c7 629.5px,#0076c5 702.5px,#0097c4 738.5px,#00acc3)"></i><i class=b style="background:linear-gradient(#e57800,#e57500 234.5px,#e76f00 291.5px,#e86600 336.5px,#e96000 352.5px,#ea5100 376.5px,#ed3700 403.5px,#ed3200 405.5px,#ef1800 406.5px,#e20005 407.5px,#180058 408.5px,#00007f 409.5px,#0004c8 411.5px,#0027c7 413.5px,#0028c7 414.5px,#001ac7 416.5px,#000dc8 419.5px,#0007c8 422.5px,#0002c8 427.5px,#0000c1 428.5px,#000084 430.5px,#000072 431.5px,#000068 432.5px,#0c005e 433.5px,#270051 434.5px,#680030 435.5px,#b70014 436.5px,#f00200 437.5px,#f00000 455.5px,#e60003 456.5px,#cb000d 458.5px,#6e002d 464.5px,#1f0054 470.5px,#170059 471.5px,#000065 475.5px,#007 481.5px,#0000c4 493.5px,#0000c8 494.5px,#0000c8 592.5px,#0025c7 629.5px,#0076c5 702.5px,#0097c4 738.5px,#00acc3)"></i><i class=b style="background:linear-gradient(#e57800,#e67500 234.5px,#e76f00 290.5px,#e86600 337.5px,#ea5100 375.5px,#ed3700 403.5px,#ed3500 404.5px,#ee2900 405.5px,#ef1100 406.5px,#9f001c 407.5px,#0d005d 408.5px,#000084 409.5px,#0000a8 410.5px,#0009c8 411.5px,#002ac7 413.5px,#0017c8 416.5px,#000fc8 418.5px,#0007c8 421.5px,#0000c8 427.5px,#000075 430.5px,#00006a 431.5px,#090060 432.5px,#1f0055 433.5px,#590037 434.5px,#a0001c 435.5px,#ee0001 436.5px,#f00000 456.5px,#d70009 458.5px,#6b002f 465.5px,#1b0057 471.5px,#020063 475.5px,#006 476.5px,#000079 482.5px,#0000c7 494.5px,#0000c8 495.5px,#0000c8 591.5px,#0025c7 629.5px,#0076c5 702.5px,#0097c4 738.5px,#00acc3)"></i><i class=b style="background:linear-gradient(#e57800,#e67400 234.5px,#e76f00 290.5px,#e86600 338.5px,#ea5100 375.5px,#ed3700 403.5px,#ed3500 404.5px,#ef0900 406.5px,#52003b 407.5px,#010064 408.5px,#008 409.5px,#0000b0 410.5px,#000dc8 411.5px,#001ec7 412.5px,#0027c7 413.5px,#0019c7 415.5px,#000dc8 418.5px,#0007c8 421.5px,#0002c8 426.5px,#0000b4 427.5px,#00007b 429.5px,#00006e 430.5px,#010063 431.5px,#180058 432.5px,#460041 433.5px,#900021 434.5px,#de0006 435.5px,#f00300 436.5px,#f00000 457.5px,#75002b 465.5px,#230052 471.5px,#180058 472.5px,#000065 476.5px,#007 482.5px,#0000c8 495.5px,#0000c8 591.5px,#0025c7 629.5px,#0076c5 702.5px,#0097c4 738.5px,#00acc3)"></i><i class=b style="background:linear-gradient(#e57800,#e67400 234.5px,#e76f00 290.5px,#e86500 339.5px,#ea5100 375.5px,#ed3700 403.5px,#ed3300 404.5px,#f00200 406.5px,#3f0045 407.5px,#00006c 408.5px,#00008e 409.5px,#0000c5 410.5px,#0021c7 412.5px,#0023c7 413.5px,#0016c8 415.5px,#000bc8 418.5px,#0002c8 425.5px,#0000c1 426.5px,#000083 428.5px,#00006f 429.5px,#000065 430.5px,#13005b 431.5px,#2e004d 432.5px,#72002c 433.5px,#c5000f 434.5px,#f00300 435.5px,#f00000 457.5px,#ed0001 458.5px,#70002c 466.5px,#1e0055 472.5px,#020063 476.5px,#006 477.5px,#00007a 483.5px,#0000c7 495.5px,#0000c8 496.5px,#0000c8 591.5px,#0025c7 629.5px,#0076c5 702.5px,#0097c4 738.5px,#00acc3)"></i><i class=b style="background:linear-gradient(#e57800,#e67400 234.5px,#e76f00 290.5px,#e86500 337.5px,#ea5100 375.5px,#ed3800 402.5px,#ed3600 403.5px,#ed2b00 404.5px,#ef1300 405.5px,#c7000e 406.5px,#34004a 407.5px,#000071 408.5px,#000094 409.5px,#0004c8 410.5px,#0024c7 412.5px,#000dc8 417.5px,#0001c8 425.5px,#000073 428.5px,#000068 429.5px,#0f005c 430.5px,#260051 431.5px,#620033 432.5px,#ad0017 433.5px,#f00100 434.5px,#f00300 435.5px,#f00000 458.5px,#e80003 459.5px,#6b002f 467.5px,#250052 472.5px,#180058 473.5px,#000065 477.5px,#007 483.5px,#0000c8 496.5px,#0000c8 591.5px,#0024c7 628.5px,#0076c5 702.5px,#0097c4 738.5px,#00acc3)"></i><i class=b style="background:linear-gradient(#e57700,#e67400 233.5px,#e76f00 290.5px,#e86500 338.5px,#ea5100 375.5px,#ed3700 402.5px,#ed3600 403.5px,#ef0b00 405.5px,#77002a 406.5px,#270050 407.5px,#000075 408.5px,#00009c 409.5px,#0008c8 410.5px,#0018c7 411.5px,#0022c7 412.5px,#0016c8 414.5px,#000bc8 417.5px,#0002c8 424.5px,#0000b4 425.5px,#000079 427.5px,#00006b 428.5px,#080060 429.5px,#1f0055 430.5px,#4f003d 431.5px,#ec0001 433.5px,#f00400 434.5px,#f00000 459.5px,#d3000a 461.5px,#73002b 467.5px,#1c0056 473.5px,#010064 477.5px,#000079 484.5px,#0000c8 496.5px,#0000c8 591.5px,#0025c7 628.5px,#0076c5 702.5px,#0097c4 738.5px,#00acc3)"></i><i class=b style="background:linear-gradient(#e57700,#e67400 233.5px,#e76e00 290.5px,#e86500 338.5px,#ea5100 375.5px,#ed3700 402.5px,#ed3600 403.5px,#f00600 405.5px,#630032 406.5px,#160059 407.5px,#00007b 408.5px,#0000b0 409.5px,#000bc8 410.5px,#001bc7 411.5px,#001ec7 412.5px,#000cc8 416.5px,#0003c8 423.5px,#0000c2 424.5px,#000080 426.5px,#00006c 427.5px,#040062 428.5px,#1a0057 429.5px,#360049 430.5px,#7d0028 431.5px,#d2000a 432.5px,#f00400 433.5px,#f00000 459.5px,#ed0001 460.5px,#6c002e 468.5px,#220053 473.5px,#170058 474.5px,#040062 477.5px,#000065 478.5px,#00007c 485.5px,#0000c5 496.5px,#0000c8 497.5px,#0000c8 591.5px,#0025c7 628.5px,#0076c5 702.5px,#0097c4 738.5px,#00acc3)"></i><i class=b style="background:linear-gradient(#e57700,#e67400 233.5px,#e76e00 289.5px,#e86400 339.5px,#ea5100 375.5px,#ed3700 402.5px,#ed3200 403.5px,#f00300 405.5px,#5d0035 406.5px,#0c005e 407.5px,#000081 408.5px,#0000c6 409.5px,#001ec7 411.5px,#000bc8 416.5px,#0002c8 423.5px,#0000b0 424.5px,#00006f 426.5px,#000064 427.5px,#2f004d 429.5px,#6d002e 430.5px,#bb0012 431.5px,#f00200 432.5px,#f00500 433.5px,#f00000 460.5px,#e70003 461.5px,#73002b 468.5px,#1a0057 474.5px,#010064 478.5px,#000079 485.5px,#0000c8 497.5px,#0000c8 591.5px,#0025c7 628.5px,#0076c5 702.5px,#0097c4 738.5px,#00acc3)"></i><i class=b style="background:linear-gradient(#e57700,#e67400 233.5px,#e76e00 289.5px,#e86500 336.5px,#ea5100 374.5px,#ed3800 401.5px,#ed3700 402.5px,#ed2c00 403.5px,#ef1500 404.5px,#eb0002 405.5px,#5b0037 406.5px,#0c005e 407.5px,#000082 408.5px,#0002c8 409.5px,#0012c8 410.5px,#001cc7 411.5px,#000ac8 416.5px,#0003c8 422.5px,#0000c0 423.5px,#00007c 425.5px,#000068 426.5px,#11005c 427.5px,#29004f 428.5px,#5b0037 429.5px,#ad0017 430.5px,#f00100 431.5px,#f00600 432.5px,#f00000 461.5px,#69002f 469.5px,#200054 474.5px,#170059 475.5px,#000065 479.5px,#007 485.5px,#0000c6 497.5px,#0000c8 498.5px,#0000c8 591.5px,#0025c7 628.5px,#0076c5 702.5px,#0097c4 738.5px,#00acc3)"></i><i class=b style="background:linear-gradient(#e57700,#e67400 233.5px,#e76e00 289.5px,#e86500 337.5px,#ea5100 374.5px,#ed3800 401.5px,#ed3700 402.5px,#ef0e00 404.5px,#a2001b 405.5px,#50003c 406.5px,#070060 407.5px,#008 408.5px,#0003c8 409.5px,#0013c8 410.5px,#001ac7 411.5px,#000bc8 415.5px,#0000c8 422.5px,#00006c 425.5px,#090060 426.5px,#3b0046 428.5px,#8c0023 429.5px,#e80003 430.5px,#f00700 431.5px,#f00000 461.5px,#e80003 462.5px,#6f002d 469.5px,#270050 474.5px,#1a0057 475.5px,#010064 479.5px,#00007b 486.5px,#0000c8 498.5px,#0000c8 591.5px,#0025c7 628.5px,#0075c5 701.5px,#0097c4 738.5px,#00acc3)"></i><i class=b style="background:linear-gradient(#e57700,#e67300 233.5px,#e76e00 289.5px,#e86400 338.5px,#ea5100 374.5px,#ed3800 401.5px,#ed3400 402.5px,#f00800 404.5px,#8d0022 405.5px,#3f0044 406.5px,#000067 407.5px,#009 408.5px,#0006c8 409.5px,#0015c8 410.5px,#0017c7 411.5px,#0009c8 415.5px,#0002c8 421.5px,#0000b2 422.5px,#000072 424.5px,#020063 425.5px,#33004b 427.5px,#670030 428.5px,#c20010 429.5px,#f00400 430.5px,#f00700 431.5px,#f00000 461.5px,#ef0000 462.5px,#76002a 469.5px,#200054 475.5px,#030062 479.5px,#006 480.5px,#000079 486.5px,#0000c6 498.5px,#0000c8 499.5px,#0000c8 591.5px,#0025c7 628.5px,#0075c5 701.5px,#0097c4 738.5px,#00acc3)"></i><i class=b style="background:linear-gradient(#e57700,#e67300 233.5px,#e76e00 289.5px,#e86400 339.5px,#ea5100 374.5px,#ed3800 401.5px,#ed2d00 402.5px,#f00300 404.5px,#800027 405.5px,#33004b 406.5px,#00006d 407.5px,#0000af 408.5px,#000ac8 409.5px,#0018c7 410.5px,#000ac8 414.5px,#0003c8 420.5px,#0000c1 421.5px,#00007a 423.5px,#000064 424.5px,#2f004c 426.5px,#4d003d 427.5px,#9f001c 428.5px,#f00100 429.5px,#f00800 430.5px,#f00000 462.5px,#e50004 463.5px,#6d002e 470.5px,#260051 475.5px,#190057 476.5px,#000065 480.5px,#007 486.5px,#0000c8 499.5px,#0000c8 590.5px,#0025c7 628.5px,#0076c5 701.5px,#0097c4 738.5px,#00acc3)"></i><i class=b style="background:linear-gradient(#e57700,#e67300 232.5px,#e76e00 289.5px,#e86400 337.5px,#ea5100 374.5px,#ed3700 401.5px,#ef1000 403.5px,#c5000f 404.5px,#70002c 405.5px,#29004f 406.5px,#000075 407.5px,#0000c1 408.5px,#000dc8 409.5px,#0016c8 410.5px,#0009c8 414.5px,#0002c8 420.5px,#0000ad 421.5px,#000067 423.5px,#14005a 424.5px,#460041 426.5px,#8e0022 427.5px,#e30005 428.5px,#f00600 429.5px,#ef0900 430.5px,#f00700 443.5px,#f00000 462.5px,#ec0002 463.5px,#74002b 470.5px,#1d0056 476.5px,#010064 480.5px,#00007a 487.5px,#0000c7 499.5px,#0000c8 500.5px,#0000c8 590.5px,#0025c7 628.5px,#0076c5 701.5px,#0097c4 738.5px,#00acc3)"></i><i class=b style="background:linear-gradient(#e57700,#e67300 232.5px,#e76e00 288.5px,#e86400 338.5px,#ea5100 374.5px,#ed3900 400.5px,#ed3600 401.5px,#ef0a00 403.5px,#af0017 404.5px,#5e0035 405.5px,#1a0057 406.5px,#008 407.5px,#0002c8 408.5px,#0010c8 409.5px,#0014c8 410.5px,#0008c8 414.5px,#0003c8 419.5px,#0000c0 420.5px,#000075 422.5px,#0b005f 423.5px,#400044 425.5px,#77002a 426.5px,#d3000a 427.5px,#f00500 428.5px,#ef0a00 429.5px,#f00000 463.5px,#6a002f 471.5px,#210054 476.5px,#170059 477.5px,#09005f 479.5px,#006 481.5px,#007 487.5px,#0000c5 499.5px,#0000c8 500.5px,#0000c8 590.5px,#0025c7 628.5px,#0076c5 701.5px,#0097c4 738.5px,#00acc3)"></i><i class=b style="background:linear-gradient(#e57600,#e67300 232.5px,#e76e00 288.5px,#e86300 339.5px,#ea5200 373.5px,#ed3800 400.5px,#ed2e00 401.5px,#f00500 403.5px,#a1001b 404.5px,#51003b 405.5px,#0c005e 406.5px,#00009f 407.5px,#0006c8 408.5px,#0014c8 409.5px,#0007c8 414.5px,#0002c8 419.5px,#0000ac 420.5px,#000086 421.5px,#010064 422.5px,#53003a 425.5px,#b00016 426.5px,#f00300 427.5px,#ef0b00 428.5px,#f00000 463.5px,#e80003 464.5px,#6f002d 471.5px,#250051 476.5px,#190058 477.5px,#000065 481.5px,#00007a 488.5px,#0000c8 500.5px,#0000c8 590.5px,#0025c7 628.5px,#0076c5 701.5px,#0097c4 738.5px,#00acc3)"></i><i class=b style="background:linear-gradient(#e57600,#e67300 232.5px,#e76d00 288.5px,#e86400 337.5px,#ea5100 373.5px,#ed3800 400.5px,#ef1200 402.5px,#e40004 403.5px,#910021 404.5px,#470041 405.5px,#000067 406.5px,#0000b0 407.5px,#000ac8 408.5px,#0012c8 409.5px,#0008c8 413.5px,#0003c8 418.5px,#0000bf 419.5px,#000072 421.5px,#13005a 422.5px,#4a003f 424.5px,#860025 425.5px,#ea0002 426.5px,#f00800 427.5px,#ef0c00 428.5px,#ef0900 444.5px,#f00000 463.5px,#ee0001 464.5px,#75002b 471.5px,#1c0056 477.5px,#010063 481.5px,#000078 488.5px,#0000c7 500.5px,#0000c8 501.5px,#0000c8 590.5px,#0025c7 628.5px,#0076c5 701.5px,#0097c4 738.5px,#00acc3)"></i><i class=b style="background:linear-gradient(#e57600,#e67300 232.5px,#e76d00 288.5px,#e86300 338.5px,#ea5100 373.5px,#ed3800 400.5px,#ef0d00 402.5px,#ce000c 403.5px,#7b0028 404.5px,#380048 405.5px,#00007a 406.5px,#0000c1 407.5px,#000dc8 408.5px,#0011c8 409.5px,#0007c8 413.5px,#0002c8 418.5px,#00a 419.5px,#000083 420.5px,#080060 421.5px,#5d0035 424.5px,#be0011 425.5px,#f00400 426.5px,#ef0c00 427.5px,#ef0a00 443.5px,#f00000 464.5px,#e30004 465.5px,#6a002f 472.5px,#210054 477.5px,#170059 478.5px,#000065 482.5px,#00007c 489.5px,#0000c5 500.5px,#0000c8 501.5px,#0000c8 590.5px,#0026c7 628.5px,#0076c5 701.5px,#0097c4 738.5px,#00acc3)"></i><i class=b style="background:linear-gradient(#e57600,#e67300 232.5px,#e76d00 288.5px,#e86300 338.5px,#ea5100 373.5px,#ed3900 399.5px,#ed3500 400.5px,#ef0a00 402.5px,#c5000f 403.5px,#6e002d 404.5px,#2a004f 405.5px,#00008f 406.5px,#0003c8 407.5px,#0010c8 408.5px,#0006c8 413.5px,#0003c8 417.5px,#0000be 418.5px,#00006f 420.5px,#1b0056 421.5px,#53003a 423.5px,#930020 424.5px,#f00100 425.5px,#ef0a00 426.5px,#ef0d00 427.5px,#ef0a00 443.5px,#f00000 464.5px,#e80003 465.5px,#6e002d 472.5px,#260051 477.5px,#1a0057 478.5px,#010064 482.5px,#00007a 489.5px,#0000c8 501.5px,#0000c8 590.5px,#0025c7 627.5px,#0076c5 701.5px,#0097c4 738.5px,#00acc3)"></i><i class=b style="background:linear-gradient(#e57600,#e67200 232.5px,#e76d00 288.5px,#e86300 339.5px,#ea5100 373.5px,#ed3900 399.5px,#ed2f00 400.5px,#f00700 402.5px,#c00011 403.5px,#6b002e 404.5px,#240052 405.5px,#00009d 406.5px,#0006c8 407.5px,#000fc8 408.5px,#0007c8 412.5px,#0002c8 417.5px,#0000a9 418.5px,#000081 419.5px,#10005c 420.5px,#670030 423.5px,#cd000c 424.5px,#f00600 425.5px,#ef0e00 426.5px,#ef0b00 442.5px,#f00000 464.5px,#ee0001 465.5px,#74002b 472.5px,#1f0055 478.5px,#030062 482.5px,#006 483.5px,#000078 489.5px,#0000c8 501.5px,#0000c8 590.5px,#0025c7 627.5px,#0076c5 701.5px,#0097c4 738.5px,#00acc3)"></i><i class=b style="background:linear-gradient(#e57600,#e67200 232.5px,#e76d00 288.5px,#e86200 340.5px,#ea5100 373.5px,#ed3900 399.5px,#f00100 402.5px,#b20016 403.5px,#650032 404.5px,#150059 405.5px,#0000a4 406.5px,#0007c8 407.5px,#000ec8 408.5px,#0006c8 412.5px,#0002c8 416.5px,#0000c3 417.5px,#00006d 419.5px,#230053 420.5px,#5d0035 422.5px,#a0001c 423.5px,#f00200 424.5px,#ef0b00 425.5px,#ef0f00 426.5px,#ef0c00 442.5px,#f00000 465.5px,#6a002f 473.5px,#240052 478.5px,#180058 479.5px,#000065 483.5px,#007 489.5px,#0000c6 501.5px,#0000c8 502.5px,#0000c8 590.5px,#0025c7 627.5px,#0076c5 701.5px,#0097c4 738.5px,#00acc3)"></i><i class=b style="background:linear-gradient(#e57600,#e67200 232.5px,#e76d00 288.5px,#e86300 338.5px,#ea5200 372.5px,#ec3a00 398.5px,#ed3700 399.5px,#ef0e00 401.5px,#eb0002 402.5px,#9c001d 403.5px,#550039 404.5px,#00006b 405.5px,#0000b0 406.5px,#0009c8 407.5px,#000cc8 408.5px,#0002c8 416.5px,#0000b5 417.5px,#008 418.5px,#0e005d 419.5px,#34004a 420.5px,#70002c 422.5px,#db0007 423.5px,#f00700 424.5px,#ef1000 425.5px,#ef0d00 441.5px,#f00000 465.5px,#e60003 466.5px,#70002c 473.5px,#1b0057 479.5px,#000064 483.5px,#00007b 490.5px,#0000c4 501.5px,#0000c8 502.5px,#0000c8 590.5px,#0025c7 627.5px,#0076c5 701.5px,#0097c4 738.5px,#00acc3)"></i><i class=b style="background:linear-gradient(#e57600,#e67200 232.5px,#e76d00 288.5px,#e86300 338.5px,#ea5200 372.5px,#ed3a00 398.5px,#ed3000 399.5px,#ef0a00 401.5px,#dc0007 402.5px,#8c0023 403.5px,#460041 404.5px,#000081 405.5px,#0000c4 406.5px,#000cc8 407.5px,#0002c8 416.5px,#0000a4 417.5px,#000079 418.5px,#200054 419.5px,#610033 421.5px,#a1001b 422.5px,#f00300 423.5px,#ef0d00 424.5px,#ef1100 425.5px,#ef0d00 440.5px,#f00000 465.5px,#ec0001 466.5px,#76002a 473.5px,#1f0055 479.5px,#020063 483.5px,#00007a 490.5px,#0000c8 502.5px,#0000c8 590.5px,#0025c7 627.5px,#0076c5 701.5px,#0097c4 738.5px,#00acc3)"></i><i class=b style="background:linear-gradient(#e57600,#e67200 232.5px,#e76c00 288.5px,#e86200 339.5px,#ea5100 372.5px,#ed3900 398.5px,#f00400 401.5px,#cb000d 402.5px,#7f0027 403.5px,#33004a 404.5px,#000093 405.5px,#0003c8 406.5px,#000bc8 407.5px,#0002c8 415.5px,#00b 416.5px,#006 418.5px,#31004c 419.5px,#6f002d 421.5px,#c9000e 422.5px,#f00700 423.5px,#ef1100 424.5px,#ef1100 425.5px,#ef0e00 440.5px,#f00000 466.5px,#6b002f 474.5px,#220053 479.5px,#170058 480.5px,#030062 483.5px,#006 484.5px,#000078 490.5px,#0000c6 502.5px,#0000c8 503.5px,#0000c8 589.5px,#0025c7 627.5px,#0076c5 701.5px,#0098c4 738.5px,#00acc3)"></i><i class=b style="background:linear-gradient(#e57500,#e67200 231.5px,#e76c00 287.5px,#e86200 340.5px,#ea5100 372.5px,#ec3b00 397.5px,#ed3800 398.5px,#ef1000 400.5px,#f00200 401.5px,#b50014 402.5px,#6c002e 403.5px,#090060 404.5px,#0000a4 405.5px,#0006c8 406.5px,#000ac8 407.5px,#0002c8 415.5px,#0000a5 416.5px,#00007a 417.5px,#240052 418.5px,#620033 420.5px,#860025 421.5px,#f00100 422.5px,#ef1300 424.5px,#ef0f00 439.5px,#f00000 466.5px,#e60003 467.5px,#6f002d 474.5px,#250051 479.5px,#190058 480.5px,#000065 484.5px,#007 490.5px,#0000c8 503.5px,#0000c8 589.5px,#0025c7 627.5px,#0076c5 701.5px,#0098c4 738.5px,#00acc3)"></i><i class=b style="background:linear-gradient(#e57500,#e67200 231.5px,#e76c00 287.5px,#e86200 340.5px,#ea5100 372.5px,#ec3a00 397.5px,#ed3100 398.5px,#ef0b00 400.5px,#f00000 401.5px,#5c0036 403.5px,#000076 404.5px,#0000b9 405.5px,#000ac8 406.5px,#0002c8 414.5px,#0000c1 415.5px,#000065 417.5px,#380048 418.5px,#77002a 420.5px,#c20010 421.5px,#f00600 422.5px,#ef1000 423.5px,#ef1300 424.5px,#ef1000 438.5px,#f00000 466.5px,#eb0002 467.5px,#72002b 474.5px,#1a0057 480.5px,#000064 484.5px,#00007b 491.5px,#0000c8 503.5px,#0000c8 589.5px,#0025c7 627.5px,#0076c5 701.5px,#0097c4 737.5px,#00acc3)"></i><i class=b style="background:linear-gradient(#e57500,#e67200 231.5px,#e76c00 287.5px,#e86200 339.5px,#ea5100 372.5px,#ec3a00 397.5px,#f00500 400.5px,#e20005 401.5px,#96001f 402.5px,#480040 403.5px,#000089 404.5px,#0001c8 405.5px,#0009c8 406.5px,#0002c8 414.5px,#0000b1 415.5px,#000082 416.5px,#220053 417.5px,#4a003f 418.5px,#8e0022 420.5px,#f00100 421.5px,#ef1400 423.5px,#ef1000 438.5px,#f00000 466.5px,#ef0000 467.5px,#76002a 474.5px,#1c0056 480.5px,#010064 484.5px,#000079 491.5px,#0000c5 503.5px,#0000c8 504.5px,#0000c8 589.5px,#0025c7 627.5px,#0076c5 701.5px,#0097c4 737.5px,#00acc3)"></i><i class=b style="background:linear-gradient(#e57500,#e67100 231.5px,#e76c00 287.5px,#e86200 339.5px,#ea5100 372.5px,#ec3a00 397.5px,#ef1300 399.5px,#f00300 400.5px,#cb000d 401.5px,#830026 402.5px,#1e0055 403.5px,#00009a 404.5px,#0004c8 405.5px,#0008c8 406.5px,#0001c8 414.5px,#000072 416.5px,#35004a 417.5px,#7c0028 419.5px,#c20010 420.5px,#f00600 421.5px,#ef1100 422.5px,#ef1500 423.5px,#ef1100 437.5px,#f00000 467.5px,#e10005 468.5px,#680030 475.5px,#1f0054 480.5px,#030063 484.5px,#006 485.5px,#000078 491.5px,#0000c8 504.5px,#0000c8 589.5px,#0025c7 627.5px,#0076c5 701.5px,#0097c4 737.5px,#00acc3)"></i><i class=b style="background:linear-gradient(#e57500,#e67100 231.5px,#e76c00 287.5px,#e86100 340.5px,#ea5100 372.5px,#ec3b00 396.5px,#ed3700 397.5px,#ef1000 399.5px,#f00300 400.5px,#bd0012 401.5px,#70002c 402.5px,#00006c 403.5px,#0000af 404.5px,#0008c8 405.5px,#0002c8 413.5px,#0000b8 414.5px,#00008a 415.5px,#0e005d 416.5px,#460041 417.5px,#660031 418.5px,#8c0022 419.5px,#ec0001 420.5px,#ef1500 422.5px,#ef1600 423.5px,#ef1200 436.5px,#f00000 467.5px,#e40004 468.5px,#6b002e 475.5px,#230053 480.5px,#180058 481.5px,#000065 485.5px,#00007b 492.5px,#0000c7 504.5px,#0000c8 505.5px,#0000c8 589.5px,#0025c7 627.5px,#0076c5 701.5px,#0097c4 737.5px,#00acc3)"></i><i class=b style="background:linear-gradient(#e57500,#e67100 231.5px,#e76c00 287.5px,#e86100 340.5px,#ea5100 372.5px,#ec3b00 396.5px,#ed3200 397.5px,#ef0d00 399.5px,#f00200 400.5px,#b70014 401.5px,#690030 402.5px,#00007b 403.5px,#0000bf 404.5px,#0007c8 405.5px,#0001c8 413.5px,#0000a0 414.5px,#000072 415.5px,#390047 416.5px,#7c0028 418.5px,#a5001a 419.5px,#f00400 420.5px,#ef1700 422.5px,#ef1300 435.5px,#f00000 467.5px,#e70003 468.5px,#6e002d 475.5px,#270051 480.5px,#1a0057 481.5px,#000064 485.5px,#000079 492.5px,#0000c5 504.5px,#0000c8 505.5px,#0000c8 589.5px,#0025c7 627.5px,#0076c5 701.5px,#0097c4 737.5px,#00acc3)"></i><i class=b style="background:linear-gradient(#e57500,#e67100 231.5px,#e76c00 287.5px,#e86100 340.5px,#ea5100 372.5px,#ec3b00 396.5px,#f00700 399.5px,#f00100 400.5px,#ad0017 401.5px,#580038 402.5px,#000083 403.5px,#0000c8 404.5px,#0007c8 405.5px,#0001c8 412.5px,#0000b7 413.5px,#008 414.5px,#14005a 415.5px,#4e003d 416.5px,#6f002d 417.5px,#950020 418.5px,#e50004 419.5px,#ef0900 420.5px,#ef1400 421.5px,#ef1800 422.5px,#ef1400 435.5px,#f00500 456.5px,#f00000 467.5px,#ea0002 468.5px,#73002b 475.5px,#1d0056 481.5px,#020063 485.5px,#006 486.5px,#007 492.5px,#0000c8 505.5px,#0000c8 589.5px,#0024c7 626.5px,#0076c5 701.5px,#0097c4 737.5px,#00acc3)"></i><i class=b style="background:linear-gradient(#e57500,#e67100 231.5px,#e76c00 287.5px,#e86100 339.5px,#ea5100 372.5px,#ec3c00 395.5px,#ed3900 396.5px,#ef1300 398.5px,#f00500 399.5px,#e10005 400.5px,#9a001e 401.5px,#32004b 402.5px,#000091 403.5px,#0002c8 404.5px,#0006c8 405.5px,#0001c8 412.5px,#00009f 413.5px,#000070 414.5px,#420043 415.5px,#640032 416.5px,#af0016 418.5px,#f00500 419.5px,#ee1900 421.5px,#ef1500 434.5px,#f00500 456.5px,#f00000 467.5px,#ee0001 468.5px,#77002a 475.5px,#210053 481.5px,#170058 482.5px,#000065 486.5px,#00007b 493.5px,#0000c8 505.5px,#0000c8 589.5px,#0025c7 626.5px,#0075c5 700.5px,#0097c4 737.5px,#00acc3)"></i><i class=b style="background:linear-gradient(#e67500,#e67100 231.5px,#e76b00 287.5px,#e86100 340.5px,#ea5100 372.5px,#ec3c00 395.5px,#ed3300 396.5px,#ef0f00 398.5px,#f00400 399.5px,#d0000b 400.5px,#860025 401.5px,#000064 402.5px,#0000a5 403.5px,#0006c8 404.5px,#0001c8 411.5px,#0000bd 412.5px,#00008a 413.5px,#180058 414.5px,#570038 415.5px,#a1001b 417.5px,#f00000 418.5px,#ef1600 420.5px,#ee1a00 421.5px,#ef1600 433.5px,#f00500 456.5px,#f00000 468.5px,#6c002e 476.5px,#260051 481.5px,#190057 482.5px,#000064 486.5px,#00007a 493.5px,#0000c6 505.5px,#0000c8 506.5px,#0000c8 589.5px,#0025c7 626.5px,#0075c5 700.5px,#0097c4 737.5px,#00acc3)"></i><i class=b style="background:linear-gradient(#e67400,#e67100 231.5px,#e76b00 287.5px,#e86100 340.5px,#ea5100 372.5px,#ec3c00 395.5px,#ef0900 398.5px,#f00200 399.5px,#c10010 400.5px,#6e002d 401.5px,#007 402.5px,#0000b9 403.5px,#0005c8 404.5px,#0001c8 411.5px,#0000ac 412.5px,#000079 413.5px,#3f0045 414.5px,#6a002f 415.5px,#bb0012 417.5px,#f00600 418.5px,#ee1b00 420.5px,#ef1700 432.5px,#f00400 457.5px,#f00000 468.5px,#e50004 469.5px,#70002c 476.5px,#1c0056 482.5px,#020063 486.5px,#000078 493.5px,#0000c4 505.5px,#0000c8 506.5px,#0000c8 588.5px,#0025c7 626.5px,#0075c5 700.5px,#0097c4 737.5px,#00acc3)"></i><i class=b style="background:linear-gradient(#e67400,#e67100 231.5px,#e76b00 287.5px,#e96100 340.5px,#ea5100 372.5px,#ec3c00 395.5px,#ef1500 397.5px,#f00700 398.5px,#f00000 399.5px,#ac0018 400.5px,#420043 401.5px,#000089 402.5px,#0001c8 403.5px,#0005c8 404.5px,#0001c8 411.5px,#000068 413.5px,#53003a 414.5px,#7a0029 415.5px,#a6001a 416.5px,#f00000 417.5px,#ef1700 419.5px,#ee1c00 420.5px,#ef1700 432.5px,#f00500 457.5px,#f00000 468.5px,#ea0002 469.5px,#75002b 476.5px,#200054 482.5px,#030062 486.5px,#000065 487.5px,#007 493.5px,#0000c8 506.5px,#0000c8 588.5px,#0025c7 626.5px,#0076c5 700.5px,#0097c4 737.5px,#00acc3)"></i><i class=b style="background:linear-gradient(#e67400,#e67000 231.5px,#e76b00 287.5px,#e86100 339.5px,#ea5100 372.5px,#ec3b00 395.5px,#ef1300 397.5px,#f00600 398.5px,#e40004 399.5px,#99001e 400.5px,#11005b 401.5px,#00009e 402.5px,#0004c8 403.5px,#0001c8 410.5px,#0000b4 411.5px,#000082 412.5px,#280050 413.5px,#650031 414.5px,#b80014 416.5px,#f00400 417.5px,#ee1c00 419.5px,#ee1c00 420.5px,#ef1800 431.5px,#f00500 457.5px,#f00000 468.5px,#ee0001 469.5px,#69002f 477.5px,#230053 482.5px,#180058 483.5px,#000065 487.5px,#00007c 494.5px,#0000c7 506.5px,#0000c8 588.5px,#0025c7 626.5px,#0076c5 700.5px,#0097c4 737.5px,#00acc3)"></i><i class=b style="background:linear-gradient(#e67400,#e67000 231.5px,#e76b00 287.5px,#e96100 339.5px,#ea5100 371.5px,#ec3d00 394.5px,#ed3900 395.5px,#ef1200 397.5px,#f00600 398.5px,#e00006 399.5px,#900021 400.5px,#00006b 401.5px,#0000af 402.5px,#0004c8 403.5px,#0001c8 410.5px,#000069 412.5px,#560039 413.5px,#7c0028 414.5px,#d1000b 416.5px,#ef0900 417.5px,#ee1e00 419.5px,#ee1900 430.5px,#f00500 457.5px,#f00000 469.5px,#6c002e 477.5px,#260051 482.5px,#190057 483.5px,#000064 487.5px,#00007a 494.5px,#0000c6 506.5px,#0000c8 507.5px,#0000c8 588.5px,#0025c7 626.5px,#0076c5 700.5px,#0097c4 737.5px,#00acc3)"></i><i class=b style="background:linear-gradient(#e67400,#e77000 231.5px,#e76b00 287.5px,#e96000 340.5px,#ea5100 371.5px,#ec3d00 394.5px,#ed3400 395.5px,#ef1000 397.5px,#f00500 398.5px,#de0006 399.5px,#8d0022 400.5px,#000070 401.5px,#0000b6 402.5px,#0004c8 403.5px,#0001c8 409.5px,#0000b4 410.5px,#000080 411.5px,#2d004d 412.5px,#6c002e 413.5px,#be0011 415.5px,#f00300 416.5px,#ee1a00 418.5px,#ee1e00 419.5px,#ee1a00 430.5px,#f00500 458.5px,#f00000 469.5px,#e50004 470.5px,#6f002d 477.5px,#1a0057 483.5px,#010064 487.5px,#000079 494.5px,#0000c8 507.5px,#0000c8 588.5px,#0025c7 626.5px,#0076c5 700.5px,#0097c4 737.5px,#00acc3)"></i><i class=b style="background:linear-gradient(#e67400,#e77000 231.5px,#e76b00 287.5px,#e96000 340.5px,#ea5100 371.5px,#ec3d00 394.5px,#ef0a00 397.5px,#f00400 398.5px,#d50009 399.5px,#7b0028 400.5px,#000074 401.5px,#0000ba 402.5px,#0003c8 403.5px,#0001c8 409.5px,#00009a 410.5px,#000067 411.5px,#5e0035 412.5px,#da0008 415.5px,#ef0900 416.5px,#ee1f00 418.5px,#ee1c00 428.5px,#f00500 458.5px,#f00000 469.5px,#e80003 470.5px,#72002c 477.5px,#1d0056 483.5px,#020063 487.5px,#000078 494.5px,#0000c8 507.5px,#0000c8 588.5px,#0025c7 626.5px,#0076c5 700.5px,#0097c4 737.5px,#00acc3)"></i><i class=b style="background:linear-gradient(#e67400,#e77000 231.5px,#e76a00 287.5px,#e96000 340.5px,#ea5100 371.5px,#ec3d00 394.5px,#ef1700 396.5px,#f00800 397.5px,#f00200 398.5px,#c10010 399.5px,#53003a 400.5px,#000081 401.5px,#0000c4 402.5px,#0003c8 403.5px,#0001c8 408.5px,#0000ba 409.5px,#000083 410.5px,#2f004d 411.5px,#75002b 412.5px,#c9000d 414.5px,#f00400 415.5px,#ee1b00 417.5px,#ee2000 418.5px,#ee1c00 428.5px,#f00500 458.5px,#f00000 469.5px,#eb0002 470.5px,#75002b 477.5px,#1f0054 483.5px,#030062 487.5px,#000065 488.5px,#007 494.5px,#0000c7 507.5px,#0000c8 508.5px,#0000c8 588.5px,#0025c7 626.5px,#0076c5 700.5px,#0097c4 737.5px,#00acc3)"></i><i class=b style="background:linear-gradient(#e67400,#e77000 231.5px,#e76a00 287.5px,#e96000 340.5px,#ea5000 372.5px,#ec3c00 394.5px,#ef1500 396.5px,#f00700 397.5px,#f00100 398.5px,#ad0017 399.5px,#230053 400.5px,#000096 401.5px,#0003c8 402.5px,#0001c8 408.5px,#0000a9 409.5px,#000071 410.5px,#580038 411.5px,#8c0023 412.5px,#e30004 414.5px,#ef0a00 415.5px,#ee2100 417.5px,#ee1c00 428.5px,#f00500 458.5px,#f00000 469.5px,#ed0001 470.5px,#78002a 477.5px,#220053 483.5px,#180058 484.5px,#000065 488.5px,#00007b 495.5px,#0000c5 507.5px,#0000c8 508.5px,#0000c8 588.5px,#0025c7 626.5px,#0076c5 700.5px,#0097c4 737.5px,#00acc3)"></i><i class=b style="background:linear-gradient(#e67400,#e77000 231.5px,#e76a00 287.5px,#e96000 341.5px,#ea5000 372.5px,#ec3c00 394.5px,#ef1400 396.5px,#f00700 397.5px,#f00000 398.5px,#a4001a 399.5px,#030063 400.5px,#0000a8 401.5px,#0003c8 402.5px,#0001c8 408.5px,#000094 409.5px,#0b005e 410.5px,#6e002d 411.5px,#cc000c 413.5px,#f00400 414.5px,#ee1c00 416.5px,#e20 417.5px,#ee1d00 428.5px,#f00500 458.5px,#f00000 469.5px,#ef0000 470.5px,#6b002f 478.5px,#250052 483.5px,#190058 484.5px,#000064 488.5px,#000079 495.5px,#0000c8 508.5px,#0000c8 588.5px,#0025c7 626.5px,#0076c5 700.5px,#0097c4 737.5px,#00acc3)"></i><i class=b style="background:linear-gradient(#e67300,#e77000 231.5px,#e76a00 287.5px,#e95f00 341.5px,#ea5000 372.5px,#ec3c00 394.5px,#ef1400 396.5px,#f00700 397.5px,#f00000 398.5px,#a3001a 399.5px,#000067 400.5px,#0000af 401.5px,#0002c8 402.5px,#0001c8 407.5px,#0000b1 408.5px,#00007b 409.5px,#3f0045 410.5px,#840025 411.5px,#de0006 413.5px,#f00800 414.5px,#e20 416.5px,#e20 417.5px,#ee1e00 427.5px,#f00500 459.5px,#f00000 470.5px,#6d002e 478.5px,#270050 483.5px,#1a0057 484.5px,#010064 488.5px,#000078 495.5px,#0000c8 508.5px,#0000c8 588.5px,#0025c7 626.5px,#0076c5 700.5px,#0097c4 737.5px,#00acc3)"></i><i class=b style="background:linear-gradient(#e67300,#e76f00 231.5px,#e76a00 287.5px,#e95f00 341.5px,#ea5000 372.5px,#ec3d00 393.5px,#ed3a00 394.5px,#ef1400 396.5px,#f00700 397.5px,#f00000 398.5px,#a5001a 399.5px,#000067 400.5px,#0000af 401.5px,#0002c8 402.5px,#0001c8 407.5px,#000096 408.5px,#070060 409.5px,#71002c 410.5px,#ca000d 412.5px,#f00100 413.5px,#ee2300 416.5px,#ee1f00 426.5px,#f00500 459.5px,#f00000 470.5px,#e40004 471.5px,#6f002d 478.5px,#1c0056 484.5px,#020063 488.5px,#007 495.5px,#0000c7 508.5px,#0000c8 509.5px,#0000c8 587.5px,#0025c7 625.5px,#0076c5 700.5px,#0097c4 737.5px,#00acc3)"></i><i class=b style="background:linear-gradient(#e67300,#e76f00 231.5px,#e76a00 287.5px,#e95f00 341.5px,#ea5000 372.5px,#ec3d00 393.5px,#ed3500 394.5px,#ef1100 396.5px,#f00000 398.5px,#a3001b 399.5px,#000068 400.5px,#0000af 401.5px,#0002c8 402.5px,#0001c8 406.5px,#0000b9 407.5px,#00007e 408.5px,#3f0045 409.5px,#8c0023 410.5px,#e40004 412.5px,#f00700 413.5px,#ee1f00 415.5px,#ee2400 416.5px,#f00500 459.5px,#f00000 470.5px,#e60003 471.5px,#72002c 478.5px,#1e0055 484.5px,#030062 488.5px,#000065 489.5px,#00007c 496.5px,#0000c5 508.5px,#0000c8 509.5px,#0000c8 587.5px,#0025c7 625.5px,#0076c5 700.5px,#0097c4 737.5px,#00acc3)"></i><i class=b style="background:linear-gradient(#e67300,#e76f00 231.5px,#e76a00 287.5px,#e95f00 340.5px,#ea5000 372.5px,#ec3d00 393.5px,#ef0b00 396.5px,#f00600 397.5px,#ea0002 398.5px,#920021 399.5px,#00006c 400.5px,#0000b2 401.5px,#0002c8 402.5px,#0001c8 406.5px,#0000a6 407.5px,#00006c 408.5px,#6a002f 409.5px,#a3001b 410.5px,#d3000a 411.5px,#f00100 412.5px,#ee2500 415.5px,#f00500 459.5px,#f00000 470.5px,#e80003 471.5px,#75002b 478.5px,#210053 484.5px,#170058 485.5px,#000065 489.5px,#00007a 496.5px,#0000c8 509.5px,#0000c8 587.5px,#0025c7 625.5px,#0076c5 700.5px,#0097c4 737.5px,#00acc3)"></i><i class=b style="background:linear-gradient(#e67300,#e76f00 231.5px,#e76a00 287.5px,#e95f00 340.5px,#ea5000 372.5px,#ec3d00 393.5px,#ef1800 395.5px,#ef0a00 396.5px,#f00400 397.5px,#d60009 398.5px,#660031 399.5px,#000079 400.5px,#0000bd 401.5px,#0001c8 402.5px,#0000c8 406.5px,#000090 407.5px,#190057 408.5px,#840025 409.5px,#e70003 411.5px,#f00700 412.5px,#ee2000 414.5px,#ee2600 415.5px,#f00500 459.5px,#f00000 470.5px,#eb0002 471.5px,#690030 479.5px,#240052 484.5px,#180058 485.5px,#000064 489.5px,#000079 496.5px,#0000c8 509.5px,#0000c8 587.5px,#0025c7 625.5px,#0076c5 700.5px,#0097c4 737.5px,#00acc3)"></i><i class=b style="background:linear-gradient(#e67300,#e76f00 231.5px,#e86a00 287.5px,#e95f00 341.5px,#ea5000 372.5px,#ec3d00 393.5px,#ef1600 395.5px,#ef0900 396.5px,#f00200 397.5px,#c20010 398.5px,#34004a 399.5px,#00008f 400.5px,#0001c8 401.5px,#0001c8 405.5px,#0000af 406.5px,#000076 407.5px,#4f003d 408.5px,#9b001d 409.5px,#ca000d 410.5px,#f00100 411.5px,#ef0b00 412.5px,#ee2600 414.5px,#ee2700 415.5px,#f00500 459.5px,#f00000 470.5px,#ee0001 471.5px,#6b002e 479.5px,#1a0057 485.5px,#010064 489.5px,#000078 496.5px,#0000c7 509.5px,#0000c8 587.5px,#0025c7 625.5px,#0076c5 700.5px,#0097c4 737.5px,#00acc3)"></i><i class=b style="background:linear-gradient(#e67300,#e76f00 231.5px,#e86900 287.5px,#e95f00 341.5px,#ea5000 372.5px,#ec3d00 393.5px,#ef1600 395.5px,#ef0900 396.5px,#f00200 397.5px,#b90013 398.5px,#13005a 399.5px,#0000a1 400.5px,#0001c8 401.5px,#0001c8 405.5px,#000093 406.5px,#14005a 407.5px,#870024 408.5px,#e40004 410.5px,#f00300 411.5px,#ee2800 414.5px,#f00500 459.5px,#f00000 471.5px,#6e002d 479.5px,#1b0056 485.5px,#020063 489.5px,#007 496.5px,#0000c6 509.5px,#0000c8 510.5px,#0000c8 587.5px,#0025c7 625.5px,#0076c5 700.5px,#0097c4 737.5px,#00acc3)"></i><i class=b style="background:linear-gradient(#e67300,#e76f00 231.5px,#e86900 287.5px,#e95f00 341.5px,#ea5000 372.5px,#ec3d00 393.5px,#ef1600 395.5px,#ef0900 396.5px,#f00200 397.5px,#b80013 398.5px,#090060 399.5px,#0000a8 400.5px,#0001c8 401.5px,#0001c8 404.5px,#0000b6 405.5px,#00007a 406.5px,#4f003d 407.5px,#a3001b 408.5px,#d2000a 409.5px,#f00100 410.5px,#ef0a00 411.5px,#ee2400 413.5px,#ee2800 414.5px,#f00500 460.5px,#f00000 471.5px,#e40004 472.5px,#71002c 479.5px,#1e0055 485.5px,#030062 489.5px,#000065 490.5px,#007 496.5px,#0000c5 509.5px,#0000c8 510.5px,#0000c8 587.5px,#0025c7 625.5px,#0076c5 700.5px,#0097c4 737.5px,#00acc3)"></i><i class=b style="background:linear-gradient(#e67300,#e76f00 231.5px,#e86900 287.5px,#e95f00 341.5px,#ea5000 372.5px,#ec3f00 392.5px,#ec3b00 393.5px,#ef1500 395.5px,#ef0900 396.5px,#f00200 397.5px,#b90013 398.5px,#080060 399.5px,#0000a9 400.5px,#0001c8 401.5px,#0001c8 404.5px,#0000a3 405.5px,#006 406.5px,#7f0027 407.5px,#bc0012 408.5px,#ed0001 409.5px,#f00400 410.5px,#ed2900 413.5px,#f00500 460.5px,#f00000 471.5px,#e60003 472.5px,#74002b 479.5px,#200054 485.5px,#170059 486.5px,#000065 490.5px,#00007b 497.5px,#0000c8 510.5px,#0000c8 587.5px,#0025c7 625.5px,#0076c5 700.5px,#0097c4 737.5px,#00acc3)"></i><i class=b style="background:linear-gradient(#e67200,#e76e00 231.5px,#e86900 287.5px,#e95f00 341.5px,#ea5000 372.5px,#ec3f00 392.5px,#ed3600 393.5px,#ef1200 395.5px,#f00200 397.5px,#b70014 398.5px,#070060 399.5px,#0000a9 400.5px,#0001c8 401.5px,#0000c8 404.5px,#00008d 405.5px,#270051 406.5px,#9a001e 407.5px,#cf000c 408.5px,#f00200 409.5px,#ef0900 410.5px,#ee2400 412.5px,#ed2a00 413.5px,#f00500 460.5px,#f00000 471.5px,#e90002 472.5px,#76002a 479.5px,#230053 485.5px,#180058 486.5px,#000065 490.5px,#00007a 497.5px,#0000c8 510.5px,#0000c8 587.5px,#0025c7 625.5px,#0076c5 700.5px,#0097c4 737.5px,#00acc3)"></i><i class=b style="background:linear-gradient(#e67200,#e76e00 231.5px,#e86900 287.5px,#e95e00 341.5px,#eb4f00 373.5px,#ec3f00 392.5px,#ef0d00 395.5px,#f00100 397.5px,#a5001a 398.5px,#000065 399.5px,#0000ab 400.5px,#0001c8 401.5px,#0000c8 403.5px,#0000ac 404.5px,#000072 405.5px,#5f0034 406.5px,#b30015 407.5px,#e40004 408.5px,#f00300 409.5px,#ef0e00 410.5px,#ed2a00 412.5px,#ed2b00 413.5px,#f00500 460.5px,#f00000 471.5px,#ec0001 472.5px,#69002f 480.5px,#240052 485.5px,#190058 486.5px,#000064 490.5px,#000078 497.5px,#0000c7 510.5px,#0000c8 587.5px,#0025c7 625.5px,#0076c5 700.5px,#0097c4 737.5px,#00acc3)"></i><i class=b style="background:linear-gradient(#e67200,#e76e00 231.5px,#e86900 287.5px,#e95f00 340.5px,#eb4f00 373.5px,#ec3f00 392.5px,#ee1900 394.5px,#ef0b00 395.5px,#f00500 396.5px,#e60003 397.5px,#76002a 398.5px,#000073 399.5px,#0000b5 400.5px,#0001c8 401.5px,#0000c8 403.5px,#00008f 404.5px,#220053 405.5px,#9d001d 406.5px,#cf000b 407.5px,#f00100 408.5px,#f00600 409.5px,#ed2c00 412.5px,#f00500 460.5px,#f00000 471.5px,#ee0001 472.5px,#6b002e 480.5px,#1a0057 486.5px,#010064 490.5px,#000078 497.5px,#0000c6 510.5px,#0000c8 511.5px,#0000c8 587.5px,#0025c7 625.5px,#0075c5 699.5px,#0097c4 737.5px,#00acc3)"></i><i class=b style="background:linear-gradient(#e67200,#e76e00 231.5px,#e86900 287.5px,#e95e00 341.5px,#eb4f00 373.5px,#ec3f00 392.5px,#ef1700 394.5px,#ef0a00 395.5px,#f00300 396.5px,#d2000b 397.5px,#420043 398.5px,#000089 399.5px,#0000c6 400.5px,#0000c8 402.5px,#0000b2 403.5px,#000075 404.5px,#5e0035 405.5px,#ba0013 406.5px,#ec0001 407.5px,#f00400 408.5px,#ef0d00 409.5px,#ee2700 411.5px,#ed2c00 412.5px,#f00500 460.5px,#f00000 472.5px,#6d002d 480.5px,#1b0057 486.5px,#020063 490.5px,#007 497.5px,#0000c8 511.5px,#0000c8 586.5px,#0025c7 625.5px,#0075c5 699.5px,#0097c4 737.5px,#00acc3)"></i><i class=b style="background:linear-gradient(#e67200,#e76e00 231.5px,#e86900 287.5px,#e95e00 341.5px,#eb4f00 373.5px,#ec3f00 392.5px,#ef1700 394.5px,#ef0a00 395.5px,#f00300 396.5px,#c8000e 397.5px,#200054 398.5px,#00009b 399.5px,#0001c8 400.5px,#0000c8 402.5px,#0000a0 403.5px,#060061 404.5px,#940020 405.5px,#d4000a 406.5px,#f00200 407.5px,#f00600 408.5px,#ed2e00 411.5px,#f00500 460.5px,#f00000 472.5px,#70002c 480.5px,#1e0055 486.5px,#030062 490.5px,#000065 491.5px,#00007b 498.5px,#0000c8 511.5px,#0000c8 586.5px,#0024c7 624.5px,#0076c5 699.5px,#0097c4 737.5px,#00acc3)"></i><i class=b style="background:linear-gradient(#e67200,#e76e00 231.5px,#e86800 287.5px,#e95e00 341.5px,#eb4f00 373.5px,#ec3f00 392.5px,#ef1700 394.5px,#ef0a00 395.5px,#f00300 396.5px,#c6000f 397.5px,#15005a 398.5px,#0000a1 399.5px,#0001c8 400.5px,#0000c8 401.5px,#0000c2 402.5px,#000089 403.5px,#34004a 404.5px,#b00016 405.5px,#e70003 406.5px,#f00400 407.5px,#ef0c00 408.5px,#ee2800 410.5px,#ed2e00 411.5px,#f00500 461.5px,#f00000 472.5px,#e40004 473.5px,#72002b 480.5px,#200054 486.5px,#170059 487.5px,#000065 491.5px,#000079 498.5px,#0000c8 511.5px,#0000c8 586.5px,#0025c7 624.5px,#0076c5 699.5px,#0098c4 737.5px,#00acc3)"></i><i class=b style="background:linear-gradient(#e67200,#e76e00 231.5px,#e86800 288.5px,#e95e00 341.5px,#eb4f00 373.5px,#ec3e00 392.5px,#ef1700 394.5px,#ef0a00 395.5px,#f00300 396.5px,#c7000e 397.5px,#14005a 398.5px,#0000a1 399.5px,#0000c8 400.5px,#0000c8 401.5px,#0000a7 402.5px,#00006d 403.5px,#6f002d 404.5px,#ca000d 405.5px,#f00100 406.5px,#f00600 407.5px,#ef1100 408.5px,#ed2e00 410.5px,#ed2e00 411.5px,#f00600 459.5px,#f00000 472.5px,#e70003 473.5px,#75002a 480.5px,#230053 486.5px,#180058 487.5px,#000064 491.5px,#000078 498.5px,#0000c7 511.5px,#0000c8 512.5px,#0000c8 586.5px,#0025c7 624.5px,#0076c5 699.5px,#0098c4 737.5px,#00acc3)"></i><i class=b style="background:linear-gradient(#e67200,#e76e00 231.5px,#e86800 288.5px,#e95e00 341.5px,#eb4f00 373.5px,#ec4000 391.5px,#ec3c00 392.5px,#ef1600 394.5px,#ef0a00 395.5px,#f00300 396.5px,#c8000e 397.5px,#15005a 398.5px,#00009f 399.5px,#0000c6 400.5px,#0000ba 401.5px,#00008a 402.5px,#2f004d 403.5px,#b30015 404.5px,#e70003 405.5px,#f00400 406.5px,#f00800 407.5px,#ed3000 410.5px,#ef0b00 453.5px,#f00000 472.5px,#ea0002 473.5px,#69002f 481.5px,#250051 486.5px,#190057 487.5px,#010064 491.5px,#000078 498.5px,#0000c6 511.5px,#0000c8 512.5px,#0000c8 586.5px,#0025c7 624.5px,#0076c5 699.5px,#0097c4 736.5px,#00acc3)"></i><i class=b style="background:linear-gradient(#e67200,#e76d00 231.5px,#e86800 288.5px,#e95e00 341.5px,#eb4e00 374.5px,#ec4000 391.5px,#ed3700 392.5px,#ef1300 394.5px,#f00300 396.5px,#c5000f 397.5px,#14005a 398.5px,#00009d 399.5px,#0000bd 400.5px,#0000a7 401.5px,#000070 402.5px,#6e002d 403.5px,#d1000b 404.5px,#f00200 405.5px,#f00600 406.5px,#ef0f00 407.5px,#ed2b00 409.5px,#ed3000 410.5px,#ef0c00 452.5px,#f00000 472.5px,#ed0001 473.5px,#6c002e 481.5px,#1a0057 487.5px,#020063 491.5px,#007 498.5px,#0000c5 511.5px,#0000c8 512.5px,#0000c8 586.5px,#0025c7 624.5px,#0076c5 699.5px,#0097c4 736.5px,#00acc3)"></i><i class=b style="background:linear-gradient(#e67100,#e76d00 231.5px,#e86800 288.5px,#e95e00 341.5px,#eb4e00 374.5px,#ec4000 391.5px,#ef0e00 394.5px,#f00200 396.5px,#b30015 397.5px,#0b005e 398.5px,#00009b 399.5px,#0000b3 400.5px,#000096 401.5px,#13005b 402.5px,#a80019 403.5px,#eb0002 404.5px,#f00400 405.5px,#ef0800 406.5px,#ed3100 409.5px,#ef0d00 451.5px,#f00000 472.5px,#ef0000 473.5px,#6e002d 481.5px,#1d0056 487.5px,#030063 491.5px,#000065 492.5px,#00007c 499.5px,#0000c5 511.5px,#0000c8 512.5px,#0000c8 586.5px,#0025c7 624.5px,#0076c5 699.5px,#0097c4 736.5px,#00acc3)"></i><i class=b style="background:linear-gradient(#e67100,#e76d00 232.5px,#e86800 288.5px,#e95d00 342.5px,#eb4e00 374.5px,#ec4000 391.5px,#ee1a00 393.5px,#ef0c00 394.5px,#f00000 396.5px,#840026 397.5px,#00006b 398.5px,#00009c 399.5px,#0000a5 400.5px,#000081 401.5px,#420043 402.5px,#c5000f 403.5px,#f00100 404.5px,#ef0e00 406.5px,#ed2b00 408.5px,#ed3100 409.5px,#ef0d00 451.5px,#f00000 473.5px,#71002c 481.5px,#1f0054 487.5px,#160059 488.5px,#000065 492.5px,#00007b 499.5px,#0000c8 512.5px,#0000c8 586.5px,#0025c7 624.5px,#0076c5 699.5px,#0097c4 736.5px,#00acc3)"></i><i class=b style="background:linear-gradient(#e67100,#e76d00 232.5px,#e86800 288.5px,#e95e00 341.5px,#eb4e00 374.5px,#ec4000 391.5px,#ef1800 393.5px,#ef0b00 394.5px,#f00500 395.5px,#df0006 396.5px,#4e003d 397.5px,#00007c 398.5px,#00009e 399.5px,#000094 400.5px,#006 401.5px,#800027 402.5px,#df0006 403.5px,#f00300 404.5px,#f00800 405.5px,#ef1300 406.5px,#ed3100 408.5px,#ed3100 409.5px,#ef0d00 451.5px,#f00000 473.5px,#e40004 474.5px,#74002b 481.5px,#210053 487.5px,#170058 488.5px,#000065 492.5px,#00007b 499.5px,#0000c8 512.5px,#0000c8 586.5px,#0025c7 624.5px,#0076c5 699.5px,#0097c4 736.5px,#00acc3)"></i><i class=b style="background:linear-gradient(#e67100,#e76d00 232.5px,#e86800 288.5px,#e95d00 341.5px,#eb4e00 374.5px,#ec4000 391.5px,#ef1800 393.5px,#ef0b00 394.5px,#f00400 395.5px,#d50009 396.5px,#2e004d 397.5px,#000087 398.5px,#00009a 399.5px,#00007f 400.5px,#3b0047 401.5px,#c4000f 402.5px,#f00100 403.5px,#ef0a00 405.5px,#ed3300 408.5px,#ef0e00 450.5px,#f00000 473.5px,#e70003 474.5px,#76002a 481.5px,#220053 487.5px,#180058 488.5px,#000065 492.5px,#00007a 499.5px,#0000c8 512.5px,#0000c8 586.5px,#0025c7 624.5px,#0076c5 699.5px,#0097c4 736.5px,#00acc3)"></i><i class=b style="background:linear-gradient(#e67100,#e76d00 232.5px,#e86700 288.5px,#e95d00 341.5px,#eb4e00 375.5px,#ec4000 391.5px,#ef1800 393.5px,#ef0b00 394.5px,#f00400 395.5px,#d3000a 396.5px,#250051 397.5px,#000087 398.5px,#000090 399.5px,#000069 400.5px,#7b0029 401.5px,#e10005 402.5px,#f00300 403.5px,#f00800 404.5px,#ef1100 405.5px,#ed2e00 407.5px,#ed3300 408.5px,#ef0d00 451.5px,#f00000 473.5px,#e90003 474.5px,#77002a 481.5px,#230052 487.5px,#180058 488.5px,#000065 492.5px,#000079 499.5px,#0000c6 512.5px,#0000c8 513.5px,#0000c8 585.5px,#0025c7 624.5px,#0076c5 699.5px,#0097c4 736.5px,#00acc3)"></i><i class=b style="background:linear-gradient(#e67100,#e76d00 232.5px,#e86700 288.5px,#e95d00 341.5px,#eb4e00 375.5px,#ec4100 390.5px,#ec3e00 391.5px,#ef1700 393.5px,#ef0b00 394.5px,#f00400 395.5px,#d4000a 396.5px,#260051 397.5px,#000084 398.5px,#000086 399.5px,#160059 400.5px,#ae0017 401.5px,#f00100 402.5px,#ef0a00 404.5px,#ed3400 407.5px,#ef0e00 450.5px,#f00000 473.5px,#ea0002 474.5px,#690030 482.5px,#240052 487.5px,#190058 488.5px,#000064 492.5px,#000078 499.5px,#0000c6 512.5px,#0000c8 513.5px,#0000c8 585.5px,#0025c7 624.5px,#0076c5 699.5px,#0097c4 736.5px,#00acc3)"></i><i class=b style="background:linear-gradient(#e67100,#e76d00 232.5px,#e86700 289.5px,#e95d00 341.5px,#eb4e00 375.5px,#ec4100 390.5px,#ed3900 391.5px,#ef1400 393.5px,#f00400 395.5px,#d1000b 396.5px,#260051 397.5px,#000081 398.5px,#00007e 399.5px,#2d004e 400.5px,#c7000e 401.5px,#f00200 402.5px,#ef1000 404.5px,#ed2e00 406.5px,#ed3400 407.5px,#ef0f00 450.5px,#f00000 473.5px,#eb0002 474.5px,#6a002f 482.5px,#250051 487.5px,#190057 488.5px,#010064 492.5px,#007 499.5px,#0000c5 512.5px,#0000c8 513.5px,#0000c8 585.5px,#0025c7 624.5px,#0076c5 699.5px,#0097c4 736.5px,#00acc3)"></i><i class=b style="background:linear-gradient(#e67100,#e76c00 232.5px,#e86700 289.5px,#e95d00 341.5px,#eb4e00 375.5px,#ec4100 390.5px,#ef0f00 393.5px,#f00300 395.5px,#bf0011 396.5px,#1f0055 397.5px,#00007d 398.5px,#000071 399.5px,#4f003c 400.5px,#d3000a 401.5px,#f00300 402.5px,#f00800 403.5px,#ef1300 404.5px,#ed3300 406.5px,#ed3400 407.5px,#ef0e00 451.5px,#f00000 473.5px,#ec0001 474.5px,#6b002e 482.5px,#1a0057 488.5px,#020063 492.5px,#007 499.5px,#0000c8 513.5px,#0000c8 585.5px,#0025c7 624.5px,#0076c5 699.5px,#0097c4 736.5px,#00acc3)"></i><i class=b style="background:linear-gradient(#e67100,#e76c00 232.5px,#e86700 289.5px,#e95d00 342.5px,#eb4e00 375.5px,#ec4100 390.5px,#ee1b00 392.5px,#ef0d00 393.5px,#f00100 395.5px,#900021 396.5px,#080060 397.5px,#00007b 398.5px,#050061 399.5px,#840025 400.5px,#e90002 401.5px,#f00400 402.5px,#ef0900 403.5px,#ef1500 404.5px,#ed3500 406.5px,#ef0f00 450.5px,#f00000 473.5px,#ee0001 474.5px,#6d002e 482.5px,#1c0056 488.5px,#030063 492.5px,#000065 493.5px,#00007b 500.5px,#0000c8 513.5px,#0000c8 585.5px,#0025c7 623.5px,#0076c5 699.5px,#0097c4 736.5px,#00acc3)"></i><i class=b style="background:linear-gradient(#e67000,#e76c00 232.5px,#e86700 289.5px,#e95d00 341.5px,#eb4e00 375.5px,#ec4200 390.5px,#ee1900 392.5px,#ef0c00 393.5px,#f00500 394.5px,#e90002 395.5px,#580038 396.5px,#000070 397.5px,#00007d 398.5px,#1d0056 399.5px,#b40015 400.5px,#f00100 401.5px,#ef0b00 403.5px,#ed2a00 405.5px,#ed3500 406.5px,#ef0e00 451.5px,#f00000 473.5px,#ef0000 474.5px,#6f002d 482.5px,#1f0055 488.5px,#040062 492.5px,#000065 493.5px,#00007b 500.5px,#0000c8 513.5px,#0000c8 585.5px,#0025c7 623.5px,#0076c5 699.5px,#0097c4 736.5px,#00acc3)"></i><i class=b style="background:linear-gradient(#e67000,#e76c00 232.5px,#e86700 289.5px,#e95d00 341.5px,#eb4e00 375.5px,#ec4200 390.5px,#ee1900 392.5px,#ef0c00 393.5px,#f00500 394.5px,#df0006 395.5px,#380048 396.5px,#00007c 397.5px,#00007f 398.5px,#270051 399.5px,#c8000e 400.5px,#f00200 401.5px,#ef1000 403.5px,#ed2f00 405.5px,#ed3500 406.5px,#ef0d00 452.5px,#f00000 474.5px,#72002c 482.5px,#210054 488.5px,#170059 489.5px,#000065 493.5px,#00007b 500.5px,#0000c8 513.5px,#0000c8 585.5px,#0025c7 623.5px,#0076c5 699.5px,#0097c4 736.5px,#00acc3)"></i><i class=b style="background:linear-gradient(#e67000,#e76c00 233.5px,#e86700 289.5px,#e95d00 341.5px,#eb4d00 376.5px,#ec4100 390.5px,#ee1900 392.5px,#ef0c00 393.5px,#f00500 394.5px,#dc0007 395.5px,#2e004d 396.5px,#00007e 397.5px,#00007c 398.5px,#33004b 399.5px,#ce000c 400.5px,#f00300 401.5px,#f00800 402.5px,#ef1300 403.5px,#ed3400 405.5px,#ed3600 406.5px,#ef0d00 452.5px,#f00000 474.5px,#e40004 475.5px,#74002b 482.5px,#220053 488.5px,#170058 489.5px,#000065 493.5px,#00007b 500.5px,#0000c8 513.5px,#0000c8 585.5px,#0025c7 623.5px,#0076c5 699.5px,#0097c4 736.5px,#00acc3)"></i><i class=b style="background:linear-gradient(#e77000,#e76c00 233.5px,#e86600 290.5px,#e95d00 341.5px,#eb4d00 376.5px,#ec4300 389.5px,#ec3f00 390.5px,#ef1800 392.5px,#ef0c00 393.5px,#f00500 394.5px,#dc0007 395.5px,#2f004c 396.5px,#000079 397.5px,#00006f 398.5px,#53003a 399.5px,#d90008 400.5px,#f00300 401.5px,#ef0900 402.5px,#ef1400 403.5px,#ed3600 405.5px,#ef0e00 452.5px,#f00000 474.5px,#e50004 475.5px,#75002b 482.5px,#220053 488.5px,#180058 489.5px,#000065 493.5px,#00007a 500.5px,#0000c7 513.5px,#0000c8 514.5px,#0000c8 585.5px,#0025c7 623.5px,#0076c5 699.5px,#0097c4 736.5px,#00acc3)"></i><i class=b style="background:linear-gradient(#e77000,#e76c00 233.5px,#e86600 290.5px,#e95d00 341.5px,#eb4d00 376.5px,#ec4300 389.5px,#ec3a00 390.5px,#ef1500 392.5px,#f00500 394.5px,#da0008 395.5px,#31004c 396.5px,#000072 397.5px,#0d005e 398.5px,#8a0023 399.5px,#ef0000 400.5px,#ef0a00 402.5px,#ef1600 403.5px,#ed3700 405.5px,#ef0e00 451.5px,#f00000 474.5px,#e70003 475.5px,#76002a 482.5px,#230053 488.5px,#180058 489.5px,#000065 493.5px,#000079 500.5px,#0000c6 513.5px,#0000c8 514.5px,#0000c8 585.5px,#0025c7 623.5px,#0076c5 699.5px,#0097c4 736.5px,#00acc3)"></i><i class=b style="background:linear-gradient(#e77000,#e76b00 233.5px,#e86600 290.5px,#e95c00 342.5px,#eb4d00 376.5px,#ec4300 389.5px,#ef1000 392.5px,#f00400 394.5px,#c7000e 395.5px,#2a004f 396.5px,#00006f 397.5px,#260051 398.5px,#ba0013 399.5px,#f00200 400.5px,#ef0c00 402.5px,#ed2b00 404.5px,#ed3700 405.5px,#ef0e00 451.5px,#f00000 474.5px,#e70003 475.5px,#76002a 482.5px,#230053 488.5px,#180058 489.5px,#000065 493.5px,#000078 500.5px,#0000c5 513.5px,#0000c8 514.5px,#0000c8 585.5px,#0025c7 623.5px,#0075c5 698.5px,#0097c4 736.5px,#00acc3)"></i><i class=b style="background:linear-gradient(#e77000,#e76b00 233.5px,#e86600 290.5px,#e95c00 342.5px,#eb4d00 376.5px,#ec4300 389.5px,#ee1c00 391.5px,#ef0e00 392.5px,#f00200 394.5px,#97001f 395.5px,#11005b 396.5px,#000071 397.5px,#2f004c 398.5px,#ce000c 399.5px,#f00300 400.5px,#ef1100 402.5px,#ed3000 404.5px,#ed3700 405.5px,#ef0e00 452.5px,#f00000 474.5px,#e80003 475.5px,#76002a 482.5px,#230052 488.5px,#180058 489.5px,#000064 493.5px,#000078 500.5px,#0000c8 514.5px,#0000c8 584.5px,#0025c7 623.5px,#0075c5 698.5px,#0097c4 736.5px,#00acc3)"></i><i class=b style="background:linear-gradient(#e77000,#e76b00 233.5px,#e86600 290.5px,#e95c00 343.5px,#eb4d00 376.5px,#ec4300 389.5px,#ee1a00 391.5px,#ef0d00 392.5px,#f00000 394.5px,#5e0035 395.5px,#00006b 396.5px,#000072 397.5px,#390047 398.5px,#d3000a 399.5px,#f00300 400.5px,#ef0900 401.5px,#ef1400 402.5px,#ed3500 404.5px,#ed3700 405.5px,#ef0d00 453.5px,#f00000 474.5px,#e80003 475.5px,#77002a 482.5px,#250052 488.5px,#190058 489.5px,#010064 493.5px,#007 500.5px,#0000c8 514.5px,#0000c8 584.5px,#0025c7 623.5px,#0076c5 698.5px,#0097c4 736.5px,#00acc3)"></i><i class=b style="background:linear-gradient(#e77000,#e76b00 233.5px,#e86600 290.5px,#e95c00 341.5px,#eb4d00 376.5px,#ec4300 389.5px,#ee1a00 391.5px,#ef0c00 392.5px,#f00600 393.5px,#e50004 394.5px,#3f0044 395.5px,#000072 396.5px,#00006b 397.5px,#580038 398.5px,#de0006 399.5px,#f00400 400.5px,#ef0900 401.5px,#ef1500 402.5px,#ed3700 404.5px,#f00500 463.5px,#f00000 474.5px,#e80003 475.5px,#69002f 483.5px,#260051 488.5px,#1a0057 489.5px,#020063 493.5px,#00007b 501.5px,#0000c8 514.5px,#0000c8 584.5px,#0025c7 623.5px,#0076c5 698.5px,#0097c4 736.5px,#00acc3)"></i><i class=b style="background:linear-gradient(#e76f00,#e76b00 234.5px,#e86600 291.5px,#e95c00 341.5px,#eb4c00 377.5px,#ec4200 389.5px,#ee1a00 391.5px,#ef0c00 392.5px,#f00600 393.5px,#e20005 394.5px,#370048 395.5px,#000070 396.5px,#10005c 397.5px,#8e0022 398.5px,#f00000 399.5px,#ef0a00 401.5px,#ef1700 402.5px,#ed3800 404.5px,#ef0900 458.5px,#f00000 474.5px,#ea0002 475.5px,#6b002f 483.5px,#1c0056 489.5px,#030063 493.5px,#000065 494.5px,#00007b 501.5px,#0000c8 514.5px,#0000c8 584.5px,#0025c7 623.5px,#0076c5 698.5px,#0097c4 736.5px,#00acc3)"></i><i class=b style="background:linear-gradient(#e76f00,#e76b00 234.5px,#e86500 291.5px,#e95c00 341.5px,#eb4d00 375.5px,#ec4400 388.5px,#ec4000 389.5px,#ee1900 391.5px,#ef0c00 392.5px,#f00600 393.5px,#e20005 394.5px,#370048 395.5px,#00006c 396.5px,#29004f 397.5px,#be0011 398.5px,#f00200 399.5px,#ef0c00 401.5px,#ed2b00 403.5px,#ed3800 404.5px,#ef0900 458.5px,#f00000 474.5px,#eb0002 475.5px,#6d002e 483.5px,#1e0055 489.5px,#040062 493.5px,#000065 494.5px,#00007b 501.5px,#0000c8 514.5px,#0000c8 584.5px,#0025c7 623.5px,#0076c5 698.5px,#0097c4 736.5px,#00acc3)"></i><i class=b style="background:linear-gradient(#e76f00,#e76b00 234.5px,#e86500 291.5px,#e95c00 342.5px,#eb4c00 377.5px,#ec4400 388.5px,#ec3b00 389.5px,#ef1600 391.5px,#f00500 393.5px,#e00006 394.5px,#380048 395.5px,#000069 396.5px,#35004a 397.5px,#d3000a 398.5px,#f00300 399.5px,#ef1200 401.5px,#ed3100 403.5px,#ed3800 404.5px,#ef0a00 457.5px,#f00000 474.5px,#ed0001 475.5px,#6f002d 483.5px,#200054 489.5px,#170059 490.5px,#000065 494.5px,#00007a 501.5px,#0000c8 514.5px,#0000c8 584.5px,#0024c7 622.5px,#0076c5 698.5px,#0097c4 736.5px,#00acc3)"></i><i class=b style="background:linear-gradient(#e76f00,#e76b00 234.5px,#e86500 291.5px,#e95c00 342.5px,#eb4c00 377.5px,#ec4400 388.5px,#ef1000 391.5px,#f00400 393.5px,#cd000c 394.5px,#34004a 395.5px,#006 396.5px,#410044 397.5px,#d80008 398.5px,#f00400 399.5px,#ef0900 400.5px,#ef1400 401.5px,#ed3600 403.5px,#ed3800 404.5px,#ef0a00 457.5px,#f00000 474.5px,#ef0000 475.5px,#71002c 483.5px,#210054 489.5px,#170058 490.5px,#000065 494.5px,#00007a 501.5px,#0000c8 514.5px,#0000c8 584.5px,#0025c7 622.5px,#0076c5 698.5px,#0097c4 736.5px,#00acc3)"></i><i class=b style="background:linear-gradient(#e76f00,#e76a00 234.5px,#e86500 291.5px,#e95c00 342.5px,#eb4c00 377.5px,#ec4400 388.5px,#ee1d00 390.5px,#ef0e00 391.5px,#f00200 393.5px,#a0001c 394.5px,#270050 395.5px,#0f005c 396.5px,#600034 397.5px,#e30005 398.5px,#f00400 399.5px,#ef0a00 400.5px,#ef1500 401.5px,#ed3800 403.5px,#f00600 463.5px,#f00000 475.5px,#73002b 483.5px,#210053 489.5px,#170058 490.5px,#000065 494.5px,#00007a 501.5px,#0000c7 514.5px,#0000c8 584.5px,#0025c7 622.5px,#0076c5 698.5px,#0097c4 736.5px,#00acc3)"></i><i class=b style="background:linear-gradient(#e76f00,#e76a00 234.5px,#e86500 291.5px,#e95b00 343.5px,#eb4c00 377.5px,#ec4400 388.5px,#ee1b00 390.5px,#ef0d00 391.5px,#f00000 393.5px,#670030 394.5px,#11005b 395.5px,#250051 396.5px,#97001f 397.5px,#f00100 398.5px,#ef0b00 400.5px,#ef1700 401.5px,#ed3900 403.5px,#f00500 464.5px,#f00000 475.5px,#73002b 483.5px,#220053 489.5px,#170058 490.5px,#000065 494.5px,#00007a 501.5px,#0000c7 514.5px,#0000c8 584.5px,#0025c7 622.5px,#0076c5 698.5px,#0097c4 736.5px,#00acc3)"></i><i class=b style="background:linear-gradient(#e76f00,#e76a00 235.5px,#e86500 292.5px,#e95b00 342.5px,#eb4c00 377.5px,#ec4400 388.5px,#ee1b00 390.5px,#ef0d00 391.5px,#f00600 392.5px,#ea0002 393.5px,#470040 394.5px,#000065 395.5px,#32004b 396.5px,#c4000f 397.5px,#f00300 398.5px,#ef0d00 400.5px,#ed2c00 402.5px,#ed3900 403.5px,#f00500 464.5px,#f00000 475.5px,#e30004 476.5px,#74002b 483.5px,#220053 489.5px,#170058 490.5px,#000065 494.5px,#00007a 501.5px,#0000c6 514.5px,#0000c8 515.5px,#0000c8 584.5px,#0025c7 622.5px,#0076c5 698.5px,#0097c4 736.5px,#00acc3)"></i><i class=b style="background:linear-gradient(#e76f00,#e76a00 235.5px,#e86500 292.5px,#e95b00 342.5px,#eb4c00 377.5px,#ec4400 388.5px,#ee1a00 390.5px,#ef0d00 391.5px,#f00600 392.5px,#e70003 393.5px,#3e0045 394.5px,#000067 395.5px,#380048 396.5px,#d70009 397.5px,#f00400 398.5px,#ef1200 400.5px,#ed3200 402.5px,#ed3900 403.5px,#f00500 464.5px,#f00000 475.5px,#e30004 476.5px,#73002b 483.5px,#220053 489.5px,#170058 490.5px,#000065 494.5px,#00007a 501.5px,#0000c6 514.5px,#0000c8 515.5px,#0000c8 583.5px,#0025c7 622.5px,#0076c5 698.5px,#0097c4 736.5px,#00acc3)"></i><i class=b style="background:linear-gradient(#e76f00,#e76a00 235.5px,#e86500 292.5px,#e95b00 342.5px,#eb4c00 377.5px,#ec4400 388.5px,#ee1a00 390.5px,#ef0d00 391.5px,#f00600 392.5px,#e70003 393.5px,#420043 394.5px,#030063 395.5px,#440042 396.5px,#dc0007 397.5px,#f00400 398.5px,#ef0a00 399.5px,#ef1500 400.5px,#ed3700 402.5px,#ed3900 403.5px,#f00500 464.5px,#f00000 475.5px,#e30005 476.5px,#73002b 483.5px,#210053 489.5px,#170058 490.5px,#000065 494.5px,#000079 501.5px,#0000c8 515.5px,#0000c8 583.5px,#0025c7 622.5px,#0076c5 698.5px,#0097c4 736.5px,#00acc3)"></i><i class=b style="background:linear-gradient(#e76e00,#e76a00 235.5px,#e86400 292.5px,#e95b00 342.5px,#eb4c00 377.5px,#ec4400 388.5px,#ee1b00 390.5px,#ef0d00 391.5px,#f00600 392.5px,#e90003 393.5px,#4f003c 394.5px,#200054 395.5px,#660031 396.5px,#e70003 397.5px,#f00500 398.5px,#ef0a00 399.5px,#ef1600 400.5px,#ed3900 402.5px,#f00500 464.5px,#f00000 475.5px,#e30005 476.5px,#73002b 483.5px,#210053 489.5px,#170058 490.5px,#000065 494.5px,#000078 501.5px,#0000c8 515.5px,#0000c8 583.5px,#0025c7 622.5px,#0076c5 698.5px,#0097c4 736.5px,#00acc3)"></i><i class=b style="background:linear-gradient(#e76e00,#e76a00 235.5px,#e86400 292.5px,#e95b00 342.5px,#eb4c00 377.5px,#ec4400 388.5px,#ee1b00 390.5px,#ef0d00 391.5px,#f00600 392.5px,#ea0002 393.5px,#600034 394.5px,#460041 395.5px,#a1001b 396.5px,#f00100 397.5px,#ef0b00 399.5px,#ef1800 400.5px,#ed3900 402.5px,#f00500 464.5px,#f00000 475.5px,#73002b 483.5px,#220053 489.5px,#180058 490.5px,#000064 494.5px,#000078 501.5px,#0000c8 515.5px,#0000c8 583.5px,#0025c7 622.5px,#0076c5 698.5px,#0098c4 736.5px,#00acc3)"></i><i class=b style="background:linear-gradient(#e76e00,#e86a00 235.5px,#e86400 292.5px,#e95b00 342.5px,#eb4c00 377.5px,#ec4400 388.5px,#ee1b00 390.5px,#ef0d00 391.5px,#f00600 392.5px,#eb0002 393.5px,#6a002f 394.5px,#610034 395.5px,#d2000a 396.5px,#f00300 397.5px,#ef0d00 399.5px,#ed2d00 401.5px,#ed3900 402.5px,#f00500 464.5px,#f00000 475.5px,#73002b 483.5px,#220053 489.5px,#180058 490.5px,#000064 494.5px,#007 501.5px,#0000c7 515.5px,#0000c8 583.5px,#0025c7 622.5px,#0076c5 698.5px,#0098c4 736.5px,#00acc3)"></i><i class=b style="background:linear-gradient(#e76e00,#e86900 236.5px,#e86400 292.5px,#e95b00 342.5px,#eb4c00 377.5px,#ec4400 388.5px,#ee1b00 390.5px,#ef0d00 391.5px,#f00600 392.5px,#ec0002 393.5px,#6f002d 394.5px,#6c002e 395.5px,#e00006 396.5px,#f00400 397.5px,#ef1300 399.5px,#ed3300 401.5px,#ed3900 402.5px,#f00500 464.5px,#f00000 475.5px,#74002b 483.5px,#230052 489.5px,#180058 490.5px,#010064 494.5px,#00007b 502.5px,#0000c7 515.5px,#0000c8 516.5px,#0000c8 583.5px,#0025c7 622.5px,#0076c5 698.5px,#0098c4 736.5px,#00acc3)"></i><i class=b style="background:linear-gradient(#e76e00,#e86900 236.5px,#e86400 293.5px,#e95b00 342.5px,#eb4c00 377.5px,#ec4400 388.5px,#ee1b00 390.5px,#ef0d00 391.5px,#f00600 392.5px,#ec0001 393.5px,#73002b 394.5px,#75002b 395.5px,#e40004 396.5px,#f00400 397.5px,#ef0a00 398.5px,#ef1500 399.5px,#ed3800 401.5px,#ed3900 402.5px,#f00500 464.5px,#f00000 475.5px,#e30005 476.5px,#75002b 483.5px,#250051 489.5px,#190057 490.5px,#020063 494.5px,#00007a 502.5px,#0000c6 515.5px,#0000c8 516.5px,#0000c8 583.5px,#0025c7 622.5px,#0076c5 698.5px,#0097c4 735.5px,#00acc3)"></i><i class=b style="background:linear-gradient(#e76e00,#e86900 236.5px,#e86400 293.5px,#e95b00 342.5px,#eb4b00 378.5px,#ec4400 388.5px,#ee1b00 390.5px,#ef0d00 391.5px,#f00600 392.5px,#ed0001 393.5px,#800027 394.5px,#900021 395.5px,#ee0001 396.5px,#f00500 397.5px,#ef0b00 398.5px,#ef1700 399.5px,#ec3a00 401.5px,#f00500 464.5px,#f00000 475.5px,#e40004 476.5px,#680030 484.5px,#1a0057 490.5px,#030063 494.5px,#000065 495.5px,#00007a 502.5px,#0000c6 515.5px,#0000c8 516.5px,#0000c8 583.5px,#0025c7 622.5px,#0076c5 698.5px,#0097c4 735.5px,#00acc3)"></i><i class=b style="background:linear-gradient(#e76e00,#e86900 236.5px,#e86400 293.5px,#e95a00 342.5px,#eb4b00 378.5px,#ec4400 388.5px,#ee1b00 390.5px,#ef0d00 391.5px,#f00600 392.5px,#ee0001 393.5px,#950020 394.5px,#bd0011 395.5px,#f00200 396.5px,#ef0b00 398.5px,#ef1900 399.5px,#ec3a00 401.5px,#f00500 464.5px,#f00000 475.5px,#e60004 476.5px,#6a002f 484.5px,#1d0056 490.5px,#000065 495.5px,#00007a 502.5px,#0000c6 515.5px,#0000c8 516.5px,#0000c8 583.5px,#0025c7 621.5px,#0076c5 698.5px,#0097c4 735.5px,#00acc3)"></i><i class=b style="background:linear-gradient(#e76e00,#e86900 236.5px,#e86400 293.5px,#e95a00 344.5px,#eb4b00 378.5px,#ec4400 388.5px,#ee1b00 390.5px,#ef0d00 391.5px,#f00000 393.5px,#a4001a 394.5px,#e20005 395.5px,#f00300 396.5px,#ef0d00 398.5px,#ed2e00 400.5px,#ec3a00 401.5px,#f00500 464.5px,#f00000 475.5px,#e80003 476.5px,#6c002e 484.5px,#1f0055 490.5px,#000065 495.5px,#00007a 502.5px,#0000c5 515.5px,#0000c8 516.5px,#0000c8 583.5px,#0025c7 621.5px,#0076c5 698.5px,#0097c4 735.5px,#00acc3)"></i><i class=b style="background:linear-gradient(#e76e00,#e86900 236.5px,#e86300 293.5px,#e95a00 344.5px,#eb4b00 378.5px,#ec4400 388.5px,#ee1b00 390.5px,#ef0d00 391.5px,#f00000 393.5px,#ac0018 394.5px,#e80003 395.5px,#f00400 396.5px,#ef1300 398.5px,#ed3300 400.5px,#ec3a00 401.5px,#f00500 464.5px,#f00000 475.5px,#ea0002 476.5px,#6e002d 484.5px,#200054 490.5px,#170059 491.5px,#000065 495.5px,#000079 502.5px,#0000c5 515.5px,#0000c8 516.5px,#0000c8 583.5px,#0025c7 621.5px,#0075c5 697.5px,#0097c4 735.5px,#00acc3)"></i><i class=b style="background:linear-gradient(#e76d00,#e86900 236.5px,#e86300 293.5px,#e95b00 338.5px,#ea5000 368.5px,#ec4400 388.5px,#ee1b00 390.5px,#ef0d00 391.5px,#f00000 393.5px,#b40015 394.5px,#ec0001 395.5px,#ef0b00 397.5px,#ef1600 398.5px,#ed3800 400.5px,#ec3a00 401.5px,#f00500 464.5px,#f00000 475.5px,#ec0002 476.5px,#6f002c 484.5px,#200054 490.5px,#170059 491.5px,#000065 495.5px,#000079 502.5px,#0000c5 515.5px,#0000c8 516.5px,#0000c8 582.5px,#0025c7 621.5px,#0075c5 697.5px,#0097c4 735.5px,#00acc3)"></i><i class=b style="background:linear-gradient(#e76d00,#e86800 237.5px,#e86300 293.5px,#e95b00 338.5px,#ea5000 368.5px,#ec4400 388.5px,#ee1b00 390.5px,#ef0d00 391.5px,#f00100 393.5px,#cf000b 394.5px,#f00100 395.5px,#ef0b00 397.5px,#ef1700 398.5px,#ec3b00 400.5px,#f00600 464.5px,#f00000 475.5px,#ed0001 476.5px,#70002c 484.5px,#200054 490.5px,#170059 491.5px,#000065 495.5px,#000079 502.5px,#0000c5 515.5px,#0000c8 516.5px,#0000c8 582.5px,#0025c7 621.5px,#0076c5 697.5px,#0097c4 735.5px,#00acc3)"></i><i class=b style="background:linear-gradient(#e76d00,#e86800 237.5px,#e86300 293.5px,#e95b00 338.5px,#ea5000 368.5px,#ec4400 388.5px,#ee1b00 390.5px,#ef0d00 391.5px,#f00100 393.5px,#ed0001 394.5px,#ef0c00 397.5px,#ee1900 398.5px,#ec3b00 400.5px,#f00600 464.5px,#f00000 475.5px,#ed0001 476.5px,#70002c 484.5px,#200054 490.5px,#170059 491.5px,#000065 495.5px,#000079 502.5px,#0000c5 515.5px,#0000c8 516.5px,#0000c8 582.5px,#0025c7 621.5px,#0076c5 697.5px,#0097c4 735.5px,#00acc3)"></i><i class=b style="background:linear-gradient(#e76d00,#e86800 237.5px,#e86300 293.5px,#e95b00 339.5px,#eb4f00 370.5px,#ec4400 388.5px,#ee1b00 390.5px,#ef0d00 391.5px,#f00200 393.5px,#f00100 394.5px,#ef0e00 397.5px,#ed2e00 399.5px,#ec3b00 400.5px,#f00600 464.5px,#f00000 475.5px,#ed0001 476.5px,#70002c 484.5px,#200054 490.5px,#170059 491.5px,#000065 495.5px,#000079 502.5px,#0000c5 515.5px,#0000c8 516.5px,#0000c8 582.5px,#0025c7 621.5px,#0076c5 697.5px,#0097c4 735.5px,#00acc3)"></i><i class=b style="background:linear-gradient(#e76d00,#e86800 237.5px,#e86300 293.5px,#e95a00 339.5px,#eb4f00 370.5px,#ec4400 388.5px,#ee1b00 390.5px,#ef0d00 391.5px,#f00200 393.5px,#f00200 394.5px,#ef0a00 396.5px,#ef1400 397.5px,#ed3400 399.5px,#ec3b00 400.5px,#f00600 464.5px,#f00000 475.5px,#ed0001 476.5px,#70002c 484.5px,#200054 490.5px,#170059 491.5px,#000065 495.5px,#000079 502.5px,#0000c8 516.5px,#0000c8 582.5px,#0025c7 621.5px,#0076c5 697.5px,#0097c4 735.5px,#00acc3)"></i><i class=b style="background:linear-gradient(#e76d00,#e86800 237.5px,#e86300 293.5px,#e95a00 339.5px,#eb4f00 370.5px,#ec4400 388.5px,#ee1b00 390.5px,#ef0d00 391.5px,#f00200 393.5px,#f00200 394.5px,#ef0b00 396.5px,#ef1600 397.5px,#ed3900 399.5px,#ec3b00 400.5px,#f00600 464.5px,#f00000 475.5px,#ed0001 476.5px,#70002c 484.5px,#200054 490.5px,#170059 491.5px,#000065 495.5px,#000079 502.5px,#0000c8 516.5px,#0000c8 582.5px,#0025c7 621.5px,#0076c5 697.5px,#0097c4 735.5px,#00acc3)"></i><i class=b style="background:linear-gradient(#e76d00,#e86800 237.5px,#e86300 293.5px,#e95a00 339.5px,#eb4f00 370.5px,#ec4400 388.5px,#ee1b00 390.5px,#ef0d00 391.5px,#f00200 393.5px,#f00200 394.5px,#ef0b00 396.5px,#ef1800 397.5px,#ec3c00 399.5px,#f00600 464.5px,#f00000 475.5px,#ed0001 476.5px,#70002c 484.5px,#200054 490.5px,#170059 491.5px,#000065 495.5px,#000079 502.5px,#0000c8 516.5px,#0000c8 582.5px,#0025c7 621.5px,#0076c5 697.5px,#0097c4 735.5px,#00acc3)"></i><i class=b style="background:linear-gradient(#e76d00,#e86800 237.5px,#e86200 293.5px,#e95a00 339.5px,#eb4f00 370.5px,#ec4400 388.5px,#ee1b00 390.5px,#ef0d00 391.5px,#f00300 393.5px,#f00400 394.5px,#ef0c00 396.5px,#ee1a00 397.5px,#ec3c00 399.5px,#f00600 464.5px,#f00000 475.5px,#ec0001 476.5px,#6f002d 484.5px,#200054 490.5px,#170059 491.5px,#000065 495.5px,#000079 502.5px,#0000c8 516.5px,#0000c8 582.5px,#0025c7 621.5px,#0076c5 697.5px,#0097c4 735.5px,#00acc3)"></i><i class=b style="background:linear-gradient(#e76d00,#e86800 237.5px,#e86200 293.5px,#e95a00 339.5px,#eb4f00 370.5px,#ec4400 388.5px,#ee1b00 390.5px,#ef0d00 391.5px,#f00400 393.5px,#ef0e00 396.5px,#ed2f00 398.5px,#ec3c00 399.5px,#f00600 464.5px,#f00000 475.5px,#ec0001 476.5px,#6f002d 484.5px,#200054 490.5px,#170059 491.5px,#000065 495.5px,#000079 502.5px,#0000c8 516.5px,#0000c8 582.5px,#0025c7 621.5px,#0076c5 697.5px,#0097c4 735.5px,#00acc3)"></i><i class=b style="background:linear-gradient(#e76c00,#e86800 237.5px,#e86200 293.5px,#e95a00 339.5px,#eb4f00 370.5px,#ec4400 388.5px,#ee1b00 390.5px,#ef0d00 391.5px,#f00500 393.5px,#ef0b00 395.5px,#ef1500 396.5px,#ed3500 398.5px,#ec3c00 399.5px,#f00600 464.5px,#f00000 475.5px,#eb0002 476.5px,#6f002d 484.5px,#200054 490.5px,#170059 491.5px,#000065 495.5px,#000078 502.5px,#0000c7 516.5px,#0000c8 582.5px,#0025c7 621.5px,#0076c5 697.5px,#0097c4 735.5px,#00acc3)"></i><i class=b style="background:linear-gradient(#e76c00,#e86700 237.5px,#e86200 293.5px,#e95a00 339.5px,#eb4e00 370.5px,#ec4400 388.5px,#ee1d00 390.5px,#ef0f00 391.5px,#f00800 393.5px,#ef0d00 395.5px,#ee1900 396.5px,#ec3b00 398.5px,#ec3c00 399.5px,#f00600 464.5px,#f00000 475.5px,#eb0002 476.5px,#6f002d 484.5px,#200054 490.5px,#170059 491.5px,#000065 495.5px,#000078 502.5px,#0000c6 516.5px,#0000c8 517.5px,#0000c8 581.5px,#0025c7 620.5px,#0076c5 697.5px,#0097c4 735.5px,#00acc3)"></i><i class=b style="background:linear-gradient(#e76c00,#e86700 237.5px,#e86200 293.5px,#e95a00 339.5px,#eb4e00 370.5px,#ec4400 388.5px,#ef1500 391.5px,#ef0e00 392.5px,#ef0d00 393.5px,#ef0e00 394.5px,#ef1300 395.5px,#ec3d00 398.5px,#f00600 464.5px,#f00000 475.5px,#eb0002 476.5px,#6f002d 484.5px,#200054 490.5px,#170059 491.5px,#000064 495.5px,#007 502.5px,#0000c5 516.5px,#0000c8 517.5px,#0000c8 581.5px,#0025c7 620.5px,#0076c5 697.5px,#0097c4 735.5px,#00acc3)"></i><i class=b style="background:linear-gradient(#e76c00,#e86700 237.5px,#e86200 293.5px,#e95a00 339.5px,#eb4e00 371.5px,#ec4400 388.5px,#ec3e00 389.5px,#ee2300 391.5px,#ee1c00 392.5px,#ee1a00 393.5px,#ee2100 395.5px,#ed3800 397.5px,#ec3d00 398.5px,#f00600 464.5px,#f00000 475.5px,#eb0002 476.5px,#6f002d 484.5px,#210054 490.5px,#170058 491.5px,#000064 495.5px,#00007b 503.5px,#0000c8 517.5px,#0000c8 581.5px,#0025c7 620.5px,#0076c5 697.5px,#0097c4 735.5px,#00acc3)"></i><i class=b style="background:linear-gradient(#e76c00,#e86700 237.5px,#e86200 293.5px,#e95900 339.5px,#eb4a00 379.5px,#ec4300 389.5px,#ed3400 391.5px,#ed2d00 393.5px,#ed3100 395.5px,#ec3d00 397.5px,#f00600 464.5px,#f00000 475.5px,#eb0002 476.5px,#6f002c 484.5px,#220053 490.5px,#180058 491.5px,#010064 495.5px,#00007a 503.5px,#0000c8 517.5px,#0000c8 581.5px,#0025c7 620.5px,#0076c5 697.5px,#0097c4 735.5px,#00acc3)"></i><i class=b style="background:linear-gradient(#e76c00,#e86700 237.5px,#e86200 293.5px,#e95900 339.5px,#eb4a00 379.5px,#ed3600 408.5px,#f00600 464.5px,#f00000 475.5px,#eb0002 476.5px,#71002c 484.5px,#230052 490.5px,#190058 491.5px,#020063 495.5px,#000079 503.5px,#0000c8 517.5px,#0000c8 581.5px,#0025c7 620.5px,#0076c5 697.5px,#0097c4 735.5px,#00acc3)"></i><i class=b style="background:linear-gradient(#e76c00,#e86700 237.5px,#e86200 293.5px,#e95900 339.5px,#eb4a00 379.5px,#ed3600 408.5px,#f00600 464.5px,#f00000 475.5px,#ec0001 476.5px,#72002b 484.5px,#1a0057 491.5px,#030063 495.5px,#000065 496.5px,#000079 503.5px,#0000c8 517.5px,#0000c8 581.5px,#0025c7 620.5px,#0076c5 697.5px,#0097c4 735.5px,#00acc3)"></i><i class=b style="background:linear-gradient(#e76c00,#e86700 237.5px,#e86100 293.5px,#e95900 339.5px,#eb4a00 379.5px,#ed3600 408.5px,#f00600 464.5px,#f00000 475.5px,#ee0001 476.5px,#75002b 484.5px,#1b0056 491.5px,#000065 496.5px,#000079 503.5px,#0000c8 517.5px,#0000c8 581.5px,#0025c7 620.5px,#0076c5 697.5px,#0097c4 735.5px,#00acc3)"></i><i class=b style="background:linear-gradient(#e76c00,#e86600 237.5px,#e86100 293.5px,#e95900 339.5px,#eb4a00 379.5px,#ed3600 408.5px,#f00600 464.5px,#f00000 475.5px,#f00000 476.5px,#690030 485.5px,#1d0055 491.5px,#000065 496.5px,#000078 503.5px,#0000c8 517.5px,#0000c8 581.5px,#0025c7 620.5px,#0076c5 697.5px,#0097c4 735.5px,#00acc3)"></i><i class=b style="background:linear-gradient(#e76b00,#e86600 237.5px,#e86100 293.5px,#e95900 339.5px,#eb4a00 379.5px,#ed3600 408.5px,#f00500 465.5px,#f00000 476.5px,#6b002f 485.5px,#1e0055 491.5px,#000065 496.5px,#000078 503.5px,#0000c8 517.5px,#0000c8 581.5px,#0025c7 620.5px,#0076c5 697.5px,#0097c4 735.5px,#00acc3)"></i><i class=b style="background:linear-gradient(#e76b00,#e86600 237.5px,#e86100 294.5px,#e95900 339.5px,#eb4a00 379.5px,#ed3600 408.5px,#f00500 465.5px,#f00000 476.5px,#e40004 477.5px,#6c002e 485.5px,#1f0055 491.5px,#000065 496.5px,#000078 503.5px,#0000c8 517.5px,#0000c8 581.5px,#0025c7 620.5px,#0076c5 697.5px,#0097c4 735.5px,#00acc3)"></i><i class=b style="background:linear-gradient(#e76b00,#e86600 237.5px,#e96100 294.5px,#e95900 339.5px,#eb4a00 379.5px,#ed3600 408.5px,#f00500 465.5px,#f00000 476.5px,#e50004 477.5px,#6c002e 485.5px,#1f0055 491.5px,#160059 492.5px,#000065 496.5px,#000078 503.5px,#0000c8 517.5px,#0000c8 580.5px,#0025c7 620.5px,#0076c5 697.5px,#0097c4 735.5px,#00acc3)"></i><i class=b style="background:linear-gradient(#e76b00,#e86600 237.5px,#e95800 339.5px,#eb4a00 379.5px,#ed3600 408.5px,#f00500 465.5px,#f00000 476.5px,#e60003 477.5px,#6c002e 485.5px,#1f0055 491.5px,#160059 492.5px,#000065 496.5px,#000078 503.5px,#0000c7 517.5px,#0000c8 580.5px,#0025c7 620.5px,#0075c5 696.5px,#0097c4 735.5px,#00acc3)"></i><i class=b style="background:linear-gradient(#e76b00,#e86600 237.5px,#e95800 339.5px,#eb4a00 379.5px,#ed3600 408.5px,#f00500 465.5px,#f00000 476.5px,#e60003 477.5px,#6c002e 485.5px,#1f0055 491.5px,#160059 492.5px,#000065 496.5px,#000078 503.5px,#0000c7 517.5px,#0000c8 580.5px,#0025c7 619.5px,#0076c5 696.5px,#0097c4 735.5px,#00acc3)"></i><i class=b style="background:linear-gradient(#e76b00,#e86600 238.5px,#e95800 339.5px,#eb4a00 379.5px,#ed3600 408.5px,#f00500 465.5px,#f00000 476.5px,#e60003 477.5px,#6c002e 485.5px,#1f0055 491.5px,#160059 492.5px,#000065 496.5px,#000078 503.5px,#0000c7 517.5px,#0000c8 580.5px,#0025c7 619.5px,#0076c5 696.5px,#0097c4 735.5px,#00acc3)"></i><i class=b style="background:linear-gradient(#e76b00,#e86600 238.5px,#e95800 339.5px,#eb4a00 379.5px,#ed3600 408.5px,#f00500 465.5px,#f00000 476.5px,#e60004 477.5px,#6c002e 485.5px,#1f0055 491.5px,#000065 496.5px,#000078 503.5px,#0000c7 517.5px,#0000c8 580.5px,#0025c7 619.5px,#0076c5 696.5px,#0097c4 735.5px,#00acc3)"></i><i class=b style="background:linear-gradient(#e76b00,#e86500 238.5px,#ea5800 340.5px,#eb4a00 379.5px,#ed3600 408.5px,#f00500 465.5px,#f00000 476.5px,#e50004 477.5px,#6c002e 485.5px,#1f0055 491.5px,#000065 496.5px,#000078 503.5px,#0000c7 517.5px,#0000c8 518.5px,#0000c8 580.5px,#0025c7 619.5px,#0076c5 696.5px,#0098c4 735.5px,#00acc3)"></i><i class=b style="background:linear-gradient(#e76b00,#e86500 238.5px,#ea5800 340.5px,#eb4a00 379.5px,#ed3600 408.5px,#f00500 465.5px,#f00000 476.5px,#e50004 477.5px,#6c002e 485.5px,#1f0055 491.5px,#000065 496.5px,#000078 503.5px,#0000c7 517.5px,#0000c8 518.5px,#0000c8 580.5px,#0025c7 619.5px,#0076c5 696.5px,#0098c4 735.5px,#00acc3)"></i><i class=b style="background:linear-gradient(#e76a00,#e86500 238.5px,#ea5800 340.5px,#eb4a00 379.5px,#ed3600 408.5px,#f00500 465.5px,#f00000 476.5px,#e50004 477.5px,#6c002e 485.5px,#1e0055 491.5px,#000065 496.5px,#000078 503.5px,#0000c6 517.5px,#0000c8 518.5px,#0000c8 580.5px,#0025c7 619.5px,#0076c5 696.5px,#0097c4 734.5px,#00aac3 773.5px,#00acc3)"></i><i class=b style="background:linear-gradient(#e76a00,#e86500 238.5px,#ea5800 340.5px,#eb4a00 379.5px,#ed3600 408.5px,#f00500 465.5px,#f00000 476.5px,#e40004 477.5px,#6b002e 485.5px,#1e0055 491.5px,#000065 496.5px,#000078 503.5px,#0000c6 517.5px,#0000c8 518.5px,#0000c8 580.5px,#0025c7 619.5px,#0076c5 696.5px,#0097c4 734.5px,#00aac3 773.5px,#00acc3)"></i><i style="background:linear-gradient(#e76a00,#e86500 238.5px,#ea5700 340.5px,#eb4a00 379.5px,#ed3700 408.5px,#f00500 465.5px,#f00000 476.5px,#6b002f 485.5px,#1e0055 491.5px,#000065 496.5px,#000078 503.5px,#0000c6 517.5px,#0000c8 518.5px,#0000c8 579.5px,#0025c7 619.5px,#0076c5 696.5px,#0097c4 734.5px,#00aac3 773.5px,#00acc3)"></i><i style="background:linear-gradient(#e76a00,#e86400 238.5px,#ea5700 340.5px,#eb4900 379.5px,#ed3700 408.5px,#f00500 465.5px,#f00000 476.5px,#6a002f 485.5px,#1e0055 491.5px,#000065 496.5px,#000078 503.5px,#0000c5 517.5px,#0000c8 518.5px,#0000c8 579.5px,#0025c7 618.5px,#0076c5 696.5px,#0097c4 734.5px,#00aac3 773.5px,#00acc3)"></i><i style="background:linear-gradient(#e86900,#e86400 238.5px,#ea5600 340.5px,#eb4900 379.5px,#ed3700 408.5px,#f00500 465.5px,#f00000 475.5px,#ef0000 476.5px,#6a002f 485.5px,#1e0055 491.5px,#000065 496.5px,#000078 503.5px,#0000c8 518.5px,#0000c8 579.5px,#0025c7 618.5px,#0076c5 696.5px,#0097c4 734.5px,#00aac3 773.5px,#00acc3)"></i><i style="background:linear-gradient(#e86900,#e86300 238.5px,#ea5600 341.5px,#eb4900 379.5px,#ed3700 408.5px,#f00500 465.5px,#f00000 475.5px,#ef0000 476.5px,#69002f 485.5px,#1e0055 491.5px,#000065 496.5px,#000078 503.5px,#0000c8 518.5px,#0000c8 578.5px,#0025c7 618.5px,#0075c5 695.5px,#0097c4 734.5px,#00aac3 773.5px,#00acc3)"></i><i style="background:linear-gradient(#e86800,#e86300 238.5px,#ea5500 341.5px,#eb4900 379.5px,#ed3700 408.5px,#f00500 465.5px,#f00000 475.5px,#ef0000 476.5px,#69002f 485.5px,#1e0055 491.5px,#000065 496.5px,#000078 503.5px,#0000c8 518.5px,#0000c8 578.5px,#0025c7 618.5px,#0076c5 695.5px,#0097c4 734.5px,#00aac3 773.5px,#00acc3)"></i><i style="background:linear-gradient(#e86800,#e86200 238.5px,#e95d00 294.5px,#ea5400 342.5px,#eb4900 379.5px,#ed3700 408.5px,#f00500 465.5px,#f00000 475.5px,#ef0000 476.5px,#6a002f 485.5px,#1e0055 491.5px,#000064 496.5px,#00007b 504.5px,#0000c7 518.5px,#0000c8 519.5px,#0000c8 578.5px,#0025c7 617.5px,#0076c5 695.5px,#0097c4 734.5px,#00aac3 773.5px,#00acc3)"></i><i style="background:linear-gradient(#e86700,#e86200 238.5px,#ea5400 342.5px,#eb4800 379.5px,#ed3700 408.5px,#f00500 465.5px,#f00000 476.5px,#6d002e 485.5px,#230053 491.5px,#190058 492.5px,#020063 496.5px,#000078 504.5px,#0000c5 518.5px,#0000c8 519.5px,#0000c8 577.5px,#0025c7 617.5px,#0076c5 695.5px,#0097c4 734.5px,#00aac3 773.5px,#00acc3)"></i><i style="background:linear-gradient(#e86700,#e86100 238.5px,#e95c00 294.5px,#ea5300 343.5px,#eb4800 379.5px,#ed3700 408.5px,#f00600 465.5px,#f00000 476.5px,#eb0002 477.5px,#75002b 485.5px,#1d0056 492.5px,#000065 497.5px,#000078 504.5px,#0000c8 519.5px,#0000c8 577.5px,#0025c7 617.5px,#0076c5 695.5px,#0098c4 734.5px,#00aac3 773.5px,#00acc3)"></i><i style="background:linear-gradient(#e86700,#e96100 238.5px,#ea5300 343.5px,#eb4800 379.5px,#ed3700 408.5px,#f00500 466.5px,#f00000 476.5px,#ef0000 477.5px,#69002f 486.5px,#1e0055 492.5px,#000065 497.5px,#000078 504.5px,#0000c8 519.5px,#0000c8 576.5px,#0025c7 616.5px,#0076c5 695.5px,#0097c4 733.5px,#00aac3 773.5px,#00acc3)"></i><i style="background:linear-gradient(#e86600,#e96000 238.5px,#ea5200 344.5px,#eb4800 380.5px,#ed3700 409.5px,#f00500 466.5px,#f00000 476.5px,#ef0000 477.5px,#69002f 486.5px,#1e0055 492.5px,#000065 497.5px,#000078 504.5px,#0000c8 519.5px,#0000c8 576.5px,#0025c7 616.5px,#0076c5 694.5px,#0097c4 733.5px,#00aac3 773.5px,#00acc3)"></i><i style="background:linear-gradient(#e86600,#e96000 239.5px,#ea5200 345.5px,#eb4700 380.5px,#ed3700 409.5px,#f00500 466.5px,#f00000 476.5px,#ef0000 477.5px,#69002f 486.5px,#1e0055 492.5px,#000065 497.5px,#000078 504.5px,#0000c8 519.5px,#0000c8 576.5px,#0025c7 616.5px,#0076c5 694.5px,#0097c4 733.5px,#00aac3 773.5px,#00acc3)"></i><i style="background:linear-gradient(#e86500,#e95f00 239.5px,#e95a00 295.5px,#ea5100 346.5px,#eb4700 380.5px,#ed3700 409.5px,#f00500 466.5px,#f00000 476.5px,#ef0000 477.5px,#69002f 486.5px,#1e0055 492.5px,#000065 497.5px,#000078 504.5px,#0000c8 519.5px,#0000c8 575.5px,#0025c7 615.5px,#0076c5 694.5px,#0097c4 733.5px,#00aac3 773.5px,#00acc3)"></i><i style="background:linear-gradient(#e86500,#e95f00 239.5px,#e95a00 295.5px,#ea5000 347.5px,#eb4700 380.5px,#ed3700 409.5px,#f00600 466.5px,#f00000 476.5px,#ef0000 477.5px,#69002f 486.5px,#1e0055 492.5px,#000065 497.5px,#000078 504.5px,#0000c8 519.5px,#0000c8 575.5px,#0025c7 615.5px,#0076c5 694.5px,#0097c4 733.5px,#00aac3 773.5px,#00acc3)"></i><i style="background:linear-gradient(#e86400,#e95e00 239.5px,#e95900 295.5px,#ea5000 349.5px,#eb4700 380.5px,#ed3700 409.5px,#f00600 466.5px,#f00000 476.5px,#ef0000 477.5px,#69002f 486.5px,#1e0055 492.5px,#000065 497.5px,#000078 504.5px,#0000c8 519.5px,#0000c8 574.5px,#0025c7 615.5px,#0076c5 694.5px,#0097c4 733.5px,#00aac3 773.5px,#00acc3)"></i><i style="background:linear-gradient(#e86400,#e95e00 239.5px,#e95900 295.5px,#eb4f00 351.5px,#eb4700 380.5px,#ed3700 409.5px,#f00600 466.5px,#f00000 476.5px,#ef0000 477.5px,#69002f 486.5px,#1e0055 492.5px,#000065 497.5px,#000078 504.5px,#0000c8 519.5px,#0000c8 574.5px,#0025c7 614.5px,#0076c5 693.5px,#0097c4 733.5px,#00aac3 772.5px,#00acc3)"></i><i style="background:linear-gradient(#e86400,#e95d00 239.5px,#e95800 295.5px,#eb4e00 352.5px,#eb4700 380.5px,#ed3700 409.5px,#f00600 466.5px,#f00000 476.5px,#ef0000 477.5px,#69002f 486.5px,#1e0055 492.5px,#000065 497.5px,#000078 504.5px,#0000c8 519.5px,#0000c8 574.5px,#0025c7 614.5px,#0076c5 693.5px,#0098c4 733.5px,#00aac3 772.5px,#00acc3)"></i><i style="background:linear-gradient(#e86300,#e95d00 239.5px,#ea5800 295.5px,#eb4e00 352.5px,#ec4600 380.5px,#ed3700 409.5px,#f00600 466.5px,#f00000 476.5px,#ef0000 477.5px,#69002f 486.5px,#1e0055 492.5px,#000065 497.5px,#000078 504.5px,#0000c8 519.5px,#0000c8 573.5px,#0025c7 614.5px,#0076c5 693.5px,#0097c4 732.5px,#00aac3 772.5px,#00acc3)"></i><i style="background:linear-gradient(#e86300,#e95c00 239.5px,#ea5700 295.5px,#eb4d00 352.5px,#ec4600 380.5px,#ed3700 409.5px,#f00600 466.5px,#f00000 476.5px,#ef0000 477.5px,#69002f 486.5px,#1e0055 492.5px,#000065 497.5px,#000078 504.5px,#0000c8 519.5px,#0000c8 573.5px,#0025c7 613.5px,#0076c5 693.5px,#0097c4 732.5px,#00aac3 772.5px,#00acc3)"></i><i style="background:linear-gradient(#e86200,#e95c00 239.5px,#ea5700 295.5px,#eb4d00 352.5px,#ec4600 380.5px,#ed3700 409.5px,#f00600 466.5px,#f00000 476.5px,#ef0000 477.5px,#69002f 486.5px,#1e0055 492.5px,#000065 497.5px,#000078 504.5px,#0000c8 519.5px,#0000c8 573.5px,#0025c7 613.5px,#0076c5 693.5px,#0097c4 732.5px,#00aac3 772.5px,#00acc3)"></i><i style="background:linear-gradient(#e86200,#e95c00 239.5px,#ea5600 295.5px,#eb4d00 352.5px,#ec4500 380.5px,#ed3600 409.5px,#f00500 466.5px,#f00000 476.5px,#ef0000 477.5px,#69002f 486.5px,#1e0055 492.5px,#000065 497.5px,#000078 504.5px,#0000c8 519.5px,#0000c8 572.5px,#0025c7 613.5px,#0075c5 692.5px,#0097c4 732.5px,#00aac3 772.5px,#00acc3)"></i><i style="background:linear-gradient(#e86200,#e95b00 239.5px,#ea5600 295.5px,#eb4c00 352.5px,#ec4500 380.5px,#ed3600 409.5px,#f00500 466.5px,#f00000 476.5px,#ef0000 477.5px,#69002f 486.5px,#1e0055 492.5px,#000065 497.5px,#000078 504.5px,#0000c8 519.5px,#0000c8 572.5px,#0025c7 612.5px,#0076c5 692.5px,#0097c4 732.5px,#00aac3 772.5px,#00acc3)"></i><i style="background:linear-gradient(#e86100,#e95b00 239.5px,#ea5500 295.5px,#eb4c00 352.5px,#ec4500 380.5px,#ed3600 409.5px,#f00500 466.5px,#f00000 476.5px,#ef0000 477.5px,#69002f 486.5px,#1e0055 492.5px,#000065 497.5px,#000078 504.5px,#0000c8 519.5px,#0000c8 571.5px,#0025c7 612.5px,#0076c5 692.5px,#0097c4 732.5px,#00aac3 772.5px,#00acc3)"></i><i style="background:linear-gradient(#e86100,#e95a00 239.5px,#ea5500 295.5px,#eb4b00 352.5px,#ec4400 380.5px,#ed3600 409.5px,#f00500 466.5px,#f00000 476.5px,#ef0000 477.5px,#69002f 486.5px,#1e0055 492.5px,#000065 497.5px,#000078 504.5px,#0000c8 519.5px,#0000c8 571.5px,#0025c7 612.5px,#0076c5 692.5px,#0097c4 732.5px,#00aac3 772.5px,#00acc3)"></i><i style="background:linear-gradient(#e96000,#e95a00 239.5px,#eb4b00 352.5px,#ec4400 380.5px,#ed3500 409.5px,#f00500 466.5px,#f00000 476.5px,#ef0000 477.5px,#69002f 486.5px,#1e0055 492.5px,#000065 497.5px,#000078 504.5px,#0000c8 519.5px,#0000c8 571.5px,#0025c7 611.5px,#0076c5 692.5px,#0097c4 732.5px,#00aac3 772.5px,#00acc3)"></i><i style="background:linear-gradient(#e96000,#e95900 238.5px,#eb4b00 351.5px,#ec4300 380.5px,#ed3500 409.5px,#f00500 466.5px,#f00000 476.5px,#ef0000 477.5px,#69002f 486.5px,#1e0055 492.5px,#000065 497.5px,#000078 504.5px,#0000c8 519.5px,#0000c8 570.5px,#0025c7 611.5px,#0076c5 692.5px,#0097c4 731.5px,#00aac3 772.5px,#00acc3)"></i><i style="background:linear-gradient(#e96000,#e95900 238.5px,#eb4a00 351.5px,#ec4300 379.5px,#ed3500 408.5px,#f00500 466.5px,#f00000 476.5px,#ef0000 477.5px,#69002f 486.5px,#1e0055 492.5px,#000065 497.5px,#000078 504.5px,#0000c8 519.5px,#0000c8 570.5px,#0025c7 611.5px,#0076c5 691.5px,#0097c4 731.5px,#00aac3 772.5px,#00acc3)"></i><i style="background:linear-gradient(#e95f00,#e95800 238.5px,#eb4a00 351.5px,#ec4300 379.5px,#ed3500 408.5px,#f00600 465.5px,#f00000 476.5px,#eb0002 477.5px,#75002b 485.5px,#1d0056 492.5px,#000065 497.5px,#000078 504.5px,#0000c8 519.5px,#0000c8 569.5px,#0024c7 610.5px,#0076c5 691.5px,#0097c4 731.5px,#00aac3 772.5px,#00acc3)"></i><i style="background:linear-gradient(#e95f00,#ea5800 238.5px,#eb4900 351.5px,#ec4300 379.5px,#ed3500 408.5px,#f00500 465.5px,#f00000 476.5px,#6d002e 485.5px,#230053 491.5px,#190058 492.5px,#020063 496.5px,#000078 504.5px,#0000c5 518.5px,#0000c8 519.5px,#0000c8 569.5px,#0025c7 610.5px,#0076c5 691.5px,#0097c4 731.5px,#00aac3 772.5px,#00acc3)"></i><i style="background:linear-gradient(#e95e00,#ea5700 238.5px,#eb4900 351.5px,#ec4200 379.5px,#ed3400 408.5px,#f00500 465.5px,#f00000 475.5px,#ef0000 476.5px,#6a002f 485.5px,#1e0055 491.5px,#000064 496.5px,#00007b 504.5px,#0000c7 518.5px,#0000c8 569.5px,#0025c7 610.5px,#0076c5 691.5px,#0097c4 731.5px,#00aac3 772.5px,#00acc3)"></i><i style="background:linear-gradient(#e95e00,#ea5700 238.5px,#eb4800 351.5px,#ec4200 379.5px,#ed3400 408.5px,#f00500 465.5px,#f00000 475.5px,#ef0000 476.5px,#69002f 485.5px,#1e0055 491.5px,#000065 496.5px,#000078 503.5px,#0000c8 518.5px,#0000c8 568.5px,#0025c7 610.5px,#0076c5 691.5px,#0097c4 731.5px,#00aac3 772.5px,#00acc3)"></i><i style="background:linear-gradient(#e95e00,#ea5700 238.5px,#eb4800 351.5px,#ec4200 379.5px,#ed3400 408.5px,#f00500 465.5px,#f00000 475.5px,#ef0000 476.5px,#69002f 485.5px,#1e0055 491.5px,#000065 496.5px,#000078 503.5px,#0000c8 518.5px,#0000c8 568.5px,#0025c7 609.5px,#0076c5 690.5px,#0097c4 731.5px,#00aac3 772.5px,#00acc3)"></i><i style="background:linear-gradient(#e95d00,#ea5600 238.5px,#eb4800 351.5px,#ec4100 379.5px,#ed3400 408.5px,#f00500 465.5px,#f00000 475.5px,#ef0000 476.5px,#69002f 485.5px,#1e0055 491.5px,#000065 496.5px,#000078 503.5px,#0000c8 518.5px,#0000c8 568.5px,#0025c7 609.5px,#0076c5 690.5px,#0097c4 731.5px,#00aac3 772.5px,#00acc3)"></i><i style="background:linear-gradient(#e95d00,#ea5600 238.5px,#eb4700 351.5px,#ec4100 379.5px,#ed3300 408.5px,#f00500 465.5px,#f00000 475.5px,#ef0000 476.5px,#69002f 485.5px,#1e0055 491.5px,#000065 496.5px,#000078 503.5px,#0000c8 518.5px,#0000c8 567.5px,#0025c7 609.5px,#0076c5 690.5px,#0097c4 730.5px,#00aac3 771.5px,#00acc3)"></i><i style="background:linear-gradient(#e95c00,#ea5500 237.5px,#eb4700 351.5px,#ec4000 379.5px,#ed3300 408.5px,#f00500 465.5px,#f00000 475.5px,#ef0000 476.5px,#69002f 485.5px,#1e0055 491.5px,#000065 496.5px,#000078 503.5px,#0000c8 518.5px,#0000c8 567.5px,#0025c7 608.5px,#0076c5 690.5px,#0097c4 730.5px,#00aac3 771.5px,#00acc3)"></i><i style="background:linear-gradient(#e95c00,#ea5500 237.5px,#eb4700 350.5px,#ec4000 378.5px,#ed3300 407.5px,#f00500 465.5px,#f00000 475.5px,#ef0000 476.5px,#69002f 485.5px,#1e0055 491.5px,#000065 496.5px,#000078 503.5px,#0000c8 518.5px,#0000c8 566.5px,#0025c7 608.5px,#0076c5 690.5px,#0097c4 730.5px,#00aac3 771.5px,#00acc3)"></i><i style="background:linear-gradient(#e95c00,#ea5400 237.5px,#ec4600 350.5px,#ec4000 378.5px,#ed3300 407.5px,#f00600 464.5px,#f00000 475.5px,#eb0002 476.5px,#75002b 484.5px,#1d0056 491.5px,#000065 496.5px,#000078 503.5px,#0000c8 518.5px,#0000c8 566.5px,#0025c7 608.5px,#0076c5 689.5px,#0097c4 730.5px,#00aac3 771.5px,#00acc3)"></i><i style="background:linear-gradient(#e95b00,#ea5400 237.5px,#ec4600 350.5px,#ec4000 378.5px,#ed3300 407.5px,#f00500 464.5px,#f00000 475.5px,#6d002e 484.5px,#230053 490.5px,#190058 491.5px,#020063 495.5px,#000078 503.5px,#0000c5 517.5px,#0000c8 518.5px,#0000c8 566.5px,#0025c7 607.5px,#0076c5 689.5px,#0097c4 730.5px,#00aac3 771.5px,#00acc3)"></i><i style="background:linear-gradient(#e95b00,#ea5300 237.5px,#ec4500 350.5px,#ec3f00 378.5px,#ed3200 407.5px,#f00500 464.5px,#f00000 474.5px,#ef0000 475.5px,#6a002f 484.5px,#1e0055 490.5px,#000064 495.5px,#00007b 503.5px,#0000c7 517.5px,#0000c8 565.5px,#0025c7 607.5px,#0076c5 689.5px,#0097c4 730.5px,#00aac3 771.5px,#00acc3)"></i><i style="background:linear-gradient(#e95b00,#ea5300 237.5px,#ec4500 350.5px,#ec3f00 378.5px,#ed3200 407.5px,#f00500 464.5px,#f00000 474.5px,#ef0000 475.5px,#69002f 484.5px,#1e0055 490.5px,#000065 495.5px,#000078 502.5px,#0000c8 517.5px,#0000c8 565.5px,#0025c7 607.5px,#0076c5 689.5px,#0097c4 730.5px,#00aac3 771.5px,#00acc3)"></i><i style="background:linear-gradient(#e95a00,#ea5200 236.5px,#ec4400 350.5px,#ec3e00 378.5px,#ed3200 407.5px,#f00500 464.5px,#f00000 474.5px,#ef0000 475.5px,#69002f 484.5px,#1e0055 490.5px,#000065 495.5px,#000078 502.5px,#0000c8 517.5px,#0000c8 565.5px,#0025c7 606.5px,#0076c5 689.5px,#0097c4 730.5px,#00aac3 771.5px,#00acc3)"></i><i style="background:linear-gradient(#e95a00,#ea5200 236.5px,#ec4400 349.5px,#ec3e00 377.5px,#ed3200 406.5px,#f00500 464.5px,#f00000 474.5px,#ef0000 475.5px,#69002f 484.5px,#1e0055 490.5px,#000065 495.5px,#000078 502.5px,#0000c8 517.5px,#0000c8 564.5px,#0025c7 606.5px,#0076c5 689.5px,#0098c4 730.5px,#00aac3 771.5px,#00acc3)"></i><i style="background:linear-gradient(#e95900,#ea5200 236.5px,#ec4400 349.5px,#ec3e00 377.5px,#ed3100 406.5px,#f00500 463.5px,#f00000 474.5px,#eb0002 475.5px,#75002b 483.5px,#1d0056 490.5px,#000065 495.5px,#000078 502.5px,#0000c8 517.5px,#0000c8 564.5px,#0025c7 606.5px,#0076c5 688.5px,#0097c4 729.5px,#00aac3 771.5px,#00acc3)"></i><i style="background:linear-gradient(#e95900,#ea5100 236.5px,#ec4300 349.5px,#ec3e00 377.5px,#ed3100 406.5px,#f00500 463.5px,#f00000 474.5px,#6d002e 483.5px,#230053 489.5px,#190058 490.5px,#020063 494.5px,#000078 502.5px,#0000c5 516.5px,#0000c8 517.5px,#0000c8 563.5px,#0025c7 605.5px,#0076c5 688.5px,#0097c4 729.5px,#00aac3 771.5px,#00acc3)"></i><i style="background:linear-gradient(#e95900,#ea5100 235.5px,#ec4300 349.5px,#ec3d00 377.5px,#ed3100 406.5px,#f00500 463.5px,#f00000 473.5px,#ef0000 474.5px,#6a002f 483.5px,#1e0055 489.5px,#000064 494.5px,#00007b 502.5px,#0000c7 516.5px,#0000c8 563.5px,#0025c7 605.5px,#0076c5 688.5px,#0097c4 729.5px,#00aac3 771.5px,#00acc3)"></i><i style="background:linear-gradient(#e95800,#ea5000 235.5px,#ec4200 349.5px,#ec3d00 377.5px,#ed3100 406.5px,#f00500 463.5px,#f00000 473.5px,#ef0000 474.5px,#69002f 483.5px,#1e0055 489.5px,#000065 494.5px,#000078 501.5px,#0000c8 516.5px,#0000c8 563.5px,#0025c7 605.5px,#0076c5 688.5px,#0097c4 729.5px,#00aac3 771.5px,#00acc3)"></i><i style="background:linear-gradient(#ea5800,#ea5000 235.5px,#ec4200 348.5px,#ec3d00 376.5px,#ed3100 405.5px,#f00500 463.5px,#f00000 473.5px,#ee0001 474.5px,#69002f 483.5px,#1e0055 489.5px,#000065 494.5px,#000078 501.5px,#0000c8 516.5px,#0000c8 562.5px,#0025c7 604.5px,#0076c5 688.5px,#0097c4 729.5px,#00aac3 771.5px,#00acc3)"></i><i style="background:linear-gradient(#ea5700,#ea4f00 235.5px,#ec4200 348.5px,#ec3c00 376.5px,#ed3000 405.5px,#f00500 462.5px,#f00000 473.5px,#e80003 474.5px,#73002b 482.5px,#1c0056 489.5px,#000065 494.5px,#000078 501.5px,#0000c8 516.5px,#0000c8 562.5px,#0025c7 604.5px,#0076c5 687.5px,#0097c4 729.5px,#00aac3 771.5px,#00acc3)"></i><i style="background:linear-gradient(#ea5700,#eb4f00 235.5px,#ec4100 348.5px,#ec3c00 376.5px,#ed3000 405.5px,#f00500 462.5px,#f00000 473.5px,#6b002e 482.5px,#210054 488.5px,#180058 489.5px,#010063 493.5px,#000078 501.5px,#0000c5 515.5px,#0000c8 516.5px,#0000c8 561.5px,#0025c7 604.5px,#0076c5 687.5px,#0097c4 729.5px,#00aac3 771.5px,#00acc3)"></i><i style="background:linear-gradient(#ea5700,#eb4e00 234.5px,#ec4100 348.5px,#ec3b00 376.5px,#ed3000 405.5px,#f00500 462.5px,#f00000 472.5px,#ef0000 473.5px,#6a002f 482.5px,#1e0055 488.5px,#000065 493.5px,#00007b 501.5px,#0000c7 515.5px,#0000c8 561.5px,#0025c7 603.5px,#0076c5 687.5px,#0098c4 729.5px,#00aac3 771.5px,#00acc3)"></i><i style="background:linear-gradient(#ea5600,#eb4e00 234.5px,#ec4000 348.5px,#ec3b00 375.5px,#ed3000 404.5px,#f00500 462.5px,#f00000 472.5px,#ef0000 473.5px,#69002f 482.5px,#1e0055 488.5px,#000065 493.5px,#000078 500.5px,#0000c8 515.5px,#0000c8 561.5px,#0025c7 603.5px,#0076c5 687.5px,#0097c4 728.5px,#00aac3 771.5px,#00acc3)"></i><i style="background:linear-gradient(#ea5600,#eb4e00 234.5px,#ec4000 347.5px,#ec3b00 375.5px,#ed2f00 404.5px,#f00500 461.5px,#f00000 472.5px,#eb0002 473.5px,#75002b 481.5px,#1d0056 488.5px,#000065 493.5px,#000078 500.5px,#0000c8 515.5px,#0000c8 560.5px,#0025c7 603.5px,#0076c5 687.5px,#0097c4 728.5px,#00aac3 770.5px,#00acc3)"></i><i style="background:linear-gradient(#ea5500,#eb4d00 233.5px,#ec4000 347.5px,#ec3a00 375.5px,#ed2f00 404.5px,#f00500 461.5px,#f00000 472.5px,#6d002e 481.5px,#230053 487.5px,#190058 488.5px,#020063 492.5px,#000078 500.5px,#0000c5 514.5px,#0000c8 515.5px,#0000c8 560.5px,#0025c7 603.5px,#0076c5 686.5px,#0097c4 728.5px,#00aac3 770.5px,#00acc3)"></i><i style="background:linear-gradient(#ea5500,#eb4d00 233.5px,#eb4800 289.5px,#ec3a00 374.5px,#ed2f00 404.5px,#f00500 461.5px,#f00000 471.5px,#ef0000 472.5px,#6a002f 481.5px,#1e0055 487.5px,#000064 492.5px,#00007b 500.5px,#0000c7 514.5px,#0000c8 560.5px,#0025c7 602.5px,#0076c5 686.5px,#0097c4 728.5px,#00aac3 770.5px,#00acc3)"></i><i style="background:linear-gradient(#ea5500,#eb4c00 233.5px,#eb4700 289.5px,#ec3a00 374.5px,#ed2e00 404.5px,#f00500 461.5px,#f00000 471.5px,#ee0001 472.5px,#69002f 481.5px,#1e0055 487.5px,#000065 492.5px,#000078 499.5px,#0000c8 514.5px,#0000c8 559.5px,#0025c7 602.5px,#0076c5 686.5px,#0097c4 728.5px,#00aac3 770.5px,#00acc3)"></i><i style="background:linear-gradient(#ea5400,#eb4c00 233.5px,#eb4700 289.5px,#ed3900 374.5px,#ed2e00 403.5px,#f00500 460.5px,#f00000 471.5px,#e80003 472.5px,#73002b 480.5px,#1c0056 487.5px,#000065 492.5px,#000078 499.5px,#0000c8 514.5px,#0000c8 559.5px,#0025c7 602.5px,#0076c5 686.5px,#0097c4 728.5px,#00aac3 770.5px,#00acc3)"></i><i style="background:linear-gradient(#ea5400,#eb4b00 232.5px,#ec4600 288.5px,#ed3900 373.5px,#ed2e00 403.5px,#f00500 460.5px,#f00000 471.5px,#6b002e 480.5px,#210054 486.5px,#180058 487.5px,#010063 491.5px,#000078 499.5px,#0000c5 513.5px,#0000c8 514.5px,#0000c8 558.5px,#0025c7 601.5px,#0076c5 686.5px,#0097c4 728.5px,#00aac3 770.5px,#00acc3)"></i><i style="background:linear-gradient(#ea5300,#eb4b00 232.5px,#ed3900 373.5px,#ed2e00 403.5px,#f00500 460.5px,#f00000 470.5px,#ef0001 471.5px,#69002f 480.5px,#1e0055 486.5px,#000065 491.5px,#00007b 499.5px,#0000c7 513.5px,#0000c8 558.5px,#0025c7 601.5px,#0076c5 686.5px,#0098c4 728.5px,#00aac3 770.5px,#00acc3)"></i><i style="background:linear-gradient(#ea5300,#eb4b00 231.5px,#ed3800 373.5px,#ed2e00 402.5px,#f00500 459.5px,#f00000 470.5px,#e80003 471.5px,#73002b 479.5px,#1c0056 486.5px,#000065 491.5px,#000078 498.5px,#0000c8 513.5px,#0000c8 558.5px,#0025c7 601.5px,#0076c5 685.5px,#0097c4 727.5px,#00aac3 770.5px,#00acc3)"></i><i style="background:linear-gradient(#ea5300,#eb4a00 231.5px,#ed3800 372.5px,#ed2d00 402.5px,#f00500 459.5px,#f00000 470.5px,#6b002e 479.5px,#210054 485.5px,#180058 486.5px,#010063 490.5px,#000078 498.5px,#0000c5 512.5px,#0000c8 513.5px,#0000c8 557.5px,#0025c7 600.5px,#0076c5 685.5px,#0097c4 727.5px,#00aac3 770.5px,#00acc3)"></i><i style="background:linear-gradient(#ea5300,#eb4a00 231.5px,#ed3800 372.5px,#ed2d00 402.5px,#f00500 459.5px,#f00000 469.5px,#ef0001 470.5px,#69002f 479.5px,#1e0055 485.5px,#000065 490.5px,#00007b 498.5px,#0000c7 512.5px,#0000c8 557.5px,#0025c7 600.5px,#0076c5 685.5px,#0097c4 727.5px,#00aac3 770.5px,#00acc3)"></i><i style="background:linear-gradient(#ea5200,#eb4a00 230.5px,#ed3800 371.5px,#ed2d00 401.5px,#f00500 458.5px,#f00000 469.5px,#e80003 470.5px,#73002b 478.5px,#1c0056 485.5px,#000065 490.5px,#000078 497.5px,#0000c8 512.5px,#0000c8 556.5px,#0025c7 600.5px,#0076c5 685.5px,#0097c4 727.5px,#00aac3 770.5px,#00acc3)"></i><i style="background:linear-gradient(#ea5200,#eb4900 230.5px,#ed3700 371.5px,#ed2d00 401.5px,#f00500 458.5px,#f00000 469.5px,#6b002e 478.5px,#210054 484.5px,#180058 485.5px,#010063 489.5px,#000078 497.5px,#0000c5 511.5px,#0000c8 512.5px,#0000c8 556.5px,#0025c7 599.5px,#0076c5 685.5px,#0097c4 727.5px,#00aac3 770.5px,#00acc3)"></i><i style="background:linear-gradient(#ea5200,#eb4900 229.5px,#ed3700 371.5px,#ed2d00 400.5px,#f00500 457.5px,#f00000 468.5px,#eb0002 469.5px,#75002b 477.5px,#1d0056 484.5px,#000065 489.5px,#00007b 497.5px,#0000c7 511.5px,#0000c8 556.5px,#0025c7 599.5px,#0076c5 684.5px,#0097c4 727.5px,#00aac3 770.5px,#00acc3)"></i><i style="background:linear-gradient(#ea5100,#eb4900 229.5px,#ed3700 370.5px,#ed2c00 400.5px,#f00500 457.5px,#f00000 468.5px,#6d002e 477.5px,#230053 483.5px,#190058 484.5px,#020063 488.5px,#000078 496.5px,#0000c8 511.5px,#0000c8 555.5px,#0025c7 599.5px,#0076c5 684.5px,#0097c4 727.5px,#00aac3 770.5px,#00acc3)"></i><i style="background:linear-gradient(#ea5100,#eb4800 229.5px,#ed3600 370.5px,#ed2c00 400.5px,#f00400 457.5px,#f00000 467.5px,#ee0001 468.5px,#69002f 477.5px,#1e0055 483.5px,#000064 488.5px,#00007b 496.5px,#0000c7 510.5px,#0000c8 555.5px,#0025c7 598.5px,#0076c5 684.5px,#0098c4 727.5px,#00aac3 770.5px,#00acc3)"></i><i style="background:linear-gradient(#ea5100,#eb4800 228.5px,#ed3600 369.5px,#ed2c00 399.5px,#f00500 456.5px,#f00000 467.5px,#e60003 468.5px,#71002c 476.5px,#1b0057 483.5px,#000065 488.5px,#000078 495.5px,#0000c8 510.5px,#0000c8 555.5px,#0025c7 598.5px,#0076c5 684.5px,#0097c4 726.5px,#00aac3 770.5px,#00acc3)"></i><i style="background:linear-gradient(#ea5100,#eb4800 228.5px,#ed3600 369.5px,#ed2b00 399.5px,#f00400 456.5px,#f00000 466.5px,#ef0000 467.5px,#6a002f 476.5px,#1f0054 482.5px,#170059 483.5px,#010064 487.5px,#000079 495.5px,#0000c5 509.5px,#0000c8 510.5px,#0000c8 554.5px,#0025c7 598.5px,#0076c5 684.5px,#0097c4 726.5px,#00aac3 770.5px,#00acc3)"></i><i style="background:linear-gradient(#ea5000,#eb4700 228.5px,#ed3600 369.5px,#ed2b00 398.5px,#f00500 455.5px,#f00000 466.5px,#e80003 467.5px,#73002b 475.5px,#1c0056 482.5px,#000065 487.5px,#007 494.5px,#0000c8 509.5px,#0000c8 554.5px,#0025c7 597.5px,#0076c5 683.5px,#0097c4 726.5px,#00aac3 769.5px,#00acc3)"></i><i style="background:linear-gradient(#ea5000,#eb4700 228.5px,#ed3500 369.5px,#ed2b00 398.5px,#f00400 455.5px,#f00000 465.5px,#ef0000 466.5px,#6b002e 475.5px,#210054 481.5px,#180058 482.5px,#010063 486.5px,#000078 494.5px,#0000c5 508.5px,#0000c8 509.5px,#0000c8 553.5px,#0025c7 597.5px,#0076c5 683.5px,#0097c4 726.5px,#00aac3 769.5px,#00acc3)"></i><i style="background:linear-gradient(#ea5000,#eb4600 228.5px,#ed3500 369.5px,#ed2b00 398.5px,#f00500 454.5px,#f00000 465.5px,#e90003 466.5px,#73002b 474.5px,#1c0056 481.5px,#000065 486.5px,#00007b 494.5px,#0000c7 508.5px,#0000c8 553.5px,#0025c7 597.5px,#0076c5 683.5px,#0097c4 726.5px,#00aac3 769.5px,#00acc3)"></i><i style="background:linear-gradient(#ea4f00,#ec4600 228.5px,#ed3500 369.5px,#ed2b00 397.5px,#f00400 454.5px,#f00000 465.5px,#6b002e 474.5px,#210054 480.5px,#180058 481.5px,#010063 485.5px,#000078 493.5px,#0000c8 508.5px,#0000c8 553.5px,#0025c7 597.5px,#0076c5 683.5px,#0097c4 726.5px,#00aac3 769.5px,#00acc3)"></i><i style="background:linear-gradient(#eb4f00,#ec4600 228.5px,#ed3400 369.5px,#ed2b00 397.5px,#f00500 453.5px,#f00000 464.5px,#ec0001 465.5px,#76002a 473.5px,#1d0055 480.5px,#000065 485.5px,#00007b 493.5px,#0000c7 507.5px,#0000c8 552.5px,#0025c7 596.5px,#0076c5 683.5px,#0097c4 726.5px,#00aac3 769.5px,#00acc3)"></i><i style="background:linear-gradient(#eb4f00,#ec4500 228.5px,#ed3400 369.5px,#ed2a00 397.5px,#f00400 453.5px,#f00000 464.5px,#e40004 465.5px,#6f002d 473.5px,#250052 479.5px,#1a0057 480.5px,#000065 485.5px,#000078 492.5px,#0000c8 507.5px,#0000c8 552.5px,#0025c7 596.5px,#0076c5 683.5px,#0097c4 726.5px,#00aac3 769.5px,#00acc3)"></i><i style="background:linear-gradient(#eb4e00,#ec4500 229.5px,#ed3400 370.5px,#ed2a00 397.5px,#f00500 452.5px,#f00000 463.5px,#ee0001 464.5px,#69002f 473.5px,#1e0055 479.5px,#000064 484.5px,#00007a 492.5px,#0000c6 506.5px,#0000c8 507.5px,#0000c8 551.5px,#0024c7 595.5px,#0076c5 682.5px,#0097c4 725.5px,#00aac3 769.5px,#00acc3)"></i><i style="background:linear-gradient(#eb4e00,#ec4500 229.5px,#ed3300 370.5px,#ed2a00 397.5px,#f00500 452.5px,#f00000 463.5px,#e60003 464.5px,#71002c 472.5px,#1b0057 479.5px,#000065 484.5px,#000078 491.5px,#0000c8 506.5px,#0000c8 551.5px,#0025c7 595.5px,#0076c5 682.5px,#0097c4 725.5px,#00aac3 769.5px,#00acc3)"></i><i style="background:linear-gradient(#eb4e00,#ec4400 229.5px,#ed3300 371.5px,#ed2a00 397.5px,#f00500 451.5px,#f00000 462.5px,#ee0001 463.5px,#6a002f 472.5px,#1f0054 478.5px,#170059 479.5px,#010064 483.5px,#000079 491.5px,#0000c5 505.5px,#0000c8 506.5px,#0000c8 551.5px,#0025c7 595.5px,#0076c5 682.5px,#0097c4 725.5px,#00aac3 769.5px,#00acc3)"></i><i style="background:linear-gradient(#eb4e00,#ec4400 230.5px,#ed3300 372.5px,#ee2900 398.5px,#f00400 451.5px,#f00000 462.5px,#e60003 463.5px,#71002c 471.5px,#1b0057 478.5px,#000065 483.5px,#007 490.5px,#0000c8 505.5px,#0000c8 550.5px,#0025c7 595.5px,#0076c5 682.5px,#0097c4 725.5px,#00aac3 769.5px,#00acc3)"></i><i style="background:linear-gradient(#eb4d00,#ec4400 230.5px,#ed3200 373.5px,#ee2900 398.5px,#f00400 451.5px,#f00000 462.5px,#6a002f 471.5px,#1f0054 477.5px,#170059 478.5px,#010064 482.5px,#000079 490.5px,#0000c5 504.5px,#0000c8 505.5px,#0000c8 550.5px,#0025c7 594.5px,#0076c5 682.5px,#0097c4 725.5px,#00aac3 769.5px,#00acc3)"></i><i style="background:linear-gradient(#eb4d00,#ec4300 231.5px,#ed3200 374.5px,#ee2900 398.5px,#f00500 450.5px,#f00000 461.5px,#ec0001 462.5px,#76002a 470.5px,#1d0055 477.5px,#000065 482.5px,#007 489.5px,#0000c8 504.5px,#0000c8 550.5px,#0025c7 594.5px,#0076c5 681.5px,#0097c4 725.5px,#00aac3 769.5px,#00acc3)"></i><i style="background:linear-gradient(#eb4d00,#ec4300 231.5px,#ed3200 376.5px,#ee2900 398.5px,#f00400 450.5px,#f00000 461.5px,#e40004 462.5px,#6f002d 470.5px,#250052 476.5px,#1a0057 477.5px,#000065 482.5px,#000078 489.5px,#0000c8 504.5px,#0000c8 549.5px,#0025c7 594.5px,#0076c5 681.5px,#0097c4 725.5px,#00aac3 769.5px,#00acc3)"></i><i style="background:linear-gradient(#eb4c00,#ec4200 232.5px,#ed3200 377.5px,#ee2900 398.5px,#f00500 449.5px,#f00000 460.5px,#ef0000 461.5px,#6a002f 470.5px,#1e0055 476.5px,#000064 481.5px,#00007a 489.5px,#0000c6 503.5px,#0000c8 504.5px,#0000c8 549.5px,#0025c7 593.5px,#0076c5 681.5px,#0097c4 725.5px,#00aac3 769.5px,#00acc3)"></i><i style="background:linear-gradient(#eb4c00,#ec4200 233.5px,#ed3100 379.5px,#ee2800 399.5px,#f00400 449.5px,#f00000 460.5px,#e80003 461.5px,#73002b 469.5px,#1c0056 476.5px,#000065 481.5px,#007 488.5px,#0000c8 503.5px,#0000c8 548.5px,#0025c7 593.5px,#0076c5 681.5px,#0098c4 725.5px,#00aac3 769.5px,#00acc3)"></i><i style="background:linear-gradient(#eb4c00,#ec4200 233.5px,#ed3100 380.5px,#ee2800 399.5px,#f00400 449.5px,#f00000 460.5px,#6b002e 469.5px,#210054 475.5px,#180058 476.5px,#010063 480.5px,#000078 488.5px,#0000c5 502.5px,#0000c8 503.5px,#0000c8 548.5px,#0025c7 593.5px,#0076c5 681.5px,#0097c4 724.5px,#00aac3 769.5px,#00acc3)"></i><i style="background:linear-gradient(#eb4b00,#ec4100 234.5px,#ed3100 382.5px,#ee2800 399.5px,#ee1d00 411.5px,#f00500 448.5px,#f00000 459.5px,#ef0001 460.5px,#69002f 469.5px,#1e0055 475.5px,#000065 480.5px,#00007b 488.5px,#0000c7 502.5px,#0000c8 548.5px,#0025c7 592.5px,#0076c5 680.5px,#0097c4 724.5px,#00aac3 769.5px,#00acc3)"></i><i style="background:linear-gradient(#eb4b00,#ec4100 235.5px,#ed3000 382.5px,#ee2800 399.5px,#ee1c00 411.5px,#f00400 448.5px,#f00000 459.5px,#e80003 460.5px,#73002b 468.5px,#1c0056 475.5px,#000065 480.5px,#000078 487.5px,#0000c8 502.5px,#0000c8 547.5px,#0025c7 592.5px,#0076c5 680.5px,#0097c4 724.5px,#00aac3 769.5px,#00adc3)"></i><i style="background:linear-gradient(#eb4b00,#ec4000 236.5px,#ed3000 382.5px,#ee2700 400.5px,#ee1c00 411.5px,#f00400 448.5px,#f00000 459.5px,#6b002e 468.5px,#210054 474.5px,#180058 475.5px,#010063 479.5px,#000078 487.5px,#0000c5 501.5px,#0000c8 502.5px,#0000c8 547.5px,#0025c7 592.5px,#0076c5 680.5px,#0097c4 724.5px,#00aac3 768.5px,#00adc3)"></i><i style="background:linear-gradient(#eb4b00,#ec4000 237.5px,#ed3000 382.5px,#ee2700 400.5px,#ee1c00 411.5px,#f00400 448.5px,#f00000 458.5px,#ef0000 459.5px,#6a002f 468.5px,#1e0055 474.5px,#000065 479.5px,#00007b 487.5px,#0000c7 501.5px,#0000c8 546.5px,#0025c7 591.5px,#0076c5 680.5px,#0097c4 724.5px,#00aac3 768.5px,#00adc3)"></i><i style="background:linear-gradient(#eb4a00,#ec4000 238.5px,#ed3000 382.5px,#ed2c00 393.5px,#ee1c00 411.5px,#f00400 447.5px,#f00000 458.5px,#ec0001 459.5px,#76002a 467.5px,#1d0055 474.5px,#000065 479.5px,#000078 486.5px,#0000c8 501.5px,#0000c8 546.5px,#0025c7 591.5px,#0076c5 680.5px,#0097c4 724.5px,#00aac3 768.5px,#00adc3)"></i><i style="background:linear-gradient(#eb4a00,#ec3f00 240.5px,#ed3000 382.5px,#ed2d00 392.5px,#ee1b00 411.5px,#f00400 447.5px,#f00000 458.5px,#e40004 459.5px,#6f002d 467.5px,#250052 473.5px,#1a0057 474.5px,#000065 479.5px,#000078 486.5px,#0000c8 501.5px,#0000c8 546.5px,#0025c7 591.5px,#0076c5 679.5px,#0097c4 724.5px,#00aac3 768.5px,#00adc3)"></i><i style="background:linear-gradient(#eb4a00,#ec3f00 241.5px,#ed3000 382.5px,#ed2e00 390.5px,#ee1a00 412.5px,#f00000 457.5px,#f00000 458.5px,#6a002f 467.5px,#1e0055 473.5px,#000064 478.5px,#00007a 486.5px,#0000c6 500.5px,#0000c8 501.5px,#0000c8 545.5px,#0025c7 590.5px,#0076c5 679.5px,#0098c4 724.5px,#00aac3 768.5px,#00adc3)"></i><i style="background:linear-gradient(#eb4900,#ec3e00 242.5px,#ed3000 381.5px,#ed2e00 391.5px,#ee1a00 412.5px,#f00000 457.5px,#ee0001 458.5px,#69002f 467.5px,#1d0055 473.5px,#000065 478.5px,#007 485.5px,#0000c8 500.5px,#0000c8 545.5px,#0025c7 590.5px,#0076c5 679.5px,#0097c4 723.5px,#00aac3 768.5px,#00adc3)"></i><i style="background:linear-gradient(#eb4900,#ec3e00 244.5px,#ed3000 381.5px,#ed2e00 391.5px,#ee1a00 412.5px,#f00400 446.5px,#f00000 457.5px,#e60003 458.5px,#71002c 466.5px,#1b0057 473.5px,#000065 478.5px,#000078 485.5px,#0000c8 500.5px,#0000c8 545.5px,#0025c7 590.5px,#0076c5 679.5px,#0097c4 723.5px,#00aac3 768.5px,#00adc3)"></i><i style="background:linear-gradient(#eb4900,#ec3e00 245.5px,#ed3000 381.5px,#ed2d00 392.5px,#ee1900 412.5px,#f00400 446.5px,#f00000 457.5px,#6a002f 466.5px,#1f0054 472.5px,#170059 473.5px,#010064 477.5px,#000079 485.5px,#0000c6 499.5px,#0000c8 500.5px,#0000c8 545.5px,#0025c7 590.5px,#0076c5 679.5px,#0097c4 723.5px,#00aac3 768.5px,#00adc3)"></i><i style="background:linear-gradient(#eb4900,#ec3d00 247.5px,#ed3000 381.5px,#ed2d00 392.5px,#ee1900 412.5px,#f00000 456.5px,#ef0000 457.5px,#69002f 466.5px,#1e0055 472.5px,#000065 477.5px,#007 484.5px,#0000c8 499.5px,#0000c8 544.5px,#0025c7 590.5px,#0076c5 679.5px,#0097c4 723.5px,#00aac3 768.5px,#00adc3)"></i><i style="background:linear-gradient(#eb4800,#ec3d00 248.5px,#ed3000 381.5px,#ed2d00 393.5px,#ef1900 412.5px,#f00000 456.5px,#ee0001 457.5px,#69002f 466.5px,#1d0055 472.5px,#000065 477.5px,#000078 484.5px,#0000c8 499.5px,#0000c8 544.5px,#0025c7 589.5px,#0076c5 679.5px,#0097c4 723.5px,#00aac3 768.5px,#00adc3)"></i><i style="background:linear-gradient(#eb4800,#ec3c00 250.5px,#ed3000 382.5px,#ed2c00 394.5px,#ef1800 413.5px,#f00000 456.5px,#e60003 457.5px,#71002c 465.5px,#1b0057 472.5px,#000065 477.5px,#000078 484.5px,#0000c8 499.5px,#0000c8 544.5px,#0025c7 589.5px,#0076c5 678.5px,#0097c4 723.5px,#00aac3 768.5px,#00adc3)"></i><i style="background:linear-gradient(#eb4800,#ec3c00 252.5px,#ed3000 383.5px,#ed2c00 394.5px,#ef1700 413.5px,#f00400 445.5px,#f00000 456.5px,#6a002f 465.5px,#1f0054 471.5px,#170059 472.5px,#010064 476.5px,#000079 484.5px,#0000c6 498.5px,#0000c8 499.5px,#0000c8 544.5px,#0025c7 589.5px,#0076c5 678.5px,#0097c4 723.5px,#00aac3 768.5px,#00adc3)"></i><i style="background:linear-gradient(#eb4700,#ec3b00 253.5px,#ed3000 383.5px,#ed2c00 395.5px,#ef1700 413.5px,#f00000 455.5px,#ef0000 456.5px,#69002f 465.5px,#1e0055 471.5px,#000065 476.5px,#007 483.5px,#0000c8 498.5px,#0000c8 544.5px,#0025c7 589.5px,#0076c5 678.5px,#0097c4 722.5px,#00aac3 767.5px,#00adc3)"></i><i style="background:linear-gradient(#eb4700,#ec3b00 255.5px,#ed3000 383.5px,#ed2c00 395.5px,#ef1700 413.5px,#f00000 455.5px,#eb0002 456.5px,#75002b 464.5px,#1d0056 471.5px,#000065 476.5px,#000078 483.5px,#0000c8 498.5px,#0000c8 544.5px,#0025c7 589.5px,#0076c5 678.5px,#0097c4 722.5px,#00aac3 767.5px,#00adc3)"></i><i style="background:linear-gradient(#eb4700,#ec3a00 257.5px,#ed3000 382.5px,#ed2c00 395.5px,#ef1600 413.5px,#f00000 455.5px,#6d002e 464.5px,#230053 470.5px,#190058 471.5px,#020063 475.5px,#000078 483.5px,#0000c5 497.5px,#0000c8 498.5px,#0000c8 543.5px,#0025c7 589.5px,#0076c5 678.5px,#0097c4 722.5px,#00aac3 767.5px,#00adc3)"></i><i style="background:linear-gradient(#eb4600,#ec3a00 260.5px,#ed3000 382.5px,#ed2b00 396.5px,#ef1600 413.5px,#f00000 454.5px,#ef0000 455.5px,#6a002f 464.5px,#1e0055 470.5px,#000064 475.5px,#00007b 483.5px,#0000c7 497.5px,#0000c8 543.5px,#0025c7 588.5px,#0076c5 678.5px,#0097c4 722.5px,#00aac3 767.5px,#00adc3)"></i><i style="background:linear-gradient(#ec4600,#ed3900 262.5px,#ed3000 382.5px,#ed2b00 396.5px,#ef1600 413.5px,#f00000 454.5px,#ee0001 455.5px,#69002f 464.5px,#1e0055 470.5px,#000065 475.5px,#000078 482.5px,#0000c8 497.5px,#0000c8 543.5px,#0025c7 588.5px,#0076c5 678.5px,#0097c4 722.5px,#00aac3 767.5px,#00adc3)"></i><i style="background:linear-gradient(#ec4600,#ed3900 264.5px,#ed2f00 382.5px,#ed2b00 396.5px,#ef1600 413.5px,#f00000 454.5px,#e80003 455.5px,#73002b 463.5px,#1c0056 470.5px,#000065 475.5px,#000078 482.5px,#0000c8 497.5px,#0000c8 543.5px,#0025c7 588.5px,#0076c5 677.5px,#0097c4 722.5px,#00aac3 767.5px,#00adc3)"></i><i style="background:linear-gradient(#ec4500,#ed3800 266.5px,#ed2f00 382.5px,#ed2a00 397.5px,#ef1500 413.5px,#f00000 454.5px,#6b002e 463.5px,#210054 469.5px,#180058 470.5px,#010063 474.5px,#000078 482.5px,#0000c5 496.5px,#0000c8 497.5px,#0000c8 543.5px,#0025c7 588.5px,#0076c5 677.5px,#0097c4 722.5px,#00aac3 767.5px,#00adc3)"></i><i style="background:linear-gradient(#ec4500,#ed2f00 382.5px,#ed2a00 397.5px,#ef1500 413.5px,#f00000 453.5px,#ef0000 454.5px,#6a002f 463.5px,#1e0055 469.5px,#000065 474.5px,#00007b 482.5px,#0000c7 496.5px,#0000c8 542.5px,#0025c7 588.5px,#0076c5 677.5px,#0098c4 722.5px,#00aac3 767.5px,#00adc3)"></i><i style="background:linear-gradient(#ec4400,#ed2f00 382.5px,#ed2a00 397.5px,#ef1500 413.5px,#f00000 453.5px,#ee0001 454.5px,#69002f 463.5px,#1d0055 469.5px,#000065 474.5px,#000078 481.5px,#0000c8 496.5px,#0000c8 542.5px,#0025c7 588.5px,#0076c5 677.5px,#0097c4 721.5px,#00aac3 766.5px,#00adc3)"></i><i style="background:linear-gradient(#ec4400,#ed2f00 382.5px,#ee2900 398.5px,#ef1400 413.5px,#f00000 453.5px,#e60003 454.5px,#71002c 462.5px,#1b0057 469.5px,#000065 474.5px,#000078 481.5px,#0000c8 496.5px,#0001c8 543.5px,#0025c7 587.5px,#0076c5 677.5px,#0097c4 721.5px,#00aac3 766.5px,#00adc3)"></i><i style="background:linear-gradient(#ec4300,#ed2e00 382.5px,#ee2900 398.5px,#ef1400 413.5px,#f00000 453.5px,#6a002f 462.5px,#1f0054 468.5px,#170059 469.5px,#010064 473.5px,#000079 481.5px,#0000c6 495.5px,#0000c8 496.5px,#0000c8 542.5px,#0025c7 587.5px,#0076c5 677.5px,#0097c4 721.5px,#00aac3 766.5px,#00adc3)"></i><i style="background:linear-gradient(#ec4300,#ed2e00 382.5px,#ee2800 398.5px,#ef1400 413.5px,#f00000 452.5px,#ef0000 453.5px,#69002f 462.5px,#1e0055 468.5px,#000065 473.5px,#007 480.5px,#0000c8 495.5px,#0000c8 542.5px,#0025c7 587.5px,#0076c5 677.5px,#0097c4 721.5px,#00aac3 766.5px,#00adc3)"></i><i style="background:linear-gradient(#ec4300,#ed2e00 382.5px,#ee2800 398.5px,#ef1400 413.5px,#f00000 452.5px,#ee0001 453.5px,#69002f 462.5px,#1d0055 468.5px,#000065 473.5px,#000078 480.5px,#0000c8 495.5px,#0000c8 542.5px,#0025c7 587.5px,#0076c5 676.5px,#0097c4 721.5px,#00aac3 766.5px,#00adc3)"></i><i style="background:linear-gradient(#ec4200,#ed2e00 382.5px,#ee2800 398.5px,#ef1300 413.5px,#f00000 452.5px,#e60003 453.5px,#71002c 461.5px,#1b0057 468.5px,#000065 473.5px,#000078 480.5px,#0000c8 495.5px,#0000c8 542.5px,#0025c7 587.5px,#0076c5 676.5px,#0097c4 721.5px,#00aac3 766.5px,#00adc3)"></i><i style="background:linear-gradient(#ec4200,#ed2e00 382.5px,#ee2700 399.5px,#ef1300 413.5px,#f00000 452.5px,#6a002f 461.5px,#1f0054 467.5px,#170059 468.5px,#010064 472.5px,#000079 480.5px,#0000c6 494.5px,#0000c8 495.5px,#0001c8 542.5px,#0025c7 586.5px,#0076c5 676.5px,#0097c4 721.5px,#00aac3 766.5px,#00adc3)"></i><i style="background:linear-gradient(#ec4100,#ed2e00 382.5px,#ee2700 399.5px,#ef1300 413.5px,#f00000 451.5px,#ef0000 452.5px,#69002f 461.5px,#1e0055 467.5px,#000065 472.5px,#007 479.5px,#0000c8 494.5px,#0000c8 541.5px,#0025c7 586.5px,#0076c5 676.5px,#0098c4 721.5px,#00aac3 766.5px,#00adc3)"></i><i style="background:linear-gradient(#ec4100,#ed2d00 382.5px,#ee2700 399.5px,#ef1200 413.5px,#f00000 451.5px,#ec0001 452.5px,#76002a 460.5px,#1d0055 467.5px,#000065 472.5px,#000078 479.5px,#0000c8 494.5px,#0000c8 541.5px,#0025c7 586.5px,#0076c5 676.5px,#0097c4 720.5px,#00aac3 766.5px,#00adc3)"></i><i style="background:linear-gradient(#ec4000,#ed2d00 383.5px,#ee2600 399.5px,#ef1200 413.5px,#f00000 451.5px,#e40004 452.5px,#6f002d 460.5px,#250052 466.5px,#1a0057 467.5px,#000065 472.5px,#000078 479.5px,#0000c8 494.5px,#0000c8 541.5px,#0025c7 586.5px,#0076c5 676.5px,#0097c4 720.5px,#00aac3 765.5px,#00adc3)"></i><i style="background:linear-gradient(#ec4000,#ed2c00 384.5px,#ee2600 399.5px,#ef1200 413.5px,#f00000 450.5px,#f00000 451.5px,#6a002f 460.5px,#1e0055 466.5px,#000064 471.5px,#00007a 479.5px,#0000c6 493.5px,#0000c8 494.5px,#0000c8 541.5px,#0025c7 586.5px,#0076c5 675.5px,#0097c4 720.5px,#00aac3 765.5px,#00adc3)"></i><i style="background:linear-gradient(#ec4000,#ed2c00 385.5px,#ee2500 400.5px,#ef1200 413.5px,#f00000 450.5px,#ef0000 451.5px,#69002f 460.5px,#1e0055 466.5px,#000065 471.5px,#007 478.5px,#0000c8 493.5px,#0000c8 541.5px,#0025c7 586.5px,#0076c5 675.5px,#0097c4 720.5px,#00aac3 765.5px,#00adc3)"></i><i class=b style="background:linear-gradient(#ec4000,#ed2c00 385.5px,#ee2500 400.5px,#ef1100 413.5px,#f00000 450.5px,#ee0001 451.5px,#69002f 460.5px,#1e0055 466.5px,#000065 471.5px,#000078 478.5px,#0000c8 493.5px,#0000c8 541.5px,#0025c7 586.5px,#0076c5 675.5px,#0097c4 720.5px,#00aac3 765.5px,#00adc3)"></i></div>
<svg id="o" width="2168" height="949" viewBox="0 0 2168 949">
<defs><linearGradient id="cb" x1="0" x2="1" y1="0" y2="0"><stop offset="0" stop-color="#00ffff"/><stop offset=".45" stop-color="#0000ff"/><stop offset=".5" stop-color="#000080"/><stop offset=".55" stop-color="#ff0000"/><stop offset="1" stop-color="#ffff00"/></linearGradient><clipPath id="cp"><rect x="166" y="51" width="1938" height="774"/></clipPath><filter id="bl" x="-5%" y="-5%" width="110%" height="110%"><feGaussianBlur stdDeviation="0.9"/></filter></defs>
<path d="M0,0H2168V949H0Z M166,51V825H2104V51Z" fill="#fff" fill-rule="evenodd"/>
<g clip-path="url(#cp)"><g fill="none" stroke="#100300" stroke-opacity=".46" stroke-width="2.7" stroke-linejoin="round" filter="url(#bl)">
<path d="M166,620 174.1,619.1 182.1,618.2 190.2,617.3 198.2,616.5 206.3,615.6 214.3,614.8 222.4,614 230.4,613.2 238.5,612.5 246.6,611.8 254.6,611.1 262.7,610.4 270.8,609.8 278.8,609.2 286.9,608.7 295,608.2 303.1,607.7 311.1,607.3 319.2,606.9 327.3,606.6 335.4,606.3 343.4,606 351.5,605.7 359.6,605.5 367.7,605.2 375.8,605 383.9,604.8 392,604.6 400.1,604.4 408.2,604.2 416.3,604 424.4,603.8 432.5,603.6 440.5,603.4 448.6,603.2 456.7,602.9 464.8,602.7 472.9,602.4 481,602.1 489.1,601.7 497.2,601.4 505.2,601 513.3,600.6 521.4,600.2 529.5,599.7 537.6,599.3 545.7,598.8 553.8,598.2 561.8,597.7 569.9,597.1 577.9,596.4 586,595.7 594,595 602.1,594.1 610.1,593.1 618.2,592 626.2,590.9 634.2,589.6 642.2,588.3 650.1,587 658.1,585.4 666,583.6 673.8,581.6 681.7,579.7 689.6,577.8 697.4,576 705.3,574.1 713.2,572.2 721.1,570.4 728.9,568.4 736.8,566.5 744.6,564.4 752.4,562.3 760.2,560 767.9,557.7 775.7,555.3 783.5,553.1 791.2,550.9 799,548.8 806.9,546.6 814.7,544.6 822.5,542.6 830.4,540.5 838.2,538.5 846.1,537 854.1,535.7 862.2,534.7 870.2,533.8 878.3,533 886.3,532.4 894.4,531.9 902.5,531.4 910.6,530.9 918.7,530.5 926.7,530.1 934.8,529.8 942.9,529.4 951,528.9 959.1,528.4 967.2,527.8 975.3,527.1 983.3,526.1 991.2,524.7 999.1,522.4 1007.2,519.3 1007.1,513.6 1000,511.5 991.6,510.5 983.2,510 975.2,509.7 967.1,509.4 959,509.2 950.9,509.1 942.8,509 934.7,508.8 926.6,508.7 918.5,508.6 910.4,508.5 902.3,508.4 894.2,508.4 886.1,508.3 878,508.2 869.9,508.1 861.8,508.1 853.7,508 845.7,507.9 837.6,507.8 829.5,507.8 821.4,507.7 813.3,507.6 805.2,507.5 797.1,507.4 789,507.3 780.9,507.3 772.8,507.2 764.7,507.1 756.6,507 748.5,506.8 740.5,506.7 732.4,506.6 724.3,506.4 716.2,506.3 708.1,506.2 700,506.0"/>
<path d="M166,653 174,652.1 182.1,651.1 190.1,650.2 198.2,649.3 206.2,648.4 214.3,647.5 222.3,646.7 230.4,645.8 238.4,645 246.5,644.2 254.6,643.4 262.6,642.6 270.7,641.9 278.7,641.2 286.8,640.4 294.9,639.8 302.9,639.1 311,638.5 319.1,637.8 327.1,637.3 335.2,636.7 343.3,636.2 351.4,635.7 359.4,635.2 367.5,634.8 375.6,634.3 383.7,633.9 391.8,633.5 399.9,633.1 408,632.7 416,632.2 424.1,631.8 432.2,631.3 440.3,630.9 448.4,630.4 456.5,629.9 464.5,629.4 472.6,628.8 480.7,628.2 488.7,627.5 496.8,626.9 504.9,626.2 512.9,625.4 521,624.7 529,623.9 537.1,623.1 545.1,622.2 553.2,621.4 561.3,620.5 569.3,619.5 577.3,618.6 585.4,617.6 593.4,616.6 601.5,615.6 609.5,614.6 617.5,613.5 625.5,612.4 633.6,611.3 641.6,610.2 649.6,609.1 657.6,607.8 665.5,606.5 673.5,605 681.5,603.5 689.4,602.1 697.4,600.7 705.4,599.2 713.3,597.7 721.3,596.3 729.3,594.8 737.2,593.3 745.2,591.9 753.1,590.4 761.1,589 769.1,587.5 777,586.1 785,584.7 793,583.2 800.9,581.8 808.9,580.4 816.9,579 824.9,577.7 832.9,576.4 840.9,575.1 848.9,573.9 856.9,572.6 864.9,571.4 872.8,570 880.8,568.6 888.8,567.2 896.7,565.7 904.7,564.2 912.6,562.6 920.6,561.1 928.5,559.5 936.5,558 944.5,556.6 952.4,555.2 960.4,553.9 968.4,552.6 976.4,551.4 984.4,550.2 992.4,549.1 1000.4,547.9 1008.4,546.8 1016.5,545.7 1024.5,544.6 1032.5,543.6 1040.5,542.5 1048.6,541.5 1056.6,540.5 1064.6,539.4 1072.7,538.4 1080.7,537.4 1088.7,536.4 1096.8,535.4 1104.8,534.3 1112.8,533.3 1120.9,532.4 1128.9,531.4 1136.9,530.4 1145,529.5 1153,528.5 1161.1,527.6 1169.1,526.6 1177.1,525.7 1185.2,524.7 1193.2,523.6 1201.2,522.6 1209.3,521.6 1217.3,520.6 1225.3,519.6 1233.3,518.5 1241.4,517.4 1249.4,516.3 1257.4,515.1 1266.2,513.9 1276.1,512.7 1278.9,511 1270,508.5 1262.1,508.3 1254.1,508.2 1246,508 1237.9,508 1229.8,507.9 1221.6,507.8 1213.5,507.8 1205.3,507.8 1197.1,507.7 1189,507.7 1180.9,507.6 1172.9,507.6 1164.8,507.5 1156.7,507.5 1148.6,507.5 1140.5,507.4 1132.4,507.4 1124.3,507.4 1116.2,507.3 1108.1,507.3 1100,507.3"/>
<path d="M166,680 174,679.1 182,678.2 190,677.3 198,676.5 206,675.6 214,674.8 221.9,674 229.9,673.1 237.9,672.3 245.9,671.5 253.9,670.7 261.9,670 269.9,669.2 277.9,668.5 285.9,667.7 293.9,667 301.9,666.3 310,665.6 318,664.9 326,664.3 334,663.6 342,663 350,662.4 358,661.9 366,661.3 374.1,660.8 382.1,660.2 390.1,659.7 398.1,659.2 406.2,658.6 414.2,658.1 422.2,657.6 430.2,657 438.2,656.5 446.3,655.9 454.3,655.3 462.3,654.7 470.3,654.1 478.3,653.4 486.3,652.7 494.3,652 502.3,651.3 510.3,650.5 518.3,649.8 526.3,649 534.3,648.2 542.3,647.4 550.3,646.5 558.3,645.7 566.3,644.8 574.3,644 582.3,643.1 590.3,642.2 598.3,641.2 606.2,640.3 614.2,639.4 622.2,638.4 630.2,637.5 638.2,636.5 646.1,635.5 654.1,634.5 662.1,633.4 670,632.3 678,631.2 685.9,630.1 693.9,628.9 701.8,627.7 709.8,626.4 717.7,625.2 725.6,623.9 733.6,622.7 741.5,621.4 749.5,620.1 757.4,618.9 765.4,617.6 773.3,616.4 781.2,615.2 789.2,614 797.1,612.8 805.1,611.6 813.1,610.5 821,609.5 829,608.4 837,607.4 844.9,606.4 852.9,605.4 860.9,604.5 868.9,603.5 876.9,602.5 884.8,601.6 892.8,600.7 900.8,599.7 908.8,598.8 916.8,597.9 924.8,597 932.7,596.1 940.7,595.1 948.7,594.2 956.7,593.3 964.7,592.3 972.6,591.3 980.6,590.3 988.6,589.3 996.6,588.4 1004.6,587.4 1012.5,586.4 1020.5,585.4 1028.5,584.4 1036.5,583.4 1044.5,582.4 1052.4,581.3 1060.4,580.3 1068.4,579.3 1076.3,578.2 1084.3,577.1 1092.3,576 1100.2,574.9 1108.2,573.7 1116.1,572.6 1124.1,571.4 1132,570.2 1139.9,568.9 1147.8,567.6 1155.8,566.2 1163.7,564.8 1171.6,563.3 1179.5,561.9 1187.4,560.3 1195.3,558.8 1203.1,557.3 1211,555.7 1218.9,554.1 1226.8,552.6 1234.7,551 1242.6,549.5 1250.5,548 1258.4,546.5 1266.3,545 1274.2,543.6 1282.1,542.2 1290.1,540.9 1298,539.6 1305.9,538.4 1313.9,537.1 1321.8,535.9 1329.7,534.6 1337.7,533.4 1345.6,532.1 1353.5,530.8 1361.5,529.5 1369.5,528.2 1377.4,527 1385.3,525.6 1393.2,524.2 1401.1,522.6 1408.9,520.5 1416.5,517.5 1424.2,514.8 1431.9,513.5 1439.9,513.5 1447.9,513.5 1456,513.5 1464.1,513.6 1472.1,514.2 1480.1,515.2 1488,516.4 1495.9,517.7 1503.8,519.4 1511.7,521.1 1519.5,522.7 1527.4,524.2 1535.3,525.7 1543.2,527.2 1551.1,528.8 1559,530.5 1566.8,532.7 1574.6,534.6 1582.5,535.6 1590.5,536.2 1598.5,536.6 1606.5,537 1614.6,537.3 1622.7,537.5 1630.7,537.5 1638.7,537.3 1646.7,537 1654.8,536.5 1662.8,536 1670.8,535.3 1678.8,534.7 1686.9,534.1 1694.9,533.5 1702.9,533 1710.9,532.5 1718.9,532 1727,531.5 1735,531 1743,530.5 1751,530 1759.1,529.6 1767.1,529.2 1775.1,528.9 1783.1,528.6 1791.2,528.3 1799.2,528 1807.2,527.8 1815.3,527.6 1823.3,527.3 1831.4,527.1 1839.4,526.8 1847.4,526.5 1855.4,526.2 1863.5,525.8 1871.5,525.4 1879.5,524.9 1887.5,524.4 1895.5,523.8 1903.6,523.2 1911.6,522.5 1919.6,521.9 1927.6,521.2 1935.6,520.6 1943.6,519.9 1951.6,519.2 1959.6,518.6 1967.7,518 1975.7,517.4 1983.7,516.9 1991.7,516.3 1999.7,515.8 2007.8,515.2 2015.8,514.7 2023.8,514.1 2031.8,513.6 2039.8,513.1 2047.8,512.5 2055.9,512 2063.9,511.5 2071.9,511 2079.9,510.5 2088,510 2096,509.5 2104,509.0"/>
<path d="M166,706 174,705.2 182,704.5 190,703.8 198,703 206,702.3 214,701.5 222,700.8 230,700 238,699.3 246,698.5 254,697.8 262,697.1 270,696.3 278,695.6 286,694.8 294.1,694.1 302.1,693.4 310.1,692.6 318.1,691.9 326.1,691.2 334.1,690.5 342.1,689.8 350.1,689.1 358.1,688.4 366.1,687.7 374.1,687 382.1,686.3 390.1,685.6 398.1,684.9 406.2,684.2 414.2,683.5 422.2,682.8 430.2,682.1 438.2,681.3 446.2,680.6 454.2,679.8 462.2,679.1 470.2,678.3 478.2,677.5 486.2,676.7 494.2,675.8 502.1,675 510.1,674.1 518.1,673.2 526.1,672.3 534.1,671.4 542.1,670.4 550.1,669.5 558,668.5 566,667.5 574,666.5 582,665.6 589.9,664.6 597.9,663.6 605.9,662.6 613.9,661.6 621.9,660.5 629.8,659.5 637.8,658.5 645.8,657.5 653.8,656.5 661.7,655.5 669.7,654.4 677.7,653.4 685.6,652.3 693.6,651.2 701.6,650 709.5,648.9 717.5,647.8 725.4,646.7 733.4,645.5 741.4,644.4 749.3,643.3 757.3,642.2 765.3,641.2 773.2,640.1 781.2,639.1 789.2,638.1 797.1,637.2 805.1,636.3 813.1,635.4 821.1,634.6 829.1,633.8 837.1,633.2 845.1,632.5 853.1,631.8 861.2,631.1 869.2,630.4 877.1,629.6 885.1,628.7 893.1,627.7 901.1,626.7 909.1,625.7 917,624.7 925,623.6 932.9,622.5 940.9,621.3 948.9,620.2 956.8,619 964.8,617.8 972.7,616.6 980.7,615.5 988.6,614.3 996.6,613.1 1004.5,611.9 1012.5,610.7 1020.4,609.5 1028.4,608.3 1036.3,607 1044.3,605.8 1052.2,604.5 1060.1,603.2 1068.1,601.9 1076,600.6 1083.9,599.3 1091.9,598.1 1099.8,596.8 1107.7,595.6 1115.7,594.4 1123.6,593.2 1131.6,592 1139.5,590.9 1147.5,589.8 1155.5,588.7 1163.4,587.7 1171.4,586.6 1179.4,585.6 1187.4,584.6 1195.4,583.7 1203.3,582.7 1211.3,581.7 1219.3,580.7 1227.3,579.7 1235.3,578.7 1243.2,577.7 1251.2,576.7 1259.2,575.6 1267.1,574.6 1275.1,573.4 1283,572.3 1291,571.1 1298.9,569.9 1306.8,568.6 1314.8,567.2 1322.7,565.7 1330.6,564.2 1338.5,562.7 1346.3,561.1 1354.2,559.6 1362.1,558 1370,556.3 1377.8,554.6 1385.7,552.9 1393.6,551.3 1401.5,549.7 1409.4,548.2 1417.3,546.8 1425.2,545.4 1433.1,543.9 1441.1,542.8 1449.1,542.6 1457.1,542.6 1465.2,542.6 1473.2,542.6 1481.2,543.3 1489,545 1496.9,547 1504.7,548.8 1512.6,550.7 1520.3,552.7 1528.1,554.8 1535.9,557.1 1543.5,559.8 1551.3,562.2 1559,563.7 1566.9,564.3 1574.9,564.8 1582.9,565.3 1591,565.7 1599,566 1607.1,566.2 1615.2,566.4 1623.3,566.5 1631.3,566.5 1639.3,566 1647.3,565 1655.2,563.8 1663.2,562.6 1671.2,561.6 1679.2,560.6 1687.2,559.7 1695.2,558.8 1703.1,557.9 1711.1,557 1719.1,556.2 1727.1,555.4 1735.1,554.7 1743.1,553.9 1751.1,553.2 1759.2,552.5 1767.2,551.9 1775.2,551.2 1783.2,550.7 1791.2,550.2 1799.2,549.8 1807.3,549.4 1815.3,549.1 1823.3,548.9 1831.4,548.6 1839.4,548.3 1847.4,548.1 1855.5,547.7 1863.5,547.3 1871.5,546.8 1879.5,546.3 1887.5,545.7 1895.6,545.1 1903.6,544.4 1911.6,543.7 1919.6,542.9 1927.6,542.2 1935.6,541.5 1943.6,540.7 1951.6,540 1959.6,539.3 1967.6,538.7 1975.7,538.1 1983.7,537.6 1991.7,537 1999.7,536.4 2007.7,535.9 2015.7,535.3 2023.8,534.8 2031.8,534.3 2039.8,533.8 2047.8,533.3 2055.8,532.8 2063.9,532.3 2071.9,531.8 2079.9,531.3 2087.9,530.9 2096,530.4 2104,530.0"/>
<path d="M166,731.5 174,730.8 182.1,730 190.1,729.2 198.1,728.5 206.1,727.7 214.2,727 222.2,726.2 230.2,725.4 238.2,724.7 246.3,723.9 254.3,723.1 262.3,722.4 270.3,721.6 278.4,720.8 286.4,720 294.4,719.2 302.4,718.4 310.5,717.6 318.5,716.9 326.5,716.1 334.5,715.3 342.6,714.5 350.6,713.7 358.6,712.9 366.6,712.2 374.7,711.4 382.7,710.6 390.7,709.8 398.7,709 406.8,708.2 414.8,707.4 422.8,706.6 430.8,705.7 438.8,704.9 446.9,704.1 454.9,703.2 462.9,702.3 470.9,701.4 478.9,700.5 486.9,699.5 494.9,698.6 502.9,697.6 510.9,696.5 518.9,695.4 526.9,694.4 534.9,693.3 542.8,692.1 550.8,691 558.8,689.8 566.8,688.7 574.8,687.5 582.8,686.4 590.7,685.2 598.7,684 606.7,682.9 614.7,681.8 622.7,680.7 630.7,679.6 638.7,678.5 646.6,677.4 654.6,676.4 662.6,675.4 670.6,674.4 678.6,673.3 686.6,672.3 694.6,671.3 702.6,670.3 710.6,669.3 718.6,668.3 726.6,667.3 734.6,666.3 742.6,665.3 750.6,664.3 758.7,663.4 766.7,662.5 774.7,661.5 782.7,660.6 790.7,659.7 798.7,658.9 806.7,658 814.7,657.2 822.8,656.4 830.8,655.7 838.8,655 846.9,654.3 854.9,653.6 862.9,652.9 871,652.2 879,651.4 887,650.7 895,649.9 903.1,649.1 911.1,648.3 919.1,647.4 927.1,646.6 935.1,645.8 943.2,645 951.2,644.1 959.2,643.3 967.2,642.4 975.2,641.6 983.3,640.7 991.3,639.8 999.3,639 1007.3,638.1 1015.3,637.2 1023.3,636.4 1031.3,635.5 1039.4,634.6 1047.4,633.7 1055.4,632.8 1063.4,631.9 1071.4,631 1079.4,630.1 1087.4,629.2 1095.4,628.3 1103.4,627.4 1111.5,626.4 1119.5,625.5 1127.5,624.6 1135.5,623.7 1143.5,622.7 1151.5,621.8 1159.5,620.9 1167.5,620 1175.6,619.2 1183.6,618.4 1191.6,617.5 1199.7,616.7 1207.7,615.9 1215.8,615 1223.8,614.2 1231.8,613.3 1239.8,612.4 1247.9,611.5 1255.9,610.5 1263.9,609.5 1271.8,608.5 1279.8,607.4 1287.8,606.2 1295.7,605 1303.6,603.7 1311.5,602.1 1319.3,600.2 1327.1,598.2 1334.9,596 1342.7,593.8 1350.5,591.7 1358.3,589.6 1366.2,587.7 1374.1,586.1 1382,584.7 1389.9,583.3 1397.9,582 1405.9,580.7 1413.9,579.7 1422,579 1430,578.8 1438,578.8 1446.1,578.9 1454.2,579.1 1462.3,579.3 1470.3,579.6 1478.4,579.9 1486.3,580.6 1494.2,581.9 1502.1,583.7 1510,585.7 1517.9,587.7 1525.8,589.3 1533.7,590.5 1541.7,591.6 1549.8,592.7 1557.8,593.6 1565.8,594.4 1573.9,594.9 1581.9,595 1590,594.9 1598,594.6 1606.1,594.1 1614.1,593.6 1622.2,593.1 1630.2,592.5 1638.2,591.8 1646.2,590.8 1654.2,589.7 1662.2,588.5 1670.2,587.2 1678.1,585.9 1686.1,584.7 1694.1,583.5 1702.1,582.5 1710.1,581.4 1718.1,580.4 1726.1,579.3 1734.1,578.3 1742.1,577.3 1750.1,576.4 1758.1,575.6 1766.2,574.9 1774.2,574.2 1782.2,573.6 1790.3,573.1 1798.3,572.6 1806.4,572.1 1814.4,571.6 1822.5,571.2 1830.5,570.7 1838.6,570.3 1846.6,569.8 1854.7,569.3 1862.7,568.8 1870.8,568.3 1878.8,567.8 1886.9,567.3 1894.9,566.9 1903,566.4 1911,565.9 1919,565.4 1927.1,564.9 1935.1,564.4 1943.2,563.9 1951.2,563.3 1959.3,562.8 1967.3,562.3 1975.4,561.7 1983.4,561.2 1991.5,560.6 1999.5,560.1 2007.5,559.5 2015.6,558.9 2023.6,558.3 2031.7,557.7 2039.7,557.1 2047.7,556.5 2055.8,555.9 2063.8,555.2 2071.9,554.6 2079.9,554 2087.9,553.3 2096,552.7 2104,552.0"/>
<path d="M166,757 174,756.2 182,755.4 190,754.6 198.1,753.9 206.1,753.1 214.1,752.3 222.1,751.5 230.1,750.7 238.1,749.9 246.1,749.1 254.1,748.3 262.2,747.5 270.2,746.7 278.2,745.9 286.2,745.1 294.2,744.3 302.2,743.5 310.2,742.7 318.2,741.9 326.3,741.1 334.3,740.3 342.3,739.5 350.3,738.7 358.3,737.9 366.3,737.1 374.3,736.3 382.4,735.5 390.4,734.8 398.4,734 406.4,733.2 414.4,732.4 422.4,731.5 430.4,730.7 438.4,729.9 446.5,729 454.5,728.2 462.5,727.3 470.5,726.4 478.5,725.5 486.5,724.6 494.5,723.7 502.4,722.7 510.4,721.7 518.4,720.7 526.4,719.7 534.4,718.7 542.4,717.6 550.4,716.6 558.3,715.5 566.3,714.4 574.3,713.3 582.3,712.3 590.3,711.2 598.2,710.1 606.2,709 614.2,707.9 622.2,706.8 630.2,705.7 638.1,704.6 646.1,703.5 654.1,702.4 662.1,701.4 670.1,700.3 678,699.2 686,698.1 694,697 702,695.9 710,694.9 717.9,693.8 725.9,692.7 733.9,691.6 741.9,690.5 749.8,689.4 757.8,688.3 765.8,687.2 773.8,686 781.7,684.9 789.7,683.8 797.7,682.7 805.7,681.6 813.6,680.5 821.6,679.3 829.6,678.1 837.5,676.9 845.5,675.7 853.5,674.5 861.4,673.4 869.4,672.4 877.4,671.5 885.4,670.8 893.4,670 901.5,669.3 909.5,668.7 917.5,668.1 925.5,667.5 933.6,666.9 941.6,666.3 949.7,665.8 957.7,665.2 965.7,664.6 973.8,664.1 981.8,663.5 989.8,662.8 997.9,662.2 1005.9,661.5 1013.9,660.8 1021.9,660.1 1029.9,659.3 1038,658.6 1046,657.9 1054,657.1 1062,656.3 1070,655.6 1078,654.8 1086.1,654 1094.1,653.3 1102.1,652.5 1110.1,651.7 1118.1,651 1126.1,650.2 1134.2,649.5 1142.2,648.7 1150.2,648 1158.2,647.3 1166.2,646.6 1174.3,645.9 1182.3,645.2 1190.3,644.6 1198.4,643.9 1206.4,643.3 1214.4,642.7 1222.5,642 1230.5,641.4 1238.5,640.7 1246.5,640 1254.6,639.3 1262.6,638.6 1270.6,637.8 1278.6,637 1286.6,636.2 1294.6,635.3 1302.6,634.4 1310.6,633.3 1318.5,632.2 1326.5,630.9 1334.4,629.6 1342.4,628.2 1350.3,626.9 1358.3,625.6 1366.2,624.4 1374.2,623.2 1382.2,622.2 1390.2,621.2 1398.2,620.1 1406.2,619.1 1414.2,618.3 1422.2,617.7 1430.3,617.5 1438.3,617.6 1446.3,617.9 1454.4,618.4 1462.4,618.9 1470.5,619.5 1478.5,619.9 1486.6,620.4 1494.6,620.9 1502.6,621.4 1510.7,621.9 1518.7,622.3 1526.8,622.5 1534.8,622.5 1542.9,622.4 1550.9,622.2 1559,621.9 1567,621.6 1575.1,621.2 1583.1,620.8 1591.1,620.2 1599.1,619.3 1607.1,618.2 1615.1,617.1 1623.1,615.9 1631.1,614.9 1639,613.8 1647,612.7 1655,611.5 1663,610.3 1670.9,609.1 1678.9,607.8 1686.9,606.6 1694.8,605.4 1702.8,604.1 1710.7,603 1718.7,601.8 1726.7,600.7 1734.7,599.7 1742.7,598.8 1750.7,597.9 1758.7,597.2 1766.7,596.4 1774.7,595.8 1782.7,595.1 1790.7,594.5 1798.8,593.9 1806.8,593.4 1814.8,592.8 1822.9,592.3 1830.9,591.8 1838.9,591.3 1847,590.8 1855,590.3 1863.1,589.8 1871.1,589.3 1879.2,588.8 1887.2,588.3 1895.2,587.8 1903.3,587.3 1911.3,586.8 1919.3,586.2 1927.4,585.6 1935.4,585 1943.4,584.4 1951.5,583.8 1959.5,583.2 1967.5,582.5 1975.5,581.9 1983.6,581.3 1991.6,580.6 1999.6,580 2007.7,579.4 2015.7,578.8 2023.7,578.2 2031.7,577.6 2039.8,576.9 2047.8,576.3 2055.8,575.7 2063.9,575.1 2071.9,574.5 2079.9,573.9 2087.9,573.2 2096,572.6 2104,572.0"/>
<path d="M166,780.6 174,780 182.1,779.4 190.1,778.8 198.1,778.2 206.1,777.6 214.2,777 222.2,776.3 230.2,775.7 238.3,775 246.3,774.3 254.3,773.6 262.3,773 270.3,772.2 278.4,771.5 286.4,770.8 294.4,770.1 302.4,769.4 310.4,768.6 318.4,767.9 326.4,767.1 334.5,766.3 342.5,765.5 350.5,764.7 358.5,763.9 366.5,763.1 374.5,762.3 382.5,761.4 390.5,760.5 398.5,759.7 406.5,758.8 414.5,757.9 422.5,757 430.5,756.1 438.5,755.2 446.5,754.3 454.5,753.4 462.5,752.4 470.5,751.5 478.5,750.5 486.5,749.6 494.5,748.6 502.5,747.6 510.5,746.7 518.5,745.7 526.5,744.7 534.5,743.7 542.4,742.6 550.4,741.6 558.4,740.6 566.4,739.5 574.4,738.5 582.4,737.4 590.3,736.3 598.3,735.2 606.3,734.1 614.3,733 622.2,731.9 630.2,730.8 638.2,729.7 646.2,728.5 654.1,727.4 662.1,726.3 670.1,725.1 678,723.9 686,722.7 693.9,721.5 701.9,720.3 709.8,719 717.8,717.8 725.8,716.6 733.7,715.3 741.7,714 749.6,712.8 757.6,711.5 765.5,710.2 773.5,709 781.4,707.7 789.4,706.4 797.3,705.1 805.3,703.9 813.2,702.6 821.2,701.3 829.1,700 837.1,698.6 845,697.2 852.9,695.8 860.9,694.6 868.8,693.5 876.8,692.6 884.8,691.8 892.8,691 900.8,690.3 908.9,689.7 916.9,689.1 924.9,688.5 933,687.9 941,687.4 949,686.9 957.1,686.3 965.1,685.8 973.2,685.2 981.2,684.6 989.2,683.9 997.2,683.2 1005.3,682.5 1013.3,681.7 1021.3,680.9 1029.3,680 1037.3,679.1 1045.3,678.2 1053.3,677.3 1061.3,676.4 1069.3,675.5 1077.3,674.7 1085.3,673.9 1093.3,673.1 1101.3,672.4 1109.4,671.7 1117.4,671 1125.4,670.3 1133.4,669.6 1141.5,669 1149.5,668.3 1157.5,667.7 1165.5,667.1 1173.6,666.5 1181.6,665.8 1189.6,665.2 1197.7,664.6 1205.7,664 1213.7,663.3 1221.7,662.7 1229.8,662 1237.8,661.4 1245.8,660.7 1253.8,660 1261.8,659.3 1269.9,658.5 1277.9,657.8 1285.9,657 1293.9,656.1 1301.9,655.3 1309.9,654.3 1317.9,653.1 1325.8,651.8 1333.8,650.4 1341.8,649.1 1349.7,647.9 1357.7,646.8 1365.7,645.9 1373.7,645.3 1381.7,645 1389.7,644.8 1397.8,644.7 1405.8,644.5 1413.9,644.4 1421.9,644.4 1430,644.3 1438,644.2 1446.1,644.2 1454.2,644.1 1462.2,644 1470.3,643.9 1478.3,643.8 1486.4,643.6 1494.4,643.5 1502.5,643.3 1510.5,643.1 1518.6,642.9 1526.6,642.6 1534.6,642.3 1542.7,641.7 1550.7,641 1558.6,640.1 1566.6,639.1 1574.6,638 1582.6,636.8 1590.6,635.5 1598.5,634.3 1606.5,633.1 1614.5,632 1622.5,630.9 1630.5,629.9 1638.5,629.1 1646.5,628.2 1654.5,627.3 1662.5,626.4 1670.5,625.5 1678.5,624.7 1686.5,623.8 1694.5,623 1702.5,622.2 1710.6,621.4 1718.6,620.6 1726.6,619.9 1734.6,619.2 1742.6,618.5 1750.7,617.8 1758.7,617.2 1766.7,616.6 1774.7,616.1 1782.8,615.6 1790.8,615.1 1798.8,614.6 1806.9,614.1 1814.9,613.7 1822.9,613.2 1831,612.8 1839,612.4 1847.1,611.9 1855.1,611.5 1863.2,611.1 1871.2,610.6 1879.2,610.2 1887.3,609.7 1895.3,609.3 1903.3,608.8 1911.4,608.2 1919.4,607.7 1927.4,607.1 1935.5,606.5 1943.5,605.8 1951.5,605.2 1959.5,604.5 1967.6,603.8 1975.6,603.1 1983.6,602.4 1991.6,601.7 1999.6,601 2007.7,600.4 2015.7,599.7 2023.7,599.1 2031.7,598.5 2039.8,597.9 2047.8,597.2 2055.8,596.6 2063.9,596 2071.9,595.4 2079.9,594.8 2087.9,594.2 2096,593.6 2104,593.0"/>
<path d="M166,807.6 174,806.8 182,806 190,805.2 198,804.4 206.1,803.6 214.1,802.8 222.1,802 230.1,801.2 238.1,800.4 246.1,799.5 254.1,798.7 262.1,797.9 270.1,797 278.1,796.2 286.1,795.3 294.1,794.5 302.1,793.6 310.1,792.7 318.1,791.9 326.1,791 334.1,790.1 342.1,789.2 350.1,788.3 358.1,787.4 366.1,786.5 374.1,785.6 382.1,784.7 390.1,783.8 398.1,782.9 406.1,782 414.1,781 422.1,780.1 430.1,779.2 438.1,778.3 446.1,777.3 454.1,776.4 462.1,775.4 470.1,774.5 478.1,773.6 486.1,772.6 494.1,771.7 502.1,770.8 510.1,769.8 518.1,768.9 526.1,768 534.1,767 542.1,766.1 550.1,765.2 558.1,764.2 566.1,763.3 574.1,762.3 582,761.4 590,760.4 598,759.5 606,758.5 614,757.5 622,756.5 630,755.5 638,754.5 646,753.5 653.9,752.5 661.9,751.5 669.9,750.4 677.9,749.4 685.9,748.3 693.8,747.2 701.8,746.1 709.8,745 717.8,743.9 725.8,742.8 733.7,741.7 741.7,740.6 749.7,739.5 757.6,738.4 765.6,737.3 773.6,736.1 781.6,735 789.5,733.9 797.5,732.7 805.5,731.6 813.4,730.5 821.4,729.4 829.4,728.2 837.3,727 845.3,725.9 853.3,724.7 861.2,723.6 869.2,722.5 877.2,721.5 885.2,720.4 893.2,719.4 901.2,718.4 909.2,717.5 917.1,716.5 925.1,715.5 933.1,714.6 941.1,713.7 949.1,712.7 957.1,711.8 965.1,710.9 973.1,710 981.1,709.1 989.1,708.2 997.1,707.4 1005.1,706.5 1013.1,705.6 1021.1,704.7 1029.1,703.9 1037.2,703 1045.2,702.2 1053.2,701.3 1061.2,700.4 1069.2,699.6 1077.2,698.7 1085.2,697.9 1093.2,697 1101.2,696.2 1109.2,695.3 1117.2,694.5 1125.2,693.7 1133.2,692.8 1141.2,692 1149.2,691.2 1157.2,690.4 1165.3,689.6 1173.3,688.8 1181.3,688 1189.3,687.2 1197.3,686.4 1205.3,685.6 1213.3,684.8 1221.3,684 1229.3,683.2 1237.3,682.4 1245.4,681.6 1253.4,680.8 1261.4,680 1269.4,679.2 1277.4,678.3 1285.4,677.5 1293.4,676.7 1301.4,675.9 1309.4,675 1317.4,674.1 1325.4,673.2 1333.4,672.3 1341.4,671.3 1349.4,670.4 1357.4,669.6 1365.4,668.8 1373.5,668 1381.5,667.4 1389.5,666.8 1397.5,666.2 1405.5,665.7 1413.6,665.1 1421.6,664.6 1429.6,664.2 1437.7,663.7 1445.7,663.3 1453.8,662.9 1461.8,662.5 1469.9,662 1477.9,661.6 1485.9,661.2 1494,660.8 1502,660.4 1510.1,659.9 1518.1,659.4 1526.1,659 1534.2,658.5 1542.2,657.9 1550.2,657.4 1558.3,656.8 1566.3,656.1 1574.3,655.4 1582.3,654.7 1590.3,653.9 1598.3,653.1 1606.4,652.3 1614.4,651.5 1622.4,650.7 1630.4,650 1638.4,649.2 1646.4,648.4 1654.4,647.5 1662.4,646.7 1670.4,645.8 1678.4,644.9 1686.4,644.1 1694.5,643.2 1702.5,642.4 1710.5,641.5 1718.5,640.7 1726.5,640 1734.5,639.2 1742.5,638.5 1750.5,637.8 1758.6,637.2 1766.6,636.7 1774.6,636.1 1782.6,635.6 1790.7,635 1798.7,634.5 1806.7,634.1 1814.8,633.6 1822.8,633.1 1830.9,632.7 1838.9,632.3 1846.9,631.8 1855,631.4 1863,631 1871.1,630.5 1879.1,630.1 1887.1,629.6 1895.2,629.2 1903.2,628.7 1911.2,628.2 1919.3,627.7 1927.3,627.1 1935.3,626.6 1943.4,626 1951.4,625.5 1959.4,624.9 1967.5,624.3 1975.5,623.7 1983.5,623.2 1991.6,622.6 1999.6,622 2007.6,621.5 2015.6,620.9 2023.7,620.4 2031.7,619.8 2039.7,619.3 2047.8,618.7 2055.8,618.2 2063.8,617.7 2071.9,617.1 2079.9,616.6 2087.9,616.1 2096,615.5 2104,615.0"/>
<path d="M250,825 258,824 266,823.1 273.9,822.1 281.9,821.2 289.9,820.2 297.9,819.2 305.8,818.3 313.8,817.3 321.8,816.4 329.8,815.4 337.8,814.4 345.7,813.5 353.7,812.5 361.7,811.6 369.7,810.6 377.6,809.6 385.6,808.7 393.6,807.7 401.6,806.8 409.6,805.8 417.5,804.9 425.5,803.9 433.5,802.9 441.5,802 449.4,801 457.4,800.1 465.4,799.1 473.4,798.2 481.4,797.2 489.3,796.2 497.3,795.3 505.3,794.3 513.3,793.4 521.2,792.4 529.2,791.5 537.2,790.5 545.2,789.5 553.2,788.6 561.1,787.6 569.1,786.7 577.1,785.7 585.1,784.8 593.1,783.8 601,782.9 609,781.9 617,781 625,780 632.9,779 640.9,778.1 648.9,777.1 656.9,776.2 664.9,775.2 672.8,774.3 680.8,773.3 688.8,772.4 696.8,771.4 704.8,770.5 712.7,769.5 720.7,768.6 728.7,767.6 736.7,766.7 744.6,765.7 752.6,764.8 760.6,763.8 768.6,762.9 776.6,761.9 784.5,761 792.5,760 800.5,759 808.5,758 816.4,757.1 824.4,756.1 832.4,755.1 840.4,754 848.3,753 856.3,752 864.3,751 872.3,750.1 880.2,749.2 888.2,748.3 896.2,747.4 904.2,746.5 912.2,745.7 920.2,744.8 928.2,744 936.2,743.2 944.2,742.3 952.1,741.5 960.1,740.7 968.1,739.9 976.1,739.1 984.1,738.3 992.1,737.5 1000.1,736.7 1008.1,735.9 1016.1,735.1 1024.1,734.3 1032.1,733.5 1040.1,732.7 1048.1,731.9 1056.1,731 1064.1,730.2 1072.1,729.3 1080,728.4 1088,727.5 1096,726.6 1104,725.7 1112,724.7 1120,723.8 1127.9,722.8 1135.9,721.8 1143.9,720.8 1151.8,719.8 1159.8,718.7 1167.8,717.7 1175.8,716.7 1183.7,715.7 1191.7,714.6 1199.7,713.6 1207.7,712.6 1215.6,711.6 1223.6,710.6 1231.6,709.6 1239.6,708.6 1247.5,707.7 1255.5,706.8 1263.5,705.8 1271.5,705 1279.5,704.1 1287.4,703.3 1295.4,702.4 1303.4,701.7 1311.4,700.9 1319.4,700.2 1327.4,699.5 1335.4,698.8 1343.4,698.1 1351.5,697.5 1359.5,696.8 1367.5,696.2 1375.5,695.6 1383.5,695 1391.5,694.3 1399.5,693.7 1407.5,693.1 1415.5,692.4 1423.6,691.8 1431.6,691.1 1439.6,690.5 1447.6,689.8 1455.6,689.1 1463.6,688.4 1471.6,687.7 1479.6,687 1487.6,686.3 1495.6,685.6 1503.6,684.9 1511.6,684.1 1519.6,683.3 1527.6,682.5 1535.6,681.7 1543.6,680.8 1551.5,679.8 1559.5,678.9 1567.5,677.9 1575.5,676.9 1583.4,675.8 1591.4,674.8 1599.4,673.8 1607.4,672.8 1615.3,671.7 1623.3,670.7 1631.3,669.7 1639.3,668.8 1647.2,667.9 1655.2,667 1663.2,666.1 1671.2,665.2 1679.2,664.3 1687.2,663.5 1695.2,662.6 1703.2,661.8 1711.2,660.9 1719.2,660.1 1727.2,659.4 1735.2,658.6 1743.2,657.9 1751.2,657.3 1759.2,656.7 1767.2,656.1 1775.2,655.6 1783.2,655.1 1791.2,654.6 1799.2,654.1 1807.3,653.7 1815.3,653.2 1823.3,652.8 1831.3,652.4 1839.4,652 1847.4,651.6 1855.4,651.2 1863.5,650.8 1871.5,650.4 1879.5,649.9 1887.5,649.5 1895.6,649.1 1903.6,648.6 1911.6,648.1 1919.6,647.7 1927.6,647.1 1935.7,646.6 1943.7,646 1951.7,645.5 1959.7,644.9 1967.7,644.3 1975.7,643.7 1983.7,643.1 1991.8,642.6 1999.8,642 2007.8,641.5 2015.8,640.9 2023.8,640.4 2031.8,639.8 2039.9,639.3 2047.9,638.7 2055.9,638.2 2063.9,637.7 2071.9,637.1 2079.9,636.6 2088,636.1 2096,635.5 2104,635.0"/>
<path d="M497,825 505,823.9 512.9,822.8 520.9,821.7 528.9,820.6 536.8,819.5 544.8,818.4 552.8,817.3 560.7,816.2 568.7,815.2 576.7,814.1 584.7,813.1 592.6,812.1 600.6,811.1 608.6,810.1 616.6,809.1 624.5,808.1 632.5,807.1 640.5,806.1 648.5,805.2 656.5,804.2 664.5,803.3 672.4,802.4 680.4,801.5 688.4,800.7 696.4,799.8 704.4,799 712.4,798.2 720.4,797.3 728.4,796.5 736.4,795.7 744.4,794.9 752.4,794 760.4,793.2 768.4,792.4 776.4,791.5 784.4,790.7 792.4,789.8 800.4,788.9 808.4,788 816.4,787.1 824.4,786.1 832.3,785.1 840.3,784.1 848.3,783.1 856.3,782.1 864.2,781.1 872.2,780.1 880.2,779.1 888.2,778.2 896.2,777.3 904.2,776.3 912.1,775.4 920.1,774.5 928.1,773.6 936.1,772.7 944.1,771.8 952.1,770.9 960.1,770 968.1,769.1 976.1,768.2 984.1,767.3 992.1,766.4 1000,765.5 1008,764.6 1016,763.7 1024,762.8 1032,761.9 1040,761 1048,760.1 1056,759.2 1064,758.3 1072,757.4 1079.9,756.5 1087.9,755.5 1095.9,754.6 1103.9,753.6 1111.9,752.7 1119.9,751.7 1127.8,750.7 1135.8,749.7 1143.8,748.7 1151.8,747.7 1159.8,746.7 1167.7,745.7 1175.7,744.6 1183.7,743.6 1191.7,742.6 1199.7,741.6 1207.6,740.6 1215.6,739.6 1223.6,738.7 1231.6,737.7 1239.6,736.7 1247.5,735.8 1255.5,734.9 1263.5,733.9 1271.5,733 1279.5,732.2 1287.5,731.3 1295.5,730.5 1303.5,729.6 1311.5,728.9 1319.5,728.1 1327.5,727.3 1335.5,726.6 1343.5,725.8 1351.5,725.1 1359.5,724.4 1367.5,723.7 1375.5,723 1383.6,722.3 1391.6,721.6 1399.6,721 1407.6,720.3 1415.6,719.6 1423.6,718.9 1431.6,718.2 1439.6,717.5 1447.6,716.8 1455.7,716.1 1463.7,715.4 1471.7,714.8 1479.7,714.1 1487.7,713.5 1495.8,712.8 1503.8,712.1 1511.8,711.3 1519.7,710.4 1527.7,709.4 1535.6,708.1 1543.6,706.7 1551.5,705.3 1559.4,704.1 1567.4,703.1 1575.4,702.1 1583.4,701.2 1591.4,700.4 1599.3,699.5 1607.4,698.8 1615.4,698 1623.4,697.3 1631.4,696.5 1639.4,695.8 1647.4,695.1 1655.4,694.4 1663.4,693.7 1671.4,692.9 1679.5,692.1 1687.5,691.3 1695.5,690.5 1703.4,689.6 1711.4,688.7 1719.4,687.7 1727.4,686.6 1735.4,685.6 1743.3,684.5 1751.3,683.4 1759.3,682.3 1767.3,681.2 1775.2,680.1 1783.2,679.1 1791.2,678.1 1799.2,677.2 1807.2,676.3 1815.2,675.6 1823.2,674.9 1831.2,674.3 1839.2,673.7 1847.2,673.2 1855.2,672.7 1863.2,672.2 1871.3,671.7 1879.3,671.3 1887.3,670.9 1895.3,670.5 1903.4,670.1 1911.4,669.7 1919.5,669.3 1927.5,668.9 1935.5,668.5 1943.6,668.1 1951.6,667.7 1959.6,667.3 1967.7,666.9 1975.7,666.5 1983.7,666 1991.8,665.5 1999.8,665 2007.8,664.5 2015.8,663.9 2023.8,663.4 2031.9,662.8 2039.9,662.2 2047.9,661.6 2055.9,660.9 2063.9,660.3 2071.9,659.7 2080,659 2088,658.3 2096,657.7 2104,657.0"/>
<path d="M1380,504.5 1388.1,504.5 1396.3,504.5 1404.4,504.4 1412.5,504.4 1420.5,504.3 1428.6,504.2 1436.7,504.1 1444.8,503.8 1452.9,503 1461,501.8 1468.9,500.3 1476.2,497.5 1483.4,493.2 1490.7,489.8 1498.4,487.1 1506.4,485.3 1514.3,485.2 1522.3,486.1 1530.3,487.6 1538.4,489.2 1546.4,490.4 1554.5,491 1562.5,491 1570.6,490.9 1578.7,490.9 1586.8,490.8 1594.9,490.7 1603,490.5 1611.1,490.4 1619.2,490.2 1627.3,490.1 1635.4,489.9 1643.5,489.5 1651.6,489.1 1659.7,488.6 1667.8,488 1675.8,487.4 1683.9,486.8 1692,486.2 1700.1,485.6 1708.1,485.1 1716.2,484.6 1724.3,484.2 1732.4,483.8 1740.5,483.3 1748.6,482.9 1756.6,482.4 1764.7,481.9 1772.8,481.4 1780.9,480.9 1789,480.3 1797,479.8 1805.1,479.3 1813.2,478.7 1821.3,478.2 1829.4,477.6 1837.4,477 1845.5,476.5 1853.6,475.9 1861.7,475.4 1869.7,474.8 1877.8,474.3 1885.9,473.7 1894,473.2 1902.1,472.6 1910.1,472.1 1918.2,471.5 1926.3,471 1934.4,470.4 1942.4,469.9 1950.5,469.3 1958.6,468.8 1966.7,468.2 1974.8,467.7 1982.8,467.1 1990.9,466.6 1999,466 2007.1,465.5 2015.1,465 2023.2,464.4 2031.3,463.9 2039.4,463.3 2047.5,462.8 2055.5,462.2 2063.6,461.7 2071.7,461.2 2079.8,460.6 2087.8,460.1 2095.9,459.5 2104,459.0"/>
<path d="M1380,506 1388.2,506.2 1396.3,506.3 1404.5,506.4 1412.7,506.4 1420.9,506.5 1429,506.5 1437.2,506.5 1445.4,506.5 1453.6,506.4 1461.8,506.3 1469.9,506.2 1478,506 1486,504.5 1494,501.7 1501.9,499.8 1509.8,500.3 1517.7,502.3 1525.7,504.8 1533.6,507 1541.5,509.5 1549.4,511.8 1557.4,513.2 1565.5,513.3 1573.6,513.1 1581.7,512.8 1589.9,512.5 1598.1,512.2 1606.3,511.8 1614.5,511.5 1622.7,511.2 1630.9,511 1639,510.9 1647.2,510.8 1655.4,510.7 1663.5,510.6 1671.7,510.5 1679.9,510.3 1688,510.2 1696.2,510 1704.4,509.8 1712.6,509.5 1720.7,509.3 1728.9,509 1737.1,508.8 1745.2,508.5 1753.4,508.2 1761.6,507.9 1769.7,507.6 1777.9,507.3 1786,506.9 1794.2,506.5 1802.4,506 1810.5,505.6 1818.7,505.1 1826.8,504.6 1835,504.1 1843.1,503.6 1851.3,503.1 1859.4,502.5 1867.6,502 1875.8,501.4 1883.9,500.9 1892,500.3 1900.2,499.6 1908.3,499 1916.5,498.4 1924.6,497.7 1932.8,497.1 1940.9,496.5 1949.1,495.8 1957.2,495.2 1965.4,494.6 1973.5,494.1 1981.7,493.5 1989.8,493 1998,492.4 2006.1,491.9 2014.3,491.4 2022.4,490.9 2030.6,490.3 2038.7,489.8 2046.9,489.3 2055.1,488.8 2063.2,488.3 2071.4,487.9 2079.5,487.4 2087.7,486.9 2095.8,486.5 2104,486.0"/>
<path d="M690,504.8 698.1,504.8 706.2,504.8 714.4,504.8 722.5,504.8 730.6,504.9 738.7,504.9 746.8,504.9 754.9,504.9 763.1,504.9 771.2,504.9 779.3,504.9 787.4,504.9 795.5,504.9 803.6,504.9 811.8,505 819.9,505 828,505 836.1,505 844.2,505 852.4,505 860.5,505 868.6,505 876.7,505 884.8,505 892.9,505 901.1,505 909.2,505 917.3,505 925.4,505 933.5,505 941.6,505 949.8,505 957.9,505 966,505 974.1,505 982.2,505 990.4,505 998.5,505 1006.6,505 1014.7,505 1022.8,505 1030.9,505 1039.1,505 1047.2,505 1055.3,505 1063.4,505 1071.5,505 1079.6,505 1087.8,505 1095.9,505 1104,505 1112.1,505 1120.2,505 1128.4,505 1136.5,505 1144.6,505 1152.7,505 1160.8,505 1168.9,505 1177.1,505 1185.2,505 1193.3,505 1201.4,505 1209.5,505 1217.6,505 1225.8,505 1233.9,505 1242,505 1250.1,505 1258.2,505 1266.4,505 1274.5,505 1282.6,505 1290.7,505 1298.8,505 1306.9,505 1315.1,505 1323.2,505 1331.3,505 1339.4,505 1347.5,505 1355.6,505 1363.8,505 1371.9,505 1380,505.0"/>
</g><path d="M700,503.6H1385" stroke="#d80000" stroke-opacity=".75" stroke-width="1.8" fill="none" filter="url(#bl)"/></g>
<path d="M490.0,437.5 490.0,437.3 490.0,436.8 490.1,435.7 490.2,434.2 490.3,432.6 490.5,431.2 490.7,429.9 490.9,428.7 491.2,427.5 491.5,426.3 491.9,425.0 492.3,423.7 492.8,422.4 493.2,421.1 493.8,419.9 494.4,418.8 495.0,417.8 495.6,416.8 496.4,415.9 497.1,415.0 497.9,414.1 498.8,413.2 499.7,412.4 500.6,411.6 501.6,410.8 502.7,410.0 503.8,409.2 504.9,408.4 506.1,407.5 507.4,406.7 508.7,405.8 510.0,404.9 511.4,404.1 512.9,403.2 514.4,402.2 515.9,401.3 517.6,400.4 519.2,399.4 520.9,398.5 522.7,397.6 524.5,396.7 526.4,395.8 528.3,395.0 530.3,394.1 532.4,393.3 534.5,392.5 536.6,391.7 538.8,391.0 541.1,390.4 543.4,389.7 545.8,389.1 548.3,388.6 550.7,388.0 553.3,387.5 555.9,387.0 558.6,386.5 561.3,386.0 564.1,385.5 566.9,385.0 569.8,384.5 572.8,384.0 575.8,383.5 578.8,382.9 582.0,382.4 585.2,381.8 588.4,381.3 591.7,380.8 595.1,380.3 598.5,379.8 602.0,379.4 605.6,378.9 609.2,378.5 612.9,378.0 616.6,377.6 620.4,377.2 624.2,376.7 628.2,376.3 632.1,375.8 636.2,375.4 640.3,375.0 644.4,374.6 648.7,374.3 653.0,374.0 657.3,373.7 661.7,373.4 666.2,373.1 670.7,372.9 675.3,372.8 680.0,372.7 690.9,372.7 701.8,372.7 712.7,372.7 723.6,372.7 734.5,372.7 745.5,372.7 756.4,372.7 767.3,372.7 778.2,372.7 789.1,372.7 800.0,372.7 988.3,372.7 1176.7,372.7 1365.0,372.7 1368.6,372.8 1372.2,373.0 1375.7,373.2 1379.3,373.6 1382.9,374.0 1386.5,374.4 1390.1,374.9 1393.6,375.6 1397.2,376.4 1400.8,377.2 1404.4,378.0 1408.0,379.0 1411.5,380.0 1415.1,381.0 1418.7,382.1 1422.3,383.2 1425.9,384.3 1429.4,385.4 1433.0,386.6 1436.6,387.8 1440.2,389.1 1443.8,390.3 1447.3,391.6 1450.9,392.8 1454.5,394.0 1458.1,395.2 1461.7,396.4 1465.2,397.6 1468.8,398.9 1472.4,400.1 1476.0,401.3 1479.6,402.6 1483.1,403.9 1486.7,405.3 1490.3,406.6 1493.9,407.9 1497.4,409.1 1501.0,410.3 1504.6,411.5 1508.2,412.7 1511.8,413.8 1515.3,414.9 1518.9,415.9 1522.5,417.0 1526.1,418.1 1529.7,419.2 1533.2,420.2 1536.8,421.3 1540.4,422.4 1544.0,423.4 1547.6,424.4 1551.1,425.3 1554.7,426.2 1558.3,427.1 1561.9,428.0 1565.5,428.8 1569.0,429.6 1572.6,430.3 1576.2,431.0 1579.8,431.6 1583.4,432.2 1586.9,432.8 1590.5,433.3 1594.1,433.8 1597.7,434.1 1601.3,434.4 1604.8,434.7 1608.4,435.0 1612.0,435.4 1612.6,435.5 1613.3,435.5 1613.9,435.6 1614.5,435.8 1615.2,435.9 1615.8,436.0 1616.5,436.2 1617.1,436.5 1617.7,436.9 1618.4,437.7 1619.0,438.7 1619.0,438.7 1618.4,439.7 1617.7,440.5 1617.1,440.9 1616.5,441.1 1615.8,441.3 1615.2,441.5 1614.5,441.6 1613.9,441.7 1613.3,441.8 1612.6,441.8 1612.0,441.9 1608.4,442.2 1604.8,442.4 1601.3,442.6 1597.7,442.9 1594.1,443.1 1590.5,443.5 1586.9,444.0 1583.4,444.5 1579.8,445.0 1576.2,445.6 1572.6,446.2 1569.0,446.8 1565.5,447.5 1561.9,448.3 1558.3,449.1 1554.7,449.9 1551.1,450.7 1547.6,451.6 1544.0,452.5 1540.4,453.5 1536.8,454.4 1533.2,455.4 1529.7,456.4 1526.1,457.4 1522.5,458.4 1518.9,459.4 1515.3,460.5 1511.8,461.5 1508.2,462.5 1504.6,463.6 1501.0,464.7 1497.4,465.9 1493.9,467.1 1490.3,468.4 1486.7,469.7 1483.1,471.1 1479.6,472.4 1476.0,473.7 1472.4,474.9 1468.8,476.1 1465.2,477.4 1461.7,478.6 1458.1,479.8 1454.5,481.0 1450.9,482.2 1447.3,483.4 1443.8,484.7 1440.2,485.9 1436.6,487.2 1433.0,488.4 1429.4,489.6 1425.9,490.7 1422.3,491.8 1418.7,492.9 1415.1,494.0 1411.5,495.0 1408.0,496.0 1404.4,497.0 1400.8,497.8 1397.2,498.6 1393.6,499.4 1390.1,500.1 1386.5,500.6 1382.9,501.0 1379.3,501.4 1375.7,501.8 1372.2,502.0 1368.6,502.2 1365.0,502.3 1176.7,502.3 988.3,502.3 800.0,502.3 789.1,502.3 778.2,502.3 767.3,502.3 756.4,502.3 745.5,502.3 734.5,502.2 723.6,501.8 712.7,501.4 701.8,501.1 690.9,500.7 680.0,500.3 675.3,500.2 670.7,499.9 666.2,499.6 661.7,499.3 657.3,498.9 653.0,498.5 648.7,498.2 644.4,497.8 640.3,497.4 636.2,496.9 632.1,496.5 628.2,496.0 624.2,495.5 620.4,495.0 616.6,494.6 612.9,494.2 609.2,493.7 605.6,493.3 602.0,492.8 598.5,492.4 595.1,491.9 591.7,491.5 588.4,491.1 585.2,490.8 582.0,490.4 578.8,490.0 575.8,489.6 572.8,489.2 569.8,488.8 566.9,488.3 564.1,487.9 561.3,487.4 558.6,487.0 555.9,486.5 553.3,486.0 550.7,485.5 548.3,485.0 545.8,484.5 543.4,483.9 541.1,483.4 538.8,482.7 536.6,482.1 534.5,481.4 532.4,480.7 530.3,479.9 528.3,479.1 526.4,478.3 524.5,477.5 522.7,476.6 520.9,475.7 519.2,474.8 517.6,473.9 515.9,473.0 514.4,472.1 512.9,471.3 511.4,470.4 510.0,469.6 508.7,468.7 507.4,467.9 506.1,467.1 504.9,466.2 503.8,465.4 502.7,464.7 501.6,463.9 500.6,463.1 499.7,462.4 498.8,461.6 497.9,460.7 497.1,459.9 496.4,459.0 495.6,458.0 495.0,457.1 494.4,456.0 493.8,455.0 493.2,453.8 492.8,452.5 492.3,451.2 491.9,449.9 491.5,448.6 491.2,447.5 490.9,446.3 490.7,445.1 490.5,443.8 490.3,442.4 490.2,440.7 490.1,439.3 490.0,438.2 490.0,437.7 490.0,437.5Z" fill="#fff"/>
<g stroke="#3c3c46" stroke-width="1.6" fill="none">
<path d="M165,49.5V825.5" stroke-width="2"/>
<path d="M152,50H166"/>
<path d="M152,438H166"/>
<path d="M152,824.6H166"/>
<path d="M166,50H179" stroke-opacity=".6"/>
<path d="M166.5,825V838.5"/>
<path d="M489,825V838.5"/>
<path d="M812,825V838.5"/>
<path d="M1135,825V838.5"/>
<path d="M1458,825V838.5"/>
<path d="M1781,825V838.5"/>
<path d="M2104,825V838.5"/>
</g>
<path d="M166,50.5H2105" stroke="#c9cfd0" stroke-width="1" fill="none"/>
<path d="M2104.5,50V812" stroke="#8a95a0" stroke-width="1.2" fill="none"/>
<path d="M2104.3,812V838.5" stroke="#30303a" stroke-width="1.8" fill="none"/>
<path d="M166,825.5H2104" stroke="#8fd0d6" stroke-width="1" fill="none"/>
<g font-size="47.4" fill="#111" text-anchor="end">
<text x="141.6" y="64.7">−20</text>
<text x="141.6" y="452.6">−50</text>
<text x="141.6" y="841.4">−80</text>
</g>
<g font-size="46" fill="#111" text-anchor="middle">
<text x="168.3" y="876.5">3975</text>
<text x="490" y="876.5">4000</text>
<text x="813" y="876.5">4025</text>
<text x="1136" y="876.5">4050</text>
<text x="1459" y="876.5">4075</text>
<text x="1782" y="876.5">4100</text>
<text x="2105.3" y="876.5">4125</text>
</g>
<text x="1084.4" y="924.5" font-size="47.2" fill="#111"><tspan font-style="italic">X</tspan> (m)</text>
<text transform="translate(51,488) rotate(-90)" font-size="46.3" fill="#111"><tspan font-style="italic">Z</tspan> (m)</text>
<text transform="scale(1,1.045)" y="116.75" font-size="55" fill="#0c0c00"><tspan x="185.5">(<tspan font-style="italic">a</tspan>)</tspan> <tspan x="270.3" letter-spacing="-1">Case</tspan> <tspan x="394.5">1</tspan> <tspan x="441.5" font-style="italic">t</tspan><tspan x="455.3">=1016.62s</tspan></text>
<text x="693.5" y="450" font-size="45.85" fill="#111">the maximum drag force of SUBOFF</text>
<rect x="1606.5" y="776.8" width="443" height="18.6" fill="url(#cb)"/>
<g stroke="#e8f6ff" stroke-width="1.8">
<path d="M1608.6,762V784" stroke-opacity="0.85"/>
<path d="M1657.2,762V784" stroke-opacity="0.85"/>
<path d="M1755.7,762V784" stroke-opacity="0.3"/>
<path d="M1852.4,762V784" stroke-opacity="0.85"/>
<path d="M1950.2,762V784" stroke-opacity="0.25"/>
<path d="M2048.6,762V784" stroke-opacity="0.3"/>
</g>
<g class="s" font-size="28" fill="#d4f0ff" fill-opacity=".8" text-anchor="middle" font-family="Liberation Sans, sans-serif">
<text class="s" x="1606.5" y="749">-50</text>
<text class="s" x="1657" y="749">0</text>
<text class="s" x="1754.8" y="749">100</text>
<text class="s" x="1851.8" y="749">200</text>
<text class="s" x="1949.3" y="749">300</text>
<text class="s" x="2048" y="749">400</text>
</g>
<text x="1832" y="698.5" font-size="54" font-style="italic" fill="#fff" fill-opacity=".92">p<tspan font-size="35" dx="1" dy="11.5">d</tspan></text>
</svg>
</body></html>
